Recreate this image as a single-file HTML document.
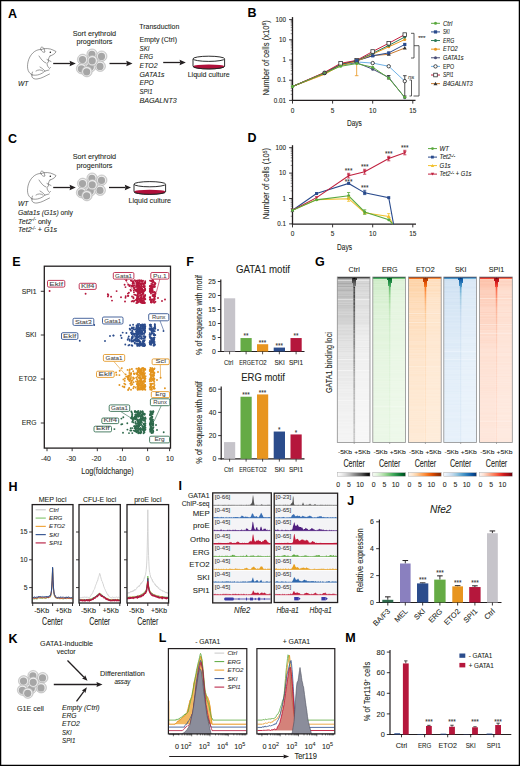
<!DOCTYPE html>
<html><head><meta charset="utf-8"><style>
html,body{margin:0;padding:0;background:#fff;}
svg{display:block;font-family:"Liberation Sans", sans-serif;}
</style></head><body>
<svg width="520" height="766" viewBox="0 0 520 766">
<rect x="0" y="0" width="520" height="766" fill="#fff"/>
<text x="8.00" y="17.50" font-size="12.5" text-anchor="start" fill="#000" font-weight="bold" >A</text>
<path d="M41,49.5 C35,49 29.5,55 28,62 C26.5,69 28.5,73.5 32.5,75 M32.5,72 C30.5,76 32,79.5 37,79 C42,78.5 46,75.5 49.5,74 M32.5,75 C37,76 42,74 45,71 L49,70 M41,49.5 C45,47.8 50,48.5 53,50 L56,51.5 C55.5,53.5 53,55 50,56 M40.5,48.5 C40.5,46.5 43,46.8 44,48.5 L45,52 C43.5,53 42,51.5 41,50 M50,56 C48.5,58 48,60 48.5,62 M47,59.5 L51,61.5 M47.5,62.5 C46.5,64 47,66 49.5,68.5 L50.5,67.5 M39,56 C41,59 43,62 46,63 M40,67 C42,68 44,70 45,71 M36,71 C38,69.5 41,69.5 43,71" fill="none" stroke="#4a4a4a" stroke-width="0.55" stroke-linecap="round" stroke-linejoin="round"/>
<circle cx="50.30" cy="52.20" r="0.75" fill="#111" stroke="none" stroke-width="1" />
<text x="18.00" y="86.00" font-size="7" text-anchor="start" fill="#231f20" stroke="#231f20" stroke-width="0.08" font-style="italic" textLength="10.50" lengthAdjust="spacingAndGlyphs" >WT</text>
<line x1="53.20" y1="63.50" x2="70.10" y2="63.50" stroke="#231f20" stroke-width="1.3" />
<polygon points="75.80,63.50 69.60,66.20 70.20,63.50 69.60,60.80" fill="#231f20"/>
<circle cx="90.50" cy="66.80" r="5.30" fill="#d2d2d2" stroke="#b0b0b0" stroke-width="0.5" />
<circle cx="90.50" cy="66.80" r="4.40" fill="#f2f2f2" stroke="none" stroke-width="1" />
<circle cx="90.30" cy="67.00" r="3.60" fill="#a6a6a6" stroke="none" stroke-width="1" />
<circle cx="92.10" cy="54.20" r="5.30" fill="#d2d2d2" stroke="#b0b0b0" stroke-width="0.5" />
<circle cx="92.10" cy="54.20" r="4.40" fill="#f2f2f2" stroke="none" stroke-width="1" />
<circle cx="91.90" cy="54.40" r="3.60" fill="#a6a6a6" stroke="none" stroke-width="1" />
<circle cx="101.70" cy="56.20" r="5.30" fill="#d2d2d2" stroke="#b0b0b0" stroke-width="0.5" />
<circle cx="101.70" cy="56.20" r="4.40" fill="#f2f2f2" stroke="none" stroke-width="1" />
<circle cx="101.50" cy="56.40" r="3.60" fill="#a6a6a6" stroke="none" stroke-width="1" />
<circle cx="82.70" cy="59.40" r="5.30" fill="#d2d2d2" stroke="#b0b0b0" stroke-width="0.5" />
<circle cx="82.70" cy="59.40" r="4.40" fill="#f2f2f2" stroke="none" stroke-width="1" />
<circle cx="82.50" cy="59.60" r="3.60" fill="#a6a6a6" stroke="none" stroke-width="1" />
<circle cx="100.20" cy="66.20" r="5.30" fill="#d2d2d2" stroke="#b0b0b0" stroke-width="0.5" />
<circle cx="100.20" cy="66.20" r="4.40" fill="#f2f2f2" stroke="none" stroke-width="1" />
<circle cx="100.00" cy="66.40" r="3.60" fill="#a6a6a6" stroke="none" stroke-width="1" />
<circle cx="81.60" cy="68.60" r="5.30" fill="#d2d2d2" stroke="#b0b0b0" stroke-width="0.5" />
<circle cx="81.60" cy="68.60" r="4.40" fill="#f2f2f2" stroke="none" stroke-width="1" />
<circle cx="81.40" cy="68.80" r="3.60" fill="#a6a6a6" stroke="none" stroke-width="1" />
<circle cx="92.40" cy="60.60" r="5.30" fill="#d2d2d2" stroke="#b0b0b0" stroke-width="0.5" />
<circle cx="92.40" cy="60.60" r="4.40" fill="#f2f2f2" stroke="none" stroke-width="1" />
<circle cx="92.20" cy="60.80" r="3.60" fill="#a6a6a6" stroke="none" stroke-width="1" />
<circle cx="86.90" cy="71.60" r="5.30" fill="#d2d2d2" stroke="#b0b0b0" stroke-width="0.5" />
<circle cx="86.90" cy="71.60" r="4.40" fill="#f2f2f2" stroke="none" stroke-width="1" />
<circle cx="86.70" cy="71.80" r="3.60" fill="#a6a6a6" stroke="none" stroke-width="1" />
<text x="94.40" y="35.50" font-size="7.2" text-anchor="middle" fill="#231f20" stroke="#231f20" stroke-width="0.08" textLength="43.50" lengthAdjust="spacingAndGlyphs" >Sort erythroid</text>
<text x="94.40" y="44.00" font-size="7.2" text-anchor="middle" fill="#231f20" stroke="#231f20" stroke-width="0.08" textLength="36.00" lengthAdjust="spacingAndGlyphs" >progenitors</text>
<line x1="109.50" y1="63.50" x2="126.80" y2="63.50" stroke="#231f20" stroke-width="1.3" />
<polygon points="132.50,63.50 126.30,66.20 126.90,63.50 126.30,60.80" fill="#231f20"/>
<text x="139.30" y="28.50" font-size="7.2" text-anchor="start" fill="#231f20" stroke="#231f20" stroke-width="0.08" textLength="40.00" lengthAdjust="spacingAndGlyphs" >Transduction</text>
<text x="139.50" y="41.90" font-size="7.2" text-anchor="start" fill="#231f20" stroke="#231f20" stroke-width="0.08" textLength="37.50" lengthAdjust="spacingAndGlyphs" >Empty (Ctrl)</text>
<text x="139.50" y="50.58" font-size="7.2" text-anchor="start" fill="#231f20" stroke="#231f20" stroke-width="0.08" font-style="italic" textLength="10.00" lengthAdjust="spacingAndGlyphs" >SKI</text>
<text x="139.50" y="59.26" font-size="7.2" text-anchor="start" fill="#231f20" stroke="#231f20" stroke-width="0.08" font-style="italic" textLength="13.50" lengthAdjust="spacingAndGlyphs" >ERG</text>
<text x="139.50" y="67.94" font-size="7.2" text-anchor="start" fill="#231f20" stroke="#231f20" stroke-width="0.08" font-style="italic" textLength="18.00" lengthAdjust="spacingAndGlyphs" >ETO2</text>
<text x="139.50" y="76.62" font-size="7.2" text-anchor="start" fill="#231f20" stroke="#231f20" stroke-width="0.08" font-style="italic" textLength="25.00" lengthAdjust="spacingAndGlyphs" >GATA1s</text>
<text x="139.50" y="85.30" font-size="7.2" text-anchor="start" fill="#231f20" stroke="#231f20" stroke-width="0.08" font-style="italic" textLength="14.20" lengthAdjust="spacingAndGlyphs" >EPO</text>
<text x="139.50" y="93.98" font-size="7.2" text-anchor="start" fill="#231f20" stroke="#231f20" stroke-width="0.08" font-style="italic" textLength="13.00" lengthAdjust="spacingAndGlyphs" >SPI1</text>
<text x="139.50" y="102.66" font-size="7.2" text-anchor="start" fill="#231f20" stroke="#231f20" stroke-width="0.08" font-style="italic" textLength="37.30" lengthAdjust="spacingAndGlyphs" >BAGALNT3</text>
<line x1="163.20" y1="62.50" x2="180.10" y2="62.50" stroke="#231f20" stroke-width="1.3" />
<polygon points="185.80,62.50 179.60,65.20 180.20,62.50 179.60,59.80" fill="#231f20"/>
<path d="M193.0,58.8 L193.0,66.3 A15.8,2.6 0 0 0 224.60000000000002,66.3 L224.60000000000002,58.8 " fill="#fff" stroke="#222" stroke-width="0.95" />
<path d="M193.4,66.3 A15.4,1.9 0 0 1 224.20000000000002,66.3 A15.4,2.6 0 0 1 193.4,66.3 Z" fill="#b0103a" stroke="none" stroke-width="1" />
<path d="M193.0,66.3 A15.8,2.6 0 0 0 224.60000000000002,66.3" fill="none" stroke="#222" stroke-width="0.95" />
<ellipse cx="208.8" cy="58.8" rx="15.8" ry="2.6" fill="#fff" stroke="#222" stroke-width="0.95"/>
<text x="208.70" y="77.40" font-size="7.2" text-anchor="middle" fill="#231f20" stroke="#231f20" stroke-width="0.08" textLength="42.00" lengthAdjust="spacingAndGlyphs" >Liquid culture</text>
<text x="247.50" y="16.60" font-size="12.5" text-anchor="start" fill="#000" font-weight="bold" >B</text>
<line x1="292.50" y1="17.10" x2="292.50" y2="100.40" stroke="#231f20" stroke-width="1.3" />
<line x1="291.85" y1="100.40" x2="415.50" y2="100.40" stroke="#231f20" stroke-width="1.3" />
<line x1="289.10" y1="19.60" x2="292.50" y2="19.60" stroke="#231f20" stroke-width="0.9" />
<text x="286.00" y="21.80" font-size="6.3" text-anchor="end" fill="#231f20" stroke="#231f20" stroke-width="0.08" >100</text>
<line x1="290.70" y1="33.72" x2="292.50" y2="33.72" stroke="#231f20" stroke-width="0.5" />
<line x1="290.70" y1="30.16" x2="292.50" y2="30.16" stroke="#231f20" stroke-width="0.5" />
<line x1="290.70" y1="27.64" x2="292.50" y2="27.64" stroke="#231f20" stroke-width="0.5" />
<line x1="290.70" y1="25.68" x2="292.50" y2="25.68" stroke="#231f20" stroke-width="0.5" />
<line x1="290.70" y1="24.08" x2="292.50" y2="24.08" stroke="#231f20" stroke-width="0.5" />
<line x1="290.70" y1="22.73" x2="292.50" y2="22.73" stroke="#231f20" stroke-width="0.5" />
<line x1="290.70" y1="21.56" x2="292.50" y2="21.56" stroke="#231f20" stroke-width="0.5" />
<line x1="290.70" y1="20.52" x2="292.50" y2="20.52" stroke="#231f20" stroke-width="0.5" />
<line x1="289.10" y1="39.80" x2="292.50" y2="39.80" stroke="#231f20" stroke-width="0.9" />
<text x="286.00" y="42.00" font-size="6.3" text-anchor="end" fill="#231f20" stroke="#231f20" stroke-width="0.08" >10</text>
<line x1="290.70" y1="53.92" x2="292.50" y2="53.92" stroke="#231f20" stroke-width="0.5" />
<line x1="290.70" y1="50.36" x2="292.50" y2="50.36" stroke="#231f20" stroke-width="0.5" />
<line x1="290.70" y1="47.84" x2="292.50" y2="47.84" stroke="#231f20" stroke-width="0.5" />
<line x1="290.70" y1="45.88" x2="292.50" y2="45.88" stroke="#231f20" stroke-width="0.5" />
<line x1="290.70" y1="44.28" x2="292.50" y2="44.28" stroke="#231f20" stroke-width="0.5" />
<line x1="290.70" y1="42.93" x2="292.50" y2="42.93" stroke="#231f20" stroke-width="0.5" />
<line x1="290.70" y1="41.76" x2="292.50" y2="41.76" stroke="#231f20" stroke-width="0.5" />
<line x1="290.70" y1="40.72" x2="292.50" y2="40.72" stroke="#231f20" stroke-width="0.5" />
<line x1="289.10" y1="60.00" x2="292.50" y2="60.00" stroke="#231f20" stroke-width="0.9" />
<text x="286.00" y="62.20" font-size="6.3" text-anchor="end" fill="#231f20" stroke="#231f20" stroke-width="0.08" >1</text>
<line x1="290.70" y1="74.12" x2="292.50" y2="74.12" stroke="#231f20" stroke-width="0.5" />
<line x1="290.70" y1="70.56" x2="292.50" y2="70.56" stroke="#231f20" stroke-width="0.5" />
<line x1="290.70" y1="68.04" x2="292.50" y2="68.04" stroke="#231f20" stroke-width="0.5" />
<line x1="290.70" y1="66.08" x2="292.50" y2="66.08" stroke="#231f20" stroke-width="0.5" />
<line x1="290.70" y1="64.48" x2="292.50" y2="64.48" stroke="#231f20" stroke-width="0.5" />
<line x1="290.70" y1="63.13" x2="292.50" y2="63.13" stroke="#231f20" stroke-width="0.5" />
<line x1="290.70" y1="61.96" x2="292.50" y2="61.96" stroke="#231f20" stroke-width="0.5" />
<line x1="290.70" y1="60.92" x2="292.50" y2="60.92" stroke="#231f20" stroke-width="0.5" />
<line x1="289.10" y1="80.20" x2="292.50" y2="80.20" stroke="#231f20" stroke-width="0.9" />
<text x="286.00" y="82.40" font-size="6.3" text-anchor="end" fill="#231f20" stroke="#231f20" stroke-width="0.08" >0.1</text>
<line x1="290.70" y1="94.32" x2="292.50" y2="94.32" stroke="#231f20" stroke-width="0.5" />
<line x1="290.70" y1="90.76" x2="292.50" y2="90.76" stroke="#231f20" stroke-width="0.5" />
<line x1="290.70" y1="88.24" x2="292.50" y2="88.24" stroke="#231f20" stroke-width="0.5" />
<line x1="290.70" y1="86.28" x2="292.50" y2="86.28" stroke="#231f20" stroke-width="0.5" />
<line x1="290.70" y1="84.68" x2="292.50" y2="84.68" stroke="#231f20" stroke-width="0.5" />
<line x1="290.70" y1="83.33" x2="292.50" y2="83.33" stroke="#231f20" stroke-width="0.5" />
<line x1="290.70" y1="82.16" x2="292.50" y2="82.16" stroke="#231f20" stroke-width="0.5" />
<line x1="290.70" y1="81.12" x2="292.50" y2="81.12" stroke="#231f20" stroke-width="0.5" />
<line x1="289.10" y1="100.40" x2="292.50" y2="100.40" stroke="#231f20" stroke-width="0.9" />
<text x="286.00" y="102.60" font-size="6.3" text-anchor="end" fill="#231f20" stroke="#231f20" stroke-width="0.08" >0.01</text>
<line x1="292.50" y1="100.40" x2="292.50" y2="103.60" stroke="#231f20" stroke-width="0.9" />
<text x="292.50" y="112.60" font-size="6.5" text-anchor="middle" fill="#231f20" stroke="#231f20" stroke-width="0.08" >0</text>
<line x1="332.60" y1="100.40" x2="332.60" y2="103.60" stroke="#231f20" stroke-width="0.9" />
<text x="332.60" y="112.60" font-size="6.5" text-anchor="middle" fill="#231f20" stroke="#231f20" stroke-width="0.08" >5</text>
<line x1="372.70" y1="100.40" x2="372.70" y2="103.60" stroke="#231f20" stroke-width="0.9" />
<text x="372.70" y="112.60" font-size="6.5" text-anchor="middle" fill="#231f20" stroke="#231f20" stroke-width="0.08" >10</text>
<line x1="412.80" y1="100.40" x2="412.80" y2="103.60" stroke="#231f20" stroke-width="0.9" />
<text x="412.80" y="112.60" font-size="6.5" text-anchor="middle" fill="#231f20" stroke="#231f20" stroke-width="0.08" >15</text>
<text x="354.40" y="125.70" font-size="9.2" text-anchor="middle" fill="#231f20" stroke="#231f20" stroke-width="0.08" textLength="15.00" lengthAdjust="spacingAndGlyphs" >Days</text>
<text x="268.70" y="57.90" font-size="9.3" text-anchor="middle" fill="#231f20" stroke="#231f20" stroke-width="0.08" textLength="75.40" lengthAdjust="spacingAndGlyphs" transform="rotate(-90 268.70 57.90)" >Number of cells (x10<tspan dy="-2.8" font-size="5.8">6</tspan><tspan dy="2.8">)</tspan></text>
<line x1="356.66" y1="63.58" x2="356.66" y2="75.70" stroke="#e8961e" stroke-width="0.8" />
<line x1="354.86" y1="75.70" x2="358.46" y2="75.70" stroke="#e8961e" stroke-width="0.8" />
<line x1="404.78" y1="75.70" x2="404.78" y2="96.00" stroke="#222" stroke-width="0.8" />
<line x1="402.98" y1="75.70" x2="406.58" y2="75.70" stroke="#222" stroke-width="0.8" />
<line x1="402.98" y1="96.00" x2="406.58" y2="96.00" stroke="#222" stroke-width="0.8" />
<line x1="386.94" y1="75.50" x2="390.54" y2="75.50" stroke="#222" stroke-width="0.8" />
<line x1="386.94" y1="79.00" x2="390.54" y2="79.00" stroke="#222" stroke-width="0.8" />
<line x1="388.74" y1="75.50" x2="388.74" y2="79.00" stroke="#222" stroke-width="0.8" />
<polyline points="292.50,86.48 324.58,73.48 340.62,64.98 356.66,62.72 372.70,69.16 388.74,77.45 404.78,97.65" fill="none" stroke="#4a4f78" stroke-width="1.0" />
<polyline points="292.50,86.48 324.58,73.09 340.62,64.68 356.66,61.94 372.70,63.08 388.74,66.28 404.78,81.13" fill="none" stroke="#6fb1e6" stroke-width="1.0" />
<polyline points="292.50,86.48 324.58,73.48 340.62,64.68 356.66,60.93 372.70,55.54 388.74,54.34 404.78,48.04" fill="none" stroke="#c97a2e" stroke-width="1.0" />
<polyline points="292.50,86.48 324.58,73.48 340.62,64.68 356.66,60.65 372.70,55.81 388.74,52.89 404.78,44.48" fill="none" stroke="#2a4b8d" stroke-width="1.0" />
<polyline points="292.50,86.48 324.58,74.32 340.62,65.44 356.66,61.12 372.70,54.12 388.74,46.81 404.78,39.57" fill="none" stroke="#e8961e" stroke-width="1.0" />
<polyline points="292.50,86.48 324.58,72.72 340.62,64.39 356.66,60.65 372.70,53.28 388.74,45.41 404.78,37.05" fill="none" stroke="#2d7a58" stroke-width="1.0" />
<polyline points="292.50,86.48 324.58,72.36 340.62,63.33 356.66,60.38 372.70,51.49 388.74,43.26 404.78,34.60" fill="none" stroke="#c3213f" stroke-width="1.0" />
<polyline points="292.50,86.48 324.58,73.09 340.62,66.28 356.66,63.58 372.70,67.21 388.74,78.10 404.78,97.34" fill="none" stroke="#5aa83e" stroke-width="1.0" />
<circle cx="324.58" cy="73.48" r="1.50" fill="#4a4f78" stroke="none" stroke-width="1" />
<circle cx="356.66" cy="62.72" r="1.50" fill="#4a4f78" stroke="none" stroke-width="1" />
<circle cx="372.70" cy="69.16" r="1.50" fill="#4a4f78" stroke="none" stroke-width="1" />
<circle cx="388.74" cy="77.45" r="1.50" fill="#4a4f78" stroke="none" stroke-width="1" />
<circle cx="404.78" cy="97.65" r="1.50" fill="#4a4f78" stroke="none" stroke-width="1" />
<circle cx="356.66" cy="61.94" r="1.70" fill="#fff" stroke="#222" stroke-width="0.8" />
<circle cx="372.70" cy="63.08" r="1.70" fill="#fff" stroke="#222" stroke-width="0.8" />
<circle cx="388.74" cy="66.28" r="1.70" fill="#fff" stroke="#222" stroke-width="0.8" />
<circle cx="404.78" cy="81.13" r="1.70" fill="#fff" stroke="#222" stroke-width="0.8" />
<polygon points="356.66,58.93 358.66,62.43 354.66,62.43" fill="#333"/>
<polygon points="372.70,53.54 374.70,57.04 370.70,57.04" fill="#333"/>
<polygon points="388.74,52.34 390.74,55.84 386.74,55.84" fill="#333"/>
<polygon points="404.78,46.04 406.78,49.54 402.78,49.54" fill="#333"/>
<circle cx="356.66" cy="61.12" r="1.50" fill="#e8961e" stroke="none" stroke-width="1" />
<circle cx="372.70" cy="54.12" r="1.50" fill="#e8961e" stroke="none" stroke-width="1" />
<circle cx="388.74" cy="46.81" r="1.50" fill="#e8961e" stroke="none" stroke-width="1" />
<circle cx="404.78" cy="39.57" r="1.50" fill="#e8961e" stroke="none" stroke-width="1" />
<circle cx="356.66" cy="60.65" r="1.50" fill="#2d7a58" stroke="none" stroke-width="1" />
<circle cx="372.70" cy="53.28" r="1.50" fill="#2d7a58" stroke="none" stroke-width="1" />
<circle cx="388.74" cy="45.41" r="1.50" fill="#2d7a58" stroke="none" stroke-width="1" />
<circle cx="404.78" cy="37.05" r="1.50" fill="#2d7a58" stroke="none" stroke-width="1" />
<rect x="338.82" y="61.53" width="3.60" height="3.60" fill="#fff" stroke="#333" stroke-width="0.8" />
<rect x="354.86" y="58.58" width="3.60" height="3.60" fill="#fff" stroke="#333" stroke-width="0.8" />
<rect x="370.90" y="49.69" width="3.60" height="3.60" fill="#fff" stroke="#333" stroke-width="0.8" />
<rect x="386.94" y="41.46" width="3.60" height="3.60" fill="#fff" stroke="#333" stroke-width="0.8" />
<rect x="402.98" y="32.80" width="3.60" height="3.60" fill="#fff" stroke="#333" stroke-width="0.8" />
<rect x="355.06" y="59.05" width="3.20" height="3.20" fill="#2a4b8d" stroke="none" stroke-width="1" />
<rect x="371.10" y="54.21" width="3.20" height="3.20" fill="#2a4b8d" stroke="none" stroke-width="1" />
<rect x="387.14" y="51.29" width="3.20" height="3.20" fill="#2a4b8d" stroke="none" stroke-width="1" />
<rect x="403.18" y="42.88" width="3.20" height="3.20" fill="#2a4b8d" stroke="none" stroke-width="1" />
<circle cx="292.50" cy="86.48" r="1.50" fill="#5aa83e" stroke="none" stroke-width="1" />
<circle cx="340.62" cy="66.28" r="1.50" fill="#5aa83e" stroke="none" stroke-width="1" />
<circle cx="356.66" cy="63.58" r="1.50" fill="#5aa83e" stroke="none" stroke-width="1" />
<circle cx="372.70" cy="67.21" r="1.50" fill="#5aa83e" stroke="none" stroke-width="1" />
<circle cx="388.74" cy="78.10" r="1.50" fill="#5aa83e" stroke="none" stroke-width="1" />
<circle cx="404.78" cy="97.34" r="1.50" fill="#5aa83e" stroke="none" stroke-width="1" />
<circle cx="292.50" cy="86.48" r="1.50" fill="#5aa83e" stroke="none" stroke-width="1" />
<circle cx="324.58" cy="72.90" r="1.90" fill="#6a6a72" stroke="#222" stroke-width="0.7" />
<circle cx="324.58" cy="72.90" r="1.00" fill="#5aa83e" stroke="none" stroke-width="1" />
<line x1="431.00" y1="23.30" x2="440.00" y2="23.30" stroke="#5aa83e" stroke-width="1.0" />
<circle cx="435.50" cy="23.30" r="1.50" fill="#5aa83e" stroke="none" stroke-width="1" />
<text x="443.00" y="25.60" font-size="6.3" text-anchor="start" fill="#231f20" stroke="#231f20" stroke-width="0.08" font-style="italic" textLength="9.25" lengthAdjust="spacingAndGlyphs" >Ctrl</text>
<line x1="431.00" y1="31.92" x2="440.00" y2="31.92" stroke="#2a4b8d" stroke-width="1.0" />
<rect x="433.90" y="30.32" width="3.20" height="3.20" fill="#2a4b8d" stroke="none" stroke-width="1" />
<text x="443.00" y="34.22" font-size="6.3" text-anchor="start" fill="#231f20" stroke="#231f20" stroke-width="0.08" font-style="italic" textLength="6.75" lengthAdjust="spacingAndGlyphs" >SKI</text>
<line x1="431.00" y1="40.54" x2="440.00" y2="40.54" stroke="#2d7a58" stroke-width="1.0" />
<circle cx="435.50" cy="40.54" r="1.50" fill="#2d7a58" stroke="none" stroke-width="1" />
<text x="443.00" y="42.84" font-size="6.3" text-anchor="start" fill="#231f20" stroke="#231f20" stroke-width="0.08" font-style="italic" textLength="11.25" lengthAdjust="spacingAndGlyphs" >ERG</text>
<line x1="431.00" y1="49.16" x2="440.00" y2="49.16" stroke="#e8961e" stroke-width="1.0" />
<circle cx="435.50" cy="49.16" r="1.50" fill="#e8961e" stroke="none" stroke-width="1" />
<text x="443.00" y="51.46" font-size="6.3" text-anchor="start" fill="#231f20" stroke="#231f20" stroke-width="0.08" font-style="italic" textLength="14.75" lengthAdjust="spacingAndGlyphs" >ETO2</text>
<line x1="431.00" y1="57.78" x2="440.00" y2="57.78" stroke="#4a4f78" stroke-width="1.0" />
<circle cx="435.50" cy="57.78" r="1.50" fill="#4a4f78" stroke="none" stroke-width="1" />
<text x="443.00" y="60.08" font-size="6.3" text-anchor="start" fill="#231f20" stroke="#231f20" stroke-width="0.08" font-style="italic" textLength="20.50" lengthAdjust="spacingAndGlyphs" >GATA1s</text>
<line x1="431.00" y1="66.40" x2="440.00" y2="66.40" stroke="#6fb1e6" stroke-width="1.0" />
<circle cx="435.50" cy="66.40" r="1.70" fill="#fff" stroke="#222" stroke-width="0.8" />
<text x="443.00" y="68.70" font-size="6.3" text-anchor="start" fill="#231f20" stroke="#231f20" stroke-width="0.08" textLength="11.25" lengthAdjust="spacingAndGlyphs" >EPO</text>
<line x1="431.00" y1="75.02" x2="440.00" y2="75.02" stroke="#c3213f" stroke-width="1.0" />
<rect x="433.70" y="73.22" width="3.60" height="3.60" fill="#fff" stroke="#333" stroke-width="0.8" />
<text x="443.00" y="77.32" font-size="6.3" text-anchor="start" fill="#231f20" stroke="#231f20" stroke-width="0.08" font-style="italic" textLength="10.50" lengthAdjust="spacingAndGlyphs" >SPI1</text>
<line x1="431.00" y1="83.64" x2="440.00" y2="83.64" stroke="#c97a2e" stroke-width="1.0" />
<polygon points="435.50,81.64 437.50,85.14 433.50,85.14" fill="#333"/>
<text x="443.00" y="85.94" font-size="6.3" text-anchor="start" fill="#231f20" stroke="#231f20" stroke-width="0.08" font-style="italic" textLength="29.75" lengthAdjust="spacingAndGlyphs" >B4GALNT3</text>
<path d="M411,33.3 L414,33.3 L414,58 L411,58" fill="none" stroke="#333" stroke-width="0.8" />
<path d="M414,45.7 L419,45.7 L419,96 L413.5,96" fill="none" stroke="#333" stroke-width="0.8" />
<path d="M409.5,80 L411.5,80 L411.5,96 L409.5,96" fill="none" stroke="#333" stroke-width="0.8" />
<text x="418.20" y="40.20" font-size="6.2" text-anchor="start" fill="#333" stroke="#333" stroke-width="0.08" >***</text>
<text x="408.00" y="78.60" font-size="6" text-anchor="start" fill="#444" stroke="#444" stroke-width="0.08" font-style="italic" >ns</text>
<text x="8.00" y="142.50" font-size="12.5" text-anchor="start" fill="#000" font-weight="bold" >C</text>
<path d="M41,173.5 C35,173 29.5,179 28,186 C26.5,193 28.5,197.5 32.5,199 M32.5,196 C30.5,200 32,203.5 37,203 C42,202.5 46,199.5 49.5,198 M32.5,199 C37,200 42,198 45,195 L49,194 M41,173.5 C45,171.8 50,172.5 53,174 L56,175.5 C55.5,177.5 53,179 50,180 M40.5,172.5 C40.5,170.5 43,170.8 44,172.5 L45,176 C43.5,177 42,175.5 41,174 M50,180 C48.5,182 48,184 48.5,186 M47,183.5 L51,185.5 M47.5,186.5 C46.5,188 47,190 49.5,192.5 L50.5,191.5 M39,180 C41,183 43,186 46,187 M40,191 C42,192 44,194 45,195 M36,195 C38,193.5 41,193.5 43,195" fill="none" stroke="#4a4a4a" stroke-width="0.55" stroke-linecap="round" stroke-linejoin="round"/>
<circle cx="50.30" cy="176.20" r="0.75" fill="#111" stroke="none" stroke-width="1" />
<line x1="53.20" y1="187.50" x2="70.10" y2="187.50" stroke="#231f20" stroke-width="1.3" />
<polygon points="75.80,187.50 69.60,190.20 70.20,187.50 69.60,184.80" fill="#231f20"/>
<circle cx="90.50" cy="190.80" r="5.30" fill="#d2d2d2" stroke="#b0b0b0" stroke-width="0.5" />
<circle cx="90.50" cy="190.80" r="4.40" fill="#f2f2f2" stroke="none" stroke-width="1" />
<circle cx="90.30" cy="191.00" r="3.60" fill="#a6a6a6" stroke="none" stroke-width="1" />
<circle cx="92.10" cy="178.20" r="5.30" fill="#d2d2d2" stroke="#b0b0b0" stroke-width="0.5" />
<circle cx="92.10" cy="178.20" r="4.40" fill="#f2f2f2" stroke="none" stroke-width="1" />
<circle cx="91.90" cy="178.40" r="3.60" fill="#a6a6a6" stroke="none" stroke-width="1" />
<circle cx="101.70" cy="180.20" r="5.30" fill="#d2d2d2" stroke="#b0b0b0" stroke-width="0.5" />
<circle cx="101.70" cy="180.20" r="4.40" fill="#f2f2f2" stroke="none" stroke-width="1" />
<circle cx="101.50" cy="180.40" r="3.60" fill="#a6a6a6" stroke="none" stroke-width="1" />
<circle cx="82.70" cy="183.40" r="5.30" fill="#d2d2d2" stroke="#b0b0b0" stroke-width="0.5" />
<circle cx="82.70" cy="183.40" r="4.40" fill="#f2f2f2" stroke="none" stroke-width="1" />
<circle cx="82.50" cy="183.60" r="3.60" fill="#a6a6a6" stroke="none" stroke-width="1" />
<circle cx="100.20" cy="190.20" r="5.30" fill="#d2d2d2" stroke="#b0b0b0" stroke-width="0.5" />
<circle cx="100.20" cy="190.20" r="4.40" fill="#f2f2f2" stroke="none" stroke-width="1" />
<circle cx="100.00" cy="190.40" r="3.60" fill="#a6a6a6" stroke="none" stroke-width="1" />
<circle cx="81.60" cy="192.60" r="5.30" fill="#d2d2d2" stroke="#b0b0b0" stroke-width="0.5" />
<circle cx="81.60" cy="192.60" r="4.40" fill="#f2f2f2" stroke="none" stroke-width="1" />
<circle cx="81.40" cy="192.80" r="3.60" fill="#a6a6a6" stroke="none" stroke-width="1" />
<circle cx="92.40" cy="184.60" r="5.30" fill="#d2d2d2" stroke="#b0b0b0" stroke-width="0.5" />
<circle cx="92.40" cy="184.60" r="4.40" fill="#f2f2f2" stroke="none" stroke-width="1" />
<circle cx="92.20" cy="184.80" r="3.60" fill="#a6a6a6" stroke="none" stroke-width="1" />
<circle cx="86.90" cy="195.60" r="5.30" fill="#d2d2d2" stroke="#b0b0b0" stroke-width="0.5" />
<circle cx="86.90" cy="195.60" r="4.40" fill="#f2f2f2" stroke="none" stroke-width="1" />
<circle cx="86.70" cy="195.80" r="3.60" fill="#a6a6a6" stroke="none" stroke-width="1" />
<text x="94.40" y="159.30" font-size="7.2" text-anchor="middle" fill="#231f20" stroke="#231f20" stroke-width="0.08" textLength="43.50" lengthAdjust="spacingAndGlyphs" >Sort erythroid</text>
<text x="94.40" y="167.80" font-size="7.2" text-anchor="middle" fill="#231f20" stroke="#231f20" stroke-width="0.08" textLength="36.00" lengthAdjust="spacingAndGlyphs" >progenitors</text>
<line x1="109.00" y1="187.50" x2="125.30" y2="187.50" stroke="#231f20" stroke-width="1.3" />
<polygon points="131.00,187.50 124.80,190.20 125.40,187.50 124.80,184.80" fill="#231f20"/>
<path d="M134.0,184.2 L134.0,191.7 A15.8,2.6 0 0 0 165.60000000000002,191.7 L165.60000000000002,184.2 " fill="#fff" stroke="#222" stroke-width="0.95" />
<path d="M134.4,191.7 A15.4,1.9 0 0 1 165.20000000000002,191.7 A15.4,2.6 0 0 1 134.4,191.7 Z" fill="#b0103a" stroke="none" stroke-width="1" />
<path d="M134.0,191.7 A15.8,2.6 0 0 0 165.60000000000002,191.7" fill="none" stroke="#222" stroke-width="0.95" />
<ellipse cx="149.8" cy="184.2" rx="15.8" ry="2.6" fill="#fff" stroke="#222" stroke-width="0.95"/>
<text x="149.80" y="203.30" font-size="7.2" text-anchor="middle" fill="#231f20" stroke="#231f20" stroke-width="0.08" textLength="42.50" lengthAdjust="spacingAndGlyphs" >Liquid culture</text>
<text x="18.00" y="205.60" font-size="7.2" text-anchor="start" fill="#231f20" stroke="#231f20" stroke-width="0.08" font-style="italic" textLength="10.50" lengthAdjust="spacingAndGlyphs" >WT</text>
<text x="18.00" y="214.60" font-size="7.2" text-anchor="start" fill="#231f20" stroke="#231f20" stroke-width="0.08" textLength="55.00" lengthAdjust="spacingAndGlyphs" ><tspan font-style="italic">Gata1s (G1s)</tspan> only</text>
<text x="18.00" y="223.80" font-size="7.2" text-anchor="start" fill="#231f20" stroke="#231f20" stroke-width="0.08" textLength="33.00" lengthAdjust="spacingAndGlyphs" ><tspan font-style="italic">Tet2<tspan dy="-2.4" font-size="4.5">-/-</tspan></tspan><tspan dy="2.4"> only</tspan></text>
<text x="18.00" y="232.20" font-size="7.2" text-anchor="start" fill="#231f20" stroke="#231f20" stroke-width="0.08" textLength="39.00" lengthAdjust="spacingAndGlyphs" ><tspan font-style="italic">Tet2<tspan dy="-2.4" font-size="4.5">-/-</tspan></tspan><tspan dy="2.4"> + </tspan><tspan font-style="italic">G1s</tspan></text>
<text x="247.50" y="141.50" font-size="12.5" text-anchor="start" fill="#000" font-weight="bold" >D</text>
<line x1="292.50" y1="145.20" x2="292.50" y2="224.20" stroke="#231f20" stroke-width="1.3" />
<line x1="291.85" y1="224.20" x2="416.00" y2="224.20" stroke="#231f20" stroke-width="1.3" />
<line x1="289.10" y1="147.70" x2="292.50" y2="147.70" stroke="#231f20" stroke-width="0.9" />
<text x="286.00" y="149.90" font-size="6.3" text-anchor="end" fill="#231f20" stroke="#231f20" stroke-width="0.08" >100</text>
<line x1="290.70" y1="165.45" x2="292.50" y2="165.45" stroke="#231f20" stroke-width="0.5" />
<line x1="290.70" y1="160.98" x2="292.50" y2="160.98" stroke="#231f20" stroke-width="0.5" />
<line x1="290.70" y1="157.81" x2="292.50" y2="157.81" stroke="#231f20" stroke-width="0.5" />
<line x1="290.70" y1="155.35" x2="292.50" y2="155.35" stroke="#231f20" stroke-width="0.5" />
<line x1="290.70" y1="153.33" x2="292.50" y2="153.33" stroke="#231f20" stroke-width="0.5" />
<line x1="290.70" y1="151.63" x2="292.50" y2="151.63" stroke="#231f20" stroke-width="0.5" />
<line x1="290.70" y1="150.16" x2="292.50" y2="150.16" stroke="#231f20" stroke-width="0.5" />
<line x1="290.70" y1="148.86" x2="292.50" y2="148.86" stroke="#231f20" stroke-width="0.5" />
<line x1="289.10" y1="173.10" x2="292.50" y2="173.10" stroke="#231f20" stroke-width="0.9" />
<text x="286.00" y="175.30" font-size="6.3" text-anchor="end" fill="#231f20" stroke="#231f20" stroke-width="0.08" >10</text>
<line x1="290.70" y1="190.85" x2="292.50" y2="190.85" stroke="#231f20" stroke-width="0.5" />
<line x1="290.70" y1="186.38" x2="292.50" y2="186.38" stroke="#231f20" stroke-width="0.5" />
<line x1="290.70" y1="183.21" x2="292.50" y2="183.21" stroke="#231f20" stroke-width="0.5" />
<line x1="290.70" y1="180.75" x2="292.50" y2="180.75" stroke="#231f20" stroke-width="0.5" />
<line x1="290.70" y1="178.73" x2="292.50" y2="178.73" stroke="#231f20" stroke-width="0.5" />
<line x1="290.70" y1="177.03" x2="292.50" y2="177.03" stroke="#231f20" stroke-width="0.5" />
<line x1="290.70" y1="175.56" x2="292.50" y2="175.56" stroke="#231f20" stroke-width="0.5" />
<line x1="290.70" y1="174.26" x2="292.50" y2="174.26" stroke="#231f20" stroke-width="0.5" />
<line x1="289.10" y1="198.50" x2="292.50" y2="198.50" stroke="#231f20" stroke-width="0.9" />
<text x="286.00" y="200.70" font-size="6.3" text-anchor="end" fill="#231f20" stroke="#231f20" stroke-width="0.08" >1</text>
<line x1="290.70" y1="216.25" x2="292.50" y2="216.25" stroke="#231f20" stroke-width="0.5" />
<line x1="290.70" y1="211.78" x2="292.50" y2="211.78" stroke="#231f20" stroke-width="0.5" />
<line x1="290.70" y1="208.61" x2="292.50" y2="208.61" stroke="#231f20" stroke-width="0.5" />
<line x1="290.70" y1="206.15" x2="292.50" y2="206.15" stroke="#231f20" stroke-width="0.5" />
<line x1="290.70" y1="204.13" x2="292.50" y2="204.13" stroke="#231f20" stroke-width="0.5" />
<line x1="290.70" y1="202.43" x2="292.50" y2="202.43" stroke="#231f20" stroke-width="0.5" />
<line x1="290.70" y1="200.96" x2="292.50" y2="200.96" stroke="#231f20" stroke-width="0.5" />
<line x1="290.70" y1="199.66" x2="292.50" y2="199.66" stroke="#231f20" stroke-width="0.5" />
<line x1="289.10" y1="223.90" x2="292.50" y2="223.90" stroke="#231f20" stroke-width="0.9" />
<text x="286.00" y="226.10" font-size="6.3" text-anchor="end" fill="#231f20" stroke="#231f20" stroke-width="0.08" >0.1</text>
<line x1="292.50" y1="224.20" x2="292.50" y2="227.40" stroke="#231f20" stroke-width="0.9" />
<text x="292.50" y="236.40" font-size="6.5" text-anchor="middle" fill="#231f20" stroke="#231f20" stroke-width="0.08" >0</text>
<line x1="332.60" y1="224.20" x2="332.60" y2="227.40" stroke="#231f20" stroke-width="0.9" />
<text x="332.60" y="236.40" font-size="6.5" text-anchor="middle" fill="#231f20" stroke="#231f20" stroke-width="0.08" >5</text>
<line x1="372.70" y1="224.20" x2="372.70" y2="227.40" stroke="#231f20" stroke-width="0.9" />
<text x="372.70" y="236.40" font-size="6.5" text-anchor="middle" fill="#231f20" stroke="#231f20" stroke-width="0.08" >10</text>
<line x1="412.80" y1="224.20" x2="412.80" y2="227.40" stroke="#231f20" stroke-width="0.9" />
<text x="412.80" y="236.40" font-size="6.5" text-anchor="middle" fill="#231f20" stroke="#231f20" stroke-width="0.08" >15</text>
<text x="344.60" y="249.80" font-size="9.2" text-anchor="middle" fill="#231f20" stroke="#231f20" stroke-width="0.08" textLength="15.00" lengthAdjust="spacingAndGlyphs" >Days</text>
<text x="269.40" y="183.70" font-size="9.3" text-anchor="middle" fill="#231f20" stroke="#231f20" stroke-width="0.08" textLength="71.30" lengthAdjust="spacingAndGlyphs" transform="rotate(-90 269.40 183.70)" >Number of cells (10<tspan dy="-2.8" font-size="5.8">5</tspan><tspan dy="2.8">)</tspan></text>
<polyline points="292.50,210.28 316.56,199.62 348.64,198.70 364.68,212.74 388.74,216.45 392.75,224.10" fill="none" stroke="#f2c12e" stroke-width="1.1" />
<polygon points="292.50,208.48 294.40,211.68 290.60,211.68" fill="#f2c12e"/>
<polygon points="316.56,197.82 318.46,201.02 314.66,201.02" fill="#f2c12e"/>
<polygon points="348.64,196.90 350.54,200.10 346.74,200.10" fill="#f2c12e"/>
<polygon points="364.68,210.94 366.58,214.14 362.78,214.14" fill="#f2c12e"/>
<polygon points="388.74,214.65 390.64,217.85 386.84,217.85" fill="#f2c12e"/>
<polyline points="292.50,210.28 316.56,193.52 348.64,183.41 364.68,192.85 388.74,197.65 393.55,224.10" fill="none" stroke="#2a4b8d" stroke-width="1.1" />
<rect x="291.00" y="208.78" width="3.00" height="3.00" fill="#2a4b8d" stroke="none" stroke-width="1" />
<rect x="315.06" y="192.02" width="3.00" height="3.00" fill="#2a4b8d" stroke="none" stroke-width="1" />
<rect x="347.14" y="181.91" width="3.00" height="3.00" fill="#2a4b8d" stroke="none" stroke-width="1" />
<rect x="363.18" y="191.35" width="3.00" height="3.00" fill="#2a4b8d" stroke="none" stroke-width="1" />
<rect x="387.24" y="196.15" width="3.00" height="3.00" fill="#2a4b8d" stroke="none" stroke-width="1" />
<polyline points="292.50,210.28 316.56,197.65 348.64,175.76 364.68,171.76 388.74,158.57 404.78,152.65" fill="none" stroke="#c0213f" stroke-width="1.1" />
<polygon points="290.70,208.78 294.30,208.78 292.50,211.88" fill="#c0213f"/>
<polygon points="314.76,196.15 318.36,196.15 316.56,199.25" fill="#c0213f"/>
<polygon points="346.84,174.26 350.44,174.26 348.64,177.36" fill="#c0213f"/>
<polygon points="362.88,170.26 366.48,170.26 364.68,173.36" fill="#c0213f"/>
<polygon points="386.94,157.07 390.54,157.07 388.74,160.17" fill="#c0213f"/>
<polygon points="402.98,151.15 406.58,151.15 404.78,154.25" fill="#c0213f"/>
<polyline points="292.50,210.28 316.56,199.86 348.64,195.81 364.68,211.98 388.74,219.63 392.75,224.10" fill="none" stroke="#5aa83e" stroke-width="1.1" />
<circle cx="292.50" cy="210.28" r="1.50" fill="#5aa83e" stroke="none" stroke-width="1" />
<circle cx="316.56" cy="199.86" r="1.50" fill="#5aa83e" stroke="none" stroke-width="1" />
<circle cx="348.64" cy="195.81" r="1.50" fill="#5aa83e" stroke="none" stroke-width="1" />
<circle cx="364.68" cy="211.98" r="1.50" fill="#5aa83e" stroke="none" stroke-width="1" />
<circle cx="388.74" cy="219.63" r="1.50" fill="#5aa83e" stroke="none" stroke-width="1" />
<line x1="348.64" y1="173.30" x2="348.64" y2="178.00" stroke="#c0213f" stroke-width="0.8" />
<line x1="347.04" y1="173.30" x2="350.24" y2="173.30" stroke="#c0213f" stroke-width="0.8" />
<line x1="347.04" y1="178.00" x2="350.24" y2="178.00" stroke="#c0213f" stroke-width="0.8" />
<line x1="364.68" y1="169.30" x2="364.68" y2="174.20" stroke="#c0213f" stroke-width="0.8" />
<line x1="363.08" y1="169.30" x2="366.28" y2="169.30" stroke="#c0213f" stroke-width="0.8" />
<line x1="363.08" y1="174.20" x2="366.28" y2="174.20" stroke="#c0213f" stroke-width="0.8" />
<line x1="388.74" y1="156.30" x2="388.74" y2="160.80" stroke="#c0213f" stroke-width="0.8" />
<line x1="387.14" y1="156.30" x2="390.34" y2="156.30" stroke="#c0213f" stroke-width="0.8" />
<line x1="387.14" y1="160.80" x2="390.34" y2="160.80" stroke="#c0213f" stroke-width="0.8" />
<line x1="404.78" y1="150.30" x2="404.78" y2="154.80" stroke="#c0213f" stroke-width="0.8" />
<line x1="403.18" y1="150.30" x2="406.38" y2="150.30" stroke="#c0213f" stroke-width="0.8" />
<line x1="403.18" y1="154.80" x2="406.38" y2="154.80" stroke="#c0213f" stroke-width="0.8" />
<line x1="364.68" y1="190.30" x2="364.68" y2="194.60" stroke="#2a4b8d" stroke-width="0.8" />
<line x1="363.08" y1="190.30" x2="366.28" y2="190.30" stroke="#2a4b8d" stroke-width="0.8" />
<line x1="363.08" y1="194.60" x2="366.28" y2="194.60" stroke="#2a4b8d" stroke-width="0.8" />
<line x1="348.64" y1="192.50" x2="348.64" y2="198.00" stroke="#5aa83e" stroke-width="0.8" />
<line x1="347.04" y1="192.50" x2="350.24" y2="192.50" stroke="#5aa83e" stroke-width="0.8" />
<line x1="347.04" y1="198.00" x2="350.24" y2="198.00" stroke="#5aa83e" stroke-width="0.8" />
<line x1="348.64" y1="197.00" x2="348.64" y2="201.30" stroke="#f2c12e" stroke-width="0.8" />
<line x1="347.04" y1="197.00" x2="350.24" y2="197.00" stroke="#f2c12e" stroke-width="0.8" />
<line x1="347.04" y1="201.30" x2="350.24" y2="201.30" stroke="#f2c12e" stroke-width="0.8" />
<line x1="364.68" y1="209.80" x2="364.68" y2="214.30" stroke="#5aa83e" stroke-width="0.8" />
<line x1="363.08" y1="209.80" x2="366.28" y2="209.80" stroke="#5aa83e" stroke-width="0.8" />
<line x1="363.08" y1="214.30" x2="366.28" y2="214.30" stroke="#5aa83e" stroke-width="0.8" />
<line x1="388.74" y1="213.60" x2="388.74" y2="217.50" stroke="#f2c12e" stroke-width="0.8" />
<line x1="387.14" y1="213.60" x2="390.34" y2="213.60" stroke="#f2c12e" stroke-width="0.8" />
<line x1="387.14" y1="217.50" x2="390.34" y2="217.50" stroke="#f2c12e" stroke-width="0.8" />
<text x="348.64" y="173.40" font-size="6.5" text-anchor="middle" fill="#333" stroke="#333" stroke-width="0.08" >***</text>
<text x="364.68" y="169.20" font-size="6.5" text-anchor="middle" fill="#333" stroke="#333" stroke-width="0.08" >***</text>
<text x="388.74" y="155.90" font-size="6.5" text-anchor="middle" fill="#333" stroke="#333" stroke-width="0.08" >***</text>
<text x="404.78" y="149.60" font-size="6.5" text-anchor="middle" fill="#333" stroke="#333" stroke-width="0.08" >***</text>
<text x="348.64" y="183.60" font-size="6.5" text-anchor="middle" fill="#333" stroke="#333" stroke-width="0.08" >***</text>
<text x="364.68" y="190.20" font-size="6.5" text-anchor="middle" fill="#333" stroke="#333" stroke-width="0.08" >***</text>
<line x1="428.00" y1="148.60" x2="437.00" y2="148.60" stroke="#5aa83e" stroke-width="1.0" />
<circle cx="432.50" cy="148.60" r="1.40" fill="#5aa83e" stroke="none" stroke-width="1" />
<text x="439.50" y="150.90" font-size="6.5" text-anchor="start" fill="#231f20" stroke="#231f20" stroke-width="0.08" font-style="italic" textLength="9.50" lengthAdjust="spacingAndGlyphs" >WT</text>
<line x1="428.00" y1="157.10" x2="437.00" y2="157.10" stroke="#2a4b8d" stroke-width="1.0" />
<rect x="431.00" y="155.70" width="2.80" height="2.80" fill="#2a4b8d" stroke="none" stroke-width="1" />
<text x="439.50" y="159.40" font-size="6.5" text-anchor="start" fill="#231f20" stroke="#231f20" stroke-width="0.08" font-style="italic" textLength="15.50" lengthAdjust="spacingAndGlyphs" >Tet2<tspan dy="-2.2" font-size="4.3">-/-</tspan></text>
<line x1="428.00" y1="165.60" x2="437.00" y2="165.60" stroke="#f2c12e" stroke-width="1.0" />
<polygon points="432.5,164.00 434.2,166.90 430.8,166.90" fill="#f2c12e"/>
<text x="439.50" y="167.90" font-size="6.5" text-anchor="start" fill="#231f20" stroke="#231f20" stroke-width="0.08" font-style="italic" textLength="11.00" lengthAdjust="spacingAndGlyphs" >G1s</text>
<line x1="428.00" y1="174.10" x2="437.00" y2="174.10" stroke="#c0213f" stroke-width="1.0" />
<polygon points="430.8,172.70 434.2,172.70 432.5,175.60" fill="#c0213f"/>
<text x="439.50" y="176.40" font-size="6.5" text-anchor="start" fill="#231f20" stroke="#231f20" stroke-width="0.08" font-style="italic" textLength="31.80" lengthAdjust="spacingAndGlyphs" >Tet2<tspan dy="-2.2" font-size="4.3">-/-</tspan><tspan dy="2.2" font-style="normal"> + </tspan>G1s</text>
<text x="12.30" y="266.20" font-size="12.5" text-anchor="start" fill="#000" font-weight="bold" >E</text>
<rect x="44.30" y="266.20" width="126.20" height="181.90" fill="none" stroke="#231f20" stroke-width="1.3" />
<line x1="47.00" y1="448.10" x2="47.00" y2="451.20" stroke="#231f20" stroke-width="0.9" />
<text x="46.00" y="460.80" font-size="6.8" text-anchor="middle" fill="#231f20" stroke="#231f20" stroke-width="0.08" >-40</text>
<line x1="72.15" y1="448.10" x2="72.15" y2="451.20" stroke="#231f20" stroke-width="0.9" />
<text x="71.15" y="460.80" font-size="6.8" text-anchor="middle" fill="#231f20" stroke="#231f20" stroke-width="0.08" >-30</text>
<line x1="97.30" y1="448.10" x2="97.30" y2="451.20" stroke="#231f20" stroke-width="0.9" />
<text x="96.30" y="460.80" font-size="6.8" text-anchor="middle" fill="#231f20" stroke="#231f20" stroke-width="0.08" >-20</text>
<line x1="122.45" y1="448.10" x2="122.45" y2="451.20" stroke="#231f20" stroke-width="0.9" />
<text x="121.45" y="460.80" font-size="6.8" text-anchor="middle" fill="#231f20" stroke="#231f20" stroke-width="0.08" >-10</text>
<line x1="147.60" y1="448.10" x2="147.60" y2="451.20" stroke="#231f20" stroke-width="0.9" />
<text x="147.60" y="460.80" font-size="6.8" text-anchor="middle" fill="#231f20" stroke="#231f20" stroke-width="0.08" >0</text>
<line x1="169.60" y1="448.10" x2="169.60" y2="451.20" stroke="#231f20" stroke-width="0.9" />
<text x="169.90" y="460.80" font-size="6.8" text-anchor="middle" fill="#231f20" stroke="#231f20" stroke-width="0.08" >10</text>
<text x="107.50" y="474.20" font-size="9.6" text-anchor="middle" fill="#231f20" stroke="#231f20" stroke-width="0.08" textLength="52.50" lengthAdjust="spacingAndGlyphs" >Log(foldchange)</text>
<line x1="40.80" y1="291.30" x2="44.30" y2="291.30" stroke="#231f20" stroke-width="0.9" />
<text x="36.50" y="293.70" font-size="6.8" text-anchor="end" fill="#231f20" stroke="#231f20" stroke-width="0.08" >SPI1</text>
<line x1="40.80" y1="335.00" x2="44.30" y2="335.00" stroke="#231f20" stroke-width="0.9" />
<text x="36.50" y="337.40" font-size="6.8" text-anchor="end" fill="#231f20" stroke="#231f20" stroke-width="0.08" >SKI</text>
<line x1="40.80" y1="379.00" x2="44.30" y2="379.00" stroke="#231f20" stroke-width="0.9" />
<text x="36.50" y="381.40" font-size="6.8" text-anchor="end" fill="#231f20" stroke="#231f20" stroke-width="0.08" >ETO2</text>
<line x1="40.80" y1="423.00" x2="44.30" y2="423.00" stroke="#231f20" stroke-width="0.9" />
<text x="36.50" y="425.40" font-size="6.8" text-anchor="end" fill="#231f20" stroke="#231f20" stroke-width="0.08" >ERG</text>
<g fill="#b5173c"><circle cx="139.6" cy="283.6" r="0.95"/><circle cx="142.4" cy="281.8" r="0.95"/><circle cx="141.4" cy="288.5" r="0.95"/><circle cx="137.3" cy="291.8" r="0.95"/><circle cx="137.1" cy="290.1" r="0.95"/><circle cx="137.4" cy="282.2" r="0.95"/><circle cx="140.5" cy="299.2" r="0.95"/><circle cx="137.9" cy="285.3" r="0.95"/><circle cx="142.2" cy="302.0" r="0.95"/><circle cx="141.8" cy="289.3" r="0.95"/><circle cx="145.2" cy="281.2" r="0.95"/><circle cx="144.2" cy="286.8" r="0.95"/><circle cx="138.0" cy="282.8" r="0.95"/><circle cx="139.5" cy="299.0" r="0.95"/><circle cx="138.4" cy="293.5" r="0.95"/><circle cx="142.3" cy="288.7" r="0.95"/><circle cx="141.5" cy="281.6" r="0.95"/><circle cx="137.3" cy="284.9" r="0.95"/><circle cx="142.7" cy="290.0" r="0.95"/><circle cx="139.5" cy="293.6" r="0.95"/><circle cx="140.7" cy="287.0" r="0.95"/><circle cx="143.6" cy="296.2" r="0.95"/><circle cx="138.9" cy="293.4" r="0.95"/><circle cx="141.3" cy="300.3" r="0.95"/><circle cx="143.1" cy="286.8" r="0.95"/><circle cx="145.2" cy="282.8" r="0.95"/><circle cx="140.4" cy="297.6" r="0.95"/><circle cx="138.1" cy="291.4" r="0.95"/><circle cx="137.1" cy="295.5" r="0.95"/><circle cx="143.4" cy="293.3" r="0.95"/><circle cx="144.3" cy="287.3" r="0.95"/><circle cx="142.8" cy="293.8" r="0.95"/><circle cx="141.8" cy="290.6" r="0.95"/><circle cx="144.0" cy="301.9" r="0.95"/><circle cx="140.9" cy="295.4" r="0.95"/><circle cx="137.3" cy="296.3" r="0.95"/><circle cx="142.4" cy="303.0" r="0.95"/><circle cx="143.9" cy="286.7" r="0.95"/><circle cx="140.1" cy="295.5" r="0.95"/><circle cx="137.0" cy="290.8" r="0.95"/><circle cx="138.2" cy="282.8" r="0.95"/><circle cx="137.3" cy="297.8" r="0.95"/><circle cx="137.9" cy="285.8" r="0.95"/><circle cx="140.2" cy="300.2" r="0.95"/><circle cx="137.5" cy="290.5" r="0.95"/><circle cx="141.5" cy="300.5" r="0.95"/><circle cx="143.8" cy="300.1" r="0.95"/><circle cx="139.2" cy="289.7" r="0.95"/><circle cx="139.9" cy="300.5" r="0.95"/><circle cx="145.0" cy="283.6" r="0.95"/><circle cx="138.3" cy="285.5" r="0.95"/><circle cx="138.8" cy="291.3" r="0.95"/><circle cx="141.9" cy="286.2" r="0.95"/><circle cx="136.8" cy="289.8" r="0.95"/><circle cx="140.0" cy="293.2" r="0.95"/><circle cx="145.0" cy="296.1" r="0.95"/><circle cx="141.2" cy="294.4" r="0.95"/><circle cx="142.6" cy="281.3" r="0.95"/><circle cx="144.5" cy="298.1" r="0.95"/><circle cx="144.3" cy="298.5" r="0.95"/><circle cx="140.2" cy="289.3" r="0.95"/><circle cx="137.7" cy="294.8" r="0.95"/><circle cx="137.3" cy="281.7" r="0.95"/><circle cx="138.6" cy="283.8" r="0.95"/><circle cx="139.7" cy="281.3" r="0.95"/><circle cx="136.8" cy="283.6" r="0.95"/><circle cx="137.7" cy="288.5" r="0.95"/><circle cx="137.0" cy="300.3" r="0.95"/><circle cx="142.1" cy="283.5" r="0.95"/><circle cx="139.0" cy="288.1" r="0.95"/><circle cx="139.9" cy="282.9" r="0.95"/><circle cx="144.1" cy="303.0" r="0.95"/><circle cx="140.8" cy="291.3" r="0.95"/><circle cx="137.5" cy="282.5" r="0.95"/><circle cx="139.7" cy="286.2" r="0.95"/><circle cx="143.9" cy="283.8" r="0.95"/><circle cx="137.0" cy="302.1" r="0.95"/><circle cx="141.3" cy="283.5" r="0.95"/><circle cx="141.5" cy="280.7" r="0.95"/><circle cx="141.3" cy="302.7" r="0.95"/><circle cx="144.2" cy="296.2" r="0.95"/><circle cx="139.0" cy="288.6" r="0.95"/><circle cx="138.2" cy="297.9" r="0.95"/><circle cx="141.4" cy="298.1" r="0.95"/><circle cx="139.6" cy="285.3" r="0.95"/><circle cx="143.8" cy="302.9" r="0.95"/><circle cx="144.1" cy="298.7" r="0.95"/><circle cx="143.8" cy="297.2" r="0.95"/><circle cx="138.7" cy="292.1" r="0.95"/><circle cx="139.9" cy="280.8" r="0.95"/><circle cx="137.0" cy="286.6" r="0.95"/><circle cx="139.0" cy="296.1" r="0.95"/><circle cx="145.0" cy="290.4" r="0.95"/><circle cx="144.9" cy="302.9" r="0.95"/><circle cx="145.0" cy="288.5" r="0.95"/><circle cx="138.7" cy="285.3" r="0.95"/><circle cx="138.5" cy="284.8" r="0.95"/><circle cx="142.2" cy="300.9" r="0.95"/><circle cx="144.0" cy="291.2" r="0.95"/><circle cx="142.4" cy="298.6" r="0.95"/><circle cx="137.5" cy="295.4" r="0.95"/><circle cx="144.6" cy="298.2" r="0.95"/><circle cx="143.3" cy="291.1" r="0.95"/><circle cx="138.3" cy="298.3" r="0.95"/><circle cx="139.7" cy="298.6" r="0.95"/><circle cx="145.2" cy="289.2" r="0.95"/><circle cx="140.3" cy="302.0" r="0.95"/><circle cx="143.0" cy="284.0" r="0.95"/><circle cx="137.9" cy="283.6" r="0.95"/><circle cx="144.6" cy="298.7" r="0.95"/><circle cx="138.1" cy="299.2" r="0.95"/><circle cx="145.2" cy="295.3" r="0.95"/><circle cx="139.8" cy="292.8" r="0.95"/><circle cx="137.9" cy="280.4" r="0.95"/><circle cx="145.1" cy="295.1" r="0.95"/><circle cx="141.3" cy="301.7" r="0.95"/><circle cx="140.5" cy="300.2" r="0.95"/><circle cx="143.9" cy="285.0" r="0.95"/><circle cx="139.0" cy="286.9" r="0.95"/><circle cx="138.9" cy="293.6" r="0.95"/><circle cx="139.0" cy="289.8" r="0.95"/><circle cx="137.9" cy="301.1" r="0.95"/><circle cx="139.8" cy="290.7" r="0.95"/><circle cx="141.8" cy="301.0" r="0.95"/><circle cx="140.4" cy="301.3" r="0.95"/><circle cx="141.1" cy="292.4" r="0.95"/><circle cx="141.3" cy="280.5" r="0.95"/><circle cx="140.6" cy="284.3" r="0.95"/><circle cx="136.8" cy="298.6" r="0.95"/><circle cx="138.3" cy="291.0" r="0.95"/><circle cx="143.0" cy="293.0" r="0.95"/><circle cx="139.6" cy="292.1" r="0.95"/><circle cx="141.6" cy="298.2" r="0.95"/><circle cx="137.7" cy="293.0" r="0.95"/><circle cx="138.9" cy="286.5" r="0.95"/><circle cx="143.4" cy="291.8" r="0.95"/><circle cx="141.6" cy="297.7" r="0.95"/><circle cx="144.6" cy="290.3" r="0.95"/><circle cx="142.1" cy="291.8" r="0.95"/><circle cx="141.2" cy="296.1" r="0.95"/><circle cx="140.7" cy="292.4" r="0.95"/><circle cx="140.9" cy="301.8" r="0.95"/><circle cx="142.8" cy="300.3" r="0.95"/><circle cx="144.9" cy="286.1" r="0.95"/><circle cx="141.6" cy="301.9" r="0.95"/><circle cx="144.0" cy="283.3" r="0.95"/><circle cx="137.8" cy="290.3" r="0.95"/><circle cx="137.4" cy="285.7" r="0.95"/><circle cx="137.4" cy="295.6" r="0.95"/><circle cx="143.5" cy="300.8" r="0.95"/><circle cx="138.1" cy="296.6" r="0.95"/><circle cx="142.5" cy="283.4" r="0.95"/><circle cx="144.4" cy="302.5" r="0.95"/><circle cx="138.7" cy="302.1" r="0.95"/><circle cx="140.2" cy="291.4" r="0.95"/><circle cx="145.3" cy="299.3" r="0.95"/><circle cx="138.2" cy="290.1" r="0.95"/><circle cx="141.2" cy="287.9" r="0.95"/><circle cx="138.5" cy="287.5" r="0.95"/><circle cx="143.0" cy="280.6" r="0.95"/><circle cx="141.6" cy="290.3" r="0.95"/><circle cx="137.0" cy="287.8" r="0.95"/><circle cx="142.2" cy="291.9" r="0.95"/><circle cx="137.4" cy="302.9" r="0.95"/><circle cx="143.6" cy="302.5" r="0.95"/><circle cx="137.7" cy="286.2" r="0.95"/><circle cx="137.1" cy="298.1" r="0.95"/><circle cx="139.1" cy="283.1" r="0.95"/><circle cx="140.4" cy="301.2" r="0.95"/><circle cx="143.8" cy="286.1" r="0.95"/><circle cx="138.1" cy="301.3" r="0.95"/><circle cx="141.7" cy="296.3" r="0.95"/><circle cx="137.6" cy="281.4" r="0.95"/><circle cx="142.7" cy="289.9" r="0.95"/><circle cx="137.4" cy="301.8" r="0.95"/><circle cx="142.3" cy="298.6" r="0.95"/><circle cx="137.5" cy="299.9" r="0.95"/><circle cx="137.4" cy="300.0" r="0.95"/><circle cx="140.7" cy="287.9" r="0.95"/><circle cx="141.6" cy="301.5" r="0.95"/><circle cx="139.1" cy="283.1" r="0.95"/><circle cx="141.3" cy="285.6" r="0.95"/><circle cx="137.7" cy="283.8" r="0.95"/><circle cx="137.2" cy="284.8" r="0.95"/><circle cx="139.5" cy="287.1" r="0.95"/><circle cx="143.3" cy="286.8" r="0.95"/><circle cx="141.1" cy="284.2" r="0.95"/><circle cx="139.8" cy="280.5" r="0.95"/><circle cx="139.0" cy="280.5" r="0.95"/><circle cx="143.1" cy="292.8" r="0.95"/><circle cx="138.4" cy="291.1" r="0.95"/><circle cx="144.8" cy="282.6" r="0.95"/><circle cx="143.8" cy="290.1" r="0.95"/><circle cx="141.1" cy="299.4" r="0.95"/><circle cx="140.2" cy="291.8" r="0.95"/><circle cx="142.7" cy="302.8" r="0.95"/><circle cx="139.7" cy="299.3" r="0.95"/><circle cx="142.9" cy="294.8" r="0.95"/><circle cx="140.3" cy="288.1" r="0.95"/><circle cx="137.3" cy="283.1" r="0.95"/><circle cx="150.2" cy="297.2" r="0.95"/><circle cx="151.3" cy="283.9" r="0.95"/><circle cx="150.3" cy="299.5" r="0.95"/><circle cx="154.8" cy="295.6" r="0.95"/><circle cx="151.4" cy="285.7" r="0.95"/><circle cx="151.5" cy="290.7" r="0.95"/><circle cx="150.7" cy="290.4" r="0.95"/><circle cx="151.3" cy="302.3" r="0.95"/><circle cx="155.3" cy="292.7" r="0.95"/><circle cx="151.2" cy="302.4" r="0.95"/><circle cx="151.6" cy="288.3" r="0.95"/><circle cx="149.8" cy="288.9" r="0.95"/><circle cx="152.5" cy="291.7" r="0.95"/><circle cx="150.9" cy="291.8" r="0.95"/><circle cx="149.8" cy="286.2" r="0.95"/><circle cx="150.3" cy="289.3" r="0.95"/><circle cx="150.0" cy="280.6" r="0.95"/><circle cx="151.5" cy="285.5" r="0.95"/><circle cx="153.1" cy="292.3" r="0.95"/><circle cx="154.1" cy="295.3" r="0.95"/><circle cx="153.9" cy="300.4" r="0.95"/><circle cx="152.0" cy="287.6" r="0.95"/><circle cx="155.4" cy="283.6" r="0.95"/><circle cx="153.9" cy="295.0" r="0.95"/><circle cx="150.0" cy="299.4" r="0.95"/><circle cx="154.9" cy="294.6" r="0.95"/><circle cx="154.0" cy="298.9" r="0.95"/><circle cx="150.6" cy="292.2" r="0.95"/><circle cx="152.7" cy="299.4" r="0.95"/><circle cx="154.4" cy="299.2" r="0.95"/><circle cx="153.1" cy="300.7" r="0.95"/><circle cx="153.7" cy="296.1" r="0.95"/><circle cx="151.1" cy="280.8" r="0.95"/><circle cx="150.6" cy="288.4" r="0.95"/><circle cx="150.4" cy="299.4" r="0.95"/><circle cx="153.0" cy="294.6" r="0.95"/><circle cx="153.4" cy="295.8" r="0.95"/><circle cx="152.6" cy="280.2" r="0.95"/><circle cx="154.3" cy="297.4" r="0.95"/><circle cx="152.7" cy="292.5" r="0.95"/><circle cx="153.6" cy="281.6" r="0.95"/><circle cx="154.0" cy="285.9" r="0.95"/><circle cx="150.2" cy="286.2" r="0.95"/><circle cx="154.0" cy="284.8" r="0.95"/><circle cx="154.0" cy="302.6" r="0.95"/><circle cx="152.6" cy="288.9" r="0.95"/><circle cx="152.5" cy="295.9" r="0.95"/><circle cx="154.2" cy="294.4" r="0.95"/><circle cx="153.5" cy="281.9" r="0.95"/><circle cx="150.6" cy="286.0" r="0.95"/><circle cx="154.0" cy="287.1" r="0.95"/><circle cx="153.0" cy="280.4" r="0.95"/><circle cx="150.1" cy="286.3" r="0.95"/><circle cx="153.6" cy="296.1" r="0.95"/><circle cx="153.7" cy="286.8" r="0.95"/><circle cx="152.7" cy="290.8" r="0.95"/><circle cx="152.5" cy="282.8" r="0.95"/><circle cx="154.9" cy="284.7" r="0.95"/><circle cx="155.4" cy="301.7" r="0.95"/><circle cx="149.9" cy="290.7" r="0.95"/><circle cx="154.5" cy="302.5" r="0.95"/><circle cx="152.4" cy="286.3" r="0.95"/><circle cx="151.0" cy="301.9" r="0.95"/><circle cx="151.0" cy="293.5" r="0.95"/><circle cx="150.6" cy="292.2" r="0.95"/><circle cx="155.2" cy="283.2" r="0.95"/><circle cx="154.5" cy="291.9" r="0.95"/><circle cx="154.9" cy="296.3" r="0.95"/><circle cx="151.1" cy="300.8" r="0.95"/><circle cx="152.6" cy="280.7" r="0.95"/><circle cx="149.8" cy="291.5" r="0.95"/><circle cx="152.4" cy="287.1" r="0.95"/><circle cx="150.6" cy="288.0" r="0.95"/><circle cx="151.6" cy="299.5" r="0.95"/><circle cx="149.8" cy="297.4" r="0.95"/><circle cx="154.6" cy="282.9" r="0.95"/><circle cx="155.1" cy="296.6" r="0.95"/><circle cx="154.9" cy="286.8" r="0.95"/><circle cx="151.9" cy="289.2" r="0.95"/><circle cx="155.5" cy="293.7" r="0.95"/><circle cx="151.9" cy="290.0" r="0.95"/><circle cx="151.4" cy="281.2" r="0.95"/><circle cx="150.4" cy="299.4" r="0.95"/><circle cx="151.4" cy="301.7" r="0.95"/><circle cx="151.2" cy="286.2" r="0.95"/><circle cx="152.7" cy="284.5" r="0.95"/><circle cx="151.9" cy="302.2" r="0.95"/><circle cx="154.8" cy="298.9" r="0.95"/><circle cx="153.4" cy="301.2" r="0.95"/><circle cx="155.2" cy="292.8" r="0.95"/><circle cx="135.4" cy="281.2" r="0.95"/><circle cx="135.5" cy="290.5" r="0.95"/><circle cx="135.6" cy="295.0" r="0.95"/><circle cx="133.2" cy="281.2" r="0.95"/><circle cx="136.4" cy="283.0" r="0.95"/><circle cx="134.2" cy="288.0" r="0.95"/><circle cx="133.3" cy="297.2" r="0.95"/><circle cx="136.7" cy="286.1" r="0.95"/><circle cx="135.1" cy="287.0" r="0.95"/><circle cx="134.6" cy="289.2" r="0.95"/><circle cx="132.6" cy="283.8" r="0.95"/><circle cx="132.8" cy="301.0" r="0.95"/><circle cx="134.3" cy="285.2" r="0.95"/><circle cx="136.3" cy="303.1" r="0.95"/><circle cx="134.0" cy="283.3" r="0.95"/><circle cx="132.8" cy="282.2" r="0.95"/><circle cx="133.5" cy="282.2" r="0.95"/><circle cx="133.0" cy="286.1" r="0.95"/><circle cx="134.6" cy="300.6" r="0.95"/><circle cx="135.5" cy="289.6" r="0.95"/><circle cx="133.9" cy="292.2" r="0.95"/><circle cx="133.7" cy="287.9" r="0.95"/><circle cx="132.1" cy="286.5" r="0.95"/><circle cx="136.6" cy="283.0" r="0.95"/><circle cx="134.3" cy="294.6" r="0.95"/><circle cx="136.1" cy="285.1" r="0.95"/><circle cx="133.2" cy="285.8" r="0.95"/><circle cx="133.8" cy="290.4" r="0.95"/><circle cx="136.6" cy="299.7" r="0.95"/><circle cx="136.2" cy="280.6" r="0.95"/><circle cx="132.0" cy="296.5" r="0.95"/><circle cx="136.3" cy="291.0" r="0.95"/><circle cx="134.7" cy="280.1" r="0.95"/><circle cx="133.8" cy="301.5" r="0.95"/><circle cx="135.9" cy="299.9" r="0.95"/><circle cx="136.7" cy="285.8" r="0.95"/><circle cx="132.9" cy="283.7" r="0.95"/><circle cx="127.9" cy="295.9" r="0.95"/><circle cx="111.1" cy="296.8" r="0.95"/><circle cx="125.5" cy="297.8" r="0.95"/><circle cx="128.9" cy="292.8" r="0.95"/><circle cx="133.5" cy="298.2" r="0.95"/><circle cx="131.7" cy="301.4" r="0.95"/><circle cx="125.5" cy="287.1" r="0.95"/><circle cx="132.7" cy="285.9" r="0.95"/><circle cx="125.7" cy="296.2" r="0.95"/><circle cx="132.8" cy="281.7" r="0.95"/><circle cx="127.9" cy="293.6" r="0.95"/><circle cx="129.9" cy="285.3" r="0.95"/><circle cx="126.4" cy="280.3" r="0.95"/><circle cx="130.9" cy="290.7" r="0.95"/><circle cx="108.3" cy="295.0" r="0.95"/><circle cx="116.6" cy="291.1" r="0.95"/><circle cx="131.7" cy="285.8" r="0.95"/><circle cx="107.9" cy="296.4" r="0.95"/><circle cx="130.9" cy="280.6" r="0.95"/><circle cx="128.3" cy="295.7" r="0.95"/><circle cx="129.4" cy="286.0" r="0.95"/><circle cx="125.0" cy="301.5" r="0.95"/><circle cx="131.7" cy="280.9" r="0.95"/><circle cx="130.5" cy="289.8" r="0.95"/><circle cx="124.6" cy="284.7" r="0.95"/><circle cx="121.0" cy="297.2" r="0.95"/><circle cx="128.2" cy="284.8" r="0.95"/><circle cx="49.6" cy="291.0" r="0.95"/><circle cx="85.6" cy="293.8" r="0.95"/><circle cx="107.8" cy="294.3" r="0.95"/><circle cx="112.0" cy="300.6" r="0.95"/><circle cx="158.0" cy="298.0" r="0.95"/><circle cx="162.0" cy="301.0" r="0.95"/><circle cx="165.0" cy="299.5" r="0.95"/></g>
<g fill="#2b4c8c"><circle cx="145.1" cy="330.9" r="0.95"/><circle cx="143.7" cy="329.1" r="0.95"/><circle cx="138.2" cy="340.7" r="0.95"/><circle cx="138.9" cy="344.9" r="0.95"/><circle cx="140.8" cy="328.1" r="0.95"/><circle cx="138.3" cy="333.2" r="0.95"/><circle cx="142.3" cy="344.9" r="0.95"/><circle cx="137.5" cy="332.7" r="0.95"/><circle cx="138.2" cy="345.4" r="0.95"/><circle cx="137.5" cy="325.1" r="0.95"/><circle cx="136.8" cy="332.7" r="0.95"/><circle cx="144.5" cy="343.4" r="0.95"/><circle cx="142.9" cy="345.9" r="0.95"/><circle cx="144.8" cy="331.2" r="0.95"/><circle cx="137.9" cy="344.6" r="0.95"/><circle cx="143.1" cy="324.7" r="0.95"/><circle cx="142.3" cy="332.3" r="0.95"/><circle cx="139.6" cy="331.3" r="0.95"/><circle cx="137.8" cy="324.1" r="0.95"/><circle cx="138.8" cy="331.7" r="0.95"/><circle cx="145.0" cy="326.7" r="0.95"/><circle cx="145.1" cy="328.6" r="0.95"/><circle cx="139.5" cy="342.1" r="0.95"/><circle cx="143.8" cy="333.5" r="0.95"/><circle cx="136.7" cy="334.4" r="0.95"/><circle cx="139.6" cy="344.2" r="0.95"/><circle cx="138.0" cy="332.0" r="0.95"/><circle cx="144.5" cy="324.7" r="0.95"/><circle cx="140.0" cy="341.9" r="0.95"/><circle cx="143.3" cy="324.9" r="0.95"/><circle cx="136.5" cy="325.4" r="0.95"/><circle cx="144.7" cy="329.7" r="0.95"/><circle cx="143.1" cy="343.8" r="0.95"/><circle cx="139.3" cy="330.0" r="0.95"/><circle cx="145.0" cy="337.6" r="0.95"/><circle cx="138.6" cy="339.8" r="0.95"/><circle cx="139.1" cy="330.1" r="0.95"/><circle cx="136.2" cy="340.6" r="0.95"/><circle cx="144.6" cy="337.9" r="0.95"/><circle cx="144.9" cy="324.5" r="0.95"/><circle cx="138.4" cy="334.5" r="0.95"/><circle cx="145.0" cy="345.0" r="0.95"/><circle cx="139.8" cy="329.5" r="0.95"/><circle cx="140.2" cy="334.9" r="0.95"/><circle cx="144.7" cy="328.0" r="0.95"/><circle cx="143.6" cy="340.2" r="0.95"/><circle cx="143.8" cy="341.0" r="0.95"/><circle cx="141.8" cy="331.2" r="0.95"/><circle cx="139.1" cy="332.0" r="0.95"/><circle cx="143.4" cy="325.7" r="0.95"/><circle cx="138.0" cy="340.6" r="0.95"/><circle cx="138.5" cy="325.4" r="0.95"/><circle cx="136.5" cy="336.2" r="0.95"/><circle cx="139.2" cy="345.6" r="0.95"/><circle cx="144.3" cy="345.7" r="0.95"/><circle cx="138.6" cy="325.8" r="0.95"/><circle cx="137.1" cy="335.0" r="0.95"/><circle cx="142.7" cy="333.8" r="0.95"/><circle cx="138.4" cy="333.2" r="0.95"/><circle cx="141.9" cy="338.8" r="0.95"/><circle cx="143.1" cy="342.6" r="0.95"/><circle cx="142.3" cy="326.7" r="0.95"/><circle cx="143.9" cy="330.5" r="0.95"/><circle cx="141.4" cy="332.2" r="0.95"/><circle cx="143.0" cy="328.4" r="0.95"/><circle cx="138.5" cy="329.4" r="0.95"/><circle cx="137.6" cy="343.5" r="0.95"/><circle cx="141.5" cy="331.2" r="0.95"/><circle cx="139.8" cy="345.8" r="0.95"/><circle cx="140.9" cy="329.1" r="0.95"/><circle cx="143.6" cy="338.4" r="0.95"/><circle cx="145.3" cy="326.3" r="0.95"/><circle cx="140.6" cy="342.0" r="0.95"/><circle cx="143.9" cy="344.1" r="0.95"/><circle cx="136.6" cy="330.5" r="0.95"/><circle cx="137.3" cy="328.2" r="0.95"/><circle cx="145.2" cy="336.8" r="0.95"/><circle cx="144.8" cy="332.2" r="0.95"/><circle cx="144.2" cy="333.9" r="0.95"/><circle cx="138.6" cy="341.1" r="0.95"/><circle cx="144.9" cy="326.3" r="0.95"/><circle cx="141.7" cy="337.6" r="0.95"/><circle cx="138.2" cy="332.1" r="0.95"/><circle cx="137.5" cy="328.5" r="0.95"/><circle cx="138.5" cy="337.2" r="0.95"/><circle cx="142.2" cy="328.5" r="0.95"/><circle cx="136.3" cy="331.2" r="0.95"/><circle cx="142.4" cy="328.1" r="0.95"/><circle cx="139.1" cy="328.5" r="0.95"/><circle cx="143.5" cy="336.1" r="0.95"/><circle cx="136.8" cy="326.2" r="0.95"/><circle cx="139.8" cy="336.1" r="0.95"/><circle cx="142.1" cy="326.0" r="0.95"/><circle cx="137.7" cy="339.3" r="0.95"/><circle cx="140.0" cy="330.2" r="0.95"/><circle cx="139.0" cy="345.0" r="0.95"/><circle cx="139.1" cy="336.5" r="0.95"/><circle cx="139.5" cy="333.2" r="0.95"/><circle cx="144.2" cy="345.9" r="0.95"/><circle cx="139.5" cy="328.3" r="0.95"/><circle cx="142.9" cy="328.5" r="0.95"/><circle cx="136.3" cy="343.8" r="0.95"/><circle cx="140.1" cy="342.0" r="0.95"/><circle cx="139.9" cy="343.4" r="0.95"/><circle cx="140.4" cy="327.6" r="0.95"/><circle cx="136.3" cy="336.1" r="0.95"/><circle cx="142.1" cy="344.0" r="0.95"/><circle cx="137.0" cy="337.7" r="0.95"/><circle cx="139.6" cy="335.1" r="0.95"/><circle cx="137.5" cy="330.2" r="0.95"/><circle cx="141.0" cy="344.4" r="0.95"/><circle cx="137.2" cy="334.8" r="0.95"/><circle cx="143.6" cy="345.3" r="0.95"/><circle cx="138.0" cy="326.8" r="0.95"/><circle cx="144.9" cy="345.5" r="0.95"/><circle cx="140.6" cy="325.2" r="0.95"/><circle cx="144.7" cy="332.5" r="0.95"/><circle cx="144.5" cy="337.6" r="0.95"/><circle cx="143.8" cy="327.5" r="0.95"/><circle cx="143.4" cy="328.9" r="0.95"/><circle cx="139.9" cy="342.6" r="0.95"/><circle cx="143.8" cy="328.0" r="0.95"/><circle cx="138.2" cy="332.8" r="0.95"/><circle cx="141.0" cy="332.4" r="0.95"/><circle cx="137.3" cy="329.4" r="0.95"/><circle cx="142.9" cy="343.7" r="0.95"/><circle cx="136.6" cy="336.4" r="0.95"/><circle cx="143.2" cy="324.8" r="0.95"/><circle cx="143.9" cy="326.6" r="0.95"/><circle cx="141.7" cy="336.1" r="0.95"/><circle cx="142.0" cy="330.7" r="0.95"/><circle cx="140.1" cy="336.8" r="0.95"/><circle cx="140.1" cy="338.5" r="0.95"/><circle cx="140.3" cy="333.6" r="0.95"/><circle cx="136.4" cy="337.6" r="0.95"/><circle cx="140.7" cy="329.2" r="0.95"/><circle cx="143.2" cy="341.2" r="0.95"/><circle cx="140.4" cy="328.0" r="0.95"/><circle cx="140.6" cy="326.4" r="0.95"/><circle cx="137.4" cy="333.5" r="0.95"/><circle cx="137.0" cy="333.7" r="0.95"/><circle cx="140.9" cy="324.9" r="0.95"/><circle cx="142.1" cy="325.8" r="0.95"/><circle cx="142.9" cy="341.1" r="0.95"/><circle cx="140.9" cy="325.2" r="0.95"/><circle cx="140.8" cy="332.3" r="0.95"/><circle cx="144.9" cy="327.0" r="0.95"/><circle cx="144.1" cy="345.9" r="0.95"/><circle cx="142.9" cy="341.9" r="0.95"/><circle cx="138.0" cy="345.6" r="0.95"/><circle cx="140.7" cy="345.0" r="0.95"/><circle cx="144.6" cy="327.6" r="0.95"/><circle cx="143.5" cy="344.5" r="0.95"/><circle cx="136.8" cy="331.7" r="0.95"/><circle cx="143.2" cy="327.5" r="0.95"/><circle cx="144.4" cy="330.0" r="0.95"/><circle cx="143.7" cy="327.2" r="0.95"/><circle cx="140.8" cy="344.2" r="0.95"/><circle cx="138.1" cy="329.8" r="0.95"/><circle cx="140.9" cy="331.0" r="0.95"/><circle cx="136.5" cy="328.0" r="0.95"/><circle cx="137.7" cy="344.6" r="0.95"/><circle cx="142.5" cy="343.7" r="0.95"/><circle cx="137.8" cy="341.3" r="0.95"/><circle cx="137.3" cy="335.7" r="0.95"/><circle cx="142.1" cy="331.9" r="0.95"/><circle cx="144.2" cy="336.2" r="0.95"/><circle cx="141.5" cy="343.4" r="0.95"/><circle cx="137.2" cy="345.8" r="0.95"/><circle cx="142.0" cy="332.7" r="0.95"/><circle cx="143.5" cy="329.8" r="0.95"/><circle cx="145.3" cy="336.7" r="0.95"/><circle cx="139.5" cy="340.8" r="0.95"/><circle cx="140.3" cy="327.9" r="0.95"/><circle cx="143.0" cy="325.1" r="0.95"/><circle cx="143.7" cy="329.6" r="0.95"/><circle cx="142.1" cy="345.6" r="0.95"/><circle cx="141.6" cy="338.6" r="0.95"/><circle cx="139.1" cy="324.0" r="0.95"/><circle cx="136.5" cy="327.3" r="0.95"/><circle cx="141.9" cy="333.5" r="0.95"/><circle cx="140.9" cy="343.7" r="0.95"/><circle cx="137.4" cy="329.0" r="0.95"/><circle cx="142.2" cy="324.5" r="0.95"/><circle cx="136.2" cy="331.8" r="0.95"/><circle cx="137.2" cy="331.9" r="0.95"/><circle cx="138.3" cy="336.8" r="0.95"/><circle cx="141.6" cy="328.5" r="0.95"/><circle cx="141.9" cy="334.4" r="0.95"/><circle cx="137.4" cy="344.6" r="0.95"/><circle cx="138.4" cy="327.3" r="0.95"/><circle cx="137.1" cy="338.0" r="0.95"/><circle cx="144.2" cy="341.2" r="0.95"/><circle cx="139.9" cy="329.8" r="0.95"/><circle cx="136.3" cy="338.2" r="0.95"/><circle cx="141.4" cy="331.7" r="0.95"/><circle cx="142.1" cy="333.8" r="0.95"/><circle cx="144.8" cy="340.1" r="0.95"/><circle cx="138.5" cy="343.9" r="0.95"/><circle cx="136.6" cy="335.7" r="0.95"/><circle cx="152.0" cy="329.2" r="0.95"/><circle cx="149.9" cy="341.1" r="0.95"/><circle cx="149.7" cy="336.1" r="0.95"/><circle cx="155.2" cy="327.1" r="0.95"/><circle cx="150.8" cy="337.4" r="0.95"/><circle cx="152.6" cy="338.1" r="0.95"/><circle cx="154.4" cy="327.8" r="0.95"/><circle cx="151.4" cy="330.6" r="0.95"/><circle cx="149.9" cy="343.6" r="0.95"/><circle cx="154.2" cy="339.7" r="0.95"/><circle cx="149.6" cy="342.6" r="0.95"/><circle cx="154.0" cy="334.2" r="0.95"/><circle cx="154.0" cy="334.0" r="0.95"/><circle cx="150.9" cy="326.3" r="0.95"/><circle cx="151.0" cy="324.9" r="0.95"/><circle cx="151.6" cy="340.5" r="0.95"/><circle cx="153.7" cy="342.6" r="0.95"/><circle cx="153.8" cy="329.9" r="0.95"/><circle cx="152.9" cy="333.6" r="0.95"/><circle cx="154.3" cy="335.5" r="0.95"/><circle cx="151.2" cy="338.1" r="0.95"/><circle cx="155.3" cy="328.8" r="0.95"/><circle cx="154.8" cy="324.3" r="0.95"/><circle cx="151.1" cy="329.2" r="0.95"/><circle cx="154.0" cy="344.8" r="0.95"/><circle cx="154.0" cy="331.2" r="0.95"/><circle cx="154.8" cy="331.2" r="0.95"/><circle cx="151.0" cy="344.0" r="0.95"/><circle cx="153.3" cy="339.2" r="0.95"/><circle cx="153.5" cy="345.5" r="0.95"/><circle cx="152.4" cy="342.5" r="0.95"/><circle cx="153.7" cy="342.9" r="0.95"/><circle cx="152.2" cy="339.9" r="0.95"/><circle cx="153.0" cy="330.8" r="0.95"/><circle cx="150.9" cy="337.7" r="0.95"/><circle cx="150.1" cy="344.0" r="0.95"/><circle cx="150.5" cy="324.6" r="0.95"/><circle cx="150.2" cy="344.4" r="0.95"/><circle cx="151.6" cy="327.1" r="0.95"/><circle cx="149.8" cy="324.9" r="0.95"/><circle cx="153.7" cy="337.9" r="0.95"/><circle cx="153.7" cy="340.2" r="0.95"/><circle cx="150.0" cy="337.0" r="0.95"/><circle cx="151.7" cy="342.0" r="0.95"/><circle cx="154.4" cy="343.6" r="0.95"/><circle cx="150.0" cy="343.1" r="0.95"/><circle cx="155.0" cy="344.8" r="0.95"/><circle cx="150.2" cy="328.5" r="0.95"/><circle cx="150.3" cy="324.8" r="0.95"/><circle cx="154.6" cy="341.9" r="0.95"/><circle cx="153.3" cy="342.2" r="0.95"/><circle cx="153.3" cy="330.3" r="0.95"/><circle cx="150.2" cy="326.2" r="0.95"/><circle cx="154.1" cy="328.5" r="0.95"/><circle cx="151.5" cy="333.3" r="0.95"/><circle cx="149.7" cy="329.6" r="0.95"/><circle cx="151.3" cy="339.7" r="0.95"/><circle cx="151.8" cy="331.1" r="0.95"/><circle cx="155.3" cy="335.1" r="0.95"/><circle cx="154.6" cy="337.6" r="0.95"/><circle cx="149.8" cy="333.1" r="0.95"/><circle cx="152.2" cy="341.0" r="0.95"/><circle cx="151.6" cy="339.5" r="0.95"/><circle cx="152.8" cy="328.8" r="0.95"/><circle cx="154.7" cy="326.0" r="0.95"/><circle cx="154.4" cy="327.7" r="0.95"/><circle cx="149.6" cy="328.4" r="0.95"/><circle cx="154.1" cy="345.5" r="0.95"/><circle cx="149.6" cy="334.8" r="0.95"/><circle cx="152.5" cy="341.5" r="0.95"/><circle cx="150.7" cy="334.9" r="0.95"/><circle cx="151.6" cy="342.3" r="0.95"/><circle cx="151.1" cy="344.8" r="0.95"/><circle cx="151.3" cy="328.7" r="0.95"/><circle cx="153.7" cy="335.0" r="0.95"/><circle cx="150.2" cy="338.0" r="0.95"/><circle cx="150.1" cy="341.3" r="0.95"/><circle cx="153.7" cy="341.3" r="0.95"/><circle cx="153.3" cy="331.8" r="0.95"/><circle cx="152.0" cy="332.7" r="0.95"/><circle cx="154.9" cy="325.9" r="0.95"/><circle cx="154.8" cy="324.6" r="0.95"/><circle cx="150.8" cy="329.8" r="0.95"/><circle cx="154.9" cy="335.0" r="0.95"/><circle cx="151.8" cy="343.4" r="0.95"/><circle cx="151.0" cy="334.1" r="0.95"/><circle cx="152.7" cy="340.6" r="0.95"/><circle cx="154.0" cy="338.2" r="0.95"/><circle cx="151.7" cy="331.2" r="0.95"/><circle cx="150.5" cy="342.5" r="0.95"/><circle cx="134.5" cy="340.3" r="0.95"/><circle cx="132.0" cy="333.7" r="0.95"/><circle cx="135.1" cy="336.7" r="0.95"/><circle cx="131.8" cy="334.2" r="0.95"/><circle cx="135.6" cy="329.2" r="0.95"/><circle cx="132.2" cy="330.6" r="0.95"/><circle cx="134.7" cy="342.6" r="0.95"/><circle cx="132.0" cy="327.4" r="0.95"/><circle cx="132.4" cy="331.2" r="0.95"/><circle cx="133.8" cy="327.5" r="0.95"/><circle cx="132.8" cy="328.2" r="0.95"/><circle cx="136.1" cy="340.0" r="0.95"/><circle cx="131.7" cy="345.2" r="0.95"/><circle cx="131.7" cy="332.5" r="0.95"/><circle cx="136.1" cy="341.5" r="0.95"/><circle cx="134.9" cy="333.6" r="0.95"/><circle cx="132.2" cy="338.0" r="0.95"/><circle cx="131.7" cy="328.5" r="0.95"/><circle cx="133.1" cy="324.7" r="0.95"/><circle cx="133.2" cy="341.4" r="0.95"/><circle cx="134.7" cy="335.0" r="0.95"/><circle cx="134.4" cy="334.2" r="0.95"/><circle cx="131.9" cy="337.3" r="0.95"/><circle cx="133.2" cy="340.3" r="0.95"/><circle cx="135.7" cy="333.5" r="0.95"/><circle cx="134.1" cy="340.5" r="0.95"/><circle cx="133.3" cy="329.0" r="0.95"/><circle cx="134.8" cy="343.4" r="0.95"/><circle cx="135.1" cy="339.4" r="0.95"/><circle cx="135.5" cy="339.0" r="0.95"/><circle cx="134.4" cy="334.0" r="0.95"/><circle cx="132.8" cy="337.8" r="0.95"/><circle cx="131.7" cy="333.2" r="0.95"/><circle cx="135.1" cy="339.7" r="0.95"/><circle cx="134.3" cy="329.5" r="0.95"/><circle cx="133.3" cy="334.0" r="0.95"/><circle cx="126.4" cy="333.0" r="0.95"/><circle cx="125.3" cy="344.5" r="0.95"/><circle cx="131.8" cy="338.4" r="0.95"/><circle cx="122.7" cy="332.6" r="0.95"/><circle cx="128.5" cy="345.4" r="0.95"/><circle cx="132.9" cy="336.0" r="0.95"/><circle cx="132.0" cy="341.2" r="0.95"/><circle cx="113.4" cy="335.4" r="0.95"/><circle cx="132.5" cy="336.6" r="0.95"/><circle cx="127.7" cy="339.8" r="0.95"/><circle cx="128.2" cy="338.1" r="0.95"/><circle cx="120.8" cy="335.5" r="0.95"/><circle cx="129.5" cy="344.9" r="0.95"/><circle cx="131.5" cy="339.1" r="0.95"/><circle cx="129.7" cy="340.8" r="0.95"/><circle cx="132.3" cy="345.7" r="0.95"/><circle cx="130.1" cy="325.2" r="0.95"/><circle cx="131.0" cy="332.8" r="0.95"/><circle cx="133.1" cy="333.2" r="0.95"/><circle cx="129.4" cy="339.4" r="0.95"/><circle cx="130.2" cy="329.8" r="0.95"/><circle cx="131.4" cy="340.3" r="0.95"/><circle cx="113.5" cy="335.6" r="0.95"/><circle cx="131.5" cy="341.6" r="0.95"/><circle cx="129.7" cy="328.7" r="0.95"/><circle cx="132.2" cy="341.1" r="0.95"/><circle cx="121.6" cy="338.0" r="0.95"/><circle cx="128.8" cy="336.4" r="0.95"/><circle cx="94.2" cy="325.0" r="0.95"/><circle cx="79.8" cy="340.8" r="0.95"/><circle cx="105.0" cy="341.0" r="0.95"/><circle cx="110.0" cy="336.0" r="0.95"/><circle cx="158.0" cy="330.0" r="0.95"/><circle cx="163.5" cy="331.0" r="0.95"/></g>
<g fill="#e3941d"><circle cx="139.3" cy="389.2" r="0.95"/><circle cx="140.3" cy="382.1" r="0.95"/><circle cx="144.1" cy="386.0" r="0.95"/><circle cx="141.2" cy="374.5" r="0.95"/><circle cx="141.9" cy="370.8" r="0.95"/><circle cx="144.2" cy="375.8" r="0.95"/><circle cx="144.4" cy="373.9" r="0.95"/><circle cx="140.5" cy="373.6" r="0.95"/><circle cx="140.9" cy="372.1" r="0.95"/><circle cx="137.4" cy="383.9" r="0.95"/><circle cx="139.7" cy="373.4" r="0.95"/><circle cx="139.9" cy="378.6" r="0.95"/><circle cx="140.9" cy="382.0" r="0.95"/><circle cx="142.8" cy="376.0" r="0.95"/><circle cx="145.0" cy="386.8" r="0.95"/><circle cx="137.9" cy="386.2" r="0.95"/><circle cx="144.8" cy="385.2" r="0.95"/><circle cx="138.6" cy="386.3" r="0.95"/><circle cx="142.6" cy="368.3" r="0.95"/><circle cx="137.5" cy="388.9" r="0.95"/><circle cx="142.8" cy="373.5" r="0.95"/><circle cx="138.2" cy="371.1" r="0.95"/><circle cx="139.3" cy="385.1" r="0.95"/><circle cx="140.2" cy="371.4" r="0.95"/><circle cx="144.8" cy="385.4" r="0.95"/><circle cx="138.8" cy="387.6" r="0.95"/><circle cx="142.4" cy="385.2" r="0.95"/><circle cx="142.9" cy="387.7" r="0.95"/><circle cx="143.9" cy="386.5" r="0.95"/><circle cx="139.0" cy="383.2" r="0.95"/><circle cx="141.8" cy="384.3" r="0.95"/><circle cx="141.0" cy="387.4" r="0.95"/><circle cx="142.0" cy="373.8" r="0.95"/><circle cx="139.3" cy="371.1" r="0.95"/><circle cx="141.4" cy="369.3" r="0.95"/><circle cx="141.2" cy="371.2" r="0.95"/><circle cx="141.4" cy="379.0" r="0.95"/><circle cx="141.8" cy="387.0" r="0.95"/><circle cx="137.5" cy="386.5" r="0.95"/><circle cx="141.2" cy="380.4" r="0.95"/><circle cx="142.9" cy="386.5" r="0.95"/><circle cx="140.5" cy="377.2" r="0.95"/><circle cx="145.3" cy="369.7" r="0.95"/><circle cx="142.6" cy="382.0" r="0.95"/><circle cx="137.6" cy="381.4" r="0.95"/><circle cx="143.0" cy="388.5" r="0.95"/><circle cx="140.1" cy="389.6" r="0.95"/><circle cx="141.6" cy="378.7" r="0.95"/><circle cx="144.8" cy="368.7" r="0.95"/><circle cx="143.3" cy="381.8" r="0.95"/><circle cx="140.2" cy="387.0" r="0.95"/><circle cx="140.4" cy="378.4" r="0.95"/><circle cx="141.7" cy="385.0" r="0.95"/><circle cx="139.1" cy="377.6" r="0.95"/><circle cx="140.9" cy="380.2" r="0.95"/><circle cx="144.2" cy="374.4" r="0.95"/><circle cx="144.2" cy="376.9" r="0.95"/><circle cx="141.5" cy="374.0" r="0.95"/><circle cx="141.6" cy="389.4" r="0.95"/><circle cx="142.8" cy="385.4" r="0.95"/><circle cx="140.1" cy="375.0" r="0.95"/><circle cx="139.9" cy="380.9" r="0.95"/><circle cx="142.6" cy="385.3" r="0.95"/><circle cx="137.7" cy="383.9" r="0.95"/><circle cx="144.7" cy="380.0" r="0.95"/><circle cx="137.8" cy="374.6" r="0.95"/><circle cx="137.5" cy="372.2" r="0.95"/><circle cx="145.0" cy="381.4" r="0.95"/><circle cx="142.8" cy="385.4" r="0.95"/><circle cx="144.9" cy="381.5" r="0.95"/><circle cx="142.5" cy="381.8" r="0.95"/><circle cx="143.1" cy="381.1" r="0.95"/><circle cx="143.0" cy="372.7" r="0.95"/><circle cx="142.9" cy="378.1" r="0.95"/><circle cx="143.7" cy="370.2" r="0.95"/><circle cx="138.9" cy="368.8" r="0.95"/><circle cx="143.8" cy="388.1" r="0.95"/><circle cx="142.8" cy="376.1" r="0.95"/><circle cx="144.1" cy="385.3" r="0.95"/><circle cx="142.0" cy="373.7" r="0.95"/><circle cx="139.9" cy="377.3" r="0.95"/><circle cx="140.0" cy="377.5" r="0.95"/><circle cx="142.7" cy="388.5" r="0.95"/><circle cx="137.8" cy="380.5" r="0.95"/><circle cx="137.7" cy="370.6" r="0.95"/><circle cx="144.0" cy="380.7" r="0.95"/><circle cx="144.9" cy="377.8" r="0.95"/><circle cx="137.5" cy="376.5" r="0.95"/><circle cx="142.3" cy="388.6" r="0.95"/><circle cx="145.4" cy="378.5" r="0.95"/><circle cx="140.8" cy="370.2" r="0.95"/><circle cx="142.7" cy="372.7" r="0.95"/><circle cx="138.6" cy="368.3" r="0.95"/><circle cx="137.4" cy="383.0" r="0.95"/><circle cx="138.4" cy="389.3" r="0.95"/><circle cx="138.1" cy="387.1" r="0.95"/><circle cx="138.5" cy="368.4" r="0.95"/><circle cx="143.3" cy="373.3" r="0.95"/><circle cx="143.4" cy="372.1" r="0.95"/><circle cx="137.8" cy="385.0" r="0.95"/><circle cx="143.3" cy="386.8" r="0.95"/><circle cx="143.4" cy="369.9" r="0.95"/><circle cx="142.6" cy="383.6" r="0.95"/><circle cx="141.2" cy="388.5" r="0.95"/><circle cx="139.5" cy="389.2" r="0.95"/><circle cx="143.3" cy="368.3" r="0.95"/><circle cx="137.5" cy="382.3" r="0.95"/><circle cx="144.1" cy="369.8" r="0.95"/><circle cx="140.0" cy="384.0" r="0.95"/><circle cx="138.8" cy="386.9" r="0.95"/><circle cx="141.4" cy="369.3" r="0.95"/><circle cx="140.4" cy="380.6" r="0.95"/><circle cx="141.0" cy="382.9" r="0.95"/><circle cx="138.6" cy="385.5" r="0.95"/><circle cx="140.4" cy="382.2" r="0.95"/><circle cx="142.6" cy="377.2" r="0.95"/><circle cx="140.6" cy="385.3" r="0.95"/><circle cx="145.1" cy="385.3" r="0.95"/><circle cx="142.0" cy="374.4" r="0.95"/><circle cx="137.9" cy="389.4" r="0.95"/><circle cx="143.2" cy="386.2" r="0.95"/><circle cx="140.1" cy="381.3" r="0.95"/><circle cx="145.4" cy="386.3" r="0.95"/><circle cx="142.3" cy="374.8" r="0.95"/><circle cx="140.9" cy="387.5" r="0.95"/><circle cx="140.5" cy="383.1" r="0.95"/><circle cx="142.3" cy="387.7" r="0.95"/><circle cx="144.0" cy="374.2" r="0.95"/><circle cx="137.4" cy="373.8" r="0.95"/><circle cx="140.9" cy="380.9" r="0.95"/><circle cx="144.1" cy="387.5" r="0.95"/><circle cx="137.7" cy="386.3" r="0.95"/><circle cx="144.1" cy="387.1" r="0.95"/><circle cx="142.1" cy="374.0" r="0.95"/><circle cx="144.4" cy="385.8" r="0.95"/><circle cx="143.0" cy="388.1" r="0.95"/><circle cx="140.2" cy="369.9" r="0.95"/><circle cx="141.9" cy="385.5" r="0.95"/><circle cx="139.0" cy="384.5" r="0.95"/><circle cx="145.0" cy="373.1" r="0.95"/><circle cx="142.4" cy="382.9" r="0.95"/><circle cx="141.2" cy="372.5" r="0.95"/><circle cx="139.5" cy="384.5" r="0.95"/><circle cx="143.9" cy="378.1" r="0.95"/><circle cx="138.1" cy="385.7" r="0.95"/><circle cx="143.7" cy="373.1" r="0.95"/><circle cx="142.2" cy="387.7" r="0.95"/><circle cx="144.7" cy="379.5" r="0.95"/><circle cx="141.3" cy="381.0" r="0.95"/><circle cx="139.0" cy="372.2" r="0.95"/><circle cx="138.9" cy="383.4" r="0.95"/><circle cx="140.4" cy="380.4" r="0.95"/><circle cx="140.7" cy="379.4" r="0.95"/><circle cx="138.6" cy="369.0" r="0.95"/><circle cx="145.6" cy="376.2" r="0.95"/><circle cx="138.3" cy="381.9" r="0.95"/><circle cx="143.9" cy="371.4" r="0.95"/><circle cx="142.3" cy="375.6" r="0.95"/><circle cx="141.7" cy="368.5" r="0.95"/><circle cx="137.7" cy="389.8" r="0.95"/><circle cx="144.5" cy="378.7" r="0.95"/><circle cx="142.1" cy="373.8" r="0.95"/><circle cx="143.8" cy="377.4" r="0.95"/><circle cx="145.2" cy="384.9" r="0.95"/><circle cx="144.1" cy="389.2" r="0.95"/><circle cx="139.5" cy="368.8" r="0.95"/><circle cx="139.0" cy="372.0" r="0.95"/><circle cx="138.1" cy="369.1" r="0.95"/><circle cx="142.0" cy="387.2" r="0.95"/><circle cx="141.2" cy="388.8" r="0.95"/><circle cx="144.9" cy="369.4" r="0.95"/><circle cx="142.3" cy="376.7" r="0.95"/><circle cx="138.4" cy="389.1" r="0.95"/><circle cx="139.5" cy="380.4" r="0.95"/><circle cx="142.7" cy="389.0" r="0.95"/><circle cx="142.9" cy="376.6" r="0.95"/><circle cx="141.1" cy="371.5" r="0.95"/><circle cx="145.3" cy="389.8" r="0.95"/><circle cx="139.2" cy="368.8" r="0.95"/><circle cx="139.5" cy="375.7" r="0.95"/><circle cx="144.8" cy="387.9" r="0.95"/><circle cx="144.3" cy="369.0" r="0.95"/><circle cx="143.8" cy="383.6" r="0.95"/><circle cx="142.7" cy="389.7" r="0.95"/><circle cx="137.9" cy="371.2" r="0.95"/><circle cx="143.6" cy="388.7" r="0.95"/><circle cx="143.0" cy="374.6" r="0.95"/><circle cx="142.3" cy="384.7" r="0.95"/><circle cx="138.3" cy="375.1" r="0.95"/><circle cx="139.5" cy="370.7" r="0.95"/><circle cx="141.3" cy="371.7" r="0.95"/><circle cx="139.4" cy="371.1" r="0.95"/><circle cx="143.0" cy="368.3" r="0.95"/><circle cx="143.3" cy="372.3" r="0.95"/><circle cx="137.7" cy="388.4" r="0.95"/><circle cx="139.2" cy="388.5" r="0.95"/><circle cx="144.5" cy="387.6" r="0.95"/><circle cx="138.5" cy="377.8" r="0.95"/><circle cx="138.2" cy="388.4" r="0.95"/><circle cx="144.3" cy="381.8" r="0.95"/><circle cx="151.9" cy="375.5" r="0.95"/><circle cx="153.7" cy="378.5" r="0.95"/><circle cx="152.8" cy="371.1" r="0.95"/><circle cx="150.8" cy="369.2" r="0.95"/><circle cx="153.2" cy="380.2" r="0.95"/><circle cx="150.4" cy="387.2" r="0.95"/><circle cx="151.0" cy="377.1" r="0.95"/><circle cx="150.5" cy="374.0" r="0.95"/><circle cx="153.8" cy="375.4" r="0.95"/><circle cx="150.5" cy="378.8" r="0.95"/><circle cx="151.3" cy="387.9" r="0.95"/><circle cx="150.3" cy="389.5" r="0.95"/><circle cx="150.0" cy="387.7" r="0.95"/><circle cx="153.0" cy="372.6" r="0.95"/><circle cx="152.0" cy="374.3" r="0.95"/><circle cx="151.0" cy="372.4" r="0.95"/><circle cx="151.5" cy="389.8" r="0.95"/><circle cx="154.6" cy="388.4" r="0.95"/><circle cx="150.2" cy="374.4" r="0.95"/><circle cx="154.1" cy="369.3" r="0.95"/><circle cx="153.3" cy="374.5" r="0.95"/><circle cx="154.5" cy="368.4" r="0.95"/><circle cx="153.7" cy="375.5" r="0.95"/><circle cx="150.4" cy="368.0" r="0.95"/><circle cx="153.8" cy="379.6" r="0.95"/><circle cx="150.6" cy="377.6" r="0.95"/><circle cx="154.2" cy="372.8" r="0.95"/><circle cx="152.5" cy="371.0" r="0.95"/><circle cx="150.6" cy="384.9" r="0.95"/><circle cx="153.2" cy="372.3" r="0.95"/><circle cx="150.1" cy="369.9" r="0.95"/><circle cx="152.7" cy="378.9" r="0.95"/><circle cx="151.0" cy="372.5" r="0.95"/><circle cx="152.7" cy="383.6" r="0.95"/><circle cx="153.7" cy="380.8" r="0.95"/><circle cx="150.7" cy="369.4" r="0.95"/><circle cx="153.3" cy="377.0" r="0.95"/><circle cx="153.2" cy="369.2" r="0.95"/><circle cx="153.7" cy="375.4" r="0.95"/><circle cx="153.8" cy="387.0" r="0.95"/><circle cx="152.1" cy="368.3" r="0.95"/><circle cx="154.2" cy="378.5" r="0.95"/><circle cx="154.0" cy="373.9" r="0.95"/><circle cx="150.6" cy="386.3" r="0.95"/><circle cx="151.5" cy="371.6" r="0.95"/><circle cx="151.5" cy="381.1" r="0.95"/><circle cx="149.7" cy="379.4" r="0.95"/><circle cx="151.9" cy="379.3" r="0.95"/><circle cx="150.3" cy="383.7" r="0.95"/><circle cx="153.7" cy="387.0" r="0.95"/><circle cx="151.3" cy="383.6" r="0.95"/><circle cx="151.6" cy="384.5" r="0.95"/><circle cx="150.0" cy="387.2" r="0.95"/><circle cx="154.4" cy="378.9" r="0.95"/><circle cx="152.2" cy="379.7" r="0.95"/><circle cx="152.3" cy="368.5" r="0.95"/><circle cx="154.4" cy="372.9" r="0.95"/><circle cx="150.6" cy="370.3" r="0.95"/><circle cx="150.9" cy="386.0" r="0.95"/><circle cx="149.8" cy="370.1" r="0.95"/><circle cx="153.1" cy="372.3" r="0.95"/><circle cx="149.8" cy="381.2" r="0.95"/><circle cx="152.5" cy="379.5" r="0.95"/><circle cx="153.1" cy="370.3" r="0.95"/><circle cx="154.0" cy="383.8" r="0.95"/><circle cx="149.9" cy="370.7" r="0.95"/><circle cx="152.1" cy="379.0" r="0.95"/><circle cx="151.1" cy="370.7" r="0.95"/><circle cx="151.7" cy="371.0" r="0.95"/><circle cx="152.6" cy="386.9" r="0.95"/><circle cx="150.4" cy="380.6" r="0.95"/><circle cx="153.4" cy="371.6" r="0.95"/><circle cx="153.7" cy="388.6" r="0.95"/><circle cx="151.6" cy="377.3" r="0.95"/><circle cx="153.8" cy="379.6" r="0.95"/><circle cx="151.6" cy="388.7" r="0.95"/><circle cx="153.5" cy="375.4" r="0.95"/><circle cx="150.9" cy="375.4" r="0.95"/><circle cx="151.8" cy="389.6" r="0.95"/><circle cx="153.6" cy="388.1" r="0.95"/><circle cx="153.7" cy="386.6" r="0.95"/><circle cx="150.0" cy="379.4" r="0.95"/><circle cx="154.4" cy="388.6" r="0.95"/><circle cx="150.9" cy="377.3" r="0.95"/><circle cx="152.8" cy="376.0" r="0.95"/><circle cx="152.3" cy="369.5" r="0.95"/><circle cx="151.8" cy="379.1" r="0.95"/><circle cx="149.8" cy="371.1" r="0.95"/><circle cx="154.5" cy="385.1" r="0.95"/><circle cx="154.3" cy="381.9" r="0.95"/><circle cx="135.7" cy="387.5" r="0.95"/><circle cx="136.4" cy="368.8" r="0.95"/><circle cx="134.2" cy="373.8" r="0.95"/><circle cx="134.5" cy="374.0" r="0.95"/><circle cx="133.3" cy="388.3" r="0.95"/><circle cx="134.0" cy="373.5" r="0.95"/><circle cx="133.1" cy="377.5" r="0.95"/><circle cx="137.0" cy="374.3" r="0.95"/><circle cx="131.1" cy="382.2" r="0.95"/><circle cx="129.5" cy="381.1" r="0.95"/><circle cx="137.0" cy="379.3" r="0.95"/><circle cx="130.8" cy="378.3" r="0.95"/><circle cx="133.2" cy="371.3" r="0.95"/><circle cx="129.5" cy="370.9" r="0.95"/><circle cx="131.0" cy="376.9" r="0.95"/><circle cx="131.0" cy="373.4" r="0.95"/><circle cx="129.2" cy="380.0" r="0.95"/><circle cx="136.0" cy="381.4" r="0.95"/><circle cx="133.5" cy="382.3" r="0.95"/><circle cx="130.2" cy="383.6" r="0.95"/><circle cx="132.5" cy="380.1" r="0.95"/><circle cx="133.9" cy="378.3" r="0.95"/><circle cx="131.2" cy="373.3" r="0.95"/><circle cx="130.4" cy="379.3" r="0.95"/><circle cx="131.8" cy="380.9" r="0.95"/><circle cx="128.5" cy="375.8" r="0.95"/><circle cx="136.2" cy="373.2" r="0.95"/><circle cx="133.4" cy="378.8" r="0.95"/><circle cx="131.0" cy="389.7" r="0.95"/><circle cx="131.1" cy="385.0" r="0.95"/><circle cx="129.8" cy="369.5" r="0.95"/><circle cx="136.2" cy="377.7" r="0.95"/><circle cx="129.0" cy="376.5" r="0.95"/><circle cx="132.4" cy="384.2" r="0.95"/><circle cx="129.4" cy="373.0" r="0.95"/><circle cx="137.0" cy="384.3" r="0.95"/><circle cx="129.8" cy="375.4" r="0.95"/><circle cx="131.6" cy="382.9" r="0.95"/><circle cx="133.9" cy="386.7" r="0.95"/><circle cx="123.4" cy="379.4" r="0.95"/><circle cx="125.3" cy="384.4" r="0.95"/><circle cx="124.9" cy="378.5" r="0.95"/><circle cx="124.3" cy="383.6" r="0.95"/><circle cx="119.7" cy="370.8" r="0.95"/><circle cx="121.8" cy="368.1" r="0.95"/><circle cx="124.7" cy="380.9" r="0.95"/><circle cx="128.6" cy="389.2" r="0.95"/><circle cx="127.8" cy="377.2" r="0.95"/><circle cx="124.3" cy="387.2" r="0.95"/><circle cx="127.3" cy="376.4" r="0.95"/><circle cx="129.0" cy="378.1" r="0.95"/><circle cx="125.6" cy="374.4" r="0.95"/><circle cx="129.5" cy="380.2" r="0.95"/><circle cx="129.6" cy="375.1" r="0.95"/><circle cx="124.3" cy="386.7" r="0.95"/><circle cx="128.5" cy="377.8" r="0.95"/><circle cx="131.0" cy="374.7" r="0.95"/><circle cx="131.2" cy="380.7" r="0.95"/><circle cx="127.6" cy="369.9" r="0.95"/><circle cx="119.4" cy="375.1" r="0.95"/><circle cx="122.7" cy="386.4" r="0.95"/><circle cx="116.1" cy="372.5" r="0.95"/><circle cx="129.2" cy="388.0" r="0.95"/><circle cx="131.9" cy="369.0" r="0.95"/><circle cx="127.8" cy="378.9" r="0.95"/><circle cx="119.4" cy="385.0" r="0.95"/><circle cx="128.1" cy="390.0" r="0.95"/><circle cx="128.4" cy="379.4" r="0.95"/><circle cx="126.2" cy="376.6" r="0.95"/><circle cx="116.5" cy="374.9" r="0.95"/><circle cx="164.9" cy="388.3" r="0.95"/><circle cx="157.0" cy="380.0" r="0.95"/><circle cx="158.0" cy="372.0" r="0.95"/><circle cx="160.6" cy="377.7" r="0.95"/></g>
<g fill="#2e6a4c"><circle cx="138.3" cy="424.3" r="0.95"/><circle cx="138.3" cy="432.2" r="0.95"/><circle cx="141.9" cy="422.8" r="0.95"/><circle cx="135.4" cy="419.4" r="0.95"/><circle cx="138.8" cy="423.6" r="0.95"/><circle cx="140.8" cy="430.7" r="0.95"/><circle cx="145.2" cy="421.9" r="0.95"/><circle cx="139.3" cy="425.0" r="0.95"/><circle cx="145.6" cy="418.7" r="0.95"/><circle cx="140.3" cy="429.3" r="0.95"/><circle cx="136.2" cy="418.1" r="0.95"/><circle cx="145.4" cy="429.5" r="0.95"/><circle cx="140.1" cy="413.5" r="0.95"/><circle cx="144.4" cy="426.5" r="0.95"/><circle cx="143.6" cy="433.2" r="0.95"/><circle cx="144.3" cy="420.4" r="0.95"/><circle cx="136.1" cy="417.5" r="0.95"/><circle cx="140.1" cy="422.3" r="0.95"/><circle cx="136.4" cy="415.1" r="0.95"/><circle cx="141.4" cy="424.5" r="0.95"/><circle cx="138.3" cy="433.3" r="0.95"/><circle cx="141.5" cy="411.9" r="0.95"/><circle cx="138.9" cy="428.6" r="0.95"/><circle cx="137.8" cy="426.5" r="0.95"/><circle cx="134.3" cy="417.8" r="0.95"/><circle cx="143.8" cy="424.1" r="0.95"/><circle cx="141.8" cy="415.4" r="0.95"/><circle cx="139.9" cy="423.4" r="0.95"/><circle cx="137.3" cy="425.5" r="0.95"/><circle cx="140.3" cy="433.3" r="0.95"/><circle cx="140.8" cy="420.2" r="0.95"/><circle cx="135.7" cy="414.5" r="0.95"/><circle cx="142.9" cy="413.4" r="0.95"/><circle cx="135.4" cy="414.8" r="0.95"/><circle cx="140.2" cy="429.4" r="0.95"/><circle cx="141.2" cy="429.1" r="0.95"/><circle cx="135.0" cy="411.3" r="0.95"/><circle cx="143.0" cy="418.2" r="0.95"/><circle cx="142.4" cy="418.9" r="0.95"/><circle cx="136.2" cy="417.0" r="0.95"/><circle cx="135.4" cy="431.2" r="0.95"/><circle cx="140.9" cy="418.8" r="0.95"/><circle cx="139.4" cy="419.6" r="0.95"/><circle cx="134.9" cy="430.9" r="0.95"/><circle cx="140.9" cy="432.5" r="0.95"/><circle cx="139.3" cy="424.9" r="0.95"/><circle cx="137.1" cy="412.0" r="0.95"/><circle cx="144.8" cy="430.1" r="0.95"/><circle cx="137.9" cy="431.1" r="0.95"/><circle cx="143.5" cy="417.8" r="0.95"/><circle cx="141.1" cy="432.5" r="0.95"/><circle cx="139.9" cy="432.3" r="0.95"/><circle cx="137.0" cy="419.7" r="0.95"/><circle cx="142.4" cy="416.0" r="0.95"/><circle cx="137.8" cy="430.6" r="0.95"/><circle cx="139.8" cy="428.8" r="0.95"/><circle cx="137.1" cy="414.9" r="0.95"/><circle cx="138.3" cy="415.2" r="0.95"/><circle cx="145.3" cy="417.5" r="0.95"/><circle cx="140.6" cy="413.6" r="0.95"/><circle cx="140.3" cy="419.6" r="0.95"/><circle cx="138.9" cy="412.5" r="0.95"/><circle cx="135.7" cy="429.5" r="0.95"/><circle cx="138.3" cy="416.5" r="0.95"/><circle cx="136.5" cy="417.4" r="0.95"/><circle cx="137.0" cy="411.8" r="0.95"/><circle cx="141.8" cy="418.6" r="0.95"/><circle cx="136.1" cy="426.8" r="0.95"/><circle cx="135.3" cy="417.0" r="0.95"/><circle cx="143.7" cy="413.9" r="0.95"/><circle cx="139.3" cy="429.7" r="0.95"/><circle cx="143.4" cy="414.6" r="0.95"/><circle cx="138.3" cy="427.2" r="0.95"/><circle cx="138.6" cy="432.5" r="0.95"/><circle cx="136.7" cy="432.3" r="0.95"/><circle cx="140.0" cy="416.1" r="0.95"/><circle cx="139.4" cy="413.9" r="0.95"/><circle cx="142.3" cy="416.8" r="0.95"/><circle cx="144.5" cy="424.2" r="0.95"/><circle cx="138.5" cy="416.5" r="0.95"/><circle cx="141.2" cy="415.8" r="0.95"/><circle cx="144.2" cy="413.8" r="0.95"/><circle cx="140.1" cy="423.2" r="0.95"/><circle cx="137.4" cy="428.3" r="0.95"/><circle cx="138.6" cy="425.7" r="0.95"/><circle cx="140.7" cy="418.0" r="0.95"/><circle cx="138.7" cy="412.9" r="0.95"/><circle cx="136.3" cy="430.1" r="0.95"/><circle cx="137.9" cy="425.8" r="0.95"/><circle cx="135.5" cy="423.6" r="0.95"/><circle cx="138.4" cy="422.2" r="0.95"/><circle cx="137.7" cy="412.5" r="0.95"/><circle cx="137.8" cy="416.1" r="0.95"/><circle cx="135.7" cy="427.1" r="0.95"/><circle cx="137.5" cy="420.0" r="0.95"/><circle cx="144.6" cy="428.4" r="0.95"/><circle cx="144.3" cy="430.3" r="0.95"/><circle cx="135.8" cy="417.2" r="0.95"/><circle cx="134.6" cy="426.2" r="0.95"/><circle cx="141.8" cy="418.9" r="0.95"/><circle cx="139.0" cy="425.8" r="0.95"/><circle cx="142.2" cy="416.6" r="0.95"/><circle cx="143.9" cy="418.9" r="0.95"/><circle cx="141.4" cy="415.1" r="0.95"/><circle cx="135.6" cy="431.4" r="0.95"/><circle cx="142.6" cy="427.0" r="0.95"/><circle cx="134.8" cy="411.9" r="0.95"/><circle cx="136.1" cy="415.4" r="0.95"/><circle cx="137.7" cy="419.5" r="0.95"/><circle cx="134.7" cy="418.0" r="0.95"/><circle cx="141.5" cy="415.0" r="0.95"/><circle cx="143.8" cy="423.8" r="0.95"/><circle cx="142.4" cy="416.7" r="0.95"/><circle cx="139.2" cy="426.3" r="0.95"/><circle cx="138.2" cy="411.0" r="0.95"/><circle cx="143.7" cy="428.4" r="0.95"/><circle cx="137.5" cy="412.0" r="0.95"/><circle cx="144.0" cy="424.6" r="0.95"/><circle cx="134.8" cy="416.5" r="0.95"/><circle cx="135.6" cy="428.7" r="0.95"/><circle cx="136.7" cy="431.5" r="0.95"/><circle cx="142.8" cy="412.9" r="0.95"/><circle cx="142.1" cy="419.8" r="0.95"/><circle cx="142.7" cy="429.6" r="0.95"/><circle cx="137.5" cy="413.0" r="0.95"/><circle cx="145.0" cy="420.5" r="0.95"/><circle cx="144.8" cy="426.5" r="0.95"/><circle cx="142.6" cy="429.6" r="0.95"/><circle cx="141.4" cy="421.1" r="0.95"/><circle cx="134.9" cy="426.6" r="0.95"/><circle cx="139.1" cy="422.5" r="0.95"/><circle cx="144.8" cy="413.9" r="0.95"/><circle cx="142.9" cy="412.0" r="0.95"/><circle cx="142.2" cy="429.0" r="0.95"/><circle cx="137.3" cy="423.2" r="0.95"/><circle cx="145.3" cy="425.3" r="0.95"/><circle cx="140.4" cy="416.6" r="0.95"/><circle cx="135.0" cy="419.0" r="0.95"/><circle cx="139.0" cy="415.5" r="0.95"/><circle cx="137.8" cy="414.1" r="0.95"/><circle cx="142.3" cy="426.0" r="0.95"/><circle cx="137.0" cy="416.4" r="0.95"/><circle cx="140.1" cy="421.0" r="0.95"/><circle cx="144.9" cy="418.9" r="0.95"/><circle cx="137.7" cy="430.8" r="0.95"/><circle cx="135.9" cy="423.6" r="0.95"/><circle cx="138.1" cy="429.3" r="0.95"/><circle cx="140.5" cy="428.0" r="0.95"/><circle cx="136.2" cy="425.9" r="0.95"/><circle cx="141.1" cy="421.3" r="0.95"/><circle cx="143.0" cy="429.6" r="0.95"/><circle cx="135.6" cy="417.5" r="0.95"/><circle cx="138.4" cy="415.6" r="0.95"/><circle cx="135.0" cy="417.3" r="0.95"/><circle cx="136.5" cy="426.7" r="0.95"/><circle cx="139.4" cy="413.5" r="0.95"/><circle cx="138.0" cy="421.5" r="0.95"/><circle cx="138.4" cy="414.8" r="0.95"/><circle cx="135.1" cy="411.2" r="0.95"/><circle cx="145.5" cy="427.8" r="0.95"/><circle cx="135.2" cy="427.1" r="0.95"/><circle cx="145.4" cy="423.6" r="0.95"/><circle cx="135.5" cy="422.0" r="0.95"/><circle cx="139.2" cy="415.3" r="0.95"/><circle cx="140.4" cy="411.2" r="0.95"/><circle cx="144.7" cy="425.4" r="0.95"/><circle cx="141.4" cy="431.9" r="0.95"/><circle cx="141.7" cy="416.6" r="0.95"/><circle cx="137.1" cy="414.1" r="0.95"/><circle cx="134.6" cy="428.3" r="0.95"/><circle cx="143.8" cy="417.6" r="0.95"/><circle cx="136.4" cy="425.3" r="0.95"/><circle cx="143.9" cy="431.8" r="0.95"/><circle cx="136.2" cy="428.6" r="0.95"/><circle cx="143.7" cy="427.6" r="0.95"/><circle cx="138.0" cy="415.1" r="0.95"/><circle cx="143.6" cy="418.2" r="0.95"/><circle cx="138.5" cy="423.3" r="0.95"/><circle cx="138.5" cy="429.6" r="0.95"/><circle cx="137.0" cy="411.9" r="0.95"/><circle cx="140.7" cy="425.1" r="0.95"/><circle cx="143.6" cy="426.8" r="0.95"/><circle cx="144.5" cy="432.2" r="0.95"/><circle cx="139.9" cy="422.2" r="0.95"/><circle cx="136.1" cy="417.7" r="0.95"/><circle cx="140.9" cy="412.8" r="0.95"/><circle cx="142.1" cy="414.7" r="0.95"/><circle cx="139.3" cy="432.7" r="0.95"/><circle cx="135.3" cy="411.9" r="0.95"/><circle cx="139.3" cy="415.3" r="0.95"/><circle cx="142.5" cy="411.1" r="0.95"/><circle cx="143.8" cy="430.2" r="0.95"/><circle cx="143.2" cy="420.5" r="0.95"/><circle cx="137.5" cy="425.8" r="0.95"/><circle cx="140.1" cy="420.4" r="0.95"/><circle cx="138.1" cy="420.8" r="0.95"/><circle cx="141.8" cy="429.5" r="0.95"/><circle cx="144.5" cy="414.7" r="0.95"/><circle cx="137.6" cy="420.9" r="0.95"/><circle cx="140.7" cy="418.8" r="0.95"/><circle cx="150.6" cy="412.9" r="0.95"/><circle cx="151.0" cy="421.3" r="0.95"/><circle cx="153.3" cy="431.4" r="0.95"/><circle cx="152.9" cy="432.8" r="0.95"/><circle cx="153.3" cy="424.9" r="0.95"/><circle cx="152.7" cy="412.3" r="0.95"/><circle cx="152.3" cy="424.6" r="0.95"/><circle cx="150.9" cy="423.8" r="0.95"/><circle cx="153.2" cy="421.8" r="0.95"/><circle cx="152.2" cy="417.7" r="0.95"/><circle cx="151.1" cy="430.8" r="0.95"/><circle cx="150.0" cy="415.2" r="0.95"/><circle cx="152.3" cy="421.0" r="0.95"/><circle cx="150.2" cy="425.8" r="0.95"/><circle cx="151.2" cy="424.0" r="0.95"/><circle cx="151.4" cy="422.9" r="0.95"/><circle cx="151.9" cy="419.9" r="0.95"/><circle cx="150.3" cy="415.0" r="0.95"/><circle cx="153.0" cy="423.3" r="0.95"/><circle cx="150.3" cy="430.3" r="0.95"/><circle cx="150.8" cy="413.1" r="0.95"/><circle cx="151.8" cy="416.6" r="0.95"/><circle cx="151.6" cy="423.4" r="0.95"/><circle cx="150.7" cy="423.8" r="0.95"/><circle cx="150.3" cy="422.5" r="0.95"/><circle cx="152.0" cy="412.8" r="0.95"/><circle cx="151.3" cy="412.6" r="0.95"/><circle cx="151.4" cy="430.3" r="0.95"/><circle cx="151.8" cy="427.0" r="0.95"/><circle cx="152.5" cy="413.6" r="0.95"/><circle cx="153.4" cy="427.2" r="0.95"/><circle cx="150.3" cy="429.6" r="0.95"/><circle cx="151.3" cy="414.8" r="0.95"/><circle cx="153.3" cy="423.6" r="0.95"/><circle cx="152.6" cy="414.1" r="0.95"/><circle cx="152.6" cy="412.3" r="0.95"/><circle cx="150.7" cy="419.3" r="0.95"/><circle cx="150.0" cy="424.3" r="0.95"/><circle cx="150.6" cy="417.7" r="0.95"/><circle cx="152.4" cy="420.5" r="0.95"/><circle cx="153.0" cy="424.9" r="0.95"/><circle cx="153.0" cy="423.6" r="0.95"/><circle cx="153.1" cy="430.5" r="0.95"/><circle cx="150.5" cy="427.7" r="0.95"/><circle cx="151.1" cy="428.1" r="0.95"/><circle cx="152.3" cy="429.5" r="0.95"/><circle cx="150.3" cy="419.4" r="0.95"/><circle cx="152.5" cy="432.2" r="0.95"/><circle cx="152.4" cy="412.0" r="0.95"/><circle cx="152.0" cy="413.2" r="0.95"/><circle cx="151.8" cy="429.0" r="0.95"/><circle cx="150.3" cy="431.7" r="0.95"/><circle cx="152.3" cy="416.7" r="0.95"/><circle cx="150.6" cy="421.0" r="0.95"/><circle cx="152.8" cy="424.0" r="0.95"/><circle cx="150.3" cy="411.5" r="0.95"/><circle cx="150.3" cy="428.9" r="0.95"/><circle cx="150.5" cy="423.4" r="0.95"/><circle cx="150.9" cy="426.4" r="0.95"/><circle cx="151.2" cy="414.2" r="0.95"/><circle cx="153.0" cy="423.1" r="0.95"/><circle cx="152.3" cy="429.1" r="0.95"/><circle cx="153.2" cy="411.3" r="0.95"/><circle cx="151.1" cy="414.4" r="0.95"/><circle cx="151.7" cy="430.6" r="0.95"/><circle cx="152.7" cy="411.8" r="0.95"/><circle cx="150.5" cy="429.3" r="0.95"/><circle cx="152.3" cy="419.8" r="0.95"/><circle cx="151.6" cy="414.5" r="0.95"/><circle cx="152.9" cy="419.8" r="0.95"/><circle cx="153.0" cy="424.7" r="0.95"/><circle cx="150.2" cy="418.4" r="0.95"/><circle cx="150.7" cy="431.0" r="0.95"/><circle cx="152.0" cy="412.0" r="0.95"/><circle cx="150.5" cy="419.1" r="0.95"/><circle cx="151.5" cy="423.9" r="0.95"/><circle cx="151.3" cy="418.9" r="0.95"/><circle cx="149.9" cy="424.0" r="0.95"/><circle cx="151.1" cy="411.5" r="0.95"/><circle cx="151.5" cy="433.1" r="0.95"/><circle cx="150.1" cy="414.3" r="0.95"/><circle cx="152.2" cy="417.1" r="0.95"/><circle cx="150.9" cy="422.2" r="0.95"/><circle cx="150.8" cy="423.7" r="0.95"/><circle cx="151.7" cy="432.4" r="0.95"/><circle cx="153.4" cy="411.8" r="0.95"/><circle cx="151.9" cy="428.3" r="0.95"/><circle cx="153.0" cy="428.3" r="0.95"/><circle cx="152.1" cy="425.2" r="0.95"/><circle cx="151.2" cy="417.3" r="0.95"/><circle cx="133.7" cy="430.6" r="0.95"/><circle cx="134.1" cy="426.3" r="0.95"/><circle cx="132.2" cy="428.1" r="0.95"/><circle cx="133.5" cy="422.4" r="0.95"/><circle cx="133.2" cy="418.8" r="0.95"/><circle cx="133.0" cy="420.1" r="0.95"/><circle cx="131.5" cy="418.6" r="0.95"/><circle cx="132.3" cy="433.1" r="0.95"/><circle cx="132.7" cy="419.2" r="0.95"/><circle cx="132.0" cy="416.3" r="0.95"/><circle cx="132.3" cy="414.0" r="0.95"/><circle cx="131.3" cy="430.5" r="0.95"/><circle cx="132.7" cy="421.0" r="0.95"/><circle cx="133.0" cy="417.8" r="0.95"/><circle cx="131.8" cy="412.5" r="0.95"/><circle cx="131.1" cy="417.9" r="0.95"/><circle cx="127.3" cy="423.3" r="0.95"/><circle cx="121.4" cy="418.6" r="0.95"/><circle cx="122.3" cy="424.1" r="0.95"/><circle cx="132.2" cy="415.0" r="0.95"/><circle cx="129.0" cy="433.1" r="0.95"/><circle cx="130.7" cy="428.3" r="0.95"/><circle cx="130.3" cy="430.5" r="0.95"/><circle cx="132.2" cy="421.9" r="0.95"/><circle cx="123.3" cy="417.2" r="0.95"/><circle cx="131.3" cy="411.5" r="0.95"/><circle cx="131.8" cy="417.0" r="0.95"/><circle cx="114.4" cy="429.1" r="0.95"/><circle cx="121.3" cy="424.4" r="0.95"/><circle cx="123.0" cy="432.7" r="0.95"/><circle cx="127.4" cy="429.6" r="0.95"/><circle cx="163.7" cy="432.2" r="0.95"/><circle cx="156.0" cy="425.0" r="0.95"/><circle cx="157.0" cy="430.0" r="0.95"/></g>
<line x1="124.50" y1="279.10" x2="132.50" y2="289.50" stroke="#b5173c" stroke-width="0.6" />
<line x1="159.90" y1="279.00" x2="156.30" y2="292.40" stroke="#b5173c" stroke-width="0.6" />
<rect x="47.50" y="280.40" width="17.30" height="6.70" fill="#fff" stroke="#b5173c" stroke-width="0.85" rx="1.3"/>
<text x="56.15" y="285.60" font-size="6.0" text-anchor="middle" fill="#444" stroke="#444" stroke-width="0.05" textLength="13.60" lengthAdjust="spacingAndGlyphs" >Eklf</text>
<rect x="79.20" y="283.30" width="17.00" height="6.10" fill="#fff" stroke="#b5173c" stroke-width="0.85" rx="1.3"/>
<text x="87.70" y="287.90" font-size="6.0" text-anchor="middle" fill="#444" stroke="#444" stroke-width="0.05" textLength="13.60" lengthAdjust="spacingAndGlyphs" >Klf4</text>
<rect x="113.30" y="272.50" width="20.60" height="6.60" fill="#fff" stroke="#b5173c" stroke-width="0.85" rx="1.3"/>
<text x="123.60" y="277.60" font-size="6.0" text-anchor="middle" fill="#444" stroke="#444" stroke-width="0.05" textLength="17.00" lengthAdjust="spacingAndGlyphs" >Gata1</text>
<rect x="150.80" y="272.50" width="18.10" height="6.60" fill="#fff" stroke="#b5173c" stroke-width="0.85" rx="1.3"/>
<text x="159.85" y="277.60" font-size="6.0" text-anchor="middle" fill="#444" stroke="#444" stroke-width="0.05" textLength="13.60" lengthAdjust="spacingAndGlyphs" >Pu.1</text>
<line x1="160.00" y1="320.80" x2="163.50" y2="330.00" stroke="#2b4c8c" stroke-width="0.6" />
<rect x="73.00" y="318.30" width="20.80" height="7.10" fill="#fff" stroke="#2b4c8c" stroke-width="0.85" rx="1.3"/>
<text x="83.40" y="323.90" font-size="6.0" text-anchor="middle" fill="#444" stroke="#444" stroke-width="0.05" textLength="17.00" lengthAdjust="spacingAndGlyphs" >Stat3</text>
<rect x="61.50" y="332.70" width="16.40" height="6.70" fill="#fff" stroke="#2b4c8c" stroke-width="0.85" rx="1.3"/>
<text x="69.70" y="337.90" font-size="6.0" text-anchor="middle" fill="#444" stroke="#444" stroke-width="0.05" textLength="13.20" lengthAdjust="spacingAndGlyphs" >Eklf</text>
<rect x="102.50" y="317.00" width="20.50" height="7.00" fill="#fff" stroke="#2b4c8c" stroke-width="0.85" rx="1.3"/>
<text x="112.75" y="322.50" font-size="6.0" text-anchor="middle" fill="#444" stroke="#444" stroke-width="0.05" textLength="17.00" lengthAdjust="spacingAndGlyphs" >Gata1</text>
<rect x="148.70" y="313.70" width="20.10" height="7.10" fill="#fff" stroke="#2b4c8c" stroke-width="0.85" rx="1.3"/>
<text x="158.75" y="319.30" font-size="6.0" text-anchor="middle" fill="#444" stroke="#444" stroke-width="0.05" textLength="13.60" lengthAdjust="spacingAndGlyphs" >Runx</text>
<line x1="113.70" y1="361.30" x2="125.10" y2="374.40" stroke="#e3941d" stroke-width="0.6" />
<line x1="160.30" y1="364.60" x2="160.60" y2="377.70" stroke="#e3941d" stroke-width="0.6" />
<rect x="103.40" y="354.50" width="21.30" height="6.80" fill="#fff" stroke="#e3941d" stroke-width="0.85" rx="1.3"/>
<text x="114.05" y="359.80" font-size="6.0" text-anchor="middle" fill="#444" stroke="#444" stroke-width="0.05" textLength="17.00" lengthAdjust="spacingAndGlyphs" >Gata1</text>
<rect x="96.50" y="371.20" width="17.70" height="6.20" fill="#fff" stroke="#e3941d" stroke-width="0.85" rx="1.3"/>
<text x="105.35" y="375.90" font-size="6.0" text-anchor="middle" fill="#444" stroke="#444" stroke-width="0.05" textLength="13.60" lengthAdjust="spacingAndGlyphs" >Eklf</text>
<rect x="152.10" y="358.90" width="17.20" height="5.70" fill="#fff" stroke="#e3941d" stroke-width="0.85" rx="1.3"/>
<text x="160.70" y="363.10" font-size="6.0" text-anchor="middle" fill="#444" stroke="#444" stroke-width="0.05" textLength="10.20" lengthAdjust="spacingAndGlyphs" >Scl</text>
<rect x="151.30" y="391.60" width="18.30" height="6.00" fill="#fff" stroke="#e3941d" stroke-width="0.85" rx="1.3"/>
<text x="160.45" y="396.10" font-size="6.0" text-anchor="middle" fill="#444" stroke="#444" stroke-width="0.05" textLength="10.20" lengthAdjust="spacingAndGlyphs" >Erg</text>
<line x1="161.20" y1="405.70" x2="154.20" y2="421.00" stroke="#2e6a4c" stroke-width="0.6" />
<line x1="120.50" y1="411.40" x2="134.30" y2="420.10" stroke="#2e6a4c" stroke-width="0.6" />
<rect x="150.40" y="398.80" width="19.40" height="6.90" fill="#fff" stroke="#2e6a4c" stroke-width="0.85" rx="1.3"/>
<text x="160.10" y="404.20" font-size="6.0" text-anchor="middle" fill="#444" stroke="#444" stroke-width="0.05" textLength="13.60" lengthAdjust="spacingAndGlyphs" >Runx</text>
<rect x="109.20" y="404.90" width="20.50" height="6.50" fill="#fff" stroke="#2e6a4c" stroke-width="0.85" rx="1.3"/>
<text x="119.45" y="409.90" font-size="6.0" text-anchor="middle" fill="#444" stroke="#444" stroke-width="0.05" textLength="17.00" lengthAdjust="spacingAndGlyphs" >Gata1</text>
<rect x="101.80" y="418.00" width="16.90" height="5.60" fill="#fff" stroke="#2e6a4c" stroke-width="0.85" rx="1.3"/>
<text x="110.25" y="422.10" font-size="6.0" text-anchor="middle" fill="#444" stroke="#444" stroke-width="0.05" textLength="13.60" lengthAdjust="spacingAndGlyphs" >Klf4</text>
<rect x="94.00" y="426.20" width="17.50" height="5.70" fill="#fff" stroke="#2e6a4c" stroke-width="0.85" rx="1.3"/>
<text x="102.75" y="430.40" font-size="6.0" text-anchor="middle" fill="#444" stroke="#444" stroke-width="0.05" textLength="13.60" lengthAdjust="spacingAndGlyphs" >Eklf</text>
<rect x="149.60" y="436.20" width="19.90" height="6.70" fill="#fff" stroke="#2e6a4c" stroke-width="0.85" rx="1.3"/>
<text x="159.55" y="441.40" font-size="6.0" text-anchor="middle" fill="#444" stroke="#444" stroke-width="0.05" textLength="10.20" lengthAdjust="spacingAndGlyphs" >Erg</text>
<text x="186.20" y="266.30" font-size="12.5" text-anchor="start" fill="#000" font-weight="bold" >F</text>
<text x="263.00" y="273.00" font-size="10.2" text-anchor="middle" fill="#231f20" stroke="#231f20" stroke-width="0.08" textLength="54.00" lengthAdjust="spacingAndGlyphs" >GATA1 motif</text>
<line x1="220.80" y1="279.50" x2="220.80" y2="352.10" stroke="#231f20" stroke-width="1.2" />
<line x1="220.20" y1="351.50" x2="304.50" y2="351.50" stroke="#231f20" stroke-width="1.2" />
<line x1="217.80" y1="351.50" x2="220.80" y2="351.50" stroke="#231f20" stroke-width="0.9" />
<text x="215.80" y="353.80" font-size="6.8" text-anchor="end" fill="#231f20" stroke="#231f20" stroke-width="0.08" >0</text>
<line x1="217.80" y1="337.50" x2="220.80" y2="337.50" stroke="#231f20" stroke-width="0.9" />
<text x="215.80" y="339.80" font-size="6.8" text-anchor="end" fill="#231f20" stroke="#231f20" stroke-width="0.08" >5</text>
<line x1="217.80" y1="323.50" x2="220.80" y2="323.50" stroke="#231f20" stroke-width="0.9" />
<text x="215.80" y="325.80" font-size="6.8" text-anchor="end" fill="#231f20" stroke="#231f20" stroke-width="0.08" >10</text>
<line x1="217.80" y1="309.50" x2="220.80" y2="309.50" stroke="#231f20" stroke-width="0.9" />
<text x="215.80" y="311.80" font-size="6.8" text-anchor="end" fill="#231f20" stroke="#231f20" stroke-width="0.08" >15</text>
<line x1="217.80" y1="295.50" x2="220.80" y2="295.50" stroke="#231f20" stroke-width="0.9" />
<text x="215.80" y="297.80" font-size="6.8" text-anchor="end" fill="#231f20" stroke="#231f20" stroke-width="0.08" >20</text>
<line x1="217.80" y1="281.50" x2="220.80" y2="281.50" stroke="#231f20" stroke-width="0.9" />
<text x="215.80" y="283.80" font-size="6.8" text-anchor="end" fill="#231f20" stroke="#231f20" stroke-width="0.08" >25</text>
<rect x="224.00" y="298.30" width="11.20" height="53.20" fill="#c6c4ca" stroke="none" stroke-width="1" />
<line x1="229.60" y1="351.50" x2="229.60" y2="354.30" stroke="#231f20" stroke-width="0.8" />
<text x="228.70" y="364.60" font-size="7.3" text-anchor="middle" fill="#231f20" stroke="#231f20" stroke-width="0.08" textLength="9.20" lengthAdjust="spacingAndGlyphs" >Ctrl</text>
<rect x="240.50" y="338.06" width="11.20" height="13.44" fill="#65ab45" stroke="none" stroke-width="1" />
<line x1="246.10" y1="351.50" x2="246.10" y2="354.30" stroke="#231f20" stroke-width="0.8" />
<text x="246.10" y="338.46" font-size="6.4" text-anchor="middle" fill="#333" stroke="#333" stroke-width="0.08" >**</text>
<text x="245.10" y="364.60" font-size="7.3" text-anchor="middle" fill="#231f20" stroke="#231f20" stroke-width="0.08" textLength="11.70" lengthAdjust="spacingAndGlyphs" >ERG</text>
<rect x="257.00" y="344.22" width="11.20" height="7.28" fill="#e8951f" stroke="none" stroke-width="1" />
<line x1="262.60" y1="351.50" x2="262.60" y2="354.30" stroke="#231f20" stroke-width="0.8" />
<text x="262.60" y="344.62" font-size="6.4" text-anchor="middle" fill="#333" stroke="#333" stroke-width="0.08" >***</text>
<text x="258.90" y="364.60" font-size="7.3" text-anchor="middle" fill="#231f20" stroke="#231f20" stroke-width="0.08" textLength="15.70" lengthAdjust="spacingAndGlyphs" >ETO2</text>
<rect x="273.70" y="347.58" width="11.30" height="3.92" fill="#2b4c8c" stroke="none" stroke-width="1" />
<line x1="279.35" y1="351.50" x2="279.35" y2="354.30" stroke="#231f20" stroke-width="0.8" />
<text x="279.35" y="347.98" font-size="6.4" text-anchor="middle" fill="#333" stroke="#333" stroke-width="0.08" >***</text>
<text x="279.60" y="364.60" font-size="7.3" text-anchor="middle" fill="#231f20" stroke="#231f20" stroke-width="0.08" textLength="10.40" lengthAdjust="spacingAndGlyphs" >SKI</text>
<rect x="290.50" y="338.06" width="11.20" height="13.44" fill="#b5173c" stroke="none" stroke-width="1" />
<line x1="296.10" y1="351.50" x2="296.10" y2="354.30" stroke="#231f20" stroke-width="0.8" />
<text x="296.10" y="338.46" font-size="6.4" text-anchor="middle" fill="#333" stroke="#333" stroke-width="0.08" >**</text>
<text x="296.00" y="364.60" font-size="7.3" text-anchor="middle" fill="#231f20" stroke="#231f20" stroke-width="0.08" textLength="14.10" lengthAdjust="spacingAndGlyphs" >SPI1</text>
<text x="201.80" y="315.00" font-size="9" text-anchor="middle" fill="#231f20" stroke="#231f20" stroke-width="0.08" textLength="80.00" lengthAdjust="spacingAndGlyphs" transform="rotate(-90 201.80 315.00)" >% of sequence with motif</text>
<text x="263.10" y="380.60" font-size="10.2" text-anchor="middle" fill="#231f20" stroke="#231f20" stroke-width="0.08" textLength="43.70" lengthAdjust="spacingAndGlyphs" >ERG motif</text>
<line x1="221.20" y1="386.50" x2="221.20" y2="459.40" stroke="#231f20" stroke-width="1.2" />
<line x1="220.60" y1="458.80" x2="304.50" y2="458.80" stroke="#231f20" stroke-width="1.2" />
<line x1="218.20" y1="458.80" x2="221.20" y2="458.80" stroke="#231f20" stroke-width="0.9" />
<text x="216.20" y="461.10" font-size="6.8" text-anchor="end" fill="#231f20" stroke="#231f20" stroke-width="0.08" >0</text>
<line x1="218.20" y1="435.60" x2="221.20" y2="435.60" stroke="#231f20" stroke-width="0.9" />
<text x="216.20" y="437.90" font-size="6.8" text-anchor="end" fill="#231f20" stroke="#231f20" stroke-width="0.08" >20</text>
<line x1="218.20" y1="412.40" x2="221.20" y2="412.40" stroke="#231f20" stroke-width="0.9" />
<text x="216.20" y="414.70" font-size="6.8" text-anchor="end" fill="#231f20" stroke="#231f20" stroke-width="0.08" >40</text>
<line x1="218.20" y1="389.20" x2="221.20" y2="389.20" stroke="#231f20" stroke-width="0.9" />
<text x="216.20" y="391.50" font-size="6.8" text-anchor="end" fill="#231f20" stroke="#231f20" stroke-width="0.08" >60</text>
<rect x="224.00" y="442.10" width="11.20" height="16.70" fill="#c6c4ca" stroke="none" stroke-width="1" />
<line x1="229.60" y1="458.80" x2="229.60" y2="461.60" stroke="#231f20" stroke-width="0.8" />
<text x="228.70" y="471.80" font-size="7.3" text-anchor="middle" fill="#231f20" stroke="#231f20" stroke-width="0.08" textLength="9.20" lengthAdjust="spacingAndGlyphs" >Ctrl</text>
<rect x="240.50" y="396.74" width="11.20" height="62.06" fill="#65ab45" stroke="none" stroke-width="1" />
<line x1="246.10" y1="458.80" x2="246.10" y2="461.60" stroke="#231f20" stroke-width="0.8" />
<text x="246.10" y="397.14" font-size="6.4" text-anchor="middle" fill="#333" stroke="#333" stroke-width="0.08" >***</text>
<text x="245.10" y="471.80" font-size="7.3" text-anchor="middle" fill="#231f20" stroke="#231f20" stroke-width="0.08" textLength="11.70" lengthAdjust="spacingAndGlyphs" >ERG</text>
<rect x="257.00" y="394.42" width="11.20" height="64.38" fill="#e8951f" stroke="none" stroke-width="1" />
<line x1="262.60" y1="458.80" x2="262.60" y2="461.60" stroke="#231f20" stroke-width="0.8" />
<text x="262.60" y="394.82" font-size="6.4" text-anchor="middle" fill="#333" stroke="#333" stroke-width="0.08" >***</text>
<text x="258.90" y="471.80" font-size="7.3" text-anchor="middle" fill="#231f20" stroke="#231f20" stroke-width="0.08" textLength="15.70" lengthAdjust="spacingAndGlyphs" >ETO2</text>
<rect x="273.70" y="431.54" width="11.30" height="27.26" fill="#2b4c8c" stroke="none" stroke-width="1" />
<line x1="279.35" y1="458.80" x2="279.35" y2="461.60" stroke="#231f20" stroke-width="0.8" />
<text x="279.35" y="431.94" font-size="6.4" text-anchor="middle" fill="#333" stroke="#333" stroke-width="0.08" >*</text>
<text x="279.60" y="471.80" font-size="7.3" text-anchor="middle" fill="#231f20" stroke="#231f20" stroke-width="0.08" textLength="10.40" lengthAdjust="spacingAndGlyphs" >SKI</text>
<rect x="290.50" y="434.44" width="11.20" height="24.36" fill="#b5173c" stroke="none" stroke-width="1" />
<line x1="296.10" y1="458.80" x2="296.10" y2="461.60" stroke="#231f20" stroke-width="0.8" />
<text x="296.10" y="434.84" font-size="6.4" text-anchor="middle" fill="#333" stroke="#333" stroke-width="0.08" >*</text>
<text x="296.00" y="471.80" font-size="7.3" text-anchor="middle" fill="#231f20" stroke="#231f20" stroke-width="0.08" textLength="14.10" lengthAdjust="spacingAndGlyphs" >SPI1</text>
<text x="201.80" y="422.50" font-size="9" text-anchor="middle" fill="#231f20" stroke="#231f20" stroke-width="0.08" textLength="82.50" lengthAdjust="spacingAndGlyphs" transform="rotate(-90 201.80 422.50)" >% of sequence with motif</text>
<text x="315.00" y="266.20" font-size="12.5" text-anchor="start" fill="#000" font-weight="bold" >G</text>
<defs><linearGradient id="hLCtrl" gradientUnits="userSpaceOnUse" x1="0" y1="277.0" x2="0" y2="442.5"><stop offset="0.0030" stop-color="#181818"/><stop offset="0.0091" stop-color="#7a7a7a"/><stop offset="0.0151" stop-color="#b1b1b1"/><stop offset="0.0211" stop-color="#d7d7d7"/><stop offset="0.0272" stop-color="#b7b7b7"/><stop offset="0.0332" stop-color="#b8b8b8"/><stop offset="0.0393" stop-color="#a9a9a9"/><stop offset="0.0453" stop-color="#b8b8b8"/><stop offset="0.0514" stop-color="#bebebe"/><stop offset="0.0574" stop-color="#adadad"/><stop offset="0.0634" stop-color="#c3c3c3"/><stop offset="0.0695" stop-color="#bebebe"/><stop offset="0.0755" stop-color="#bababa"/><stop offset="0.0816" stop-color="#b3b3b3"/><stop offset="0.0876" stop-color="#c0c0c0"/><stop offset="0.0937" stop-color="#c5c5c5"/><stop offset="0.0997" stop-color="#c4c4c4"/><stop offset="0.1057" stop-color="#bfbfbf"/><stop offset="0.1118" stop-color="#c6c6c6"/><stop offset="0.1178" stop-color="#bcbcbc"/><stop offset="0.1239" stop-color="#bfbfbf"/><stop offset="0.1299" stop-color="#c7c7c7"/><stop offset="0.1360" stop-color="#dfdfdf"/><stop offset="0.1420" stop-color="#c8c8c8"/><stop offset="0.1480" stop-color="#c9c9c9"/><stop offset="0.1541" stop-color="#d0d0d0"/><stop offset="0.1601" stop-color="#c7c7c7"/><stop offset="0.1662" stop-color="#d0d0d0"/><stop offset="0.1722" stop-color="#c5c5c5"/><stop offset="0.1782" stop-color="#c9c9c9"/><stop offset="0.1843" stop-color="#c8c8c8"/><stop offset="0.1903" stop-color="#cbcbcb"/><stop offset="0.1964" stop-color="#cfcfcf"/><stop offset="0.2024" stop-color="#cdcdcd"/><stop offset="0.2085" stop-color="#d1d1d1"/><stop offset="0.2145" stop-color="#d4d4d4"/><stop offset="0.2205" stop-color="#cfcfcf"/><stop offset="0.2266" stop-color="#d6d6d6"/><stop offset="0.2326" stop-color="#cecece"/><stop offset="0.2387" stop-color="#cdcdcd"/><stop offset="0.2447" stop-color="#cfcfcf"/><stop offset="0.2508" stop-color="#d2d2d2"/><stop offset="0.2568" stop-color="#d2d2d2"/><stop offset="0.2628" stop-color="#d1d1d1"/><stop offset="0.2689" stop-color="#d3d3d3"/><stop offset="0.2749" stop-color="#d3d3d3"/><stop offset="0.2810" stop-color="#d2d2d2"/><stop offset="0.2870" stop-color="#d6d6d6"/><stop offset="0.2931" stop-color="#dddddd"/><stop offset="0.2991" stop-color="#dcdcdc"/><stop offset="0.3051" stop-color="#dadada"/><stop offset="0.3112" stop-color="#dddddd"/><stop offset="0.3172" stop-color="#dfdfdf"/><stop offset="0.3233" stop-color="#d8d8d8"/><stop offset="0.3293" stop-color="#dbdbdb"/><stop offset="0.3353" stop-color="#dddddd"/><stop offset="0.3414" stop-color="#dbdbdb"/><stop offset="0.3474" stop-color="#d9d9d9"/><stop offset="0.3535" stop-color="#dfdfdf"/><stop offset="0.3595" stop-color="#e1e1e1"/><stop offset="0.3656" stop-color="#dddddd"/><stop offset="0.3716" stop-color="#dedede"/><stop offset="0.3776" stop-color="#e3e3e3"/><stop offset="0.3837" stop-color="#dcdcdc"/><stop offset="0.3897" stop-color="#e2e2e2"/><stop offset="0.3958" stop-color="#e2e2e2"/><stop offset="0.4018" stop-color="#e3e3e3"/><stop offset="0.4079" stop-color="#e3e3e3"/><stop offset="0.4139" stop-color="#e1e1e1"/><stop offset="0.4199" stop-color="#e4e4e4"/><stop offset="0.4260" stop-color="#dfdfdf"/><stop offset="0.4320" stop-color="#e5e5e5"/><stop offset="0.4381" stop-color="#e3e3e3"/><stop offset="0.4441" stop-color="#e6e6e6"/><stop offset="0.4502" stop-color="#e1e1e1"/><stop offset="0.4562" stop-color="#e7e7e7"/><stop offset="0.4622" stop-color="#e8e8e8"/><stop offset="0.4683" stop-color="#e7e7e7"/><stop offset="0.4743" stop-color="#e8e8e8"/><stop offset="0.4804" stop-color="#e4e4e4"/><stop offset="0.4864" stop-color="#e8e8e8"/><stop offset="0.4924" stop-color="#e4e4e4"/><stop offset="0.4985" stop-color="#f2f2f2"/><stop offset="0.5045" stop-color="#e6e6e6"/><stop offset="0.5106" stop-color="#e6e6e6"/><stop offset="0.5166" stop-color="#eaeaea"/><stop offset="0.5227" stop-color="#e6e6e6"/><stop offset="0.5287" stop-color="#e6e6e6"/><stop offset="0.5347" stop-color="#e8e8e8"/><stop offset="0.5408" stop-color="#e9e9e9"/><stop offset="0.5468" stop-color="#e7e7e7"/><stop offset="0.5529" stop-color="#e9e9e9"/><stop offset="0.5589" stop-color="#e8e8e8"/><stop offset="0.5650" stop-color="#f4f4f4"/><stop offset="0.5710" stop-color="#eaeaea"/><stop offset="0.5770" stop-color="#e9e9e9"/><stop offset="0.5831" stop-color="#eaeaea"/><stop offset="0.5891" stop-color="#ebebeb"/><stop offset="0.5952" stop-color="#e9e9e9"/><stop offset="0.6012" stop-color="#ececec"/><stop offset="0.6073" stop-color="#eeeeee"/><stop offset="0.6133" stop-color="#e9e9e9"/><stop offset="0.6193" stop-color="#eaeaea"/><stop offset="0.6254" stop-color="#eaeaea"/><stop offset="0.6314" stop-color="#eeeeee"/><stop offset="0.6375" stop-color="#ececec"/><stop offset="0.6435" stop-color="#ebebeb"/><stop offset="0.6495" stop-color="#eeeeee"/><stop offset="0.6556" stop-color="#ececec"/><stop offset="0.6616" stop-color="#eeeeee"/><stop offset="0.6677" stop-color="#efefef"/><stop offset="0.6737" stop-color="#ececec"/><stop offset="0.6798" stop-color="#f0f0f0"/><stop offset="0.6858" stop-color="#f0f0f0"/><stop offset="0.6918" stop-color="#eeeeee"/><stop offset="0.6979" stop-color="#f0f0f0"/><stop offset="0.7039" stop-color="#ededed"/><stop offset="0.7100" stop-color="#eeeeee"/><stop offset="0.7160" stop-color="#eeeeee"/><stop offset="0.7221" stop-color="#efefef"/><stop offset="0.7281" stop-color="#f1f1f1"/><stop offset="0.7341" stop-color="#efefef"/><stop offset="0.7402" stop-color="#efefef"/><stop offset="0.7462" stop-color="#f5f5f5"/><stop offset="0.7523" stop-color="#f0f0f0"/><stop offset="0.7583" stop-color="#f1f1f1"/><stop offset="0.7644" stop-color="#f0f0f0"/><stop offset="0.7704" stop-color="#f2f2f2"/><stop offset="0.7764" stop-color="#f0f0f0"/><stop offset="0.7825" stop-color="#f0f0f0"/><stop offset="0.7885" stop-color="#f1f1f1"/><stop offset="0.7946" stop-color="#f0f0f0"/><stop offset="0.8006" stop-color="#f1f1f1"/><stop offset="0.8066" stop-color="#f0f0f0"/><stop offset="0.8127" stop-color="#f1f1f1"/><stop offset="0.8187" stop-color="#f2f2f2"/><stop offset="0.8248" stop-color="#f2f2f2"/><stop offset="0.8308" stop-color="#f3f3f3"/><stop offset="0.8369" stop-color="#f2f2f2"/><stop offset="0.8429" stop-color="#f1f1f1"/><stop offset="0.8489" stop-color="#f1f1f1"/><stop offset="0.8550" stop-color="#f2f2f2"/><stop offset="0.8610" stop-color="#f3f3f3"/><stop offset="0.8671" stop-color="#f1f1f1"/><stop offset="0.8731" stop-color="#f2f2f2"/><stop offset="0.8792" stop-color="#f4f4f4"/><stop offset="0.8852" stop-color="#f2f2f2"/><stop offset="0.8912" stop-color="#f3f3f3"/><stop offset="0.8973" stop-color="#f4f4f4"/><stop offset="0.9033" stop-color="#f2f2f2"/><stop offset="0.9094" stop-color="#f2f2f2"/><stop offset="0.9154" stop-color="#f3f3f3"/><stop offset="0.9215" stop-color="#f4f4f4"/><stop offset="0.9275" stop-color="#f3f3f3"/><stop offset="0.9335" stop-color="#f4f4f4"/><stop offset="0.9396" stop-color="#f4f4f4"/><stop offset="0.9456" stop-color="#f2f2f2"/><stop offset="0.9517" stop-color="#f3f3f3"/><stop offset="0.9577" stop-color="#f4f4f4"/><stop offset="0.9637" stop-color="#f4f4f4"/><stop offset="0.9698" stop-color="#f3f3f3"/><stop offset="0.9758" stop-color="#f4f4f4"/><stop offset="0.9819" stop-color="#f3f3f3"/><stop offset="0.9879" stop-color="#f4f4f4"/><stop offset="0.9940" stop-color="#f4f4f4"/></linearGradient></defs>
<defs><linearGradient id="hRCtrl" gradientUnits="userSpaceOnUse" x1="0" y1="277.0" x2="0" y2="442.5"><stop offset="0.0030" stop-color="#181818"/><stop offset="0.0091" stop-color="#969696"/><stop offset="0.0151" stop-color="#d6d6d6"/><stop offset="0.0211" stop-color="#e7e7e7"/><stop offset="0.0272" stop-color="#d5d5d5"/><stop offset="0.0332" stop-color="#d7d7d7"/><stop offset="0.0393" stop-color="#cecece"/><stop offset="0.0453" stop-color="#d7d7d7"/><stop offset="0.0514" stop-color="#d9d9d9"/><stop offset="0.0574" stop-color="#d2d2d2"/><stop offset="0.0634" stop-color="#dadada"/><stop offset="0.0695" stop-color="#d8d8d8"/><stop offset="0.0755" stop-color="#dbdbdb"/><stop offset="0.0816" stop-color="#d6d6d6"/><stop offset="0.0876" stop-color="#d9d9d9"/><stop offset="0.0937" stop-color="#dcdcdc"/><stop offset="0.0997" stop-color="#dedede"/><stop offset="0.1057" stop-color="#d9d9d9"/><stop offset="0.1118" stop-color="#dfdfdf"/><stop offset="0.1178" stop-color="#d8d8d8"/><stop offset="0.1239" stop-color="#d8d8d8"/><stop offset="0.1299" stop-color="#dddddd"/><stop offset="0.1360" stop-color="#ededed"/><stop offset="0.1420" stop-color="#e1e1e1"/><stop offset="0.1480" stop-color="#e0e0e0"/><stop offset="0.1541" stop-color="#e1e1e1"/><stop offset="0.1601" stop-color="#e1e1e1"/><stop offset="0.1662" stop-color="#e2e2e2"/><stop offset="0.1722" stop-color="#dcdcdc"/><stop offset="0.1782" stop-color="#dedede"/><stop offset="0.1843" stop-color="#dfdfdf"/><stop offset="0.1903" stop-color="#e0e0e0"/><stop offset="0.1964" stop-color="#e4e4e4"/><stop offset="0.2024" stop-color="#e2e2e2"/><stop offset="0.2085" stop-color="#e5e5e5"/><stop offset="0.2145" stop-color="#e6e6e6"/><stop offset="0.2205" stop-color="#e1e1e1"/><stop offset="0.2266" stop-color="#e6e6e6"/><stop offset="0.2326" stop-color="#e4e4e4"/><stop offset="0.2387" stop-color="#e2e2e2"/><stop offset="0.2447" stop-color="#e2e2e2"/><stop offset="0.2508" stop-color="#e3e3e3"/><stop offset="0.2568" stop-color="#e6e6e6"/><stop offset="0.2628" stop-color="#e3e3e3"/><stop offset="0.2689" stop-color="#e5e5e5"/><stop offset="0.2749" stop-color="#e3e3e3"/><stop offset="0.2810" stop-color="#e3e3e3"/><stop offset="0.2870" stop-color="#e6e6e6"/><stop offset="0.2931" stop-color="#eaeaea"/><stop offset="0.2991" stop-color="#e8e8e8"/><stop offset="0.3051" stop-color="#eaeaea"/><stop offset="0.3112" stop-color="#ececec"/><stop offset="0.3172" stop-color="#ebebeb"/><stop offset="0.3233" stop-color="#e7e7e7"/><stop offset="0.3293" stop-color="#eaeaea"/><stop offset="0.3353" stop-color="#ebebeb"/><stop offset="0.3414" stop-color="#e9e9e9"/><stop offset="0.3474" stop-color="#eaeaea"/><stop offset="0.3535" stop-color="#ededed"/><stop offset="0.3595" stop-color="#eeeeee"/><stop offset="0.3656" stop-color="#ececec"/><stop offset="0.3716" stop-color="#ededed"/><stop offset="0.3776" stop-color="#efefef"/><stop offset="0.3837" stop-color="#ebebeb"/><stop offset="0.3897" stop-color="#f0f0f0"/><stop offset="0.3958" stop-color="#eeeeee"/><stop offset="0.4018" stop-color="#eeeeee"/><stop offset="0.4079" stop-color="#eeeeee"/><stop offset="0.4139" stop-color="#eeeeee"/><stop offset="0.4199" stop-color="#f1f1f1"/><stop offset="0.4260" stop-color="#eaeaea"/><stop offset="0.4320" stop-color="#f0f0f0"/><stop offset="0.4381" stop-color="#ededed"/><stop offset="0.4441" stop-color="#f0f0f0"/><stop offset="0.4502" stop-color="#eeeeee"/><stop offset="0.4562" stop-color="#f0f0f0"/><stop offset="0.4622" stop-color="#f2f2f2"/><stop offset="0.4683" stop-color="#f1f1f1"/><stop offset="0.4743" stop-color="#f1f1f1"/><stop offset="0.4804" stop-color="#efefef"/><stop offset="0.4864" stop-color="#f1f1f1"/><stop offset="0.4924" stop-color="#f0f0f0"/><stop offset="0.4985" stop-color="#f6f6f6"/><stop offset="0.5045" stop-color="#f1f1f1"/><stop offset="0.5106" stop-color="#f0f0f0"/><stop offset="0.5166" stop-color="#f2f2f2"/><stop offset="0.5227" stop-color="#f0f0f0"/><stop offset="0.5287" stop-color="#f1f1f1"/><stop offset="0.5347" stop-color="#f1f1f1"/><stop offset="0.5408" stop-color="#f1f1f1"/><stop offset="0.5468" stop-color="#f1f1f1"/><stop offset="0.5529" stop-color="#f1f1f1"/><stop offset="0.5589" stop-color="#f1f1f1"/><stop offset="0.5650" stop-color="#f7f7f7"/><stop offset="0.5710" stop-color="#f2f2f2"/><stop offset="0.5770" stop-color="#f1f1f1"/><stop offset="0.5831" stop-color="#f3f3f3"/><stop offset="0.5891" stop-color="#f3f3f3"/><stop offset="0.5952" stop-color="#f3f3f3"/><stop offset="0.6012" stop-color="#f3f3f3"/><stop offset="0.6073" stop-color="#f4f4f4"/><stop offset="0.6133" stop-color="#f2f2f2"/><stop offset="0.6193" stop-color="#f2f2f2"/><stop offset="0.6254" stop-color="#f2f2f2"/><stop offset="0.6314" stop-color="#f4f4f4"/><stop offset="0.6375" stop-color="#f3f3f3"/><stop offset="0.6435" stop-color="#f3f3f3"/><stop offset="0.6495" stop-color="#f3f3f3"/><stop offset="0.6556" stop-color="#f3f3f3"/><stop offset="0.6616" stop-color="#f3f3f3"/><stop offset="0.6677" stop-color="#f4f4f4"/><stop offset="0.6737" stop-color="#f3f3f3"/><stop offset="0.6798" stop-color="#f5f5f5"/><stop offset="0.6858" stop-color="#f5f5f5"/><stop offset="0.6918" stop-color="#f4f4f4"/><stop offset="0.6979" stop-color="#f5f5f5"/><stop offset="0.7039" stop-color="#f4f4f4"/><stop offset="0.7100" stop-color="#f4f4f4"/><stop offset="0.7160" stop-color="#f4f4f4"/><stop offset="0.7221" stop-color="#f4f4f4"/><stop offset="0.7281" stop-color="#f5f5f5"/><stop offset="0.7341" stop-color="#f4f4f4"/><stop offset="0.7402" stop-color="#f4f4f4"/><stop offset="0.7462" stop-color="#f8f8f8"/><stop offset="0.7523" stop-color="#f5f5f5"/><stop offset="0.7583" stop-color="#f6f6f6"/><stop offset="0.7644" stop-color="#f5f5f5"/><stop offset="0.7704" stop-color="#f6f6f6"/><stop offset="0.7764" stop-color="#f5f5f5"/><stop offset="0.7825" stop-color="#f5f5f5"/><stop offset="0.7885" stop-color="#f6f6f6"/><stop offset="0.7946" stop-color="#f6f6f6"/><stop offset="0.8006" stop-color="#f6f6f6"/><stop offset="0.8066" stop-color="#f5f5f5"/><stop offset="0.8127" stop-color="#f6f6f6"/><stop offset="0.8187" stop-color="#f6f6f6"/><stop offset="0.8248" stop-color="#f6f6f6"/><stop offset="0.8308" stop-color="#f7f7f7"/><stop offset="0.8369" stop-color="#f6f6f6"/><stop offset="0.8429" stop-color="#f5f5f5"/><stop offset="0.8489" stop-color="#f6f6f6"/><stop offset="0.8550" stop-color="#f6f6f6"/><stop offset="0.8610" stop-color="#f7f7f7"/><stop offset="0.8671" stop-color="#f6f6f6"/><stop offset="0.8731" stop-color="#f6f6f6"/><stop offset="0.8792" stop-color="#f7f7f7"/><stop offset="0.8852" stop-color="#f7f7f7"/><stop offset="0.8912" stop-color="#f7f7f7"/><stop offset="0.8973" stop-color="#f7f7f7"/><stop offset="0.9033" stop-color="#f6f6f6"/><stop offset="0.9094" stop-color="#f7f7f7"/><stop offset="0.9154" stop-color="#f7f7f7"/><stop offset="0.9215" stop-color="#f7f7f7"/><stop offset="0.9275" stop-color="#f7f7f7"/><stop offset="0.9335" stop-color="#f8f8f8"/><stop offset="0.9396" stop-color="#f7f7f7"/><stop offset="0.9456" stop-color="#f7f7f7"/><stop offset="0.9517" stop-color="#f7f7f7"/><stop offset="0.9577" stop-color="#f8f8f8"/><stop offset="0.9637" stop-color="#f7f7f7"/><stop offset="0.9698" stop-color="#f7f7f7"/><stop offset="0.9758" stop-color="#f8f8f8"/><stop offset="0.9819" stop-color="#f7f7f7"/><stop offset="0.9879" stop-color="#f7f7f7"/><stop offset="0.9940" stop-color="#f8f8f8"/></linearGradient></defs>
<defs><linearGradient id="hCCtrl" gradientUnits="userSpaceOnUse" x1="0" y1="277.0" x2="0" y2="442.5"><stop offset="0.0030" stop-color="#090909"/><stop offset="0.0091" stop-color="#0f0f0f"/><stop offset="0.0151" stop-color="#3e3e3e"/><stop offset="0.0211" stop-color="#303030"/><stop offset="0.0272" stop-color="#2b2b2b"/><stop offset="0.0332" stop-color="#393939"/><stop offset="0.0393" stop-color="#303030"/><stop offset="0.0453" stop-color="#373737"/><stop offset="0.0514" stop-color="#4a4a4a"/><stop offset="0.0574" stop-color="#4b4b4b"/><stop offset="0.0634" stop-color="#363636"/><stop offset="0.0695" stop-color="#5a5a5a"/><stop offset="0.0755" stop-color="#585858"/><stop offset="0.0816" stop-color="#595959"/><stop offset="0.0876" stop-color="#5e5e5e"/><stop offset="0.0937" stop-color="#4b4b4b"/><stop offset="0.0997" stop-color="#575757"/><stop offset="0.1057" stop-color="#606060"/><stop offset="0.1118" stop-color="#4b4b4b"/><stop offset="0.1178" stop-color="#4b4b4b"/><stop offset="0.1239" stop-color="#4f4f4f"/><stop offset="0.1299" stop-color="#696969"/><stop offset="0.1360" stop-color="#535353"/><stop offset="0.1420" stop-color="#606060"/><stop offset="0.1480" stop-color="#6b6b6b"/><stop offset="0.1541" stop-color="#626262"/><stop offset="0.1601" stop-color="#535353"/><stop offset="0.1662" stop-color="#595959"/><stop offset="0.1722" stop-color="#717171"/><stop offset="0.1782" stop-color="#5f5f5f"/><stop offset="0.1843" stop-color="#5c5c5c"/><stop offset="0.1903" stop-color="#6b6b6b"/><stop offset="0.1964" stop-color="#696969"/><stop offset="0.2024" stop-color="#5f5f5f"/><stop offset="0.2085" stop-color="#6e6e6e"/><stop offset="0.2145" stop-color="#787878"/><stop offset="0.2205" stop-color="#737373"/><stop offset="0.2266" stop-color="#6e6e6e"/><stop offset="0.2326" stop-color="#7b7b7b"/><stop offset="0.2387" stop-color="#6a6a6a"/><stop offset="0.2447" stop-color="#777777"/><stop offset="0.2508" stop-color="#797979"/><stop offset="0.2568" stop-color="#777777"/><stop offset="0.2628" stop-color="#747474"/><stop offset="0.2689" stop-color="#767676"/><stop offset="0.2749" stop-color="#7e7e7e"/><stop offset="0.2810" stop-color="#767676"/><stop offset="0.2870" stop-color="#7c7c7c"/><stop offset="0.2931" stop-color="#797979"/><stop offset="0.2991" stop-color="#7d7d7d"/><stop offset="0.3051" stop-color="#757575"/><stop offset="0.3112" stop-color="#808080"/><stop offset="0.3172" stop-color="#7b7b7b"/><stop offset="0.3233" stop-color="#8c8c8c"/><stop offset="0.3293" stop-color="#7d7d7d"/><stop offset="0.3353" stop-color="#7d7d7d"/><stop offset="0.3414" stop-color="#949494"/><stop offset="0.3474" stop-color="#8d8d8d"/><stop offset="0.3535" stop-color="#868686"/><stop offset="0.3595" stop-color="#858585"/><stop offset="0.3656" stop-color="#868686"/><stop offset="0.3716" stop-color="#969696"/><stop offset="0.3776" stop-color="#888888"/><stop offset="0.3837" stop-color="#929292"/><stop offset="0.3897" stop-color="#898989"/><stop offset="0.3958" stop-color="#8a8a8a"/><stop offset="0.4018" stop-color="#888888"/><stop offset="0.4079" stop-color="#888888"/><stop offset="0.4139" stop-color="#949494"/><stop offset="0.4199" stop-color="#8d8d8d"/><stop offset="0.4260" stop-color="#949494"/><stop offset="0.4320" stop-color="#949494"/><stop offset="0.4381" stop-color="#a0a0a0"/><stop offset="0.4441" stop-color="#999999"/><stop offset="0.4502" stop-color="#999999"/><stop offset="0.4562" stop-color="#a2a2a2"/><stop offset="0.4622" stop-color="#a4a4a4"/><stop offset="0.4683" stop-color="#9d9d9d"/><stop offset="0.4743" stop-color="#9e9e9e"/><stop offset="0.4804" stop-color="#9c9c9c"/><stop offset="0.4864" stop-color="#989898"/><stop offset="0.4924" stop-color="#9c9c9c"/><stop offset="0.4985" stop-color="#aaaaaa"/><stop offset="0.5045" stop-color="#9e9e9e"/><stop offset="0.5106" stop-color="#989898"/><stop offset="0.5166" stop-color="#a4a4a4"/><stop offset="0.5227" stop-color="#9e9e9e"/><stop offset="0.5287" stop-color="#a6a6a6"/><stop offset="0.5347" stop-color="#a0a0a0"/><stop offset="0.5408" stop-color="#b0b0b0"/><stop offset="0.5468" stop-color="#9e9e9e"/><stop offset="0.5529" stop-color="#b2b2b2"/><stop offset="0.5589" stop-color="#a4a4a4"/><stop offset="0.5650" stop-color="#a5a5a5"/><stop offset="0.5710" stop-color="#b0b0b0"/><stop offset="0.5770" stop-color="#a9a9a9"/><stop offset="0.5831" stop-color="#afafaf"/><stop offset="0.5891" stop-color="#aeaeae"/><stop offset="0.5952" stop-color="#b0b0b0"/><stop offset="0.6012" stop-color="#b3b3b3"/><stop offset="0.6073" stop-color="#b9b9b9"/><stop offset="0.6133" stop-color="#b0b0b0"/><stop offset="0.6193" stop-color="#b3b3b3"/><stop offset="0.6254" stop-color="#adadad"/><stop offset="0.6314" stop-color="#b7b7b7"/><stop offset="0.6375" stop-color="#b2b2b2"/><stop offset="0.6435" stop-color="#b2b2b2"/><stop offset="0.6495" stop-color="#b0b0b0"/><stop offset="0.6556" stop-color="#b0b0b0"/><stop offset="0.6616" stop-color="#afafaf"/><stop offset="0.6677" stop-color="#b0b0b0"/><stop offset="0.6737" stop-color="#bababa"/><stop offset="0.6798" stop-color="#b4b4b4"/><stop offset="0.6858" stop-color="#bdbdbd"/><stop offset="0.6918" stop-color="#bbbbbb"/><stop offset="0.6979" stop-color="#bbbbbb"/><stop offset="0.7039" stop-color="#b7b7b7"/><stop offset="0.7100" stop-color="#c2c2c2"/><stop offset="0.7160" stop-color="#bbbbbb"/><stop offset="0.7221" stop-color="#c0c0c0"/><stop offset="0.7281" stop-color="#bcbcbc"/><stop offset="0.7341" stop-color="#b7b7b7"/><stop offset="0.7402" stop-color="#c0c0c0"/><stop offset="0.7462" stop-color="#c3c3c3"/><stop offset="0.7523" stop-color="#c1c1c1"/><stop offset="0.7583" stop-color="#bfbfbf"/><stop offset="0.7644" stop-color="#bebebe"/><stop offset="0.7704" stop-color="#c0c0c0"/><stop offset="0.7764" stop-color="#c4c4c4"/><stop offset="0.7825" stop-color="#c0c0c0"/><stop offset="0.7885" stop-color="#c6c6c6"/><stop offset="0.7946" stop-color="#c3c3c3"/><stop offset="0.8006" stop-color="#bfbfbf"/><stop offset="0.8066" stop-color="#bbbbbb"/><stop offset="0.8127" stop-color="#c1c1c1"/><stop offset="0.8187" stop-color="#c6c6c6"/><stop offset="0.8248" stop-color="#bdbdbd"/><stop offset="0.8308" stop-color="#c1c1c1"/><stop offset="0.8369" stop-color="#c2c2c2"/><stop offset="0.8429" stop-color="#c2c2c2"/><stop offset="0.8489" stop-color="#c1c1c1"/><stop offset="0.8550" stop-color="#c3c3c3"/><stop offset="0.8610" stop-color="#bfbfbf"/><stop offset="0.8671" stop-color="#c5c5c5"/><stop offset="0.8731" stop-color="#c2c2c2"/><stop offset="0.8792" stop-color="#c0c0c0"/><stop offset="0.8852" stop-color="#c2c2c2"/><stop offset="0.8912" stop-color="#cacaca"/><stop offset="0.8973" stop-color="#c8c8c8"/><stop offset="0.9033" stop-color="#cacaca"/><stop offset="0.9094" stop-color="#cccccc"/><stop offset="0.9154" stop-color="#c8c8c8"/><stop offset="0.9215" stop-color="#c3c3c3"/><stop offset="0.9275" stop-color="#c8c8c8"/><stop offset="0.9335" stop-color="#c5c5c5"/><stop offset="0.9396" stop-color="#c3c3c3"/><stop offset="0.9456" stop-color="#cecece"/><stop offset="0.9517" stop-color="#c9c9c9"/><stop offset="0.9577" stop-color="#cdcdcd"/><stop offset="0.9637" stop-color="#c8c8c8"/><stop offset="0.9698" stop-color="#cdcdcd"/><stop offset="0.9758" stop-color="#c5c5c5"/><stop offset="0.9819" stop-color="#cdcdcd"/><stop offset="0.9879" stop-color="#c9c9c9"/><stop offset="0.9940" stop-color="#c9c9c9"/></linearGradient></defs>
<rect x="337.3" y="277.0" width="16.1" height="165.5" fill="url(#hLCtrl)"/>
<rect x="355.0" y="277.0" width="15.0" height="165.5" fill="url(#hRCtrl)"/>
<rect x="353.3" y="277.0" width="1.8" height="165.5" fill="url(#hCCtrl)"/>
<g shape-rendering="crispEdges"><rect x="351.8" width="4.9" height="1" y="278" fill="#292929"/><rect x="351.9" width="4.6" height="1" y="279" fill="#353535"/><rect x="352.1" width="4.3" height="1" y="280" fill="#424242"/><rect x="352.2" width="4.0" height="1" y="281" fill="#4e4e4e"/><rect x="352.4" width="3.7" height="1" y="282" fill="#595959"/><rect x="352.5" width="3.3" height="1" y="283" fill="#626262"/><rect x="352.7" width="3.0" height="1" y="284" fill="#6b6b6b"/><rect x="352.8" width="2.7" height="1" y="285" fill="#747474"/><rect x="353.0" width="2.4" height="1" y="286" fill="#7e7e7e"/></g>
<rect x="353.3" y="277.0" width="1.8" height="2" fill="#090909"/>
<rect x="337.30" y="277.00" width="32.70" height="165.50" fill="none" stroke="#8e8e8e" stroke-width="0.8" />
<line x1="354.20" y1="442.50" x2="354.20" y2="444.00" stroke="#777" stroke-width="0.6" />
<text x="354.20" y="272.10" font-size="7.2" text-anchor="middle" fill="#231f20" stroke="#231f20" stroke-width="0.08" >Ctrl</text>
<text x="345.00" y="454.20" font-size="6.1" text-anchor="middle" fill="#231f20" stroke="#231f20" stroke-width="0.08" textLength="14.20" lengthAdjust="spacingAndGlyphs" >-5Kb</text>
<text x="362.20" y="454.20" font-size="6.1" text-anchor="middle" fill="#231f20" stroke="#231f20" stroke-width="0.08" textLength="16.00" lengthAdjust="spacingAndGlyphs" >+5Kb</text>
<text x="354.20" y="467.00" font-size="10.4" text-anchor="middle" fill="#231f20" stroke="#231f20" stroke-width="0.08" textLength="21.50" lengthAdjust="spacingAndGlyphs" >Center</text>
<defs><linearGradient id="cbCtrl"><stop offset="0.000" stop-color="#ffffff"/><stop offset="0.125" stop-color="#f0f0f0"/><stop offset="0.250" stop-color="#d9d9d9"/><stop offset="0.375" stop-color="#bdbdbd"/><stop offset="0.500" stop-color="#969696"/><stop offset="0.625" stop-color="#737373"/><stop offset="0.750" stop-color="#525252"/><stop offset="0.875" stop-color="#252525"/><stop offset="1.000" stop-color="#000000"/></linearGradient></defs>
<rect x="337.30" y="472.70" width="32.70" height="3.50" fill="url(#cbCtrl)" stroke="#aaa" stroke-width="0.5" />
<text x="338.10" y="486.90" font-size="6.9" text-anchor="middle" fill="#231f20" stroke="#231f20" stroke-width="0.08" >0</text>
<text x="348.80" y="486.90" font-size="6.9" text-anchor="middle" fill="#231f20" stroke="#231f20" stroke-width="0.08" >5</text>
<text x="360.10" y="486.90" font-size="6.9" text-anchor="middle" fill="#231f20" stroke="#231f20" stroke-width="0.08" >10</text>
<defs><linearGradient id="hLERG" gradientUnits="userSpaceOnUse" x1="0" y1="277.0" x2="0" y2="442.5"><stop offset="0.0030" stop-color="#005e26"/><stop offset="0.0091" stop-color="#4bb062"/><stop offset="0.0151" stop-color="#d2edcc"/><stop offset="0.0211" stop-color="#ceecc7"/><stop offset="0.0272" stop-color="#d2eecc"/><stop offset="0.0332" stop-color="#d4eece"/><stop offset="0.0393" stop-color="#d0ecc9"/><stop offset="0.0453" stop-color="#d6efd0"/><stop offset="0.0514" stop-color="#d3eecc"/><stop offset="0.0574" stop-color="#d6efd0"/><stop offset="0.0634" stop-color="#d2edcc"/><stop offset="0.0695" stop-color="#d2edcc"/><stop offset="0.0755" stop-color="#d2edcc"/><stop offset="0.0816" stop-color="#d7f0d2"/><stop offset="0.0876" stop-color="#d6efd0"/><stop offset="0.0937" stop-color="#d8f0d2"/><stop offset="0.0997" stop-color="#d6efd0"/><stop offset="0.1057" stop-color="#d9f0d3"/><stop offset="0.1118" stop-color="#dcf1d6"/><stop offset="0.1178" stop-color="#d5efcf"/><stop offset="0.1239" stop-color="#dcf1d6"/><stop offset="0.1299" stop-color="#dbf1d5"/><stop offset="0.1360" stop-color="#d8f0d3"/><stop offset="0.1420" stop-color="#dcf1d7"/><stop offset="0.1480" stop-color="#d8f0d2"/><stop offset="0.1541" stop-color="#d8f0d2"/><stop offset="0.1601" stop-color="#ddf2d7"/><stop offset="0.1662" stop-color="#dff3da"/><stop offset="0.1722" stop-color="#dcf2d7"/><stop offset="0.1782" stop-color="#dcf1d6"/><stop offset="0.1843" stop-color="#dbf1d5"/><stop offset="0.1903" stop-color="#ddf2d7"/><stop offset="0.1964" stop-color="#def2d9"/><stop offset="0.2024" stop-color="#ddf2d7"/><stop offset="0.2085" stop-color="#e0f3da"/><stop offset="0.2145" stop-color="#ddf2d8"/><stop offset="0.2205" stop-color="#def2d8"/><stop offset="0.2266" stop-color="#ddf2d8"/><stop offset="0.2326" stop-color="#e2f4dd"/><stop offset="0.2387" stop-color="#dff3da"/><stop offset="0.2447" stop-color="#e2f4dd"/><stop offset="0.2508" stop-color="#dcf1d7"/><stop offset="0.2568" stop-color="#dcf2d7"/><stop offset="0.2628" stop-color="#e1f3dc"/><stop offset="0.2689" stop-color="#e0f3da"/><stop offset="0.2749" stop-color="#e1f4dc"/><stop offset="0.2810" stop-color="#e1f4dc"/><stop offset="0.2870" stop-color="#e1f3db"/><stop offset="0.2931" stop-color="#e0f3db"/><stop offset="0.2991" stop-color="#e3f4de"/><stop offset="0.3051" stop-color="#e1f3dc"/><stop offset="0.3112" stop-color="#e3f4de"/><stop offset="0.3172" stop-color="#e0f3db"/><stop offset="0.3233" stop-color="#e1f3dc"/><stop offset="0.3293" stop-color="#e2f4dd"/><stop offset="0.3353" stop-color="#e4f5df"/><stop offset="0.3414" stop-color="#e4f4de"/><stop offset="0.3474" stop-color="#e2f4dd"/><stop offset="0.3535" stop-color="#e1f4dc"/><stop offset="0.3595" stop-color="#e2f4dd"/><stop offset="0.3656" stop-color="#e1f3dc"/><stop offset="0.3716" stop-color="#e2f4dc"/><stop offset="0.3776" stop-color="#e2f4dc"/><stop offset="0.3837" stop-color="#e3f4dd"/><stop offset="0.3897" stop-color="#e4f5df"/><stop offset="0.3958" stop-color="#e5f5e0"/><stop offset="0.4018" stop-color="#e6f5e1"/><stop offset="0.4079" stop-color="#e4f4de"/><stop offset="0.4139" stop-color="#e3f4dd"/><stop offset="0.4199" stop-color="#e4f5df"/><stop offset="0.4260" stop-color="#e3f4de"/><stop offset="0.4320" stop-color="#e4f4de"/><stop offset="0.4381" stop-color="#e5f5e1"/><stop offset="0.4441" stop-color="#e5f5e0"/><stop offset="0.4502" stop-color="#e7f6e3"/><stop offset="0.4562" stop-color="#e5f5e0"/><stop offset="0.4622" stop-color="#e7f6e2"/><stop offset="0.4683" stop-color="#e7f6e2"/><stop offset="0.4743" stop-color="#e5f5e0"/><stop offset="0.4804" stop-color="#e8f6e3"/><stop offset="0.4864" stop-color="#e6f5e1"/><stop offset="0.4924" stop-color="#e5f5e0"/><stop offset="0.4985" stop-color="#e8f6e3"/><stop offset="0.5045" stop-color="#e6f5e1"/><stop offset="0.5106" stop-color="#e7f6e2"/><stop offset="0.5166" stop-color="#e6f6e2"/><stop offset="0.5227" stop-color="#e6f6e2"/><stop offset="0.5287" stop-color="#e7f6e2"/><stop offset="0.5347" stop-color="#e8f6e4"/><stop offset="0.5408" stop-color="#e7f6e2"/><stop offset="0.5468" stop-color="#e6f6e2"/><stop offset="0.5529" stop-color="#e7f6e3"/><stop offset="0.5589" stop-color="#e7f6e2"/><stop offset="0.5650" stop-color="#e8f6e3"/><stop offset="0.5710" stop-color="#e7f6e2"/><stop offset="0.5770" stop-color="#e9f6e4"/><stop offset="0.5831" stop-color="#e7f6e2"/><stop offset="0.5891" stop-color="#e7f6e2"/><stop offset="0.5952" stop-color="#e7f6e2"/><stop offset="0.6012" stop-color="#e8f6e4"/><stop offset="0.6073" stop-color="#e7f6e2"/><stop offset="0.6133" stop-color="#e9f7e5"/><stop offset="0.6193" stop-color="#e8f6e3"/><stop offset="0.6254" stop-color="#e7f6e2"/><stop offset="0.6314" stop-color="#eaf7e5"/><stop offset="0.6375" stop-color="#e9f6e4"/><stop offset="0.6435" stop-color="#e9f7e5"/><stop offset="0.6495" stop-color="#e8f6e4"/><stop offset="0.6556" stop-color="#e9f6e4"/><stop offset="0.6616" stop-color="#eaf7e5"/><stop offset="0.6677" stop-color="#e8f6e4"/><stop offset="0.6737" stop-color="#e7f6e3"/><stop offset="0.6798" stop-color="#e9f7e5"/><stop offset="0.6858" stop-color="#e8f6e3"/><stop offset="0.6918" stop-color="#e9f7e5"/><stop offset="0.6979" stop-color="#e9f6e4"/><stop offset="0.7039" stop-color="#eaf7e6"/><stop offset="0.7100" stop-color="#eaf7e6"/><stop offset="0.7160" stop-color="#e9f7e5"/><stop offset="0.7221" stop-color="#e9f6e4"/><stop offset="0.7281" stop-color="#e9f6e4"/><stop offset="0.7341" stop-color="#ebf7e7"/><stop offset="0.7402" stop-color="#e9f7e5"/><stop offset="0.7462" stop-color="#e8f6e4"/><stop offset="0.7523" stop-color="#eaf7e6"/><stop offset="0.7583" stop-color="#e9f7e5"/><stop offset="0.7644" stop-color="#eaf7e6"/><stop offset="0.7704" stop-color="#e9f7e5"/><stop offset="0.7764" stop-color="#ebf7e7"/><stop offset="0.7825" stop-color="#eff9eb"/><stop offset="0.7885" stop-color="#eaf7e6"/><stop offset="0.7946" stop-color="#e9f6e4"/><stop offset="0.8006" stop-color="#e9f7e5"/><stop offset="0.8066" stop-color="#eaf7e5"/><stop offset="0.8127" stop-color="#ebf7e7"/><stop offset="0.8187" stop-color="#eaf7e6"/><stop offset="0.8248" stop-color="#ebf7e6"/><stop offset="0.8308" stop-color="#e9f7e5"/><stop offset="0.8369" stop-color="#eaf7e6"/><stop offset="0.8429" stop-color="#eaf7e6"/><stop offset="0.8489" stop-color="#eaf7e6"/><stop offset="0.8550" stop-color="#ebf7e7"/><stop offset="0.8610" stop-color="#ebf7e7"/><stop offset="0.8671" stop-color="#ebf7e7"/><stop offset="0.8731" stop-color="#ebf7e7"/><stop offset="0.8792" stop-color="#ebf7e7"/><stop offset="0.8852" stop-color="#ecf8e8"/><stop offset="0.8912" stop-color="#eaf7e5"/><stop offset="0.8973" stop-color="#ecf8e8"/><stop offset="0.9033" stop-color="#eaf7e6"/><stop offset="0.9094" stop-color="#eaf7e6"/><stop offset="0.9154" stop-color="#ecf8e8"/><stop offset="0.9215" stop-color="#ecf8e8"/><stop offset="0.9275" stop-color="#ecf8e8"/><stop offset="0.9335" stop-color="#ebf7e7"/><stop offset="0.9396" stop-color="#ebf7e7"/><stop offset="0.9456" stop-color="#eaf7e6"/><stop offset="0.9517" stop-color="#ecf8e8"/><stop offset="0.9577" stop-color="#ebf7e7"/><stop offset="0.9637" stop-color="#eaf7e6"/><stop offset="0.9698" stop-color="#ebf7e7"/><stop offset="0.9758" stop-color="#eaf7e6"/><stop offset="0.9819" stop-color="#eaf7e6"/><stop offset="0.9879" stop-color="#ebf7e7"/><stop offset="0.9940" stop-color="#eaf7e6"/></linearGradient></defs>
<defs><linearGradient id="hRERG" gradientUnits="userSpaceOnUse" x1="0" y1="277.0" x2="0" y2="442.5"><stop offset="0.0030" stop-color="#005e26"/><stop offset="0.0091" stop-color="#74c476"/><stop offset="0.0151" stop-color="#e1f3dc"/><stop offset="0.0211" stop-color="#dcf1d6"/><stop offset="0.0272" stop-color="#e0f3db"/><stop offset="0.0332" stop-color="#e1f3dc"/><stop offset="0.0393" stop-color="#dff3da"/><stop offset="0.0453" stop-color="#e2f4dd"/><stop offset="0.0514" stop-color="#e1f3dc"/><stop offset="0.0574" stop-color="#e1f3dc"/><stop offset="0.0634" stop-color="#dff3da"/><stop offset="0.0695" stop-color="#e0f3db"/><stop offset="0.0755" stop-color="#ddf2d8"/><stop offset="0.0816" stop-color="#e2f4dd"/><stop offset="0.0876" stop-color="#e3f4de"/><stop offset="0.0937" stop-color="#e5f5e0"/><stop offset="0.0997" stop-color="#e1f3db"/><stop offset="0.1057" stop-color="#e4f5df"/><stop offset="0.1118" stop-color="#e5f5e0"/><stop offset="0.1178" stop-color="#e2f4dc"/><stop offset="0.1239" stop-color="#e5f5e1"/><stop offset="0.1299" stop-color="#e6f5e1"/><stop offset="0.1360" stop-color="#e5f5e0"/><stop offset="0.1420" stop-color="#e6f6e2"/><stop offset="0.1480" stop-color="#e4f5df"/><stop offset="0.1541" stop-color="#e5f5e0"/><stop offset="0.1601" stop-color="#e6f5e1"/><stop offset="0.1662" stop-color="#e7f6e2"/><stop offset="0.1722" stop-color="#e6f6e2"/><stop offset="0.1782" stop-color="#e6f5e1"/><stop offset="0.1843" stop-color="#e5f5e0"/><stop offset="0.1903" stop-color="#e6f5e1"/><stop offset="0.1964" stop-color="#e7f6e2"/><stop offset="0.2024" stop-color="#e7f6e2"/><stop offset="0.2085" stop-color="#e8f6e4"/><stop offset="0.2145" stop-color="#e6f5e1"/><stop offset="0.2205" stop-color="#e7f6e2"/><stop offset="0.2266" stop-color="#e5f5e0"/><stop offset="0.2326" stop-color="#e9f6e4"/><stop offset="0.2387" stop-color="#e6f6e2"/><stop offset="0.2447" stop-color="#e8f6e3"/><stop offset="0.2508" stop-color="#e6f5e1"/><stop offset="0.2568" stop-color="#e5f5e0"/><stop offset="0.2628" stop-color="#e8f6e4"/><stop offset="0.2689" stop-color="#e6f6e2"/><stop offset="0.2749" stop-color="#e8f6e4"/><stop offset="0.2810" stop-color="#e9f6e4"/><stop offset="0.2870" stop-color="#e7f6e2"/><stop offset="0.2931" stop-color="#e8f6e3"/><stop offset="0.2991" stop-color="#e8f6e4"/><stop offset="0.3051" stop-color="#e9f6e4"/><stop offset="0.3112" stop-color="#e8f6e3"/><stop offset="0.3172" stop-color="#e7f6e2"/><stop offset="0.3233" stop-color="#e7f6e3"/><stop offset="0.3293" stop-color="#e9f6e4"/><stop offset="0.3353" stop-color="#e9f7e5"/><stop offset="0.3414" stop-color="#e8f6e4"/><stop offset="0.3474" stop-color="#e8f6e3"/><stop offset="0.3535" stop-color="#e7f6e3"/><stop offset="0.3595" stop-color="#e8f6e4"/><stop offset="0.3656" stop-color="#e7f6e3"/><stop offset="0.3716" stop-color="#e7f6e2"/><stop offset="0.3776" stop-color="#e8f6e3"/><stop offset="0.3837" stop-color="#e8f6e4"/><stop offset="0.3897" stop-color="#eaf7e5"/><stop offset="0.3958" stop-color="#e9f7e5"/><stop offset="0.4018" stop-color="#eaf7e6"/><stop offset="0.4079" stop-color="#e9f7e5"/><stop offset="0.4139" stop-color="#e8f6e4"/><stop offset="0.4199" stop-color="#e9f7e5"/><stop offset="0.4260" stop-color="#e9f7e5"/><stop offset="0.4320" stop-color="#eaf7e5"/><stop offset="0.4381" stop-color="#eaf7e6"/><stop offset="0.4441" stop-color="#e9f7e5"/><stop offset="0.4502" stop-color="#eaf7e6"/><stop offset="0.4562" stop-color="#eaf7e6"/><stop offset="0.4622" stop-color="#eaf7e6"/><stop offset="0.4683" stop-color="#ebf7e7"/><stop offset="0.4743" stop-color="#eaf7e6"/><stop offset="0.4804" stop-color="#ecf8e8"/><stop offset="0.4864" stop-color="#e9f7e5"/><stop offset="0.4924" stop-color="#eaf7e5"/><stop offset="0.4985" stop-color="#ecf8e8"/><stop offset="0.5045" stop-color="#e9f7e5"/><stop offset="0.5106" stop-color="#ebf7e7"/><stop offset="0.5166" stop-color="#ebf7e7"/><stop offset="0.5227" stop-color="#eaf7e6"/><stop offset="0.5287" stop-color="#ebf7e7"/><stop offset="0.5347" stop-color="#ebf7e7"/><stop offset="0.5408" stop-color="#eaf7e6"/><stop offset="0.5468" stop-color="#eaf7e6"/><stop offset="0.5529" stop-color="#ebf7e6"/><stop offset="0.5589" stop-color="#eaf7e6"/><stop offset="0.5650" stop-color="#ecf8e8"/><stop offset="0.5710" stop-color="#ebf7e7"/><stop offset="0.5770" stop-color="#ecf8e8"/><stop offset="0.5831" stop-color="#eaf7e6"/><stop offset="0.5891" stop-color="#eaf7e6"/><stop offset="0.5952" stop-color="#ebf7e7"/><stop offset="0.6012" stop-color="#ebf7e7"/><stop offset="0.6073" stop-color="#ebf7e7"/><stop offset="0.6133" stop-color="#edf8e9"/><stop offset="0.6193" stop-color="#ecf8e8"/><stop offset="0.6254" stop-color="#eaf7e6"/><stop offset="0.6314" stop-color="#edf8e9"/><stop offset="0.6375" stop-color="#ecf8e8"/><stop offset="0.6435" stop-color="#edf8e9"/><stop offset="0.6495" stop-color="#ecf8e8"/><stop offset="0.6556" stop-color="#ecf8e9"/><stop offset="0.6616" stop-color="#edf8e9"/><stop offset="0.6677" stop-color="#ecf8e8"/><stop offset="0.6737" stop-color="#ebf7e7"/><stop offset="0.6798" stop-color="#edf8e9"/><stop offset="0.6858" stop-color="#ebf7e7"/><stop offset="0.6918" stop-color="#ecf8e8"/><stop offset="0.6979" stop-color="#ecf8e8"/><stop offset="0.7039" stop-color="#edf8e9"/><stop offset="0.7100" stop-color="#edf8ea"/><stop offset="0.7160" stop-color="#edf8e9"/><stop offset="0.7221" stop-color="#ecf8e8"/><stop offset="0.7281" stop-color="#ebf7e7"/><stop offset="0.7341" stop-color="#edf8ea"/><stop offset="0.7402" stop-color="#ecf8e9"/><stop offset="0.7462" stop-color="#ebf7e7"/><stop offset="0.7523" stop-color="#eef8ea"/><stop offset="0.7583" stop-color="#edf8e9"/><stop offset="0.7644" stop-color="#edf8e9"/><stop offset="0.7704" stop-color="#edf8e9"/><stop offset="0.7764" stop-color="#edf8e9"/><stop offset="0.7825" stop-color="#f1faee"/><stop offset="0.7885" stop-color="#edf8ea"/><stop offset="0.7946" stop-color="#ebf7e7"/><stop offset="0.8006" stop-color="#edf8e9"/><stop offset="0.8066" stop-color="#edf8e9"/><stop offset="0.8127" stop-color="#eef8ea"/><stop offset="0.8187" stop-color="#edf8e9"/><stop offset="0.8248" stop-color="#edf8e9"/><stop offset="0.8308" stop-color="#ecf8e8"/><stop offset="0.8369" stop-color="#eef8ea"/><stop offset="0.8429" stop-color="#edf8e9"/><stop offset="0.8489" stop-color="#edf8e9"/><stop offset="0.8550" stop-color="#eef9eb"/><stop offset="0.8610" stop-color="#edf8ea"/><stop offset="0.8671" stop-color="#edf8ea"/><stop offset="0.8731" stop-color="#eef8ea"/><stop offset="0.8792" stop-color="#eef9eb"/><stop offset="0.8852" stop-color="#eef9eb"/><stop offset="0.8912" stop-color="#edf8e9"/><stop offset="0.8973" stop-color="#eef8ea"/><stop offset="0.9033" stop-color="#edf8e9"/><stop offset="0.9094" stop-color="#edf8ea"/><stop offset="0.9154" stop-color="#eef9eb"/><stop offset="0.9215" stop-color="#eef9eb"/><stop offset="0.9275" stop-color="#eef9eb"/><stop offset="0.9335" stop-color="#edf8ea"/><stop offset="0.9396" stop-color="#edf8ea"/><stop offset="0.9456" stop-color="#ecf8e9"/><stop offset="0.9517" stop-color="#eef8ea"/><stop offset="0.9577" stop-color="#eef8ea"/><stop offset="0.9637" stop-color="#edf8ea"/><stop offset="0.9698" stop-color="#eef9eb"/><stop offset="0.9758" stop-color="#edf8e9"/><stop offset="0.9819" stop-color="#edf8e9"/><stop offset="0.9879" stop-color="#eef8ea"/><stop offset="0.9940" stop-color="#edf8ea"/></linearGradient></defs>
<defs><linearGradient id="hCERG" gradientUnits="userSpaceOnUse" x1="0" y1="277.0" x2="0" y2="442.5"><stop offset="0.0030" stop-color="#004e1f"/><stop offset="0.0091" stop-color="#005422"/><stop offset="0.0151" stop-color="#1e8741"/><stop offset="0.0211" stop-color="#228a44"/><stop offset="0.0272" stop-color="#2e974e"/><stop offset="0.0332" stop-color="#38a156"/><stop offset="0.0393" stop-color="#39a357"/><stop offset="0.0453" stop-color="#4aaf61"/><stop offset="0.0514" stop-color="#4eb163"/><stop offset="0.0574" stop-color="#5db96b"/><stop offset="0.0634" stop-color="#5fba6c"/><stop offset="0.0695" stop-color="#67bd6f"/><stop offset="0.0755" stop-color="#6fc173"/><stop offset="0.0816" stop-color="#7ec87e"/><stop offset="0.0876" stop-color="#82ca81"/><stop offset="0.0937" stop-color="#8ace88"/><stop offset="0.0997" stop-color="#8ccf89"/><stop offset="0.1057" stop-color="#95d391"/><stop offset="0.1118" stop-color="#9ed899"/><stop offset="0.1178" stop-color="#98d594"/><stop offset="0.1239" stop-color="#a5db9f"/><stop offset="0.1299" stop-color="#a7dba0"/><stop offset="0.1360" stop-color="#a7dba1"/><stop offset="0.1420" stop-color="#aedfa8"/><stop offset="0.1480" stop-color="#abdda5"/><stop offset="0.1541" stop-color="#aedea7"/><stop offset="0.1601" stop-color="#b6e2b0"/><stop offset="0.1662" stop-color="#bbe4b4"/><stop offset="0.1722" stop-color="#bae3b3"/><stop offset="0.1782" stop-color="#bbe4b4"/><stop offset="0.1843" stop-color="#bce4b5"/><stop offset="0.1903" stop-color="#bfe6b9"/><stop offset="0.1964" stop-color="#c3e7bc"/><stop offset="0.2024" stop-color="#c3e7bc"/><stop offset="0.2085" stop-color="#c7e9c0"/><stop offset="0.2145" stop-color="#c5e8be"/><stop offset="0.2205" stop-color="#c7e9c0"/><stop offset="0.2266" stop-color="#c7e9c0"/><stop offset="0.2326" stop-color="#cdebc7"/><stop offset="0.2387" stop-color="#cbeac4"/><stop offset="0.2447" stop-color="#cfecc8"/><stop offset="0.2508" stop-color="#c9eac2"/><stop offset="0.2568" stop-color="#caeac3"/><stop offset="0.2628" stop-color="#cfecc9"/><stop offset="0.2689" stop-color="#ceecc8"/><stop offset="0.2749" stop-color="#d1edca"/><stop offset="0.2810" stop-color="#d1edcb"/><stop offset="0.2870" stop-color="#d1edca"/><stop offset="0.2931" stop-color="#d1edcb"/><stop offset="0.2991" stop-color="#d4eece"/><stop offset="0.3051" stop-color="#d2edcc"/><stop offset="0.3112" stop-color="#d5eecf"/><stop offset="0.3172" stop-color="#d2edcc"/><stop offset="0.3233" stop-color="#d3eecd"/><stop offset="0.3293" stop-color="#d4eece"/><stop offset="0.3353" stop-color="#d7efd1"/><stop offset="0.3414" stop-color="#d6efd1"/><stop offset="0.3474" stop-color="#d6efd0"/><stop offset="0.3535" stop-color="#d5eecf"/><stop offset="0.3595" stop-color="#d6efd0"/><stop offset="0.3656" stop-color="#d5eecf"/><stop offset="0.3716" stop-color="#d6efd0"/><stop offset="0.3776" stop-color="#d6efd0"/><stop offset="0.3837" stop-color="#d7efd1"/><stop offset="0.3897" stop-color="#d9f0d3"/><stop offset="0.3958" stop-color="#d9f0d3"/><stop offset="0.4018" stop-color="#dbf1d6"/><stop offset="0.4079" stop-color="#d8f0d2"/><stop offset="0.4139" stop-color="#d7f0d2"/><stop offset="0.4199" stop-color="#d9f0d4"/><stop offset="0.4260" stop-color="#d9f0d3"/><stop offset="0.4320" stop-color="#d9f0d3"/><stop offset="0.4381" stop-color="#dbf1d5"/><stop offset="0.4441" stop-color="#dbf1d5"/><stop offset="0.4502" stop-color="#def2d9"/><stop offset="0.4562" stop-color="#dbf1d5"/><stop offset="0.4622" stop-color="#ddf2d8"/><stop offset="0.4683" stop-color="#ddf2d8"/><stop offset="0.4743" stop-color="#daf1d5"/><stop offset="0.4804" stop-color="#e0f3da"/><stop offset="0.4864" stop-color="#dcf1d6"/><stop offset="0.4924" stop-color="#dbf1d6"/><stop offset="0.4985" stop-color="#e0f3da"/><stop offset="0.5045" stop-color="#dcf2d7"/><stop offset="0.5106" stop-color="#def2d9"/><stop offset="0.5166" stop-color="#ddf2d8"/><stop offset="0.5227" stop-color="#ddf2d8"/><stop offset="0.5287" stop-color="#def2d8"/><stop offset="0.5347" stop-color="#e1f3dc"/><stop offset="0.5408" stop-color="#def2d8"/><stop offset="0.5468" stop-color="#ddf2d8"/><stop offset="0.5529" stop-color="#dff3d9"/><stop offset="0.5589" stop-color="#def2d9"/><stop offset="0.5650" stop-color="#e0f3db"/><stop offset="0.5710" stop-color="#def2d9"/><stop offset="0.5770" stop-color="#e1f3dc"/><stop offset="0.5831" stop-color="#def2d9"/><stop offset="0.5891" stop-color="#def2d9"/><stop offset="0.5952" stop-color="#def2d9"/><stop offset="0.6012" stop-color="#e1f3db"/><stop offset="0.6073" stop-color="#dff2d9"/><stop offset="0.6133" stop-color="#e3f4dd"/><stop offset="0.6193" stop-color="#e0f3da"/><stop offset="0.6254" stop-color="#dff2d9"/><stop offset="0.6314" stop-color="#e3f4de"/><stop offset="0.6375" stop-color="#e2f4dc"/><stop offset="0.6435" stop-color="#e2f4dd"/><stop offset="0.6495" stop-color="#e1f3db"/><stop offset="0.6556" stop-color="#e2f4dc"/><stop offset="0.6616" stop-color="#e3f4de"/><stop offset="0.6677" stop-color="#e1f3dc"/><stop offset="0.6737" stop-color="#dff3da"/><stop offset="0.6798" stop-color="#e2f4dd"/><stop offset="0.6858" stop-color="#e0f3da"/><stop offset="0.6918" stop-color="#e2f4dd"/><stop offset="0.6979" stop-color="#e1f4dc"/><stop offset="0.7039" stop-color="#e4f5df"/><stop offset="0.7100" stop-color="#e4f5df"/><stop offset="0.7160" stop-color="#e3f4dd"/><stop offset="0.7221" stop-color="#e1f4dc"/><stop offset="0.7281" stop-color="#e2f4dc"/><stop offset="0.7341" stop-color="#e5f5e0"/><stop offset="0.7402" stop-color="#e3f4dd"/><stop offset="0.7462" stop-color="#e1f3dc"/><stop offset="0.7523" stop-color="#e4f5df"/><stop offset="0.7583" stop-color="#e3f4de"/><stop offset="0.7644" stop-color="#e3f4de"/><stop offset="0.7704" stop-color="#e2f4dd"/><stop offset="0.7764" stop-color="#e5f5e0"/><stop offset="0.7825" stop-color="#e9f6e4"/><stop offset="0.7885" stop-color="#e4f5df"/><stop offset="0.7946" stop-color="#e1f4dc"/><stop offset="0.8006" stop-color="#e3f4dd"/><stop offset="0.8066" stop-color="#e3f4de"/><stop offset="0.8127" stop-color="#e5f5e0"/><stop offset="0.8187" stop-color="#e4f5df"/><stop offset="0.8248" stop-color="#e5f5e0"/><stop offset="0.8308" stop-color="#e3f4dd"/><stop offset="0.8369" stop-color="#e4f5df"/><stop offset="0.8429" stop-color="#e4f5df"/><stop offset="0.8489" stop-color="#e3f4de"/><stop offset="0.8550" stop-color="#e5f5e1"/><stop offset="0.8610" stop-color="#e5f5e0"/><stop offset="0.8671" stop-color="#e5f5e0"/><stop offset="0.8731" stop-color="#e5f5e0"/><stop offset="0.8792" stop-color="#e5f5e0"/><stop offset="0.8852" stop-color="#e6f5e1"/><stop offset="0.8912" stop-color="#e3f4de"/><stop offset="0.8973" stop-color="#e6f5e1"/><stop offset="0.9033" stop-color="#e4f5df"/><stop offset="0.9094" stop-color="#e3f4de"/><stop offset="0.9154" stop-color="#e6f5e1"/><stop offset="0.9215" stop-color="#e6f5e1"/><stop offset="0.9275" stop-color="#e6f5e1"/><stop offset="0.9335" stop-color="#e5f5e0"/><stop offset="0.9396" stop-color="#e5f5e0"/><stop offset="0.9456" stop-color="#e3f4de"/><stop offset="0.9517" stop-color="#e6f5e1"/><stop offset="0.9577" stop-color="#e5f5e0"/><stop offset="0.9637" stop-color="#e4f5df"/><stop offset="0.9698" stop-color="#e6f5e1"/><stop offset="0.9758" stop-color="#e4f4df"/><stop offset="0.9819" stop-color="#e4f5df"/><stop offset="0.9879" stop-color="#e5f5e0"/><stop offset="0.9940" stop-color="#e4f5df"/></linearGradient></defs>
<rect x="372.8" y="277.0" width="16.1" height="165.5" fill="url(#hLERG)"/>
<rect x="390.5" y="277.0" width="15.0" height="165.5" fill="url(#hRERG)"/>
<rect x="388.8" y="277.0" width="1.8" height="165.5" fill="url(#hCERG)"/>
<g shape-rendering="crispEdges"><rect x="387.3" width="4.9" height="1" y="278" fill="#036f2e"/><rect x="387.4" width="4.6" height="1" y="279" fill="#0d7835"/><rect x="387.6" width="4.3" height="1" y="280" fill="#16803c"/><rect x="387.7" width="4.0" height="1" y="281" fill="#208943"/><rect x="387.9" width="3.7" height="1" y="282" fill="#29914a"/><rect x="388.0" width="3.3" height="1" y="283" fill="#319a51"/><rect x="388.2" width="3.0" height="1" y="284" fill="#3aa357"/><rect x="388.3" width="2.7" height="1" y="285" fill="#43ac5e"/><rect x="388.5" width="2.4" height="1" y="286" fill="#51b365"/></g>
<rect x="388.8" y="277.0" width="1.8" height="2" fill="#004e1f"/>
<rect x="372.80" y="277.00" width="32.70" height="165.50" fill="none" stroke="#8e8e8e" stroke-width="0.8" />
<line x1="389.70" y1="442.50" x2="389.70" y2="444.00" stroke="#777" stroke-width="0.6" />
<text x="389.70" y="272.10" font-size="7.2" text-anchor="middle" fill="#231f20" stroke="#231f20" stroke-width="0.08" >ERG</text>
<text x="380.50" y="454.20" font-size="6.1" text-anchor="middle" fill="#231f20" stroke="#231f20" stroke-width="0.08" textLength="14.20" lengthAdjust="spacingAndGlyphs" >-5Kb</text>
<text x="397.70" y="454.20" font-size="6.1" text-anchor="middle" fill="#231f20" stroke="#231f20" stroke-width="0.08" textLength="16.00" lengthAdjust="spacingAndGlyphs" >+5Kb</text>
<text x="389.70" y="467.00" font-size="10.4" text-anchor="middle" fill="#231f20" stroke="#231f20" stroke-width="0.08" textLength="21.50" lengthAdjust="spacingAndGlyphs" >Center</text>
<defs><linearGradient id="cbERG"><stop offset="0.000" stop-color="#f7fcf5"/><stop offset="0.125" stop-color="#e5f5e0"/><stop offset="0.250" stop-color="#c7e9c0"/><stop offset="0.375" stop-color="#a1d99b"/><stop offset="0.500" stop-color="#74c476"/><stop offset="0.625" stop-color="#41ab5d"/><stop offset="0.750" stop-color="#238b45"/><stop offset="0.875" stop-color="#006d2c"/><stop offset="1.000" stop-color="#00441b"/></linearGradient></defs>
<rect x="372.80" y="472.70" width="32.70" height="3.50" fill="url(#cbERG)" stroke="#aaa" stroke-width="0.5" />
<text x="373.60" y="486.90" font-size="6.9" text-anchor="middle" fill="#231f20" stroke="#231f20" stroke-width="0.08" >0</text>
<text x="384.30" y="486.90" font-size="6.9" text-anchor="middle" fill="#231f20" stroke="#231f20" stroke-width="0.08" >5</text>
<text x="395.60" y="486.90" font-size="6.9" text-anchor="middle" fill="#231f20" stroke="#231f20" stroke-width="0.08" >10</text>
<defs><linearGradient id="hLETO2" gradientUnits="userSpaceOnUse" x1="0" y1="277.0" x2="0" y2="442.5"><stop offset="0.0030" stop-color="#983103"/><stop offset="0.0091" stop-color="#f3701b"/><stop offset="0.0151" stop-color="#fdd6af"/><stop offset="0.0211" stop-color="#fdd4aa"/><stop offset="0.0272" stop-color="#fdd5ac"/><stop offset="0.0332" stop-color="#fdd8b1"/><stop offset="0.0393" stop-color="#fdd3a8"/><stop offset="0.0453" stop-color="#fdd6af"/><stop offset="0.0514" stop-color="#fdd2a7"/><stop offset="0.0574" stop-color="#fdd6af"/><stop offset="0.0634" stop-color="#fdd9b3"/><stop offset="0.0695" stop-color="#fdd6ae"/><stop offset="0.0755" stop-color="#fdd6ad"/><stop offset="0.0816" stop-color="#fdd5ac"/><stop offset="0.0876" stop-color="#fdd8b2"/><stop offset="0.0937" stop-color="#fedbb9"/><stop offset="0.0997" stop-color="#fdd7af"/><stop offset="0.1057" stop-color="#fdd9b5"/><stop offset="0.1118" stop-color="#fddab5"/><stop offset="0.1178" stop-color="#fdd7b0"/><stop offset="0.1239" stop-color="#fddbb7"/><stop offset="0.1299" stop-color="#fedcba"/><stop offset="0.1360" stop-color="#fedcba"/><stop offset="0.1420" stop-color="#fddbb8"/><stop offset="0.1480" stop-color="#fedebe"/><stop offset="0.1541" stop-color="#fddab5"/><stop offset="0.1601" stop-color="#fedebe"/><stop offset="0.1662" stop-color="#fedcbb"/><stop offset="0.1722" stop-color="#fedebe"/><stop offset="0.1782" stop-color="#feddbd"/><stop offset="0.1843" stop-color="#fedebe"/><stop offset="0.1903" stop-color="#fddbb7"/><stop offset="0.1964" stop-color="#fedcbb"/><stop offset="0.2024" stop-color="#fedebf"/><stop offset="0.2085" stop-color="#fee0c2"/><stop offset="0.2145" stop-color="#feddbb"/><stop offset="0.2205" stop-color="#fee8d2"/><stop offset="0.2266" stop-color="#fedcbb"/><stop offset="0.2326" stop-color="#fee1c4"/><stop offset="0.2387" stop-color="#feddbc"/><stop offset="0.2447" stop-color="#fee0c1"/><stop offset="0.2508" stop-color="#fedebf"/><stop offset="0.2568" stop-color="#fee1c5"/><stop offset="0.2628" stop-color="#fee0c3"/><stop offset="0.2689" stop-color="#feddbc"/><stop offset="0.2749" stop-color="#fee9d4"/><stop offset="0.2810" stop-color="#fedebe"/><stop offset="0.2870" stop-color="#fedfc0"/><stop offset="0.2931" stop-color="#fee2c7"/><stop offset="0.2991" stop-color="#fedfbf"/><stop offset="0.3051" stop-color="#fedebf"/><stop offset="0.3112" stop-color="#fedfc1"/><stop offset="0.3172" stop-color="#fee3c7"/><stop offset="0.3233" stop-color="#fee0c2"/><stop offset="0.3293" stop-color="#fee2c5"/><stop offset="0.3353" stop-color="#fee2c6"/><stop offset="0.3414" stop-color="#fee1c3"/><stop offset="0.3474" stop-color="#fee0c3"/><stop offset="0.3535" stop-color="#fee2c6"/><stop offset="0.3595" stop-color="#fee2c5"/><stop offset="0.3656" stop-color="#fee3c7"/><stop offset="0.3716" stop-color="#fee2c7"/><stop offset="0.3776" stop-color="#fee2c6"/><stop offset="0.3837" stop-color="#fee1c5"/><stop offset="0.3897" stop-color="#fee5cd"/><stop offset="0.3958" stop-color="#fee4ca"/><stop offset="0.4018" stop-color="#fee5cb"/><stop offset="0.4079" stop-color="#fee5cb"/><stop offset="0.4139" stop-color="#fee2c6"/><stop offset="0.4199" stop-color="#fee2c6"/><stop offset="0.4260" stop-color="#fee3c7"/><stop offset="0.4320" stop-color="#fee6cd"/><stop offset="0.4381" stop-color="#fee3c8"/><stop offset="0.4441" stop-color="#fee6ce"/><stop offset="0.4502" stop-color="#fee5cc"/><stop offset="0.4562" stop-color="#fee4c9"/><stop offset="0.4622" stop-color="#fee7d0"/><stop offset="0.4683" stop-color="#fee6cf"/><stop offset="0.4743" stop-color="#fee3c9"/><stop offset="0.4804" stop-color="#fee6ce"/><stop offset="0.4864" stop-color="#fee4ca"/><stop offset="0.4924" stop-color="#fee6cf"/><stop offset="0.4985" stop-color="#fee7cf"/><stop offset="0.5045" stop-color="#fee7d1"/><stop offset="0.5106" stop-color="#fee6ce"/><stop offset="0.5166" stop-color="#fee6cf"/><stop offset="0.5227" stop-color="#fee6cf"/><stop offset="0.5287" stop-color="#fee6cd"/><stop offset="0.5347" stop-color="#fee5cc"/><stop offset="0.5408" stop-color="#feecd9"/><stop offset="0.5468" stop-color="#fee7cf"/><stop offset="0.5529" stop-color="#fee6cf"/><stop offset="0.5589" stop-color="#fee8d1"/><stop offset="0.5650" stop-color="#fee6cf"/><stop offset="0.5710" stop-color="#fee8d2"/><stop offset="0.5770" stop-color="#fee7cf"/><stop offset="0.5831" stop-color="#fee8d2"/><stop offset="0.5891" stop-color="#fee6cd"/><stop offset="0.5952" stop-color="#fee6ce"/><stop offset="0.6012" stop-color="#fee7d1"/><stop offset="0.6073" stop-color="#fee8d2"/><stop offset="0.6133" stop-color="#fee8d1"/><stop offset="0.6193" stop-color="#fee8d2"/><stop offset="0.6254" stop-color="#fee8d2"/><stop offset="0.6314" stop-color="#fee7cf"/><stop offset="0.6375" stop-color="#fee8d2"/><stop offset="0.6435" stop-color="#fee7d0"/><stop offset="0.6495" stop-color="#fee7d1"/><stop offset="0.6556" stop-color="#fee9d4"/><stop offset="0.6616" stop-color="#fee8d2"/><stop offset="0.6677" stop-color="#fee8d1"/><stop offset="0.6737" stop-color="#fee7cf"/><stop offset="0.6798" stop-color="#fee7d0"/><stop offset="0.6858" stop-color="#fee9d3"/><stop offset="0.6918" stop-color="#fee9d3"/><stop offset="0.6979" stop-color="#fee8d2"/><stop offset="0.7039" stop-color="#fee8d2"/><stop offset="0.7100" stop-color="#fee9d4"/><stop offset="0.7160" stop-color="#fee8d3"/><stop offset="0.7221" stop-color="#fee8d2"/><stop offset="0.7281" stop-color="#fee9d4"/><stop offset="0.7341" stop-color="#fee9d3"/><stop offset="0.7402" stop-color="#fee8d1"/><stop offset="0.7462" stop-color="#fee9d3"/><stop offset="0.7523" stop-color="#fee8d3"/><stop offset="0.7583" stop-color="#fee8d1"/><stop offset="0.7644" stop-color="#fee9d4"/><stop offset="0.7704" stop-color="#fee8d2"/><stop offset="0.7764" stop-color="#fee8d2"/><stop offset="0.7825" stop-color="#feead5"/><stop offset="0.7885" stop-color="#feead6"/><stop offset="0.7946" stop-color="#feead5"/><stop offset="0.8006" stop-color="#fee9d3"/><stop offset="0.8066" stop-color="#fee8d2"/><stop offset="0.8127" stop-color="#feead6"/><stop offset="0.8187" stop-color="#fee9d4"/><stop offset="0.8248" stop-color="#feead5"/><stop offset="0.8308" stop-color="#fee9d4"/><stop offset="0.8369" stop-color="#feead5"/><stop offset="0.8429" stop-color="#fee9d4"/><stop offset="0.8489" stop-color="#feead5"/><stop offset="0.8550" stop-color="#fee8d3"/><stop offset="0.8610" stop-color="#feead5"/><stop offset="0.8671" stop-color="#fee8d2"/><stop offset="0.8731" stop-color="#feead6"/><stop offset="0.8792" stop-color="#fee9d4"/><stop offset="0.8852" stop-color="#fee9d5"/><stop offset="0.8912" stop-color="#feead6"/><stop offset="0.8973" stop-color="#fee8d2"/><stop offset="0.9033" stop-color="#fee9d4"/><stop offset="0.9094" stop-color="#feead6"/><stop offset="0.9154" stop-color="#fee9d5"/><stop offset="0.9215" stop-color="#fee9d3"/><stop offset="0.9275" stop-color="#fee9d4"/><stop offset="0.9335" stop-color="#fee9d4"/><stop offset="0.9396" stop-color="#fee9d3"/><stop offset="0.9456" stop-color="#feead7"/><stop offset="0.9517" stop-color="#feead6"/><stop offset="0.9577" stop-color="#feead6"/><stop offset="0.9637" stop-color="#feebd7"/><stop offset="0.9698" stop-color="#feead6"/><stop offset="0.9758" stop-color="#feebd7"/><stop offset="0.9819" stop-color="#feead5"/><stop offset="0.9879" stop-color="#fee9d5"/><stop offset="0.9940" stop-color="#feead6"/></linearGradient></defs>
<defs><linearGradient id="hRETO2" gradientUnits="userSpaceOnUse" x1="0" y1="277.0" x2="0" y2="442.5"><stop offset="0.0030" stop-color="#983103"/><stop offset="0.0091" stop-color="#fd8d3c"/><stop offset="0.0151" stop-color="#fee1c4"/><stop offset="0.0211" stop-color="#fedebe"/><stop offset="0.0272" stop-color="#fedfc0"/><stop offset="0.0332" stop-color="#fee2c7"/><stop offset="0.0393" stop-color="#fedebf"/><stop offset="0.0453" stop-color="#fee1c3"/><stop offset="0.0514" stop-color="#fedcba"/><stop offset="0.0574" stop-color="#fee1c4"/><stop offset="0.0634" stop-color="#fee3c7"/><stop offset="0.0695" stop-color="#fee1c4"/><stop offset="0.0755" stop-color="#fee1c3"/><stop offset="0.0816" stop-color="#fedebe"/><stop offset="0.0876" stop-color="#fee0c3"/><stop offset="0.0937" stop-color="#fee4ca"/><stop offset="0.0997" stop-color="#fedfc0"/><stop offset="0.1057" stop-color="#fee2c6"/><stop offset="0.1118" stop-color="#fee3c8"/><stop offset="0.1178" stop-color="#fee1c4"/><stop offset="0.1239" stop-color="#fee5cb"/><stop offset="0.1299" stop-color="#fee4cb"/><stop offset="0.1360" stop-color="#fee5cd"/><stop offset="0.1420" stop-color="#fee4c9"/><stop offset="0.1480" stop-color="#fee6ce"/><stop offset="0.1541" stop-color="#fee2c7"/><stop offset="0.1601" stop-color="#fee7cf"/><stop offset="0.1662" stop-color="#fee3c8"/><stop offset="0.1722" stop-color="#fee5cb"/><stop offset="0.1782" stop-color="#fee5cc"/><stop offset="0.1843" stop-color="#fee5cc"/><stop offset="0.1903" stop-color="#fee4cb"/><stop offset="0.1964" stop-color="#fee6ce"/><stop offset="0.2024" stop-color="#fee6ce"/><stop offset="0.2085" stop-color="#fee7d1"/><stop offset="0.2145" stop-color="#fee5cd"/><stop offset="0.2205" stop-color="#feebd9"/><stop offset="0.2266" stop-color="#fee4ca"/><stop offset="0.2326" stop-color="#fee7d0"/><stop offset="0.2387" stop-color="#fee6ce"/><stop offset="0.2447" stop-color="#fee6ce"/><stop offset="0.2508" stop-color="#fee5cc"/><stop offset="0.2568" stop-color="#fee8d1"/><stop offset="0.2628" stop-color="#fee7cf"/><stop offset="0.2689" stop-color="#fee6ce"/><stop offset="0.2749" stop-color="#feecd9"/><stop offset="0.2810" stop-color="#fee5cc"/><stop offset="0.2870" stop-color="#fee7cf"/><stop offset="0.2931" stop-color="#fee8d2"/><stop offset="0.2991" stop-color="#fee6cd"/><stop offset="0.3051" stop-color="#fee5cd"/><stop offset="0.3112" stop-color="#fee6ce"/><stop offset="0.3172" stop-color="#fee7d1"/><stop offset="0.3233" stop-color="#fee6cd"/><stop offset="0.3293" stop-color="#fee7d0"/><stop offset="0.3353" stop-color="#fee8d2"/><stop offset="0.3414" stop-color="#fee6ce"/><stop offset="0.3474" stop-color="#fee7d0"/><stop offset="0.3535" stop-color="#fee8d3"/><stop offset="0.3595" stop-color="#fee7d1"/><stop offset="0.3656" stop-color="#fee8d1"/><stop offset="0.3716" stop-color="#fee8d3"/><stop offset="0.3776" stop-color="#fee8d3"/><stop offset="0.3837" stop-color="#fee7d1"/><stop offset="0.3897" stop-color="#fee9d4"/><stop offset="0.3958" stop-color="#fee9d3"/><stop offset="0.4018" stop-color="#fee9d3"/><stop offset="0.4079" stop-color="#fee8d3"/><stop offset="0.4139" stop-color="#fee7d1"/><stop offset="0.4199" stop-color="#fee8d2"/><stop offset="0.4260" stop-color="#fee7d0"/><stop offset="0.4320" stop-color="#fee9d4"/><stop offset="0.4381" stop-color="#fee8d2"/><stop offset="0.4441" stop-color="#fee9d4"/><stop offset="0.4502" stop-color="#fee9d4"/><stop offset="0.4562" stop-color="#fee8d2"/><stop offset="0.4622" stop-color="#feead6"/><stop offset="0.4683" stop-color="#feead5"/><stop offset="0.4743" stop-color="#fee9d3"/><stop offset="0.4804" stop-color="#feead6"/><stop offset="0.4864" stop-color="#fee9d4"/><stop offset="0.4924" stop-color="#fee9d5"/><stop offset="0.4985" stop-color="#feebd7"/><stop offset="0.5045" stop-color="#feead6"/><stop offset="0.5106" stop-color="#fee9d4"/><stop offset="0.5166" stop-color="#fee9d4"/><stop offset="0.5227" stop-color="#fee9d5"/><stop offset="0.5287" stop-color="#fee9d4"/><stop offset="0.5347" stop-color="#fee9d5"/><stop offset="0.5408" stop-color="#feeddc"/><stop offset="0.5468" stop-color="#feebd7"/><stop offset="0.5529" stop-color="#feead6"/><stop offset="0.5589" stop-color="#feebd7"/><stop offset="0.5650" stop-color="#feead6"/><stop offset="0.5710" stop-color="#feebd9"/><stop offset="0.5770" stop-color="#feead5"/><stop offset="0.5831" stop-color="#feebd7"/><stop offset="0.5891" stop-color="#feead5"/><stop offset="0.5952" stop-color="#feead5"/><stop offset="0.6012" stop-color="#feebd7"/><stop offset="0.6073" stop-color="#feebd8"/><stop offset="0.6133" stop-color="#feead6"/><stop offset="0.6193" stop-color="#feebd8"/><stop offset="0.6254" stop-color="#feebd8"/><stop offset="0.6314" stop-color="#feead7"/><stop offset="0.6375" stop-color="#feecd9"/><stop offset="0.6435" stop-color="#feead6"/><stop offset="0.6495" stop-color="#feebd8"/><stop offset="0.6556" stop-color="#feecd9"/><stop offset="0.6616" stop-color="#feebd7"/><stop offset="0.6677" stop-color="#feebd8"/><stop offset="0.6737" stop-color="#fee9d5"/><stop offset="0.6798" stop-color="#feead6"/><stop offset="0.6858" stop-color="#feecd9"/><stop offset="0.6918" stop-color="#feebd8"/><stop offset="0.6979" stop-color="#feebd8"/><stop offset="0.7039" stop-color="#feead6"/><stop offset="0.7100" stop-color="#feecd9"/><stop offset="0.7160" stop-color="#feecd9"/><stop offset="0.7221" stop-color="#feead6"/><stop offset="0.7281" stop-color="#feebd8"/><stop offset="0.7341" stop-color="#feecd9"/><stop offset="0.7402" stop-color="#feebd7"/><stop offset="0.7462" stop-color="#feecd9"/><stop offset="0.7523" stop-color="#feebd8"/><stop offset="0.7583" stop-color="#feead7"/><stop offset="0.7644" stop-color="#feecd9"/><stop offset="0.7704" stop-color="#feebd7"/><stop offset="0.7764" stop-color="#feebd8"/><stop offset="0.7825" stop-color="#feecda"/><stop offset="0.7885" stop-color="#feecda"/><stop offset="0.7946" stop-color="#feecda"/><stop offset="0.8006" stop-color="#feecd9"/><stop offset="0.8066" stop-color="#feebd7"/><stop offset="0.8127" stop-color="#feecda"/><stop offset="0.8187" stop-color="#feecda"/><stop offset="0.8248" stop-color="#feecda"/><stop offset="0.8308" stop-color="#feebd8"/><stop offset="0.8369" stop-color="#feecd9"/><stop offset="0.8429" stop-color="#feebd9"/><stop offset="0.8489" stop-color="#feecda"/><stop offset="0.8550" stop-color="#feebd7"/><stop offset="0.8610" stop-color="#feeddb"/><stop offset="0.8671" stop-color="#feebd7"/><stop offset="0.8731" stop-color="#feeddb"/><stop offset="0.8792" stop-color="#feebd8"/><stop offset="0.8852" stop-color="#feecda"/><stop offset="0.8912" stop-color="#feecda"/><stop offset="0.8973" stop-color="#feebd8"/><stop offset="0.9033" stop-color="#feecd9"/><stop offset="0.9094" stop-color="#feeddb"/><stop offset="0.9154" stop-color="#feecd9"/><stop offset="0.9215" stop-color="#feecd9"/><stop offset="0.9275" stop-color="#feecda"/><stop offset="0.9335" stop-color="#feecda"/><stop offset="0.9396" stop-color="#feecd9"/><stop offset="0.9456" stop-color="#feeddc"/><stop offset="0.9517" stop-color="#feecda"/><stop offset="0.9577" stop-color="#feecda"/><stop offset="0.9637" stop-color="#feeddc"/><stop offset="0.9698" stop-color="#feecda"/><stop offset="0.9758" stop-color="#feeddc"/><stop offset="0.9819" stop-color="#feecda"/><stop offset="0.9879" stop-color="#feecda"/><stop offset="0.9940" stop-color="#feeddb"/></linearGradient></defs>
<defs><linearGradient id="hCETO2" gradientUnits="userSpaceOnUse" x1="0" y1="277.0" x2="0" y2="442.5"><stop offset="0.0030" stop-color="#882b04"/><stop offset="0.0091" stop-color="#8f2d04"/><stop offset="0.0151" stop-color="#cd4401"/><stop offset="0.0211" stop-color="#d54701"/><stop offset="0.0272" stop-color="#de4f05"/><stop offset="0.0332" stop-color="#e75b0c"/><stop offset="0.0393" stop-color="#e75b0c"/><stop offset="0.0453" stop-color="#f06812"/><stop offset="0.0514" stop-color="#f06813"/><stop offset="0.0574" stop-color="#f57521"/><stop offset="0.0634" stop-color="#f87f2c"/><stop offset="0.0695" stop-color="#f9802e"/><stop offset="0.0755" stop-color="#fa8533"/><stop offset="0.0816" stop-color="#fc8937"/><stop offset="0.0876" stop-color="#fd9244"/><stop offset="0.0937" stop-color="#fd9b51"/><stop offset="0.0997" stop-color="#fd984b"/><stop offset="0.1057" stop-color="#fda056"/><stop offset="0.1118" stop-color="#fda35c"/><stop offset="0.1178" stop-color="#fda35b"/><stop offset="0.1239" stop-color="#fdaa66"/><stop offset="0.1299" stop-color="#fdaf6d"/><stop offset="0.1360" stop-color="#fdb271"/><stop offset="0.1420" stop-color="#fdb373"/><stop offset="0.1480" stop-color="#fdba7e"/><stop offset="0.1541" stop-color="#fdb577"/><stop offset="0.1601" stop-color="#fdbe85"/><stop offset="0.1662" stop-color="#fdbd83"/><stop offset="0.1722" stop-color="#fdc18a"/><stop offset="0.1782" stop-color="#fdc28b"/><stop offset="0.1843" stop-color="#fdc590"/><stop offset="0.1903" stop-color="#fdc189"/><stop offset="0.1964" stop-color="#fdc590"/><stop offset="0.2024" stop-color="#fdc997"/><stop offset="0.2085" stop-color="#fdcd9d"/><stop offset="0.2145" stop-color="#fdc996"/><stop offset="0.2205" stop-color="#fdd9b3"/><stop offset="0.2266" stop-color="#fdcb99"/><stop offset="0.2326" stop-color="#fdd1a5"/><stop offset="0.2387" stop-color="#fdcd9e"/><stop offset="0.2447" stop-color="#fdd1a4"/><stop offset="0.2508" stop-color="#fdd0a3"/><stop offset="0.2568" stop-color="#fdd4aa"/><stop offset="0.2628" stop-color="#fdd3a8"/><stop offset="0.2689" stop-color="#fdd0a3"/><stop offset="0.2749" stop-color="#fedebe"/><stop offset="0.2810" stop-color="#fdd2a6"/><stop offset="0.2870" stop-color="#fdd3a9"/><stop offset="0.2931" stop-color="#fdd7b0"/><stop offset="0.2991" stop-color="#fdd4a9"/><stop offset="0.3051" stop-color="#fdd4a9"/><stop offset="0.3112" stop-color="#fdd5ac"/><stop offset="0.3172" stop-color="#fdd8b3"/><stop offset="0.3233" stop-color="#fdd6ad"/><stop offset="0.3293" stop-color="#fdd8b1"/><stop offset="0.3353" stop-color="#fdd8b3"/><stop offset="0.3414" stop-color="#fdd7b0"/><stop offset="0.3474" stop-color="#fdd7b0"/><stop offset="0.3535" stop-color="#fdd9b4"/><stop offset="0.3595" stop-color="#fdd9b3"/><stop offset="0.3656" stop-color="#fddab5"/><stop offset="0.3716" stop-color="#fddab5"/><stop offset="0.3776" stop-color="#fdd9b5"/><stop offset="0.3837" stop-color="#fdd9b3"/><stop offset="0.3897" stop-color="#feddbb"/><stop offset="0.3958" stop-color="#fedcb9"/><stop offset="0.4018" stop-color="#fedcba"/><stop offset="0.4079" stop-color="#fedcbb"/><stop offset="0.4139" stop-color="#fddab6"/><stop offset="0.4199" stop-color="#fddab5"/><stop offset="0.4260" stop-color="#fddab7"/><stop offset="0.4320" stop-color="#fedebd"/><stop offset="0.4381" stop-color="#fedbb9"/><stop offset="0.4441" stop-color="#fedebe"/><stop offset="0.4502" stop-color="#feddbc"/><stop offset="0.4562" stop-color="#fedcba"/><stop offset="0.4622" stop-color="#fedfc1"/><stop offset="0.4683" stop-color="#fedfc0"/><stop offset="0.4743" stop-color="#fedcba"/><stop offset="0.4804" stop-color="#fedebe"/><stop offset="0.4864" stop-color="#feddbb"/><stop offset="0.4924" stop-color="#fedfc0"/><stop offset="0.4985" stop-color="#fedfc1"/><stop offset="0.5045" stop-color="#fee0c3"/><stop offset="0.5106" stop-color="#fedfbf"/><stop offset="0.5166" stop-color="#fedfc0"/><stop offset="0.5227" stop-color="#fedfc0"/><stop offset="0.5287" stop-color="#fedebf"/><stop offset="0.5347" stop-color="#fedebe"/><stop offset="0.5408" stop-color="#fee7cf"/><stop offset="0.5468" stop-color="#fedfc1"/><stop offset="0.5529" stop-color="#fedfc1"/><stop offset="0.5589" stop-color="#fee1c4"/><stop offset="0.5650" stop-color="#fedfc1"/><stop offset="0.5710" stop-color="#fee2c6"/><stop offset="0.5770" stop-color="#fee0c2"/><stop offset="0.5831" stop-color="#fee2c6"/><stop offset="0.5891" stop-color="#fedebf"/><stop offset="0.5952" stop-color="#fedfbf"/><stop offset="0.6012" stop-color="#fee1c4"/><stop offset="0.6073" stop-color="#fee2c5"/><stop offset="0.6133" stop-color="#fee1c4"/><stop offset="0.6193" stop-color="#fee2c5"/><stop offset="0.6254" stop-color="#fee2c6"/><stop offset="0.6314" stop-color="#fee0c2"/><stop offset="0.6375" stop-color="#fee2c7"/><stop offset="0.6435" stop-color="#fee0c2"/><stop offset="0.6495" stop-color="#fee1c4"/><stop offset="0.6556" stop-color="#fee3c8"/><stop offset="0.6616" stop-color="#fee2c6"/><stop offset="0.6677" stop-color="#fee1c5"/><stop offset="0.6737" stop-color="#fee0c1"/><stop offset="0.6798" stop-color="#fee0c3"/><stop offset="0.6858" stop-color="#fee3c8"/><stop offset="0.6918" stop-color="#fee3c8"/><stop offset="0.6979" stop-color="#fee2c6"/><stop offset="0.7039" stop-color="#fee2c6"/><stop offset="0.7100" stop-color="#fee4c9"/><stop offset="0.7160" stop-color="#fee2c7"/><stop offset="0.7221" stop-color="#fee2c5"/><stop offset="0.7281" stop-color="#fee3c9"/><stop offset="0.7341" stop-color="#fee3c8"/><stop offset="0.7402" stop-color="#fee1c4"/><stop offset="0.7462" stop-color="#fee3c7"/><stop offset="0.7523" stop-color="#fee3c7"/><stop offset="0.7583" stop-color="#fee1c5"/><stop offset="0.7644" stop-color="#fee3c9"/><stop offset="0.7704" stop-color="#fee2c6"/><stop offset="0.7764" stop-color="#fee2c7"/><stop offset="0.7825" stop-color="#fee4cb"/><stop offset="0.7885" stop-color="#fee5cb"/><stop offset="0.7946" stop-color="#fee4cb"/><stop offset="0.8006" stop-color="#fee3c8"/><stop offset="0.8066" stop-color="#fee2c5"/><stop offset="0.8127" stop-color="#fee5cc"/><stop offset="0.8187" stop-color="#fee3c8"/><stop offset="0.8248" stop-color="#fee4ca"/><stop offset="0.8308" stop-color="#fee3c9"/><stop offset="0.8369" stop-color="#fee4ca"/><stop offset="0.8429" stop-color="#fee3c8"/><stop offset="0.8489" stop-color="#fee4ca"/><stop offset="0.8550" stop-color="#fee3c7"/><stop offset="0.8610" stop-color="#fee4cb"/><stop offset="0.8671" stop-color="#fee2c7"/><stop offset="0.8731" stop-color="#fee5cc"/><stop offset="0.8792" stop-color="#fee4c9"/><stop offset="0.8852" stop-color="#fee4ca"/><stop offset="0.8912" stop-color="#fee5cd"/><stop offset="0.8973" stop-color="#fee2c7"/><stop offset="0.9033" stop-color="#fee4ca"/><stop offset="0.9094" stop-color="#fee5cc"/><stop offset="0.9154" stop-color="#fee4ca"/><stop offset="0.9215" stop-color="#fee3c8"/><stop offset="0.9275" stop-color="#fee3c9"/><stop offset="0.9335" stop-color="#fee3c9"/><stop offset="0.9396" stop-color="#fee3c8"/><stop offset="0.9456" stop-color="#fee6cd"/><stop offset="0.9517" stop-color="#fee5cb"/><stop offset="0.9577" stop-color="#fee5cc"/><stop offset="0.9637" stop-color="#fee6cd"/><stop offset="0.9698" stop-color="#fee5cc"/><stop offset="0.9758" stop-color="#fee6cd"/><stop offset="0.9819" stop-color="#fee5cb"/><stop offset="0.9879" stop-color="#fee4ca"/><stop offset="0.9940" stop-color="#fee5cc"/></linearGradient></defs>
<rect x="408.5" y="277.0" width="16.1" height="165.5" fill="url(#hLETO2)"/>
<rect x="426.2" y="277.0" width="15.0" height="165.5" fill="url(#hRETO2)"/>
<rect x="424.5" y="277.0" width="1.8" height="165.5" fill="url(#hCETO2)"/>
<g shape-rendering="crispEdges"><rect x="423.0" width="4.9" height="1" y="278" fill="#aa3703"/><rect x="423.1" width="4.6" height="1" y="279" fill="#b83c02"/><rect x="423.3" width="4.3" height="1" y="280" fill="#c74202"/><rect x="423.4" width="4.0" height="1" y="281" fill="#d54701"/><rect x="423.6" width="3.7" height="1" y="282" fill="#de4f05"/><rect x="423.7" width="3.3" height="1" y="283" fill="#e5580a"/><rect x="423.9" width="3.0" height="1" y="284" fill="#eb610f"/><rect x="424.0" width="2.7" height="1" y="285" fill="#f16a15"/><rect x="424.2" width="2.4" height="1" y="286" fill="#f57520"/></g>
<rect x="424.5" y="277.0" width="1.8" height="2" fill="#882b04"/>
<rect x="408.50" y="277.00" width="32.70" height="165.50" fill="none" stroke="#8e8e8e" stroke-width="0.8" />
<line x1="425.40" y1="442.50" x2="425.40" y2="444.00" stroke="#777" stroke-width="0.6" />
<text x="425.40" y="272.10" font-size="7.2" text-anchor="middle" fill="#231f20" stroke="#231f20" stroke-width="0.08" >ETO2</text>
<text x="416.20" y="454.20" font-size="6.1" text-anchor="middle" fill="#231f20" stroke="#231f20" stroke-width="0.08" textLength="14.20" lengthAdjust="spacingAndGlyphs" >-5Kb</text>
<text x="433.40" y="454.20" font-size="6.1" text-anchor="middle" fill="#231f20" stroke="#231f20" stroke-width="0.08" textLength="16.00" lengthAdjust="spacingAndGlyphs" >+5Kb</text>
<text x="425.40" y="467.00" font-size="10.4" text-anchor="middle" fill="#231f20" stroke="#231f20" stroke-width="0.08" textLength="21.50" lengthAdjust="spacingAndGlyphs" >Center</text>
<defs><linearGradient id="cbETO2"><stop offset="0.000" stop-color="#fff5eb"/><stop offset="0.125" stop-color="#fee6ce"/><stop offset="0.250" stop-color="#fdd0a2"/><stop offset="0.375" stop-color="#fdae6b"/><stop offset="0.500" stop-color="#fd8d3c"/><stop offset="0.625" stop-color="#f16913"/><stop offset="0.750" stop-color="#d94801"/><stop offset="0.875" stop-color="#a63603"/><stop offset="1.000" stop-color="#7f2704"/></linearGradient></defs>
<rect x="408.50" y="472.70" width="32.70" height="3.50" fill="url(#cbETO2)" stroke="#aaa" stroke-width="0.5" />
<text x="409.30" y="486.90" font-size="6.9" text-anchor="middle" fill="#231f20" stroke="#231f20" stroke-width="0.08" >0</text>
<text x="420.00" y="486.90" font-size="6.9" text-anchor="middle" fill="#231f20" stroke="#231f20" stroke-width="0.08" >5</text>
<text x="431.30" y="486.90" font-size="6.9" text-anchor="middle" fill="#231f20" stroke="#231f20" stroke-width="0.08" >10</text>
<defs><linearGradient id="hLSKI" gradientUnits="userSpaceOnUse" x1="0" y1="277.0" x2="0" y2="442.5"><stop offset="0.0030" stop-color="#08458a"/><stop offset="0.0091" stop-color="#4a98c9"/><stop offset="0.0151" stop-color="#ccdff1"/><stop offset="0.0211" stop-color="#cfe1f2"/><stop offset="0.0272" stop-color="#d2e3f3"/><stop offset="0.0332" stop-color="#d2e3f3"/><stop offset="0.0393" stop-color="#d4e4f4"/><stop offset="0.0453" stop-color="#d2e3f3"/><stop offset="0.0514" stop-color="#d5e5f4"/><stop offset="0.0574" stop-color="#d1e2f3"/><stop offset="0.0634" stop-color="#cfe1f2"/><stop offset="0.0695" stop-color="#d2e3f3"/><stop offset="0.0755" stop-color="#d4e4f4"/><stop offset="0.0816" stop-color="#d6e6f4"/><stop offset="0.0876" stop-color="#d1e2f3"/><stop offset="0.0937" stop-color="#d3e4f3"/><stop offset="0.0997" stop-color="#d7e6f5"/><stop offset="0.1057" stop-color="#d5e5f4"/><stop offset="0.1118" stop-color="#d6e5f4"/><stop offset="0.1178" stop-color="#d6e6f4"/><stop offset="0.1239" stop-color="#d9e7f5"/><stop offset="0.1299" stop-color="#d3e4f3"/><stop offset="0.1360" stop-color="#d8e7f5"/><stop offset="0.1420" stop-color="#d8e7f5"/><stop offset="0.1480" stop-color="#d7e6f5"/><stop offset="0.1541" stop-color="#d4e4f4"/><stop offset="0.1601" stop-color="#d6e6f4"/><stop offset="0.1662" stop-color="#d5e5f4"/><stop offset="0.1722" stop-color="#dae9f6"/><stop offset="0.1782" stop-color="#d8e7f5"/><stop offset="0.1843" stop-color="#d7e6f5"/><stop offset="0.1903" stop-color="#d6e6f4"/><stop offset="0.1964" stop-color="#dbe9f6"/><stop offset="0.2024" stop-color="#d8e7f5"/><stop offset="0.2085" stop-color="#d7e7f5"/><stop offset="0.2145" stop-color="#dae8f6"/><stop offset="0.2205" stop-color="#d9e7f5"/><stop offset="0.2266" stop-color="#d8e7f5"/><stop offset="0.2326" stop-color="#d9e8f5"/><stop offset="0.2387" stop-color="#ddeaf7"/><stop offset="0.2447" stop-color="#dae8f6"/><stop offset="0.2508" stop-color="#d8e7f5"/><stop offset="0.2568" stop-color="#dae8f6"/><stop offset="0.2628" stop-color="#dbe9f6"/><stop offset="0.2689" stop-color="#d8e7f5"/><stop offset="0.2749" stop-color="#dae8f6"/><stop offset="0.2810" stop-color="#dceaf6"/><stop offset="0.2870" stop-color="#dbe9f6"/><stop offset="0.2931" stop-color="#ddeaf7"/><stop offset="0.2991" stop-color="#dbe9f6"/><stop offset="0.3051" stop-color="#dae8f6"/><stop offset="0.3112" stop-color="#dbe9f6"/><stop offset="0.3172" stop-color="#dce9f6"/><stop offset="0.3233" stop-color="#dceaf6"/><stop offset="0.3293" stop-color="#dceaf6"/><stop offset="0.3353" stop-color="#deebf7"/><stop offset="0.3414" stop-color="#dbe9f6"/><stop offset="0.3474" stop-color="#dceaf6"/><stop offset="0.3535" stop-color="#dceaf6"/><stop offset="0.3595" stop-color="#dceaf6"/><stop offset="0.3656" stop-color="#dfebf7"/><stop offset="0.3716" stop-color="#ddebf7"/><stop offset="0.3776" stop-color="#dfebf7"/><stop offset="0.3837" stop-color="#e0ecf8"/><stop offset="0.3897" stop-color="#dfecf7"/><stop offset="0.3958" stop-color="#e1edf8"/><stop offset="0.4018" stop-color="#ddebf7"/><stop offset="0.4079" stop-color="#ddeaf7"/><stop offset="0.4139" stop-color="#ddeaf7"/><stop offset="0.4199" stop-color="#e0edf8"/><stop offset="0.4260" stop-color="#ddeaf7"/><stop offset="0.4320" stop-color="#dfebf7"/><stop offset="0.4381" stop-color="#e2edf8"/><stop offset="0.4441" stop-color="#e2edf8"/><stop offset="0.4502" stop-color="#e9f2fb"/><stop offset="0.4562" stop-color="#e0ecf8"/><stop offset="0.4622" stop-color="#dfebf7"/><stop offset="0.4683" stop-color="#dfecf7"/><stop offset="0.4743" stop-color="#e0edf8"/><stop offset="0.4804" stop-color="#dfebf7"/><stop offset="0.4864" stop-color="#e2eef8"/><stop offset="0.4924" stop-color="#e1edf8"/><stop offset="0.4985" stop-color="#e9f2fa"/><stop offset="0.5045" stop-color="#dfecf7"/><stop offset="0.5106" stop-color="#dfecf7"/><stop offset="0.5166" stop-color="#e2eef8"/><stop offset="0.5227" stop-color="#e2edf8"/><stop offset="0.5287" stop-color="#e2eef8"/><stop offset="0.5347" stop-color="#e3eef9"/><stop offset="0.5408" stop-color="#e0ecf8"/><stop offset="0.5468" stop-color="#e4eff9"/><stop offset="0.5529" stop-color="#e1edf8"/><stop offset="0.5589" stop-color="#e1edf8"/><stop offset="0.5650" stop-color="#e4eff9"/><stop offset="0.5710" stop-color="#e4eff9"/><stop offset="0.5770" stop-color="#e3eef9"/><stop offset="0.5831" stop-color="#e4eff9"/><stop offset="0.5891" stop-color="#e1edf8"/><stop offset="0.5952" stop-color="#e2edf8"/><stop offset="0.6012" stop-color="#e4eff9"/><stop offset="0.6073" stop-color="#e3eef9"/><stop offset="0.6133" stop-color="#e4eff9"/><stop offset="0.6193" stop-color="#e1edf8"/><stop offset="0.6254" stop-color="#e5eff9"/><stop offset="0.6314" stop-color="#e4eff9"/><stop offset="0.6375" stop-color="#e5eff9"/><stop offset="0.6435" stop-color="#e3eef9"/><stop offset="0.6495" stop-color="#e4eff9"/><stop offset="0.6556" stop-color="#e4eff9"/><stop offset="0.6616" stop-color="#e3eef9"/><stop offset="0.6677" stop-color="#e4eff9"/><stop offset="0.6737" stop-color="#e3eef9"/><stop offset="0.6798" stop-color="#e4eff9"/><stop offset="0.6858" stop-color="#e5eff9"/><stop offset="0.6918" stop-color="#e2eef8"/><stop offset="0.6979" stop-color="#e5f0f9"/><stop offset="0.7039" stop-color="#e4eff9"/><stop offset="0.7100" stop-color="#e6f0f9"/><stop offset="0.7160" stop-color="#e6f0fa"/><stop offset="0.7221" stop-color="#e6f0f9"/><stop offset="0.7281" stop-color="#e4eff9"/><stop offset="0.7341" stop-color="#e6f0fa"/><stop offset="0.7402" stop-color="#e6f0fa"/><stop offset="0.7462" stop-color="#e4eff9"/><stop offset="0.7523" stop-color="#e4eff9"/><stop offset="0.7583" stop-color="#e6f0fa"/><stop offset="0.7644" stop-color="#e5f0f9"/><stop offset="0.7704" stop-color="#e3eef9"/><stop offset="0.7764" stop-color="#e7f0fa"/><stop offset="0.7825" stop-color="#e6f0f9"/><stop offset="0.7885" stop-color="#e5eff9"/><stop offset="0.7946" stop-color="#e6f0f9"/><stop offset="0.8006" stop-color="#e5eff9"/><stop offset="0.8066" stop-color="#e4eff9"/><stop offset="0.8127" stop-color="#e4eff9"/><stop offset="0.8187" stop-color="#e6f0fa"/><stop offset="0.8248" stop-color="#e7f0fa"/><stop offset="0.8308" stop-color="#e6f0fa"/><stop offset="0.8369" stop-color="#e5f0f9"/><stop offset="0.8429" stop-color="#e7f1fa"/><stop offset="0.8489" stop-color="#e7f1fa"/><stop offset="0.8550" stop-color="#e4eff9"/><stop offset="0.8610" stop-color="#e4eff9"/><stop offset="0.8671" stop-color="#e4eff9"/><stop offset="0.8731" stop-color="#e5eff9"/><stop offset="0.8792" stop-color="#e6f0fa"/><stop offset="0.8852" stop-color="#e6f0f9"/><stop offset="0.8912" stop-color="#e6f0f9"/><stop offset="0.8973" stop-color="#e6f0f9"/><stop offset="0.9033" stop-color="#e5f0f9"/><stop offset="0.9094" stop-color="#e6f0f9"/><stop offset="0.9154" stop-color="#e7f0fa"/><stop offset="0.9215" stop-color="#e6f0fa"/><stop offset="0.9275" stop-color="#e7f1fa"/><stop offset="0.9335" stop-color="#e6f0f9"/><stop offset="0.9396" stop-color="#e7f1fa"/><stop offset="0.9456" stop-color="#e6f0fa"/><stop offset="0.9517" stop-color="#e6f0fa"/><stop offset="0.9577" stop-color="#e6f0fa"/><stop offset="0.9637" stop-color="#e8f1fa"/><stop offset="0.9698" stop-color="#e8f1fa"/><stop offset="0.9758" stop-color="#e6f0fa"/><stop offset="0.9819" stop-color="#e5f0f9"/><stop offset="0.9879" stop-color="#e6f0f9"/><stop offset="0.9940" stop-color="#e5f0f9"/></linearGradient></defs>
<defs><linearGradient id="hRSKI" gradientUnits="userSpaceOnUse" x1="0" y1="277.0" x2="0" y2="442.5"><stop offset="0.0030" stop-color="#08458a"/><stop offset="0.0091" stop-color="#6baed6"/><stop offset="0.0151" stop-color="#d6e6f4"/><stop offset="0.0211" stop-color="#dae8f6"/><stop offset="0.0272" stop-color="#dae9f6"/><stop offset="0.0332" stop-color="#ddeaf7"/><stop offset="0.0393" stop-color="#dce9f6"/><stop offset="0.0453" stop-color="#dceaf6"/><stop offset="0.0514" stop-color="#ddeaf7"/><stop offset="0.0574" stop-color="#dbe9f6"/><stop offset="0.0634" stop-color="#d9e7f5"/><stop offset="0.0695" stop-color="#dbe9f6"/><stop offset="0.0755" stop-color="#deebf7"/><stop offset="0.0816" stop-color="#deebf7"/><stop offset="0.0876" stop-color="#dceaf6"/><stop offset="0.0937" stop-color="#ddeaf7"/><stop offset="0.0997" stop-color="#dfecf7"/><stop offset="0.1057" stop-color="#ddeaf7"/><stop offset="0.1118" stop-color="#dfebf7"/><stop offset="0.1178" stop-color="#e0ecf7"/><stop offset="0.1239" stop-color="#e0ecf7"/><stop offset="0.1299" stop-color="#dceaf6"/><stop offset="0.1360" stop-color="#dfecf7"/><stop offset="0.1420" stop-color="#dfecf7"/><stop offset="0.1480" stop-color="#dfecf7"/><stop offset="0.1541" stop-color="#ddebf7"/><stop offset="0.1601" stop-color="#e0ecf7"/><stop offset="0.1662" stop-color="#deebf7"/><stop offset="0.1722" stop-color="#e2edf8"/><stop offset="0.1782" stop-color="#deebf7"/><stop offset="0.1843" stop-color="#deebf7"/><stop offset="0.1903" stop-color="#dfecf7"/><stop offset="0.1964" stop-color="#e2edf8"/><stop offset="0.2024" stop-color="#e0ecf7"/><stop offset="0.2085" stop-color="#dfecf7"/><stop offset="0.2145" stop-color="#e0ecf8"/><stop offset="0.2205" stop-color="#dfecf7"/><stop offset="0.2266" stop-color="#e0ecf8"/><stop offset="0.2326" stop-color="#dfecf7"/><stop offset="0.2387" stop-color="#e3eef9"/><stop offset="0.2447" stop-color="#e0ecf8"/><stop offset="0.2508" stop-color="#e0ecf8"/><stop offset="0.2568" stop-color="#e0ecf8"/><stop offset="0.2628" stop-color="#e1edf8"/><stop offset="0.2689" stop-color="#e1edf8"/><stop offset="0.2749" stop-color="#e1edf8"/><stop offset="0.2810" stop-color="#e3eef9"/><stop offset="0.2870" stop-color="#e1edf8"/><stop offset="0.2931" stop-color="#e3eef8"/><stop offset="0.2991" stop-color="#e3eef9"/><stop offset="0.3051" stop-color="#e2edf8"/><stop offset="0.3112" stop-color="#e1edf8"/><stop offset="0.3172" stop-color="#e2eef8"/><stop offset="0.3233" stop-color="#e4eff9"/><stop offset="0.3293" stop-color="#e2edf8"/><stop offset="0.3353" stop-color="#e5eff9"/><stop offset="0.3414" stop-color="#e3eef9"/><stop offset="0.3474" stop-color="#e1edf8"/><stop offset="0.3535" stop-color="#e2edf8"/><stop offset="0.3595" stop-color="#e2eef8"/><stop offset="0.3656" stop-color="#e6f0f9"/><stop offset="0.3716" stop-color="#e3eef9"/><stop offset="0.3776" stop-color="#e5f0f9"/><stop offset="0.3837" stop-color="#e6f0fa"/><stop offset="0.3897" stop-color="#e6f0fa"/><stop offset="0.3958" stop-color="#e6f0fa"/><stop offset="0.4018" stop-color="#e3eef8"/><stop offset="0.4079" stop-color="#e4eff9"/><stop offset="0.4139" stop-color="#e3eef8"/><stop offset="0.4199" stop-color="#e6f0f9"/><stop offset="0.4260" stop-color="#e4eff9"/><stop offset="0.4320" stop-color="#e5eff9"/><stop offset="0.4381" stop-color="#e6f0fa"/><stop offset="0.4441" stop-color="#e6f0fa"/><stop offset="0.4502" stop-color="#ecf4fc"/><stop offset="0.4562" stop-color="#e7f1fa"/><stop offset="0.4622" stop-color="#e4eff9"/><stop offset="0.4683" stop-color="#e5f0f9"/><stop offset="0.4743" stop-color="#e7f1fa"/><stop offset="0.4804" stop-color="#e5eff9"/><stop offset="0.4864" stop-color="#e8f1fa"/><stop offset="0.4924" stop-color="#e6f0f9"/><stop offset="0.4985" stop-color="#edf4fc"/><stop offset="0.5045" stop-color="#e5f0f9"/><stop offset="0.5106" stop-color="#e4eff9"/><stop offset="0.5166" stop-color="#e8f1fa"/><stop offset="0.5227" stop-color="#e7f1fa"/><stop offset="0.5287" stop-color="#e7f1fa"/><stop offset="0.5347" stop-color="#e7f1fa"/><stop offset="0.5408" stop-color="#e5eff9"/><stop offset="0.5468" stop-color="#e8f2fa"/><stop offset="0.5529" stop-color="#e7f0fa"/><stop offset="0.5589" stop-color="#e6f0f9"/><stop offset="0.5650" stop-color="#e9f2fa"/><stop offset="0.5710" stop-color="#e8f1fa"/><stop offset="0.5770" stop-color="#e9f2fa"/><stop offset="0.5831" stop-color="#e8f1fa"/><stop offset="0.5891" stop-color="#e6f0fa"/><stop offset="0.5952" stop-color="#e6f0fa"/><stop offset="0.6012" stop-color="#e8f2fa"/><stop offset="0.6073" stop-color="#e8f1fa"/><stop offset="0.6133" stop-color="#e8f2fa"/><stop offset="0.6193" stop-color="#e6f0f9"/><stop offset="0.6254" stop-color="#e8f2fa"/><stop offset="0.6314" stop-color="#e8f1fa"/><stop offset="0.6375" stop-color="#eaf2fb"/><stop offset="0.6435" stop-color="#e8f1fa"/><stop offset="0.6495" stop-color="#e8f2fa"/><stop offset="0.6556" stop-color="#e9f2fa"/><stop offset="0.6616" stop-color="#e7f0fa"/><stop offset="0.6677" stop-color="#e8f1fa"/><stop offset="0.6737" stop-color="#e8f1fa"/><stop offset="0.6798" stop-color="#e9f2fb"/><stop offset="0.6858" stop-color="#eaf2fb"/><stop offset="0.6918" stop-color="#e8f1fa"/><stop offset="0.6979" stop-color="#e9f2fb"/><stop offset="0.7039" stop-color="#e9f2fb"/><stop offset="0.7100" stop-color="#e9f2fb"/><stop offset="0.7160" stop-color="#eaf3fb"/><stop offset="0.7221" stop-color="#eaf2fb"/><stop offset="0.7281" stop-color="#e8f2fa"/><stop offset="0.7341" stop-color="#eaf3fb"/><stop offset="0.7402" stop-color="#eaf3fb"/><stop offset="0.7462" stop-color="#e8f1fa"/><stop offset="0.7523" stop-color="#e8f1fa"/><stop offset="0.7583" stop-color="#eaf3fb"/><stop offset="0.7644" stop-color="#eaf3fb"/><stop offset="0.7704" stop-color="#e8f1fa"/><stop offset="0.7764" stop-color="#eaf3fb"/><stop offset="0.7825" stop-color="#e9f2fa"/><stop offset="0.7885" stop-color="#e9f2fa"/><stop offset="0.7946" stop-color="#e9f2fb"/><stop offset="0.8006" stop-color="#e8f2fa"/><stop offset="0.8066" stop-color="#e8f1fa"/><stop offset="0.8127" stop-color="#e8f2fa"/><stop offset="0.8187" stop-color="#eaf3fb"/><stop offset="0.8248" stop-color="#e9f2fb"/><stop offset="0.8308" stop-color="#e9f2fb"/><stop offset="0.8369" stop-color="#eaf2fb"/><stop offset="0.8429" stop-color="#ebf3fb"/><stop offset="0.8489" stop-color="#ebf3fb"/><stop offset="0.8550" stop-color="#e9f2fb"/><stop offset="0.8610" stop-color="#e8f1fa"/><stop offset="0.8671" stop-color="#e8f1fa"/><stop offset="0.8731" stop-color="#e9f2fb"/><stop offset="0.8792" stop-color="#eaf3fb"/><stop offset="0.8852" stop-color="#e9f2fa"/><stop offset="0.8912" stop-color="#eaf3fb"/><stop offset="0.8973" stop-color="#e9f2fa"/><stop offset="0.9033" stop-color="#e9f2fb"/><stop offset="0.9094" stop-color="#eaf3fb"/><stop offset="0.9154" stop-color="#ebf3fb"/><stop offset="0.9215" stop-color="#eaf3fb"/><stop offset="0.9275" stop-color="#eaf3fb"/><stop offset="0.9335" stop-color="#e9f2fa"/><stop offset="0.9396" stop-color="#eaf3fb"/><stop offset="0.9456" stop-color="#e9f2fb"/><stop offset="0.9517" stop-color="#eaf3fb"/><stop offset="0.9577" stop-color="#eaf3fb"/><stop offset="0.9637" stop-color="#ebf3fb"/><stop offset="0.9698" stop-color="#ebf3fb"/><stop offset="0.9758" stop-color="#e9f2fb"/><stop offset="0.9819" stop-color="#e9f2fb"/><stop offset="0.9879" stop-color="#e9f2fb"/><stop offset="0.9940" stop-color="#e8f2fa"/></linearGradient></defs>
<defs><linearGradient id="hCSKI" gradientUnits="userSpaceOnUse" x1="0" y1="277.0" x2="0" y2="442.5"><stop offset="0.0030" stop-color="#083877"/><stop offset="0.0091" stop-color="#083d7f"/><stop offset="0.0151" stop-color="#1b69af"/><stop offset="0.0211" stop-color="#2676b7"/><stop offset="0.0272" stop-color="#3181bd"/><stop offset="0.0332" stop-color="#3a8ac2"/><stop offset="0.0393" stop-color="#4493c7"/><stop offset="0.0453" stop-color="#4a97c9"/><stop offset="0.0514" stop-color="#56a0ce"/><stop offset="0.0574" stop-color="#56a0ce"/><stop offset="0.0634" stop-color="#5aa2cf"/><stop offset="0.0695" stop-color="#67abd4"/><stop offset="0.0755" stop-color="#71b1d7"/><stop offset="0.0816" stop-color="#7cb7da"/><stop offset="0.0876" stop-color="#78b5d9"/><stop offset="0.0937" stop-color="#82bbdb"/><stop offset="0.0997" stop-color="#91c3de"/><stop offset="0.1057" stop-color="#92c3de"/><stop offset="0.1118" stop-color="#98c7e0"/><stop offset="0.1178" stop-color="#9ecae1"/><stop offset="0.1239" stop-color="#a6cde4"/><stop offset="0.1299" stop-color="#9fcbe1"/><stop offset="0.1360" stop-color="#acd0e6"/><stop offset="0.1420" stop-color="#aed1e6"/><stop offset="0.1480" stop-color="#afd1e7"/><stop offset="0.1541" stop-color="#acd0e6"/><stop offset="0.1601" stop-color="#b3d3e8"/><stop offset="0.1662" stop-color="#b2d2e8"/><stop offset="0.1722" stop-color="#bed7ec"/><stop offset="0.1782" stop-color="#bbd6eb"/><stop offset="0.1843" stop-color="#bbd7eb"/><stop offset="0.1903" stop-color="#bcd7ec"/><stop offset="0.1964" stop-color="#c5dbef"/><stop offset="0.2024" stop-color="#c2d9ed"/><stop offset="0.2085" stop-color="#c2d9ee"/><stop offset="0.2145" stop-color="#c7dcef"/><stop offset="0.2205" stop-color="#c7dbef"/><stop offset="0.2266" stop-color="#c6dbef"/><stop offset="0.2326" stop-color="#c8dcf0"/><stop offset="0.2387" stop-color="#ccdff1"/><stop offset="0.2447" stop-color="#cadef0"/><stop offset="0.2508" stop-color="#c9ddf0"/><stop offset="0.2568" stop-color="#cbdef1"/><stop offset="0.2628" stop-color="#cde0f1"/><stop offset="0.2689" stop-color="#cbdef1"/><stop offset="0.2749" stop-color="#ccdff1"/><stop offset="0.2810" stop-color="#cfe1f2"/><stop offset="0.2870" stop-color="#cfe1f2"/><stop offset="0.2931" stop-color="#d0e2f2"/><stop offset="0.2991" stop-color="#cfe1f2"/><stop offset="0.3051" stop-color="#cee0f2"/><stop offset="0.3112" stop-color="#d0e1f2"/><stop offset="0.3172" stop-color="#d0e2f2"/><stop offset="0.3233" stop-color="#d1e2f3"/><stop offset="0.3293" stop-color="#d1e3f3"/><stop offset="0.3353" stop-color="#d3e4f3"/><stop offset="0.3414" stop-color="#d1e2f3"/><stop offset="0.3474" stop-color="#d2e3f3"/><stop offset="0.3535" stop-color="#d2e3f3"/><stop offset="0.3595" stop-color="#d2e3f3"/><stop offset="0.3656" stop-color="#d5e5f4"/><stop offset="0.3716" stop-color="#d4e4f4"/><stop offset="0.3776" stop-color="#d5e5f4"/><stop offset="0.3837" stop-color="#d7e6f5"/><stop offset="0.3897" stop-color="#d6e6f4"/><stop offset="0.3958" stop-color="#d7e7f5"/><stop offset="0.4018" stop-color="#d4e5f4"/><stop offset="0.4079" stop-color="#d4e4f4"/><stop offset="0.4139" stop-color="#d4e4f4"/><stop offset="0.4199" stop-color="#d7e7f5"/><stop offset="0.4260" stop-color="#d4e5f4"/><stop offset="0.4320" stop-color="#d6e6f4"/><stop offset="0.4381" stop-color="#d9e7f5"/><stop offset="0.4441" stop-color="#d9e8f5"/><stop offset="0.4502" stop-color="#e0edf8"/><stop offset="0.4562" stop-color="#d8e7f5"/><stop offset="0.4622" stop-color="#d6e6f4"/><stop offset="0.4683" stop-color="#d6e6f4"/><stop offset="0.4743" stop-color="#d8e7f5"/><stop offset="0.4804" stop-color="#d6e6f4"/><stop offset="0.4864" stop-color="#dae8f6"/><stop offset="0.4924" stop-color="#d8e7f5"/><stop offset="0.4985" stop-color="#e0ecf8"/><stop offset="0.5045" stop-color="#d7e6f5"/><stop offset="0.5106" stop-color="#d7e6f5"/><stop offset="0.5166" stop-color="#dae8f6"/><stop offset="0.5227" stop-color="#dae8f6"/><stop offset="0.5287" stop-color="#dae8f6"/><stop offset="0.5347" stop-color="#dbe9f6"/><stop offset="0.5408" stop-color="#d8e7f5"/><stop offset="0.5468" stop-color="#dce9f6"/><stop offset="0.5529" stop-color="#d9e8f5"/><stop offset="0.5589" stop-color="#d9e7f5"/><stop offset="0.5650" stop-color="#dceaf6"/><stop offset="0.5710" stop-color="#dce9f6"/><stop offset="0.5770" stop-color="#dbe9f6"/><stop offset="0.5831" stop-color="#dbe9f6"/><stop offset="0.5891" stop-color="#d9e8f5"/><stop offset="0.5952" stop-color="#dae8f6"/><stop offset="0.6012" stop-color="#dceaf6"/><stop offset="0.6073" stop-color="#dbe9f6"/><stop offset="0.6133" stop-color="#dce9f6"/><stop offset="0.6193" stop-color="#d9e8f5"/><stop offset="0.6254" stop-color="#ddeaf7"/><stop offset="0.6314" stop-color="#dceaf6"/><stop offset="0.6375" stop-color="#ddeaf7"/><stop offset="0.6435" stop-color="#dbe9f6"/><stop offset="0.6495" stop-color="#dceaf6"/><stop offset="0.6556" stop-color="#dce9f6"/><stop offset="0.6616" stop-color="#dbe9f6"/><stop offset="0.6677" stop-color="#dceaf6"/><stop offset="0.6737" stop-color="#dbe9f6"/><stop offset="0.6798" stop-color="#dceaf6"/><stop offset="0.6858" stop-color="#ddeaf7"/><stop offset="0.6918" stop-color="#dae9f6"/><stop offset="0.6979" stop-color="#ddebf7"/><stop offset="0.7039" stop-color="#dceaf6"/><stop offset="0.7100" stop-color="#deebf7"/><stop offset="0.7160" stop-color="#deebf7"/><stop offset="0.7221" stop-color="#deebf7"/><stop offset="0.7281" stop-color="#dceaf6"/><stop offset="0.7341" stop-color="#deebf7"/><stop offset="0.7402" stop-color="#deebf7"/><stop offset="0.7462" stop-color="#dceaf6"/><stop offset="0.7523" stop-color="#dceaf6"/><stop offset="0.7583" stop-color="#deebf7"/><stop offset="0.7644" stop-color="#ddebf7"/><stop offset="0.7704" stop-color="#dbe9f6"/><stop offset="0.7764" stop-color="#dfebf7"/><stop offset="0.7825" stop-color="#deebf7"/><stop offset="0.7885" stop-color="#ddeaf7"/><stop offset="0.7946" stop-color="#deebf7"/><stop offset="0.8006" stop-color="#ddeaf7"/><stop offset="0.8066" stop-color="#dceaf6"/><stop offset="0.8127" stop-color="#dceaf6"/><stop offset="0.8187" stop-color="#deebf7"/><stop offset="0.8248" stop-color="#deebf7"/><stop offset="0.8308" stop-color="#deebf7"/><stop offset="0.8369" stop-color="#ddeaf7"/><stop offset="0.8429" stop-color="#dfecf7"/><stop offset="0.8489" stop-color="#dfecf7"/><stop offset="0.8550" stop-color="#dceaf6"/><stop offset="0.8610" stop-color="#dceaf6"/><stop offset="0.8671" stop-color="#dceaf6"/><stop offset="0.8731" stop-color="#ddeaf7"/><stop offset="0.8792" stop-color="#deebf7"/><stop offset="0.8852" stop-color="#deebf7"/><stop offset="0.8912" stop-color="#deebf7"/><stop offset="0.8973" stop-color="#deebf7"/><stop offset="0.9033" stop-color="#ddeaf7"/><stop offset="0.9094" stop-color="#deebf7"/><stop offset="0.9154" stop-color="#dfebf7"/><stop offset="0.9215" stop-color="#deebf7"/><stop offset="0.9275" stop-color="#dfebf7"/><stop offset="0.9335" stop-color="#deebf7"/><stop offset="0.9396" stop-color="#dfecf7"/><stop offset="0.9456" stop-color="#deebf7"/><stop offset="0.9517" stop-color="#deebf7"/><stop offset="0.9577" stop-color="#deebf7"/><stop offset="0.9637" stop-color="#e0ecf8"/><stop offset="0.9698" stop-color="#e0ecf8"/><stop offset="0.9758" stop-color="#deebf7"/><stop offset="0.9819" stop-color="#ddebf7"/><stop offset="0.9879" stop-color="#deebf7"/><stop offset="0.9940" stop-color="#ddebf7"/></linearGradient></defs>
<rect x="443.8" y="277.0" width="16.1" height="165.5" fill="url(#hLSKI)"/>
<rect x="461.5" y="277.0" width="15.0" height="165.5" fill="url(#hRSKI)"/>
<rect x="459.8" y="277.0" width="1.8" height="165.5" fill="url(#hCSKI)"/>
<g shape-rendering="crispEdges"><rect x="458.3" width="4.9" height="1" y="278" fill="#0a549e"/><rect x="458.4" width="4.6" height="1" y="279" fill="#115da5"/><rect x="458.6" width="4.3" height="1" y="280" fill="#1865ac"/><rect x="458.7" width="4.0" height="1" y="281" fill="#1f6eb3"/><rect x="458.9" width="3.7" height="1" y="282" fill="#2878b8"/><rect x="459.0" width="3.3" height="1" y="283" fill="#3181bd"/><rect x="459.2" width="3.0" height="1" y="284" fill="#3a8ac2"/><rect x="459.3" width="2.7" height="1" y="285" fill="#4493c7"/><rect x="459.5" width="2.4" height="1" y="286" fill="#4f9bcb"/></g>
<rect x="459.8" y="277.0" width="1.8" height="2" fill="#083877"/>
<rect x="443.80" y="277.00" width="32.70" height="165.50" fill="none" stroke="#8e8e8e" stroke-width="0.8" />
<line x1="460.70" y1="442.50" x2="460.70" y2="444.00" stroke="#777" stroke-width="0.6" />
<text x="460.70" y="272.10" font-size="7.2" text-anchor="middle" fill="#231f20" stroke="#231f20" stroke-width="0.08" >SKI</text>
<text x="451.50" y="454.20" font-size="6.1" text-anchor="middle" fill="#231f20" stroke="#231f20" stroke-width="0.08" textLength="14.20" lengthAdjust="spacingAndGlyphs" >-5Kb</text>
<text x="468.70" y="454.20" font-size="6.1" text-anchor="middle" fill="#231f20" stroke="#231f20" stroke-width="0.08" textLength="16.00" lengthAdjust="spacingAndGlyphs" >+5Kb</text>
<text x="460.70" y="467.00" font-size="10.4" text-anchor="middle" fill="#231f20" stroke="#231f20" stroke-width="0.08" textLength="21.50" lengthAdjust="spacingAndGlyphs" >Center</text>
<defs><linearGradient id="cbSKI"><stop offset="0.000" stop-color="#f7fbff"/><stop offset="0.125" stop-color="#deebf7"/><stop offset="0.250" stop-color="#c6dbef"/><stop offset="0.375" stop-color="#9ecae1"/><stop offset="0.500" stop-color="#6baed6"/><stop offset="0.625" stop-color="#4292c6"/><stop offset="0.750" stop-color="#2171b5"/><stop offset="0.875" stop-color="#08519c"/><stop offset="1.000" stop-color="#08306b"/></linearGradient></defs>
<rect x="443.80" y="472.70" width="32.70" height="3.50" fill="url(#cbSKI)" stroke="#aaa" stroke-width="0.5" />
<text x="444.60" y="486.90" font-size="6.9" text-anchor="middle" fill="#231f20" stroke="#231f20" stroke-width="0.08" >0</text>
<text x="455.30" y="486.90" font-size="6.9" text-anchor="middle" fill="#231f20" stroke="#231f20" stroke-width="0.08" >5</text>
<text x="466.60" y="486.90" font-size="6.9" text-anchor="middle" fill="#231f20" stroke="#231f20" stroke-width="0.08" >10</text>
<defs><linearGradient id="hLSPI1" gradientUnits="userSpaceOnUse" x1="0" y1="277.0" x2="0" y2="442.5"><stop offset="0.0030" stop-color="#8f0a12"/><stop offset="0.0091" stop-color="#f14432"/><stop offset="0.0151" stop-color="#fdccb7"/><stop offset="0.0211" stop-color="#fdc5ae"/><stop offset="0.0272" stop-color="#fcc3ab"/><stop offset="0.0332" stop-color="#fdc8b2"/><stop offset="0.0393" stop-color="#fdc6af"/><stop offset="0.0453" stop-color="#fcc3ac"/><stop offset="0.0514" stop-color="#fdc5af"/><stop offset="0.0574" stop-color="#fdc7b0"/><stop offset="0.0634" stop-color="#fdc9b4"/><stop offset="0.0695" stop-color="#fdccb7"/><stop offset="0.0755" stop-color="#fdccb7"/><stop offset="0.0816" stop-color="#fdd0bd"/><stop offset="0.0876" stop-color="#fdd0bd"/><stop offset="0.0937" stop-color="#fdd0bd"/><stop offset="0.0997" stop-color="#fdcfbc"/><stop offset="0.1057" stop-color="#fdcdb9"/><stop offset="0.1118" stop-color="#fdd2c0"/><stop offset="0.1178" stop-color="#fdcebb"/><stop offset="0.1239" stop-color="#fdcfbb"/><stop offset="0.1299" stop-color="#fee3d6"/><stop offset="0.1360" stop-color="#fdd0bd"/><stop offset="0.1420" stop-color="#fdd1be"/><stop offset="0.1480" stop-color="#fdd4c2"/><stop offset="0.1541" stop-color="#fdd0bd"/><stop offset="0.1601" stop-color="#fdd6c5"/><stop offset="0.1662" stop-color="#fdd1be"/><stop offset="0.1722" stop-color="#fdd1bf"/><stop offset="0.1782" stop-color="#fdd4c2"/><stop offset="0.1843" stop-color="#fed7c6"/><stop offset="0.1903" stop-color="#fed8c8"/><stop offset="0.1964" stop-color="#fed7c6"/><stop offset="0.2024" stop-color="#fed8c7"/><stop offset="0.2085" stop-color="#fed8c8"/><stop offset="0.2145" stop-color="#fdd2c0"/><stop offset="0.2205" stop-color="#fedaca"/><stop offset="0.2266" stop-color="#fdd5c3"/><stop offset="0.2326" stop-color="#fedccc"/><stop offset="0.2387" stop-color="#fdd7c6"/><stop offset="0.2447" stop-color="#fdd4c1"/><stop offset="0.2508" stop-color="#fed9c9"/><stop offset="0.2568" stop-color="#fdd6c5"/><stop offset="0.2628" stop-color="#fdd6c5"/><stop offset="0.2689" stop-color="#fdd6c5"/><stop offset="0.2749" stop-color="#fed8c7"/><stop offset="0.2810" stop-color="#fdd6c4"/><stop offset="0.2870" stop-color="#fee4d8"/><stop offset="0.2931" stop-color="#fdd6c5"/><stop offset="0.2991" stop-color="#feddce"/><stop offset="0.3051" stop-color="#fedaca"/><stop offset="0.3112" stop-color="#fedaca"/><stop offset="0.3172" stop-color="#fed8c7"/><stop offset="0.3233" stop-color="#fee0d1"/><stop offset="0.3293" stop-color="#fedccd"/><stop offset="0.3353" stop-color="#feded0"/><stop offset="0.3414" stop-color="#fee7dc"/><stop offset="0.3474" stop-color="#fedccc"/><stop offset="0.3535" stop-color="#fedbcb"/><stop offset="0.3595" stop-color="#fee0d2"/><stop offset="0.3656" stop-color="#feded0"/><stop offset="0.3716" stop-color="#feddcf"/><stop offset="0.3776" stop-color="#feddce"/><stop offset="0.3837" stop-color="#fedbcb"/><stop offset="0.3897" stop-color="#feddcf"/><stop offset="0.3958" stop-color="#fedbcc"/><stop offset="0.4018" stop-color="#fedfd0"/><stop offset="0.4079" stop-color="#fee0d3"/><stop offset="0.4139" stop-color="#fee0d2"/><stop offset="0.4199" stop-color="#fedecf"/><stop offset="0.4260" stop-color="#fedfd1"/><stop offset="0.4320" stop-color="#fee0d3"/><stop offset="0.4381" stop-color="#fee2d5"/><stop offset="0.4441" stop-color="#fee2d5"/><stop offset="0.4502" stop-color="#fee2d4"/><stop offset="0.4562" stop-color="#fee0d2"/><stop offset="0.4622" stop-color="#fee3d6"/><stop offset="0.4683" stop-color="#fee3d6"/><stop offset="0.4743" stop-color="#fee3d6"/><stop offset="0.4804" stop-color="#fee1d3"/><stop offset="0.4864" stop-color="#fee0d1"/><stop offset="0.4924" stop-color="#fee1d3"/><stop offset="0.4985" stop-color="#fee2d4"/><stop offset="0.5045" stop-color="#fee0d3"/><stop offset="0.5106" stop-color="#fee1d3"/><stop offset="0.5166" stop-color="#fee3d7"/><stop offset="0.5227" stop-color="#fee1d4"/><stop offset="0.5287" stop-color="#fee2d4"/><stop offset="0.5347" stop-color="#fee4d7"/><stop offset="0.5408" stop-color="#fee2d4"/><stop offset="0.5468" stop-color="#fee2d5"/><stop offset="0.5529" stop-color="#fee4d8"/><stop offset="0.5589" stop-color="#fee2d5"/><stop offset="0.5650" stop-color="#fee2d5"/><stop offset="0.5710" stop-color="#fee2d5"/><stop offset="0.5770" stop-color="#fee3d6"/><stop offset="0.5831" stop-color="#fee2d5"/><stop offset="0.5891" stop-color="#fee3d7"/><stop offset="0.5952" stop-color="#fee4d8"/><stop offset="0.6012" stop-color="#fee1d4"/><stop offset="0.6073" stop-color="#fee4d8"/><stop offset="0.6133" stop-color="#fee4d8"/><stop offset="0.6193" stop-color="#fee3d7"/><stop offset="0.6254" stop-color="#fee4d8"/><stop offset="0.6314" stop-color="#fee3d6"/><stop offset="0.6375" stop-color="#fee5d8"/><stop offset="0.6435" stop-color="#fee3d6"/><stop offset="0.6495" stop-color="#fee5d9"/><stop offset="0.6556" stop-color="#fee3d6"/><stop offset="0.6616" stop-color="#fee4d8"/><stop offset="0.6677" stop-color="#fee2d6"/><stop offset="0.6737" stop-color="#fee2d5"/><stop offset="0.6798" stop-color="#fee4d7"/><stop offset="0.6858" stop-color="#fee3d6"/><stop offset="0.6918" stop-color="#fee5d9"/><stop offset="0.6979" stop-color="#fee3d7"/><stop offset="0.7039" stop-color="#fee5d9"/><stop offset="0.7100" stop-color="#fee4d8"/><stop offset="0.7160" stop-color="#fee6da"/><stop offset="0.7221" stop-color="#fee5d9"/><stop offset="0.7281" stop-color="#fee4d8"/><stop offset="0.7341" stop-color="#fee6da"/><stop offset="0.7402" stop-color="#fee6db"/><stop offset="0.7462" stop-color="#fee5da"/><stop offset="0.7523" stop-color="#fee5d9"/><stop offset="0.7583" stop-color="#fee5da"/><stop offset="0.7644" stop-color="#fee6db"/><stop offset="0.7704" stop-color="#fee6da"/><stop offset="0.7764" stop-color="#fee5d9"/><stop offset="0.7825" stop-color="#fee6db"/><stop offset="0.7885" stop-color="#fee6db"/><stop offset="0.7946" stop-color="#fee5d9"/><stop offset="0.8006" stop-color="#fee6da"/><stop offset="0.8066" stop-color="#fee6db"/><stop offset="0.8127" stop-color="#fee6da"/><stop offset="0.8187" stop-color="#fee5da"/><stop offset="0.8248" stop-color="#fee4d8"/><stop offset="0.8308" stop-color="#fee5d9"/><stop offset="0.8369" stop-color="#fee7dc"/><stop offset="0.8429" stop-color="#fee6da"/><stop offset="0.8489" stop-color="#fee4d8"/><stop offset="0.8550" stop-color="#fee6da"/><stop offset="0.8610" stop-color="#fee5d9"/><stop offset="0.8671" stop-color="#fee7dc"/><stop offset="0.8731" stop-color="#ffebe1"/><stop offset="0.8792" stop-color="#fee4d8"/><stop offset="0.8852" stop-color="#fee5d9"/><stop offset="0.8912" stop-color="#fee6da"/><stop offset="0.8973" stop-color="#fee5d9"/><stop offset="0.9033" stop-color="#fee6db"/><stop offset="0.9094" stop-color="#fee6da"/><stop offset="0.9154" stop-color="#fee7dc"/><stop offset="0.9215" stop-color="#fee7dd"/><stop offset="0.9275" stop-color="#fee7dc"/><stop offset="0.9335" stop-color="#fee7db"/><stop offset="0.9396" stop-color="#fee8dd"/><stop offset="0.9456" stop-color="#fee6db"/><stop offset="0.9517" stop-color="#fee7db"/><stop offset="0.9577" stop-color="#fee7dc"/><stop offset="0.9637" stop-color="#fee6db"/><stop offset="0.9698" stop-color="#fee7dc"/><stop offset="0.9758" stop-color="#fee5da"/><stop offset="0.9819" stop-color="#fee6db"/><stop offset="0.9879" stop-color="#fee5d9"/><stop offset="0.9940" stop-color="#fee5d9"/></linearGradient></defs>
<defs><linearGradient id="hRSPI1" gradientUnits="userSpaceOnUse" x1="0" y1="277.0" x2="0" y2="442.5"><stop offset="0.0030" stop-color="#8f0a12"/><stop offset="0.0091" stop-color="#fb6a4a"/><stop offset="0.0151" stop-color="#feddce"/><stop offset="0.0211" stop-color="#fed7c7"/><stop offset="0.0272" stop-color="#fdd3c1"/><stop offset="0.0332" stop-color="#fdd6c4"/><stop offset="0.0393" stop-color="#fed8c7"/><stop offset="0.0453" stop-color="#fdd3c1"/><stop offset="0.0514" stop-color="#fdd5c4"/><stop offset="0.0574" stop-color="#fed9c8"/><stop offset="0.0634" stop-color="#fedaca"/><stop offset="0.0695" stop-color="#fedccc"/><stop offset="0.0755" stop-color="#fedccc"/><stop offset="0.0816" stop-color="#fedecf"/><stop offset="0.0876" stop-color="#fedfd0"/><stop offset="0.0937" stop-color="#fedfd1"/><stop offset="0.0997" stop-color="#fedfd1"/><stop offset="0.1057" stop-color="#fedccd"/><stop offset="0.1118" stop-color="#fee0d2"/><stop offset="0.1178" stop-color="#fedacb"/><stop offset="0.1239" stop-color="#fedccc"/><stop offset="0.1299" stop-color="#fee8dd"/><stop offset="0.1360" stop-color="#fedccc"/><stop offset="0.1420" stop-color="#fedecf"/><stop offset="0.1480" stop-color="#fee1d3"/><stop offset="0.1541" stop-color="#fee0d2"/><stop offset="0.1601" stop-color="#fee2d5"/><stop offset="0.1662" stop-color="#feded0"/><stop offset="0.1722" stop-color="#fedecf"/><stop offset="0.1782" stop-color="#fee0d2"/><stop offset="0.1843" stop-color="#fee1d3"/><stop offset="0.1903" stop-color="#fee2d5"/><stop offset="0.1964" stop-color="#fee1d3"/><stop offset="0.2024" stop-color="#fee2d5"/><stop offset="0.2085" stop-color="#fee3d6"/><stop offset="0.2145" stop-color="#feddcf"/><stop offset="0.2205" stop-color="#fee3d7"/><stop offset="0.2266" stop-color="#fee2d4"/><stop offset="0.2326" stop-color="#fee3d6"/><stop offset="0.2387" stop-color="#fee1d3"/><stop offset="0.2447" stop-color="#feded0"/><stop offset="0.2508" stop-color="#fee2d4"/><stop offset="0.2568" stop-color="#fee0d3"/><stop offset="0.2628" stop-color="#fee0d2"/><stop offset="0.2689" stop-color="#fee0d2"/><stop offset="0.2749" stop-color="#fee2d5"/><stop offset="0.2810" stop-color="#fee0d2"/><stop offset="0.2870" stop-color="#fee8dd"/><stop offset="0.2931" stop-color="#fee0d2"/><stop offset="0.2991" stop-color="#fee5d9"/><stop offset="0.3051" stop-color="#fee2d5"/><stop offset="0.3112" stop-color="#fee2d4"/><stop offset="0.3172" stop-color="#fee2d5"/><stop offset="0.3233" stop-color="#fee5d9"/><stop offset="0.3293" stop-color="#fee3d6"/><stop offset="0.3353" stop-color="#fee5da"/><stop offset="0.3414" stop-color="#feeae1"/><stop offset="0.3474" stop-color="#fee4d8"/><stop offset="0.3535" stop-color="#fee3d6"/><stop offset="0.3595" stop-color="#fee5d9"/><stop offset="0.3656" stop-color="#fee4d8"/><stop offset="0.3716" stop-color="#fee5d9"/><stop offset="0.3776" stop-color="#fee5d9"/><stop offset="0.3837" stop-color="#fee4d8"/><stop offset="0.3897" stop-color="#fee4d7"/><stop offset="0.3958" stop-color="#fee4d8"/><stop offset="0.4018" stop-color="#fee5d9"/><stop offset="0.4079" stop-color="#fee5d9"/><stop offset="0.4139" stop-color="#fee6db"/><stop offset="0.4199" stop-color="#fee4d8"/><stop offset="0.4260" stop-color="#fee5d9"/><stop offset="0.4320" stop-color="#fee6db"/><stop offset="0.4381" stop-color="#fee6db"/><stop offset="0.4441" stop-color="#fee6db"/><stop offset="0.4502" stop-color="#fee5da"/><stop offset="0.4562" stop-color="#fee4d8"/><stop offset="0.4622" stop-color="#fee8dd"/><stop offset="0.4683" stop-color="#fee7dc"/><stop offset="0.4743" stop-color="#fee8dd"/><stop offset="0.4804" stop-color="#fee5d9"/><stop offset="0.4864" stop-color="#fee4d8"/><stop offset="0.4924" stop-color="#fee6da"/><stop offset="0.4985" stop-color="#fee6db"/><stop offset="0.5045" stop-color="#fee6da"/><stop offset="0.5106" stop-color="#fee6da"/><stop offset="0.5166" stop-color="#fee8dd"/><stop offset="0.5227" stop-color="#fee5d9"/><stop offset="0.5287" stop-color="#fee5da"/><stop offset="0.5347" stop-color="#fee8dd"/><stop offset="0.5408" stop-color="#fee6db"/><stop offset="0.5468" stop-color="#fee7dd"/><stop offset="0.5529" stop-color="#fee8dd"/><stop offset="0.5589" stop-color="#fee7dc"/><stop offset="0.5650" stop-color="#fee6db"/><stop offset="0.5710" stop-color="#fee7dc"/><stop offset="0.5770" stop-color="#fee7dd"/><stop offset="0.5831" stop-color="#fee6db"/><stop offset="0.5891" stop-color="#fee8dd"/><stop offset="0.5952" stop-color="#fee8de"/><stop offset="0.6012" stop-color="#fee5d9"/><stop offset="0.6073" stop-color="#fee8dd"/><stop offset="0.6133" stop-color="#fee7dc"/><stop offset="0.6193" stop-color="#fee8dd"/><stop offset="0.6254" stop-color="#fee8de"/><stop offset="0.6314" stop-color="#fee7dc"/><stop offset="0.6375" stop-color="#fee9df"/><stop offset="0.6435" stop-color="#fee7dc"/><stop offset="0.6495" stop-color="#fee8de"/><stop offset="0.6556" stop-color="#fee7dc"/><stop offset="0.6616" stop-color="#fee8dd"/><stop offset="0.6677" stop-color="#fee7db"/><stop offset="0.6737" stop-color="#fee7dc"/><stop offset="0.6798" stop-color="#fee8dd"/><stop offset="0.6858" stop-color="#fee7dd"/><stop offset="0.6918" stop-color="#fee8de"/><stop offset="0.6979" stop-color="#fee8dd"/><stop offset="0.7039" stop-color="#fee9de"/><stop offset="0.7100" stop-color="#fee8dd"/><stop offset="0.7160" stop-color="#feeae0"/><stop offset="0.7221" stop-color="#fee8de"/><stop offset="0.7281" stop-color="#fee8de"/><stop offset="0.7341" stop-color="#fee9df"/><stop offset="0.7402" stop-color="#feeae0"/><stop offset="0.7462" stop-color="#fee9df"/><stop offset="0.7523" stop-color="#fee9df"/><stop offset="0.7583" stop-color="#fee8de"/><stop offset="0.7644" stop-color="#feeae0"/><stop offset="0.7704" stop-color="#fee9df"/><stop offset="0.7764" stop-color="#fee8de"/><stop offset="0.7825" stop-color="#feeae0"/><stop offset="0.7885" stop-color="#feeae0"/><stop offset="0.7946" stop-color="#fee8dd"/><stop offset="0.8006" stop-color="#feeae0"/><stop offset="0.8066" stop-color="#fee9df"/><stop offset="0.8127" stop-color="#feeae0"/><stop offset="0.8187" stop-color="#fee9de"/><stop offset="0.8248" stop-color="#fee8dd"/><stop offset="0.8308" stop-color="#fee9de"/><stop offset="0.8369" stop-color="#ffebe1"/><stop offset="0.8429" stop-color="#feeae0"/><stop offset="0.8489" stop-color="#fee9de"/><stop offset="0.8550" stop-color="#feeae0"/><stop offset="0.8610" stop-color="#fee8dd"/><stop offset="0.8671" stop-color="#feeae1"/><stop offset="0.8731" stop-color="#ffede5"/><stop offset="0.8792" stop-color="#fee8dd"/><stop offset="0.8852" stop-color="#fee9df"/><stop offset="0.8912" stop-color="#fee9df"/><stop offset="0.8973" stop-color="#fee8dd"/><stop offset="0.9033" stop-color="#feeae0"/><stop offset="0.9094" stop-color="#fee8de"/><stop offset="0.9154" stop-color="#feeae1"/><stop offset="0.9215" stop-color="#ffebe1"/><stop offset="0.9275" stop-color="#feeae1"/><stop offset="0.9335" stop-color="#feeae0"/><stop offset="0.9396" stop-color="#feeae1"/><stop offset="0.9456" stop-color="#feeae0"/><stop offset="0.9517" stop-color="#feeae0"/><stop offset="0.9577" stop-color="#feeae0"/><stop offset="0.9637" stop-color="#feeae0"/><stop offset="0.9698" stop-color="#feeae0"/><stop offset="0.9758" stop-color="#fee9de"/><stop offset="0.9819" stop-color="#fee9df"/><stop offset="0.9879" stop-color="#fee9df"/><stop offset="0.9940" stop-color="#fee9df"/></linearGradient></defs>
<defs><linearGradient id="hCSPI1" gradientUnits="userSpaceOnUse" x1="0" y1="277.0" x2="0" y2="442.5"><stop offset="0.0030" stop-color="#76040f"/><stop offset="0.0091" stop-color="#800610"/><stop offset="0.0151" stop-color="#c9171c"/><stop offset="0.0211" stop-color="#cc191d"/><stop offset="0.0272" stop-color="#d31f20"/><stop offset="0.0332" stop-color="#e02c26"/><stop offset="0.0393" stop-color="#e63228"/><stop offset="0.0453" stop-color="#eb372a"/><stop offset="0.0514" stop-color="#f14230"/><stop offset="0.0574" stop-color="#f34c37"/><stop offset="0.0634" stop-color="#f6573e"/><stop offset="0.0695" stop-color="#f96245"/><stop offset="0.0755" stop-color="#fb6949"/><stop offset="0.0816" stop-color="#fb7353"/><stop offset="0.0876" stop-color="#fb7959"/><stop offset="0.0937" stop-color="#fb7d5d"/><stop offset="0.0997" stop-color="#fc8161"/><stop offset="0.1057" stop-color="#fc8363"/><stop offset="0.1118" stop-color="#fc8d6d"/><stop offset="0.1178" stop-color="#fc8c6c"/><stop offset="0.1239" stop-color="#fc9070"/><stop offset="0.1299" stop-color="#fcac90"/><stop offset="0.1360" stop-color="#fc9878"/><stop offset="0.1420" stop-color="#fc9c7d"/><stop offset="0.1480" stop-color="#fca284"/><stop offset="0.1541" stop-color="#fca082"/><stop offset="0.1601" stop-color="#fcaa8d"/><stop offset="0.1662" stop-color="#fca689"/><stop offset="0.1722" stop-color="#fca88c"/><stop offset="0.1782" stop-color="#fcad91"/><stop offset="0.1843" stop-color="#fcb297"/><stop offset="0.1903" stop-color="#fcb59a"/><stop offset="0.1964" stop-color="#fcb59b"/><stop offset="0.2024" stop-color="#fcb89d"/><stop offset="0.2085" stop-color="#fcbaa0"/><stop offset="0.2145" stop-color="#fcb59a"/><stop offset="0.2205" stop-color="#fcbea5"/><stop offset="0.2266" stop-color="#fcba9f"/><stop offset="0.2326" stop-color="#fcc2aa"/><stop offset="0.2387" stop-color="#fcbea4"/><stop offset="0.2447" stop-color="#fcbba1"/><stop offset="0.2508" stop-color="#fcc2aa"/><stop offset="0.2568" stop-color="#fcc0a7"/><stop offset="0.2628" stop-color="#fcc0a8"/><stop offset="0.2689" stop-color="#fcc1a9"/><stop offset="0.2749" stop-color="#fcc3ac"/><stop offset="0.2810" stop-color="#fcc2aa"/><stop offset="0.2870" stop-color="#fdd4c2"/><stop offset="0.2931" stop-color="#fcc3ab"/><stop offset="0.2991" stop-color="#fdcab5"/><stop offset="0.3051" stop-color="#fdc8b2"/><stop offset="0.3112" stop-color="#fdc8b2"/><stop offset="0.3172" stop-color="#fdc6b0"/><stop offset="0.3233" stop-color="#fdcfbb"/><stop offset="0.3293" stop-color="#fdccb7"/><stop offset="0.3353" stop-color="#fdceba"/><stop offset="0.3414" stop-color="#fedccc"/><stop offset="0.3474" stop-color="#fdccb7"/><stop offset="0.3535" stop-color="#fdcbb6"/><stop offset="0.3595" stop-color="#fdd1be"/><stop offset="0.3656" stop-color="#fdcfbc"/><stop offset="0.3716" stop-color="#fdcfbb"/><stop offset="0.3776" stop-color="#fdceba"/><stop offset="0.3837" stop-color="#fdcdb8"/><stop offset="0.3897" stop-color="#fdcfbc"/><stop offset="0.3958" stop-color="#fdcdb9"/><stop offset="0.4018" stop-color="#fdd1be"/><stop offset="0.4079" stop-color="#fdd3c0"/><stop offset="0.4139" stop-color="#fdd3c0"/><stop offset="0.4199" stop-color="#fdd0bd"/><stop offset="0.4260" stop-color="#fdd2bf"/><stop offset="0.4320" stop-color="#fdd3c1"/><stop offset="0.4381" stop-color="#fdd6c5"/><stop offset="0.4441" stop-color="#fed7c6"/><stop offset="0.4502" stop-color="#fdd6c5"/><stop offset="0.4562" stop-color="#fdd3c1"/><stop offset="0.4622" stop-color="#fed8c7"/><stop offset="0.4683" stop-color="#fed8c7"/><stop offset="0.4743" stop-color="#fed8c8"/><stop offset="0.4804" stop-color="#fdd4c2"/><stop offset="0.4864" stop-color="#fdd3c1"/><stop offset="0.4924" stop-color="#fdd5c3"/><stop offset="0.4985" stop-color="#fdd6c5"/><stop offset="0.5045" stop-color="#fdd4c2"/><stop offset="0.5106" stop-color="#fdd5c3"/><stop offset="0.5166" stop-color="#fed9c9"/><stop offset="0.5227" stop-color="#fdd6c4"/><stop offset="0.5287" stop-color="#fdd6c5"/><stop offset="0.5347" stop-color="#fedaca"/><stop offset="0.5408" stop-color="#fdd7c5"/><stop offset="0.5468" stop-color="#fed7c7"/><stop offset="0.5529" stop-color="#fedbcb"/><stop offset="0.5589" stop-color="#fed7c6"/><stop offset="0.5650" stop-color="#fed8c7"/><stop offset="0.5710" stop-color="#fed7c6"/><stop offset="0.5770" stop-color="#fed9c9"/><stop offset="0.5831" stop-color="#fed7c6"/><stop offset="0.5891" stop-color="#fedaca"/><stop offset="0.5952" stop-color="#fedbcc"/><stop offset="0.6012" stop-color="#fdd6c5"/><stop offset="0.6073" stop-color="#fedbcc"/><stop offset="0.6133" stop-color="#fedbcb"/><stop offset="0.6193" stop-color="#fedac9"/><stop offset="0.6254" stop-color="#fedccc"/><stop offset="0.6314" stop-color="#fed9c9"/><stop offset="0.6375" stop-color="#fedccd"/><stop offset="0.6435" stop-color="#fed9c8"/><stop offset="0.6495" stop-color="#feddce"/><stop offset="0.6556" stop-color="#fed9c8"/><stop offset="0.6616" stop-color="#fedccc"/><stop offset="0.6677" stop-color="#fed8c8"/><stop offset="0.6737" stop-color="#fed8c8"/><stop offset="0.6798" stop-color="#fedbcb"/><stop offset="0.6858" stop-color="#fed9c8"/><stop offset="0.6918" stop-color="#feddce"/><stop offset="0.6979" stop-color="#fedaca"/><stop offset="0.7039" stop-color="#feddce"/><stop offset="0.7100" stop-color="#fedccc"/><stop offset="0.7160" stop-color="#fedecf"/><stop offset="0.7221" stop-color="#fedccd"/><stop offset="0.7281" stop-color="#fedccc"/><stop offset="0.7341" stop-color="#feded0"/><stop offset="0.7402" stop-color="#fedfd1"/><stop offset="0.7462" stop-color="#fedecf"/><stop offset="0.7523" stop-color="#fedccd"/><stop offset="0.7583" stop-color="#feddcf"/><stop offset="0.7644" stop-color="#fedfd1"/><stop offset="0.7704" stop-color="#feded0"/><stop offset="0.7764" stop-color="#feddce"/><stop offset="0.7825" stop-color="#fedfd1"/><stop offset="0.7885" stop-color="#fedfd1"/><stop offset="0.7946" stop-color="#fedccd"/><stop offset="0.8006" stop-color="#fedfd0"/><stop offset="0.8066" stop-color="#fedfd0"/><stop offset="0.8127" stop-color="#feded0"/><stop offset="0.8187" stop-color="#fedecf"/><stop offset="0.8248" stop-color="#fedbcb"/><stop offset="0.8308" stop-color="#fedccd"/><stop offset="0.8369" stop-color="#fee0d2"/><stop offset="0.8429" stop-color="#feded0"/><stop offset="0.8489" stop-color="#fedccc"/><stop offset="0.8550" stop-color="#feded0"/><stop offset="0.8610" stop-color="#feddce"/><stop offset="0.8671" stop-color="#fee0d3"/><stop offset="0.8731" stop-color="#fee4d8"/><stop offset="0.8792" stop-color="#fedccd"/><stop offset="0.8852" stop-color="#feddce"/><stop offset="0.8912" stop-color="#feded0"/><stop offset="0.8973" stop-color="#feddce"/><stop offset="0.9033" stop-color="#fedfd1"/><stop offset="0.9094" stop-color="#fedecf"/><stop offset="0.9154" stop-color="#fee1d3"/><stop offset="0.9215" stop-color="#fee1d3"/><stop offset="0.9275" stop-color="#fee0d2"/><stop offset="0.9335" stop-color="#fee0d2"/><stop offset="0.9396" stop-color="#fee1d3"/><stop offset="0.9456" stop-color="#fedfd0"/><stop offset="0.9517" stop-color="#fee0d2"/><stop offset="0.9577" stop-color="#fee0d3"/><stop offset="0.9637" stop-color="#fedfd0"/><stop offset="0.9698" stop-color="#fee0d3"/><stop offset="0.9758" stop-color="#fedecf"/><stop offset="0.9819" stop-color="#fedfd0"/><stop offset="0.9879" stop-color="#feddce"/><stop offset="0.9940" stop-color="#feddce"/></linearGradient></defs>
<rect x="479.6" y="277.0" width="16.1" height="165.5" fill="url(#hLSPI1)"/>
<rect x="497.3" y="277.0" width="15.0" height="165.5" fill="url(#hRSPI1)"/>
<rect x="495.6" y="277.0" width="1.8" height="165.5" fill="url(#hCSPI1)"/>
<g shape-rendering="crispEdges"><rect x="494.1" width="4.9" height="1" y="278" fill="#a81016"/><rect x="494.2" width="4.6" height="1" y="279" fill="#b31218"/><rect x="494.4" width="4.3" height="1" y="280" fill="#bd151a"/><rect x="494.5" width="4.0" height="1" y="281" fill="#c8171c"/><rect x="494.7" width="3.7" height="1" y="282" fill="#d21f20"/><rect x="494.8" width="3.3" height="1" y="283" fill="#dc2924"/><rect x="495.0" width="3.0" height="1" y="284" fill="#e63328"/><rect x="495.1" width="2.7" height="1" y="285" fill="#ef3d2d"/><rect x="495.3" width="2.4" height="1" y="286" fill="#f34a36"/></g>
<rect x="495.6" y="277.0" width="1.8" height="2" fill="#76040f"/>
<rect x="479.60" y="277.00" width="32.70" height="165.50" fill="none" stroke="#8e8e8e" stroke-width="0.8" />
<line x1="496.50" y1="442.50" x2="496.50" y2="444.00" stroke="#777" stroke-width="0.6" />
<text x="496.50" y="272.10" font-size="7.2" text-anchor="middle" fill="#231f20" stroke="#231f20" stroke-width="0.08" >SPI1</text>
<text x="487.30" y="454.20" font-size="6.1" text-anchor="middle" fill="#231f20" stroke="#231f20" stroke-width="0.08" textLength="14.20" lengthAdjust="spacingAndGlyphs" >-5Kb</text>
<text x="504.50" y="454.20" font-size="6.1" text-anchor="middle" fill="#231f20" stroke="#231f20" stroke-width="0.08" textLength="16.00" lengthAdjust="spacingAndGlyphs" >+5Kb</text>
<text x="496.50" y="467.00" font-size="10.4" text-anchor="middle" fill="#231f20" stroke="#231f20" stroke-width="0.08" textLength="21.50" lengthAdjust="spacingAndGlyphs" >Center</text>
<defs><linearGradient id="cbSPI1"><stop offset="0.000" stop-color="#fff5f0"/><stop offset="0.125" stop-color="#fee0d2"/><stop offset="0.250" stop-color="#fcbba1"/><stop offset="0.375" stop-color="#fc9272"/><stop offset="0.500" stop-color="#fb6a4a"/><stop offset="0.625" stop-color="#ef3b2c"/><stop offset="0.750" stop-color="#cb181d"/><stop offset="0.875" stop-color="#a50f15"/><stop offset="1.000" stop-color="#67000d"/></linearGradient></defs>
<rect x="479.60" y="472.70" width="32.70" height="3.50" fill="url(#cbSPI1)" stroke="#aaa" stroke-width="0.5" />
<text x="480.40" y="486.90" font-size="6.9" text-anchor="middle" fill="#231f20" stroke="#231f20" stroke-width="0.08" >0</text>
<text x="491.10" y="486.90" font-size="6.9" text-anchor="middle" fill="#231f20" stroke="#231f20" stroke-width="0.08" >5</text>
<text x="502.40" y="486.90" font-size="6.9" text-anchor="middle" fill="#231f20" stroke="#231f20" stroke-width="0.08" >10</text>
<text x="331.80" y="362.60" font-size="9.8" text-anchor="middle" fill="#231f20" stroke="#231f20" stroke-width="0.08" textLength="61.00" lengthAdjust="spacingAndGlyphs" transform="rotate(-90 331.80 362.60)" >GATA1 binding loci</text>
<text x="8.50" y="490.80" font-size="12.5" text-anchor="start" fill="#000" font-weight="bold" >H</text>
<text x="52.60" y="502.40" font-size="7.6" text-anchor="middle" fill="#231f20" stroke="#231f20" stroke-width="0.08" textLength="27.80" lengthAdjust="spacingAndGlyphs" >MEP loci</text>
<line x1="29.20" y1="532.00" x2="32.20" y2="532.00" stroke="#231f20" stroke-width="0.9" />
<line x1="29.20" y1="559.80" x2="32.20" y2="559.80" stroke="#231f20" stroke-width="0.9" />
<line x1="29.20" y1="587.60" x2="32.20" y2="587.60" stroke="#231f20" stroke-width="0.9" />
<line x1="32.70" y1="603.00" x2="32.70" y2="606.00" stroke="#231f20" stroke-width="0.9" />
<line x1="52.60" y1="603.00" x2="52.60" y2="606.00" stroke="#231f20" stroke-width="0.9" />
<line x1="72.50" y1="603.00" x2="72.50" y2="606.00" stroke="#231f20" stroke-width="0.9" />
<text x="41.70" y="612.50" font-size="6.6" text-anchor="middle" fill="#231f20" stroke="#231f20" stroke-width="0.08" textLength="15.00" lengthAdjust="spacingAndGlyphs" >-5Kb</text>
<text x="63.50" y="612.50" font-size="6.6" text-anchor="middle" fill="#231f20" stroke="#231f20" stroke-width="0.08" textLength="16.00" lengthAdjust="spacingAndGlyphs" >+5Kb</text>
<text x="52.60" y="625.30" font-size="10.2" text-anchor="middle" fill="#231f20" stroke="#231f20" stroke-width="0.08" textLength="21.00" lengthAdjust="spacingAndGlyphs" >Center</text>
<text x="99.65" y="502.40" font-size="7.6" text-anchor="middle" fill="#231f20" stroke="#231f20" stroke-width="0.08" textLength="33.20" lengthAdjust="spacingAndGlyphs" >CFU-E loci</text>
<line x1="76.00" y1="532.00" x2="79.00" y2="532.00" stroke="#231f20" stroke-width="0.9" />
<line x1="76.00" y1="559.80" x2="79.00" y2="559.80" stroke="#231f20" stroke-width="0.9" />
<line x1="76.00" y1="587.60" x2="79.00" y2="587.60" stroke="#231f20" stroke-width="0.9" />
<line x1="79.50" y1="603.00" x2="79.50" y2="606.00" stroke="#231f20" stroke-width="0.9" />
<line x1="99.65" y1="603.00" x2="99.65" y2="606.00" stroke="#231f20" stroke-width="0.9" />
<line x1="119.80" y1="603.00" x2="119.80" y2="606.00" stroke="#231f20" stroke-width="0.9" />
<text x="88.50" y="612.50" font-size="6.6" text-anchor="middle" fill="#231f20" stroke="#231f20" stroke-width="0.08" textLength="15.00" lengthAdjust="spacingAndGlyphs" >-5Kb</text>
<text x="110.80" y="612.50" font-size="6.6" text-anchor="middle" fill="#231f20" stroke="#231f20" stroke-width="0.08" textLength="16.00" lengthAdjust="spacingAndGlyphs" >+5Kb</text>
<text x="99.65" y="625.30" font-size="10.2" text-anchor="middle" fill="#231f20" stroke="#231f20" stroke-width="0.08" textLength="21.00" lengthAdjust="spacingAndGlyphs" >Center</text>
<text x="147.80" y="502.40" font-size="7.6" text-anchor="middle" fill="#231f20" stroke="#231f20" stroke-width="0.08" textLength="27.30" lengthAdjust="spacingAndGlyphs" >proE loci</text>
<line x1="124.00" y1="532.00" x2="127.00" y2="532.00" stroke="#231f20" stroke-width="0.9" />
<line x1="124.00" y1="559.80" x2="127.00" y2="559.80" stroke="#231f20" stroke-width="0.9" />
<line x1="124.00" y1="587.60" x2="127.00" y2="587.60" stroke="#231f20" stroke-width="0.9" />
<line x1="127.50" y1="603.00" x2="127.50" y2="606.00" stroke="#231f20" stroke-width="0.9" />
<line x1="147.80" y1="603.00" x2="147.80" y2="606.00" stroke="#231f20" stroke-width="0.9" />
<line x1="168.10" y1="603.00" x2="168.10" y2="606.00" stroke="#231f20" stroke-width="0.9" />
<text x="136.50" y="612.50" font-size="6.6" text-anchor="middle" fill="#231f20" stroke="#231f20" stroke-width="0.08" textLength="15.00" lengthAdjust="spacingAndGlyphs" >-5Kb</text>
<text x="159.10" y="612.50" font-size="6.6" text-anchor="middle" fill="#231f20" stroke="#231f20" stroke-width="0.08" textLength="16.00" lengthAdjust="spacingAndGlyphs" >+5Kb</text>
<text x="147.80" y="625.30" font-size="10.2" text-anchor="middle" fill="#231f20" stroke="#231f20" stroke-width="0.08" textLength="21.00" lengthAdjust="spacingAndGlyphs" >Center</text>
<text x="27.50" y="534.40" font-size="6.8" text-anchor="end" fill="#231f20" stroke="#231f20" stroke-width="0.08" >15</text>
<text x="27.50" y="562.20" font-size="6.8" text-anchor="end" fill="#231f20" stroke="#231f20" stroke-width="0.08" >10</text>
<text x="27.50" y="590.00" font-size="6.8" text-anchor="end" fill="#231f20" stroke="#231f20" stroke-width="0.08" >5</text>
<polyline points="32.80,597.72 33.24,597.56 33.68,597.49 34.12,597.30 34.56,597.57 35.00,597.32 35.44,598.51 35.88,597.93 36.32,597.29 36.76,597.69 37.20,597.35 37.64,598.40 38.08,597.33 38.52,597.62 38.96,597.23 39.40,597.19 39.84,597.94 40.28,597.66 40.72,597.58 41.16,596.73 41.60,596.93 42.04,597.74 42.48,596.89 42.92,597.77 43.36,597.13 43.80,597.78 44.24,597.95 44.68,596.79 45.12,597.67 45.56,597.66 46.00,596.63 46.44,596.78 46.88,597.55 47.32,596.63 47.76,597.17 48.20,596.93 48.64,597.48 49.08,596.34 49.52,596.41 49.96,595.58 50.40,595.48 50.84,594.87 51.28,592.35 51.72,588.36 52.16,580.97 52.60,568.16 53.04,580.77 53.48,587.77 53.92,592.83 54.36,594.36 54.80,596.22 55.24,597.06 55.68,596.84 56.12,597.56 56.56,597.93 57.00,597.79 57.44,597.55 57.88,598.44 58.32,597.23 58.76,598.51 59.20,597.55 59.64,597.42 60.08,598.53 60.52,597.50 60.96,598.06 61.40,597.78 61.84,598.54 62.28,598.49 62.72,598.31 63.16,597.28 63.60,598.29 64.04,597.54 64.48,597.31 64.92,597.30 65.36,598.09 65.80,598.08 66.24,597.85 66.68,597.52 67.12,598.41 67.56,597.55 68.00,597.49 68.44,597.41 68.88,598.50 69.32,597.29 69.76,598.43 70.20,598.10 70.64,597.74 71.08,597.33 71.52,598.10 71.96,597.32 72.40,597.83" fill="none" stroke="#cfcfcf" stroke-width="0.8" />
<polyline points="32.80,598.97 33.24,598.96 33.68,599.15 34.12,599.28 34.56,599.19 35.00,598.47 35.44,598.06 35.88,599.17 36.32,599.32 36.76,598.07 37.20,598.68 37.64,598.85 38.08,598.47 38.52,597.99 38.96,597.68 39.40,598.18 39.84,598.22 40.28,598.71 40.72,597.56 41.16,598.74 41.60,598.13 42.04,597.67 42.48,598.61 42.92,597.81 43.36,597.52 43.80,597.95 44.24,597.73 44.68,598.64 45.12,598.20 45.56,598.58 46.00,597.65 46.44,598.38 46.88,598.16 47.32,597.42 47.76,597.58 48.20,597.37 48.64,597.98 49.08,597.78 49.52,597.20 49.96,597.08 50.40,597.13 50.84,595.59 51.28,593.52 51.72,589.00 52.16,580.84 52.60,568.08 53.04,581.32 53.48,588.84 53.92,593.26 54.36,596.01 54.80,597.16 55.24,597.27 55.68,597.62 56.12,598.55 56.56,598.14 57.00,598.24 57.44,598.39 57.88,598.46 58.32,598.35 58.76,598.89 59.20,598.44 59.64,599.01 60.08,598.74 60.52,598.36 60.96,598.46 61.40,598.99 61.84,598.13 62.28,598.52 62.72,598.61 63.16,599.37 63.60,598.66 64.04,599.05 64.48,598.49 64.92,598.77 65.36,598.30 65.80,598.52 66.24,598.32 66.68,598.92 67.12,598.53 67.56,598.40 68.00,598.28 68.44,598.92 68.88,598.26 69.32,598.23 69.76,598.47 70.20,598.08 70.64,598.11 71.08,598.70 71.52,598.68 71.96,599.17 72.40,598.27" fill="none" stroke="#7fc36a" stroke-width="0.8" />
<polyline points="32.80,597.58 33.24,598.19 33.68,597.91 34.12,597.87 34.56,597.86 35.00,598.60 35.44,597.79 35.88,598.06 36.32,597.94 36.76,598.27 37.20,598.00 37.64,597.80 38.08,597.38 38.52,597.27 38.96,598.19 39.40,598.02 39.84,597.64 40.28,597.36 40.72,597.94 41.16,597.32 41.60,597.39 42.04,598.18 42.48,597.60 42.92,597.93 43.36,598.16 43.80,598.05 44.24,597.81 44.68,597.99 45.12,597.97 45.56,598.18 46.00,597.60 46.44,597.71 46.88,597.39 47.32,597.41 47.76,597.85 48.20,596.91 48.64,598.03 49.08,597.34 49.52,597.24 49.96,596.61 50.40,596.81 50.84,594.47 51.28,592.66 51.72,588.90 52.16,580.79 52.60,568.68 53.04,580.88 53.48,588.49 53.92,592.39 54.36,594.30 54.80,595.87 55.24,597.20 55.68,597.13 56.12,597.62 56.56,598.14 57.00,598.53 57.44,597.97 57.88,598.04 58.32,597.53 58.76,597.53 59.20,598.01 59.64,598.36 60.08,597.64 60.52,598.83 60.96,598.69 61.40,598.08 61.84,598.01 62.28,598.64 62.72,597.99 63.16,597.64 63.60,598.33 64.04,598.26 64.48,598.53 64.92,598.44 65.36,597.53 65.80,598.32 66.24,597.55 66.68,597.61 67.12,598.04 67.56,598.48 68.00,597.52 68.44,598.17 68.88,598.28 69.32,598.41 69.76,597.52 70.20,598.18 70.64,598.45 71.08,598.19 71.52,598.67 71.96,598.00 72.40,598.24" fill="none" stroke="#f0a030" stroke-width="0.8" />
<polyline points="32.80,598.44 33.24,597.79 33.68,597.73 34.12,598.81 34.56,598.12 35.00,598.47 35.44,597.58 35.88,597.79 36.32,598.50 36.76,598.47 37.20,598.62 37.64,597.51 38.08,597.84 38.52,597.42 38.96,597.60 39.40,597.37 39.84,597.43 40.28,597.24 40.72,598.07 41.16,597.22 41.60,597.83 42.04,597.52 42.48,597.78 42.92,597.83 43.36,597.52 43.80,597.61 44.24,597.75 44.68,597.24 45.12,597.44 45.56,598.18 46.00,597.89 46.44,597.61 46.88,596.99 47.32,597.01 47.76,597.44 48.20,598.10 48.64,597.00 49.08,597.32 49.52,596.87 49.96,596.25 50.40,596.19 50.84,595.06 51.28,592.15 51.72,588.80 52.16,581.72 52.60,568.78 53.04,581.98 53.48,588.92 53.92,592.26 54.36,595.61 54.80,595.92 55.24,596.87 55.68,597.66 56.12,598.11 56.56,597.59 57.00,597.50 57.44,598.58 57.88,598.16 58.32,598.08 58.76,598.15 59.20,598.38 59.64,598.62 60.08,598.05 60.52,597.75 60.96,598.74 61.40,598.52 61.84,597.74 62.28,597.77 62.72,597.95 63.16,598.80 63.60,597.87 64.04,597.53 64.48,597.50 64.92,597.90 65.36,598.77 65.80,597.71 66.24,598.54 66.68,597.97 67.12,597.56 67.56,597.88 68.00,598.65 68.44,598.44 68.88,597.61 69.32,598.63 69.76,598.02 70.20,598.28 70.64,598.62 71.08,598.00 71.52,598.77 71.96,598.69 72.40,598.33" fill="none" stroke="#b5173c" stroke-width="0.5" />
<polyline points="32.80,597.90 33.24,597.92 33.68,597.23 34.12,597.01 34.56,596.82 35.00,597.82 35.44,597.42 35.88,597.58 36.32,597.20 36.76,597.34 37.20,596.74 37.64,597.50 38.08,597.32 38.52,596.47 38.96,597.20 39.40,596.55 39.84,596.72 40.28,596.18 40.72,596.66 41.16,596.57 41.60,597.05 42.04,596.66 42.48,597.06 42.92,596.40 43.36,596.71 43.80,597.22 44.24,597.08 44.68,596.90 45.12,596.41 45.56,597.15 46.00,596.44 46.44,596.51 46.88,597.26 47.32,596.47 47.76,597.21 48.20,597.11 48.64,596.40 49.08,596.72 49.52,595.60 49.96,595.67 50.40,595.66 50.84,593.62 51.28,592.18 51.72,586.96 52.16,580.38 52.60,567.22 53.04,579.18 53.48,587.02 53.92,591.92 54.36,594.53 54.80,594.80 55.24,596.02 55.68,596.28 56.12,597.45 56.56,596.96 57.00,597.41 57.44,597.62 57.88,597.51 58.32,597.16 58.76,597.52 59.20,597.48 59.64,597.81 60.08,596.89 60.52,597.13 60.96,596.92 61.40,597.42 61.84,596.86 62.28,597.31 62.72,597.21 63.16,597.23 63.60,597.01 64.04,597.47 64.48,597.87 64.92,597.95 65.36,597.73 65.80,597.94 66.24,596.81 66.68,597.36 67.12,596.98 67.56,598.00 68.00,597.37 68.44,596.81 68.88,597.17 69.32,597.43 69.76,597.38 70.20,597.86 70.64,597.79 71.08,597.78 71.52,597.50 71.96,597.48 72.40,596.82" fill="none" stroke="#2b4c8c" stroke-width="1.0" />
<polyline points="79.60,597.72 80.05,597.60 80.49,597.58 80.94,597.71 81.38,597.57 81.83,597.62 82.27,597.35 82.72,597.85 83.16,596.86 83.61,597.48 84.06,596.84 84.50,597.12 84.95,597.14 85.39,597.36 85.84,596.83 86.28,597.75 86.73,597.14 87.17,597.56 87.62,597.14 88.07,597.08 88.51,597.70 88.96,597.57 89.40,597.51 89.85,596.92 90.29,596.63 90.74,595.74 91.18,594.49 91.63,594.49 92.08,593.81 92.52,592.84 92.97,592.19 93.41,590.78 93.86,589.83 94.30,589.43 94.75,588.28 95.19,586.69 95.64,585.24 96.09,584.37 96.53,583.36 96.98,581.47 97.42,581.22 97.87,579.79 98.31,577.58 98.76,576.54 99.20,575.45 99.65,573.37 100.10,574.40 100.54,576.42 100.99,578.05 101.43,579.75 101.88,581.14 102.32,581.55 102.77,583.29 103.21,584.04 103.66,586.23 104.11,587.17 104.55,588.50 105.00,589.17 105.44,590.56 105.89,591.31 106.33,592.05 106.78,593.02 107.22,594.10 107.67,594.85 108.12,594.49 108.56,595.98 109.01,596.15 109.45,596.73 109.90,596.95 110.34,597.70 110.79,597.54 111.23,597.77 111.68,597.28 112.13,596.86 112.57,597.22 113.02,596.93 113.46,597.65 113.91,597.87 114.35,597.29 114.80,597.34 115.24,597.25 115.69,597.47 116.14,597.19 116.58,597.08 117.03,596.87 117.47,597.54 117.92,597.39 118.36,596.97 118.81,597.64 119.25,597.76 119.70,597.54" fill="none" stroke="#cfcfcf" stroke-width="0.9" />
<polyline points="79.60,599.92 80.05,599.31 80.49,599.27 80.94,599.72 81.38,599.88 81.83,599.93 82.27,599.78 82.72,599.92 83.16,599.62 83.61,599.49 84.06,599.78 84.50,599.94 84.95,599.38 85.39,599.96 85.84,599.82 86.28,599.74 86.73,599.67 87.17,599.91 87.62,599.62 88.07,599.72 88.51,599.33 88.96,599.48 89.40,599.11 89.85,599.22 90.29,599.00 90.74,599.01 91.18,598.96 91.63,598.44 92.08,598.37 92.52,597.89 92.97,597.85 93.41,597.62 93.86,597.73 94.30,596.97 94.75,597.05 95.19,596.97 95.64,596.70 96.09,596.28 96.53,595.85 96.98,595.12 97.42,595.09 97.87,594.91 98.31,593.89 98.76,593.67 99.20,593.73 99.65,593.28 100.10,593.64 100.54,593.85 100.99,593.81 101.43,594.12 101.88,594.80 102.32,595.51 102.77,595.70 103.21,596.10 103.66,596.47 104.11,597.07 104.55,596.87 105.00,596.95 105.44,597.33 105.89,598.16 106.33,598.02 106.78,598.58 107.22,598.33 107.67,598.77 108.12,598.52 108.56,598.82 109.01,599.57 109.45,599.52 109.90,599.09 110.34,599.56 110.79,599.61 111.23,599.61 111.68,599.32 112.13,599.17 112.57,599.52 113.02,599.14 113.46,599.47 113.91,599.91 114.35,599.27 114.80,599.63 115.24,599.95 115.69,599.13 116.14,599.97 116.58,599.49 117.03,599.57 117.47,599.21 117.92,599.65 118.36,599.81 118.81,599.75 119.25,599.82 119.70,599.50" fill="none" stroke="#7fc36a" stroke-width="1.0" />
<polyline points="79.60,599.96 80.05,599.61 80.49,600.06 80.94,599.96 81.38,600.06 81.83,599.40 82.27,599.53 82.72,599.52 83.16,599.73 83.61,599.92 84.06,600.15 84.50,599.54 84.95,599.84 85.39,600.24 85.84,600.13 86.28,600.19 86.73,599.64 87.17,599.48 87.62,600.10 88.07,599.57 88.51,599.99 88.96,599.65 89.40,599.42 89.85,599.53 90.29,599.25 90.74,599.49 91.18,599.65 91.63,599.02 92.08,598.76 92.52,598.90 92.97,598.49 93.41,598.31 93.86,598.31 94.30,597.79 94.75,597.44 95.19,597.06 95.64,596.55 96.09,596.50 96.53,595.65 96.98,595.45 97.42,595.00 97.87,594.84 98.31,594.48 98.76,594.21 99.20,593.58 99.65,593.56 100.10,593.76 100.54,594.08 100.99,594.61 101.43,595.20 101.88,595.75 102.32,596.10 102.77,596.20 103.21,596.34 103.66,596.50 104.11,596.85 104.55,597.51 105.00,597.24 105.44,598.09 105.89,597.96 106.33,598.77 106.78,598.40 107.22,598.68 107.67,598.63 108.12,598.86 108.56,599.21 109.01,599.22 109.45,599.43 109.90,599.64 110.34,600.07 110.79,599.82 111.23,599.48 111.68,600.06 112.13,599.41 112.57,599.79 113.02,599.93 113.46,600.27 113.91,599.93 114.35,600.12 114.80,599.70 115.24,599.48 115.69,599.47 116.14,599.73 116.58,599.93 117.03,600.18 117.47,599.66 117.92,599.78 118.36,599.64 118.81,599.94 119.25,599.49 119.70,600.09" fill="none" stroke="#f0a030" stroke-width="1.0" />
<polyline points="79.60,600.28 80.05,600.32 80.49,600.00 80.94,599.76 81.38,600.41 81.83,599.99 82.27,599.87 82.72,600.35 83.16,600.50 83.61,600.05 84.06,599.82 84.50,599.77 84.95,599.91 85.39,600.18 85.84,600.18 86.28,600.08 86.73,599.75 87.17,600.29 87.62,600.31 88.07,600.02 88.51,599.69 88.96,600.36 89.40,600.43 89.85,600.25 90.29,599.73 90.74,599.54 91.18,599.75 91.63,599.55 92.08,598.98 92.52,598.72 92.97,598.44 93.41,598.15 93.86,598.47 94.30,597.81 94.75,597.21 95.19,596.79 95.64,597.03 96.09,596.23 96.53,596.06 96.98,595.45 97.42,595.70 97.87,594.90 98.31,594.38 98.76,594.30 99.20,594.22 99.65,593.71 100.10,594.17 100.54,594.64 100.99,594.99 101.43,594.97 101.88,595.81 102.32,595.60 102.77,595.98 103.21,596.26 103.66,596.60 104.11,597.01 104.55,597.13 105.00,597.39 105.44,597.97 105.89,597.94 106.33,598.96 106.78,599.20 107.22,599.46 107.67,599.54 108.12,599.58 108.56,599.67 109.01,599.62 109.45,599.70 109.90,600.38 110.34,600.17 110.79,600.07 111.23,600.22 111.68,600.45 112.13,600.02 112.57,600.22 113.02,599.95 113.46,600.11 113.91,599.70 114.35,599.71 114.80,600.49 115.24,599.88 115.69,599.91 116.14,600.29 116.58,600.45 117.03,600.13 117.47,600.24 117.92,599.90 118.36,599.74 118.81,600.21 119.25,600.30 119.70,600.11" fill="none" stroke="#2b4c8c" stroke-width="1.0" />
<polyline points="79.60,600.21 80.05,600.13 80.49,600.32 80.94,600.57 81.38,600.53 81.83,600.08 82.27,600.37 82.72,600.79 83.16,600.46 83.61,600.62 84.06,600.24 84.50,600.77 84.95,600.59 85.39,600.75 85.84,600.41 86.28,599.96 86.73,600.35 87.17,600.49 87.62,600.00 88.07,600.75 88.51,600.52 88.96,600.09 89.40,600.74 89.85,599.97 90.29,600.21 90.74,600.38 91.18,600.02 91.63,599.66 92.08,599.54 92.52,599.21 92.97,599.41 93.41,599.03 93.86,598.11 94.30,598.32 94.75,598.03 95.19,598.09 95.64,597.62 96.09,596.71 96.53,596.63 96.98,596.46 97.42,596.52 97.87,595.87 98.31,595.17 98.76,595.10 99.20,594.58 99.65,593.91 100.10,594.53 100.54,594.92 100.99,595.83 101.43,596.20 101.88,595.89 102.32,596.54 102.77,596.46 103.21,596.82 103.66,597.05 104.11,597.82 104.55,597.56 105.00,598.04 105.44,598.18 105.89,599.09 106.33,598.76 106.78,599.30 107.22,599.01 107.67,599.18 108.12,600.05 108.56,600.02 109.01,600.29 109.45,600.23 109.90,600.49 110.34,600.22 110.79,600.72 111.23,600.68 111.68,600.43 112.13,600.77 112.57,600.49 113.02,600.03 113.46,600.05 113.91,600.66 114.35,600.82 114.80,600.10 115.24,599.98 115.69,600.30 116.14,600.71 116.58,600.62 117.03,600.01 117.47,600.00 117.92,600.81 118.36,600.67 118.81,600.45 119.25,600.60 119.70,600.16" fill="none" stroke="#b5173c" stroke-width="1.3" />
<polyline points="127.60,593.33 127.85,592.71 128.10,593.46 128.36,592.89 128.61,592.20 128.86,592.47 129.11,593.20 129.37,593.08 129.62,592.27 129.87,592.53 130.12,592.44 130.38,592.19 130.63,591.95 130.88,591.32 131.13,592.18 131.39,591.63 131.64,591.91 131.89,591.42 132.14,591.04 132.40,591.71 132.65,591.11 132.90,590.68 133.16,591.47 133.41,590.30 133.66,590.63 133.91,590.36 134.16,590.06 134.42,589.66 134.67,590.47 134.92,589.71 135.17,590.15 135.43,589.51 135.68,589.37 135.93,589.62 136.19,589.05 136.44,588.65 136.69,588.17 136.94,587.59 137.19,588.11 137.45,587.68 137.70,587.20 137.95,586.66 138.20,586.40 138.46,586.10 138.71,586.75 138.96,586.67 139.22,585.37 139.47,586.23 139.72,585.45 139.97,584.77 140.22,584.74 140.48,584.61 140.73,583.57 140.98,584.07 141.23,583.39 141.49,582.67 141.74,583.23 141.99,582.58 142.25,582.00 142.50,581.51 142.75,581.58 143.00,580.83 143.25,580.91 143.51,580.42 143.76,579.60 144.01,579.37 144.26,577.73 144.52,578.09 144.77,577.43 145.02,576.02 145.28,575.23 145.53,574.84 145.78,572.79 146.03,571.38 146.28,569.42 146.54,565.95 146.79,561.97 147.04,555.45 147.29,545.09 147.55,531.53 147.80,509.79 148.05,531.87 148.31,546.08 148.56,555.73 148.81,561.31 149.06,566.04 149.31,569.93 149.57,572.16 149.82,572.80 150.07,574.53 150.32,575.06 150.58,577.02 150.83,577.01 151.08,578.28 151.34,578.06 151.59,578.74 151.84,579.24 152.09,580.24 152.34,579.73 152.60,581.28 152.85,581.77 153.10,581.35 153.35,582.54 153.61,582.95 153.86,582.80 154.11,582.91 154.37,582.94 154.62,583.51 154.87,584.71 155.12,584.27 155.38,584.32 155.63,585.59 155.88,585.04 156.13,585.99 156.38,586.22 156.64,586.89 156.89,586.15 157.14,586.73 157.40,586.46 157.65,587.29 157.90,587.94 158.15,588.09 158.41,588.26 158.66,587.56 158.91,588.77 159.16,589.13 159.41,588.98 159.67,589.54 159.92,589.27 160.17,589.19 160.43,589.33 160.68,590.14 160.93,590.36 161.18,590.06 161.44,589.96 161.69,590.44 161.94,590.42 162.19,590.12 162.44,591.28 162.70,591.26 162.95,591.10 163.20,591.17 163.45,590.82 163.71,591.40 163.96,591.38 164.21,591.82 164.47,591.45 164.72,591.50 164.97,592.33 165.22,592.68 165.47,592.59 165.73,592.56 165.98,591.94 166.23,592.87 166.49,592.48 166.74,592.55 166.99,592.22 167.24,593.43 167.50,592.64 167.75,593.30 168.00,593.69" fill="none" stroke="#cfcfcf" stroke-width="0.9" />
<polyline points="127.60,597.17 127.94,596.94 128.27,597.19 128.61,597.70 128.95,596.76 129.28,597.33 129.62,597.05 129.96,596.94 130.29,597.38 130.63,597.20 130.97,597.25 131.30,597.46 131.64,597.46 131.98,596.77 132.31,597.04 132.65,596.54 132.99,597.31 133.32,597.03 133.66,597.11 134.00,596.30 134.33,596.40 134.67,596.24 135.01,596.58 135.34,596.92 135.68,596.55 136.02,596.67 136.35,596.80 136.69,596.19 137.03,596.39 137.36,596.49 137.70,596.00 138.04,595.49 138.37,595.38 138.71,595.76 139.05,596.01 139.38,595.23 139.72,595.77 140.06,595.21 140.39,595.53 140.73,594.49 141.07,594.78 141.40,594.72 141.74,594.72 142.08,594.26 142.41,593.64 142.75,593.98 143.09,593.98 143.42,593.43 143.76,592.77 144.10,593.01 144.43,592.43 144.77,591.76 145.11,591.91 145.44,590.88 145.78,590.48 146.12,589.99 146.45,588.89 146.79,586.38 147.13,584.57 147.46,581.31 147.80,576.06 148.14,581.18 148.47,584.54 148.81,587.04 149.15,588.20 149.48,589.87 149.82,590.54 150.16,590.93 150.49,591.63 150.83,592.55 151.17,592.86 151.50,592.70 151.84,592.95 152.18,593.84 152.51,593.19 152.85,594.28 153.19,594.45 153.52,594.72 153.86,594.55 154.20,594.54 154.53,594.47 154.87,595.31 155.21,594.92 155.54,595.65 155.88,595.30 156.22,595.75 156.55,595.76 156.89,596.17 157.23,595.60 157.56,596.30 157.90,595.75 158.24,596.26 158.57,596.09 158.91,596.12 159.25,596.34 159.58,596.02 159.92,596.04 160.26,596.74 160.59,596.75 160.93,596.26 161.27,597.06 161.60,596.82 161.94,596.87 162.28,596.36 162.61,597.25 162.95,596.76 163.29,596.69 163.62,596.76 163.96,597.52 164.30,596.61 164.63,597.27 164.97,596.76 165.31,596.98 165.64,597.24 165.98,596.85 166.32,597.03 166.65,597.39 166.99,597.02 167.33,597.27 167.66,597.08 168.00,597.19" fill="none" stroke="#7fc36a" stroke-width="1.0" />
<polyline points="127.60,597.30 127.94,597.92 128.27,597.57 128.61,598.04 128.95,597.23 129.28,597.23 129.62,597.14 129.96,597.92 130.29,597.40 130.63,597.43 130.97,597.76 131.30,597.65 131.64,596.85 131.98,596.94 132.31,597.52 132.65,596.89 132.99,597.03 133.32,597.26 133.66,596.95 134.00,597.33 134.33,597.23 134.67,597.45 135.01,596.75 135.34,596.77 135.68,596.54 136.02,596.72 136.35,596.72 136.69,596.78 137.03,596.28 137.36,596.56 137.70,596.26 138.04,596.01 138.37,596.23 138.71,595.89 139.05,596.41 139.38,596.10 139.72,595.40 140.06,595.98 140.39,595.94 140.73,595.84 141.07,594.94 141.40,595.45 141.74,594.93 142.08,594.78 142.41,594.23 142.75,594.36 143.09,594.10 143.42,594.37 143.76,593.34 144.10,593.09 144.43,592.92 144.77,592.34 145.11,592.13 145.44,591.51 145.78,590.72 146.12,590.10 146.45,589.57 146.79,587.14 147.13,584.84 147.46,582.48 147.80,578.03 148.14,582.34 148.47,585.73 148.81,587.66 149.15,589.50 149.48,590.50 149.82,591.57 150.16,591.80 150.49,592.45 150.83,592.45 151.17,593.15 151.50,593.69 151.84,593.18 152.18,593.49 152.51,593.93 152.85,594.62 153.19,594.63 153.52,594.77 153.86,594.98 154.20,595.53 154.53,595.26 154.87,595.09 155.21,595.30 155.54,595.26 155.88,595.56 156.22,595.60 156.55,595.60 156.89,595.66 157.23,595.88 157.56,596.35 157.90,596.19 158.24,596.28 158.57,596.13 158.91,596.37 159.25,596.71 159.58,597.03 159.92,596.96 160.26,597.10 160.59,596.72 160.93,596.69 161.27,597.31 161.60,597.02 161.94,596.76 162.28,597.28 162.61,597.59 162.95,597.11 163.29,597.39 163.62,597.65 163.96,597.53 164.30,597.85 164.63,597.73 164.97,597.48 165.31,597.83 165.64,597.95 165.98,597.43 166.32,597.05 166.65,597.19 166.99,597.72 167.33,597.14 167.66,598.00 168.00,597.95" fill="none" stroke="#f0a030" stroke-width="1.0" />
<polyline points="127.60,598.38 127.94,598.31 128.27,597.75 128.61,597.58 128.95,597.84 129.28,597.49 129.62,597.83 129.96,597.34 130.29,597.62 130.63,597.67 130.97,598.01 131.30,597.73 131.64,597.68 131.98,597.27 132.31,597.83 132.65,597.73 132.99,597.17 133.32,597.88 133.66,597.37 134.00,597.65 134.33,597.16 134.67,597.18 135.01,597.63 135.34,596.94 135.68,597.20 136.02,597.23 136.35,596.63 136.69,596.64 137.03,597.04 137.36,596.60 137.70,597.07 138.04,596.59 138.37,596.94 138.71,596.29 139.05,595.91 139.38,596.09 139.72,596.57 140.06,595.98 140.39,595.90 140.73,595.80 141.07,595.95 141.40,595.67 141.74,595.34 142.08,595.56 142.41,594.77 142.75,595.02 143.09,594.76 143.42,594.74 143.76,594.29 144.10,593.39 144.43,593.73 144.77,593.57 145.11,592.91 145.44,591.81 145.78,592.04 146.12,590.97 146.45,590.02 146.79,588.05 147.13,586.16 147.46,583.51 147.80,578.34 148.14,583.28 148.47,585.94 148.81,588.28 149.15,589.35 149.48,591.26 149.82,591.90 150.16,592.47 150.49,592.99 150.83,592.85 151.17,593.51 151.50,593.97 151.84,594.08 152.18,593.99 152.51,594.48 152.85,594.81 153.19,594.79 153.52,595.01 153.86,595.39 154.20,595.52 154.53,595.97 154.87,595.80 155.21,595.49 155.54,596.19 155.88,596.25 156.22,596.12 156.55,596.24 156.89,596.75 157.23,596.58 157.56,596.38 157.90,597.15 158.24,597.16 158.57,596.59 158.91,596.51 159.25,597.42 159.58,597.47 159.92,596.98 160.26,597.38 160.59,597.06 160.93,597.74 161.27,597.36 161.60,597.70 161.94,597.58 162.28,597.26 162.61,597.48 162.95,597.17 163.29,597.22 163.62,597.47 163.96,597.28 164.30,597.98 164.63,597.71 164.97,597.89 165.31,597.61 165.64,598.14 165.98,597.39 166.32,597.93 166.65,597.53 166.99,597.39 167.33,597.41 167.66,597.98 168.00,597.53" fill="none" stroke="#2b4c8c" stroke-width="1.0" />
<polyline points="127.60,597.69 127.94,598.55 128.27,597.92 128.61,597.92 128.95,598.17 129.28,598.33 129.62,598.42 129.96,598.16 130.29,597.62 130.63,598.13 130.97,598.25 131.30,597.86 131.64,598.02 131.98,597.81 132.31,597.94 132.65,598.08 132.99,598.30 133.32,597.48 133.66,597.60 134.00,597.98 134.33,597.68 134.67,597.56 135.01,597.59 135.34,597.14 135.68,597.22 136.02,597.63 136.35,597.54 136.69,597.21 137.03,597.60 137.36,596.76 137.70,597.57 138.04,597.04 138.37,597.19 138.71,596.85 139.05,597.24 139.38,596.97 139.72,596.11 140.06,596.20 140.39,596.66 140.73,596.30 141.07,596.60 141.40,596.38 141.74,596.17 142.08,595.22 142.41,595.74 142.75,595.63 143.09,595.63 143.42,595.38 143.76,594.28 144.10,594.29 144.43,593.84 144.77,593.61 145.11,593.29 145.44,593.37 145.78,592.89 146.12,592.06 146.45,591.28 146.79,589.83 147.13,587.39 147.46,584.90 147.80,581.42 148.14,585.08 148.47,587.26 148.81,589.15 149.15,590.62 149.48,591.60 149.82,592.15 150.16,593.07 150.49,593.69 150.83,593.87 151.17,594.48 151.50,595.00 151.84,595.01 152.18,595.04 152.51,595.57 152.85,595.80 153.19,595.80 153.52,595.84 153.86,595.40 154.20,596.01 154.53,595.80 154.87,596.01 155.21,596.28 155.54,596.67 155.88,596.70 156.22,596.88 156.55,596.65 156.89,596.52 157.23,596.67 157.56,597.25 157.90,597.47 158.24,597.68 158.57,597.17 158.91,597.59 159.25,597.88 159.58,597.64 159.92,597.77 160.26,597.84 160.59,597.43 160.93,597.56 161.27,597.90 161.60,597.49 161.94,598.06 162.28,597.38 162.61,598.22 162.95,597.77 163.29,597.69 163.62,597.69 163.96,597.97 164.30,597.61 164.63,597.88 164.97,597.84 165.31,598.47 165.64,598.39 165.98,598.13 166.32,598.07 166.65,598.54 166.99,597.90 167.33,598.32 167.66,598.20 168.00,598.17" fill="none" stroke="#b5173c" stroke-width="1.3" />
<rect x="32.20" y="504.60" width="40.80" height="98.40" fill="none" stroke="#231f20" stroke-width="1.3" />
<rect x="79.00" y="504.60" width="41.30" height="98.40" fill="none" stroke="#231f20" stroke-width="1.3" />
<rect x="127.00" y="504.60" width="41.60" height="98.40" fill="none" stroke="#231f20" stroke-width="1.3" />
<line x1="35.60" y1="509.80" x2="45.80" y2="509.80" stroke="#c8c8c8" stroke-width="1.1" />
<text x="49.00" y="511.90" font-size="6.2" text-anchor="start" fill="#333" stroke="#333" stroke-width="0.08" font-style="italic" >Ctrl</text>
<line x1="35.60" y1="518.08" x2="45.80" y2="518.08" stroke="#7fc36a" stroke-width="1.1" />
<text x="49.00" y="520.18" font-size="6.2" text-anchor="start" fill="#333" stroke="#333" stroke-width="0.08" font-style="italic" >ERG</text>
<line x1="35.60" y1="526.36" x2="45.80" y2="526.36" stroke="#f0a030" stroke-width="1.1" />
<text x="49.00" y="528.46" font-size="6.2" text-anchor="start" fill="#333" stroke="#333" stroke-width="0.08" font-style="italic" >ETO2</text>
<line x1="35.60" y1="534.64" x2="45.80" y2="534.64" stroke="#2b4c8c" stroke-width="1.1" />
<text x="49.00" y="536.74" font-size="6.2" text-anchor="start" fill="#333" stroke="#333" stroke-width="0.08" font-style="italic" >SKI</text>
<line x1="35.60" y1="542.92" x2="45.80" y2="542.92" stroke="#b5173c" stroke-width="1.1" />
<text x="49.00" y="545.02" font-size="6.2" text-anchor="start" fill="#333" stroke="#333" stroke-width="0.08" font-style="italic" >SPI1</text>
<text x="178.40" y="490.30" font-size="12.5" text-anchor="start" fill="#000" font-weight="bold" >I</text>
<text x="209.60" y="498.00" font-size="7.4" text-anchor="end" fill="#231f20" stroke="#231f20" stroke-width="0.08" textLength="21.70" lengthAdjust="spacingAndGlyphs" >GATA1</text>
<text x="209.60" y="505.60" font-size="7.4" text-anchor="end" fill="#231f20" stroke="#231f20" stroke-width="0.08" textLength="27.90" lengthAdjust="spacingAndGlyphs" >ChIP-seq</text>
<text x="209.60" y="515.50" font-size="7.8" text-anchor="end" fill="#231f20" stroke="#231f20" stroke-width="0.08" >MEP</text>
<text x="209.60" y="528.40" font-size="7.8" text-anchor="end" fill="#231f20" stroke="#231f20" stroke-width="0.08" >proE</text>
<text x="209.60" y="541.50" font-size="7.8" text-anchor="end" fill="#231f20" stroke="#231f20" stroke-width="0.08" >Ortho</text>
<text x="209.60" y="554.70" font-size="7.8" text-anchor="end" fill="#231f20" stroke="#231f20" stroke-width="0.08" >ERG</text>
<text x="209.60" y="567.30" font-size="7.8" text-anchor="end" fill="#231f20" stroke="#231f20" stroke-width="0.08" >ETO2</text>
<text x="209.60" y="580.20" font-size="7.8" text-anchor="end" fill="#231f20" stroke="#231f20" stroke-width="0.08" >SKI</text>
<text x="209.60" y="593.00" font-size="7.8" text-anchor="end" fill="#231f20" stroke="#231f20" stroke-width="0.08" >SPI1</text>
<rect x="213.10" y="493.60" width="57.80" height="12.20" fill="#f4f4f6" stroke="none" stroke-width="1" />
<rect x="274.50" y="493.60" width="62.80" height="12.20" fill="#f4f4f6" stroke="none" stroke-width="1" />
<rect x="213.10" y="506.60" width="57.80" height="11.80" fill="#f4f4f6" stroke="none" stroke-width="1" />
<rect x="274.50" y="506.60" width="62.80" height="11.80" fill="#f4f4f6" stroke="none" stroke-width="1" />
<rect x="213.10" y="519.20" width="57.80" height="12.00" fill="#f4f4f6" stroke="none" stroke-width="1" />
<rect x="274.50" y="519.20" width="62.80" height="12.00" fill="#f4f4f6" stroke="none" stroke-width="1" />
<rect x="213.10" y="532.00" width="57.80" height="12.30" fill="#f4f4f6" stroke="none" stroke-width="1" />
<rect x="274.50" y="532.00" width="62.80" height="12.30" fill="#f4f4f6" stroke="none" stroke-width="1" />
<rect x="213.10" y="545.10" width="57.80" height="11.90" fill="#f4f4f6" stroke="none" stroke-width="1" />
<rect x="274.50" y="545.10" width="62.80" height="11.90" fill="#f4f4f6" stroke="none" stroke-width="1" />
<rect x="213.10" y="557.80" width="57.80" height="12.20" fill="#f4f4f6" stroke="none" stroke-width="1" />
<rect x="274.50" y="557.80" width="62.80" height="12.20" fill="#f4f4f6" stroke="none" stroke-width="1" />
<rect x="213.10" y="570.80" width="57.80" height="11.90" fill="#f4f4f6" stroke="none" stroke-width="1" />
<rect x="274.50" y="570.80" width="62.80" height="11.90" fill="#f4f4f6" stroke="none" stroke-width="1" />
<rect x="213.10" y="583.50" width="57.80" height="11.80" fill="#f4f4f6" stroke="none" stroke-width="1" />
<rect x="274.50" y="583.50" width="62.80" height="11.80" fill="#f4f4f6" stroke="none" stroke-width="1" />
<rect x="213.10" y="596.10" width="57.80" height="6.20" fill="#f4f4f6" stroke="none" stroke-width="1" />
<rect x="274.50" y="596.10" width="62.80" height="5.90" fill="#f4f4f6" stroke="none" stroke-width="1" />
<path d="M213.4,505.3 L213.4,505.0 L213.9,505.0 L214.4,504.9 L214.9,505.3 L215.4,504.9 L215.9,505.2 L216.4,505.3 L216.9,505.3 L217.4,504.9 L217.9,505.3 L218.4,504.7 L218.9,504.9 L219.4,505.3 L219.9,505.3 L220.4,505.3 L220.9,505.3 L221.4,505.3 L221.9,505.3 L222.4,505.0 L222.9,505.0 L223.4,505.0 L223.9,505.0 L224.4,505.3 L224.9,504.7 L225.4,504.9 L225.9,505.3 L226.4,505.3 L226.9,505.3 L227.4,505.3 L228.0,505.1 L228.5,505.1 L229.0,504.8 L229.5,505.3 L230.0,505.3 L230.5,505.0 L231.0,505.1 L231.5,505.3 L232.0,504.8 L232.5,505.3 L233.0,505.3 L233.5,505.3 L234.0,504.8 L234.5,505.3 L235.0,505.3 L235.5,505.3 L236.0,505.3 L236.5,505.2 L237.0,505.0 L237.5,505.3 L238.0,505.2 L238.5,505.2 L239.0,505.2 L239.5,505.3 L240.0,504.8 L240.5,505.3 L241.0,505.2 L241.5,504.8 L242.0,505.2 L242.5,505.2 L243.0,505.3 L243.5,505.1 L244.0,505.3 L244.5,505.3 L245.0,505.3 L245.5,505.2 L246.0,505.1 L246.5,504.7 L247.0,505.0 L247.5,505.2 L248.0,505.3 L248.5,504.8 L249.0,505.3 L249.5,505.2 L250.0,504.5 L250.5,504.7 L251.0,503.8 L251.5,503.5 L252.0,502.2 L252.5,498.2 L253.0,494.8 L253.5,497.6 L254.0,502.3 L254.5,504.8 L255.0,505.3 L255.5,505.3 L256.0,505.3 L256.6,504.8 L257.1,505.1 L257.6,505.2 L258.1,505.3 L258.6,505.3 L259.1,505.3 L259.6,505.3 L260.1,504.9 L260.6,505.2 L261.1,504.5 L261.6,504.4 L262.1,504.4 L262.6,504.9 L263.1,505.1 L263.6,505.2 L264.1,504.9 L264.6,505.3 L265.1,505.0 L265.6,505.1 L266.1,505.3 L266.6,504.9 L267.1,504.9 L267.6,504.8 L268.1,505.1 L268.6,504.8 L269.1,505.0 L269.6,504.8 L270.1,504.9 L270.6,505.0 L270.6,505.3 Z" fill="#555555" stroke="none"/>
<line x1="213.40" y1="505.30" x2="270.60" y2="505.30" stroke="#555555" stroke-width="0.6" />
<path d="M275.0,505.3 L275.0,505.3 L275.5,504.7 L276.0,504.9 L276.5,504.9 L277.0,505.0 L277.5,505.2 L278.0,505.3 L278.5,505.0 L279.0,505.3 L279.5,505.0 L280.0,504.7 L280.5,505.3 L281.0,505.3 L281.5,505.3 L282.0,505.2 L282.5,505.3 L283.0,504.9 L283.5,504.8 L284.0,505.3 L284.5,505.2 L285.0,504.8 L285.5,504.8 L286.0,505.0 L286.5,505.3 L287.0,505.3 L287.5,504.8 L288.0,504.9 L288.5,505.1 L289.0,505.3 L289.5,505.1 L290.0,505.1 L290.5,504.5 L291.0,504.2 L291.5,503.1 L292.0,503.0 L292.5,501.6 L293.0,495.8 L293.5,497.4 L294.0,503.7 L294.5,504.9 L295.0,505.1 L295.5,505.2 L296.0,505.1 L296.5,505.3 L297.0,505.3 L297.5,505.0 L298.0,504.9 L298.5,504.7 L299.0,505.2 L299.5,505.2 L300.0,505.3 L300.5,504.9 L301.0,505.3 L301.5,505.3 L302.0,505.1 L302.5,503.7 L303.0,502.3 L303.5,503.6 L304.0,505.1 L304.5,504.9 L305.0,505.3 L305.5,504.9 L306.0,505.1 L306.5,504.8 L307.0,504.7 L307.5,504.9 L308.0,505.3 L308.5,504.8 L309.0,504.6 L309.5,504.5 L310.0,503.5 L310.5,504.2 L311.0,504.9 L311.5,504.8 L312.0,505.3 L312.5,505.3 L313.0,505.0 L313.5,505.0 L314.0,505.0 L314.5,504.4 L315.0,503.9 L315.5,504.4 L316.0,504.9 L316.5,505.3 L317.0,504.9 L317.5,504.9 L318.0,505.0 L318.5,505.2 L319.0,505.3 L319.5,505.1 L320.0,504.9 L320.5,504.8 L321.0,505.1 L321.5,504.8 L322.0,505.2 L322.5,504.7 L323.0,505.0 L323.5,505.3 L324.0,505.0 L324.5,505.3 L325.0,505.0 L325.5,504.8 L326.0,505.0 L326.5,505.3 L327.0,505.1 L327.5,504.7 L328.0,505.3 L328.5,505.2 L329.0,504.8 L329.5,505.0 L330.0,505.3 L330.5,505.3 L331.0,504.7 L331.5,505.3 L332.0,505.3 L332.5,505.3 L333.0,505.3 L333.5,505.1 L334.0,504.9 L334.5,505.3 L335.0,505.2 L335.5,505.1 L336.0,505.3 L336.5,505.0 L337.0,505.1 L337.0,505.3 Z" fill="#555555" stroke="none"/>
<line x1="275.00" y1="505.30" x2="337.00" y2="505.30" stroke="#555555" stroke-width="0.6" />
<text x="214.80" y="499.00" font-size="5.9" text-anchor="start" fill="#444" stroke="#444" stroke-width="0.08" textLength="15.50" lengthAdjust="spacingAndGlyphs" >[0-66]</text>
<text x="275.60" y="499.00" font-size="5.9" text-anchor="start" fill="#444" stroke="#444" stroke-width="0.08" textLength="15.50" lengthAdjust="spacingAndGlyphs" >[0-23]</text>
<path d="M213.4,517.9 L213.4,517.7 L213.9,517.2 L214.4,517.3 L214.9,517.2 L215.4,517.6 L215.9,517.0 L216.4,517.6 L216.9,516.9 L217.4,516.8 L217.9,517.8 L218.4,517.1 L218.9,517.8 L219.4,517.4 L219.9,517.8 L220.4,517.1 L220.9,517.9 L221.4,517.1 L221.9,516.8 L222.4,517.9 L222.9,517.1 L223.4,517.1 L223.9,517.8 L224.4,517.9 L224.9,517.9 L225.4,517.3 L225.9,517.7 L226.4,517.7 L226.9,516.8 L227.4,517.8 L228.0,517.9 L228.5,517.4 L229.0,517.5 L229.5,517.3 L230.0,517.2 L230.5,517.9 L231.0,517.0 L231.5,517.4 L232.0,517.5 L232.5,517.7 L233.0,517.9 L233.5,517.0 L234.0,517.0 L234.5,517.5 L235.0,517.3 L235.5,517.0 L236.0,516.9 L236.5,517.0 L237.0,517.5 L237.5,516.9 L238.0,517.1 L238.5,517.5 L239.0,517.8 L239.5,517.4 L240.0,517.8 L240.5,516.8 L241.0,516.7 L241.5,515.7 L242.0,515.6 L242.5,516.1 L243.0,516.1 L243.5,516.8 L244.0,516.6 L244.5,517.5 L245.0,516.4 L245.5,516.6 L246.0,516.9 L246.5,516.6 L247.0,517.3 L247.5,516.5 L248.0,517.2 L248.5,517.2 L249.0,517.2 L249.5,517.8 L250.0,516.9 L250.5,517.3 L251.0,516.3 L251.5,515.0 L252.0,513.4 L252.5,513.6 L253.0,513.7 L253.5,514.7 L254.0,516.2 L254.5,516.5 L255.0,516.3 L255.5,516.8 L256.0,516.6 L256.6,516.1 L257.1,516.4 L257.6,517.6 L258.1,516.7 L258.6,517.7 L259.1,516.8 L259.6,515.5 L260.1,515.0 L260.6,513.7 L261.1,512.7 L261.6,513.2 L262.1,514.6 L262.6,515.2 L263.1,516.6 L263.6,517.2 L264.1,517.0 L264.6,517.5 L265.1,517.4 L265.6,517.3 L266.1,516.9 L266.6,517.6 L267.1,517.9 L267.6,517.0 L268.1,517.5 L268.6,517.1 L269.1,517.2 L269.6,517.1 L270.1,517.6 L270.6,516.9 L270.6,517.9 Z" fill="#3a70b5" stroke="none"/>
<line x1="213.40" y1="517.90" x2="270.60" y2="517.90" stroke="#3a70b5" stroke-width="0.6" />
<path d="M275.0,517.9 L275.0,517.9 L275.5,517.9 L276.0,517.4 L276.5,517.8 L277.0,517.8 L277.5,517.9 L278.0,517.3 L278.5,517.5 L279.0,517.7 L279.5,517.1 L280.0,517.8 L280.5,517.9 L281.0,517.2 L281.5,517.7 L282.0,517.6 L282.5,517.5 L283.0,516.8 L283.5,517.3 L284.0,516.9 L284.5,517.5 L285.0,517.9 L285.5,517.8 L286.0,517.9 L286.5,517.4 L287.0,517.6 L287.5,517.8 L288.0,517.2 L288.5,517.9 L289.0,517.1 L289.5,517.6 L290.0,517.4 L290.5,517.3 L291.0,517.4 L291.5,516.3 L292.0,515.3 L292.5,515.1 L293.0,514.6 L293.5,514.2 L294.0,513.9 L294.5,515.1 L295.0,515.7 L295.5,516.2 L296.0,516.2 L296.5,516.1 L297.0,515.8 L297.5,515.4 L298.0,515.8 L298.5,516.2 L299.0,515.9 L299.5,515.7 L300.0,516.2 L300.5,517.2 L301.0,516.3 L301.5,516.9 L302.0,516.6 L302.5,515.4 L303.0,516.3 L303.5,516.2 L304.0,515.9 L304.5,516.7 L305.0,516.7 L305.5,517.1 L306.0,516.6 L306.5,517.2 L307.0,516.9 L307.5,516.6 L308.0,516.5 L308.5,516.2 L309.0,516.0 L309.5,515.6 L310.0,516.0 L310.5,515.8 L311.0,516.4 L311.5,516.3 L312.0,517.0 L312.5,517.4 L313.0,517.4 L313.5,517.8 L314.0,517.7 L314.5,517.0 L315.0,517.8 L315.5,517.2 L316.0,517.7 L316.5,517.6 L317.0,517.3 L317.5,516.6 L318.0,517.0 L318.5,516.8 L319.0,516.2 L319.5,516.3 L320.0,516.4 L320.5,516.0 L321.0,516.6 L321.5,516.1 L322.0,517.0 L322.5,517.4 L323.0,516.7 L323.5,517.1 L324.0,517.4 L324.5,517.1 L325.0,517.8 L325.5,517.5 L326.0,517.1 L326.5,517.7 L327.0,517.5 L327.5,516.9 L328.0,517.2 L328.5,517.6 L329.0,517.7 L329.5,517.9 L330.0,517.0 L330.5,517.8 L331.0,517.1 L331.5,517.9 L332.0,517.4 L332.5,517.3 L333.0,517.6 L333.5,517.4 L334.0,517.8 L334.5,517.7 L335.0,517.3 L335.5,517.0 L336.0,517.6 L336.5,517.9 L337.0,517.4 L337.0,517.9 Z" fill="#3a70b5" stroke="none"/>
<line x1="275.00" y1="517.90" x2="337.00" y2="517.90" stroke="#3a70b5" stroke-width="0.6" />
<text x="214.80" y="511.60" font-size="5.9" text-anchor="start" fill="#444" stroke="#444" stroke-width="0.08" textLength="15.50" lengthAdjust="spacingAndGlyphs" >[0-45]</text>
<text x="275.60" y="511.60" font-size="5.9" text-anchor="start" fill="#444" stroke="#444" stroke-width="0.08" textLength="15.50" lengthAdjust="spacingAndGlyphs" >[0-65]</text>
<path d="M213.4,530.7 L213.4,530.2 L213.9,530.6 L214.4,530.1 L214.9,529.6 L215.4,530.7 L215.9,529.8 L216.4,530.0 L216.9,530.7 L217.4,529.7 L217.9,529.9 L218.4,530.2 L218.9,530.3 L219.4,530.2 L219.9,530.4 L220.4,529.7 L220.9,529.5 L221.4,529.8 L221.9,529.6 L222.4,530.7 L222.9,530.6 L223.4,529.8 L223.9,530.2 L224.4,529.9 L224.9,530.7 L225.4,530.5 L225.9,530.2 L226.4,530.7 L226.9,530.1 L227.4,529.9 L228.0,529.6 L228.5,530.3 L229.0,530.7 L229.5,529.8 L230.0,529.7 L230.5,529.9 L231.0,530.7 L231.5,530.3 L232.0,530.6 L232.5,530.0 L233.0,529.6 L233.5,530.5 L234.0,529.5 L234.5,530.2 L235.0,530.5 L235.5,529.4 L236.0,529.8 L236.5,530.4 L237.0,529.9 L237.5,530.6 L238.0,530.0 L238.5,530.3 L239.0,530.2 L239.5,530.5 L240.0,530.5 L240.5,530.0 L241.0,530.0 L241.5,529.5 L242.0,529.6 L242.5,530.5 L243.0,530.3 L243.5,530.4 L244.0,529.6 L244.5,529.9 L245.0,530.5 L245.5,530.2 L246.0,528.5 L246.5,528.6 L247.0,528.4 L247.5,529.0 L248.0,528.8 L248.5,530.2 L249.0,529.9 L249.5,530.1 L250.0,530.4 L250.5,530.3 L251.0,530.0 L251.5,529.3 L252.0,526.3 L252.5,522.2 L253.0,521.5 L253.5,524.0 L254.0,527.3 L254.5,528.8 L255.0,529.5 L255.5,529.9 L256.0,528.3 L256.6,527.3 L257.1,526.8 L257.6,529.4 L258.1,529.3 L258.6,529.9 L259.1,530.3 L259.6,530.4 L260.1,529.0 L260.6,527.0 L261.1,526.4 L261.6,527.4 L262.1,529.5 L262.6,530.1 L263.1,530.3 L263.6,528.8 L264.1,528.8 L264.6,528.7 L265.1,528.7 L265.6,528.6 L266.1,530.0 L266.6,530.0 L267.1,529.1 L267.6,530.5 L268.1,530.2 L268.6,530.6 L269.1,529.6 L269.6,530.2 L270.1,530.6 L270.6,530.7 L270.6,530.7 Z" fill="#4f1f7f" stroke="none"/>
<line x1="213.40" y1="530.70" x2="270.60" y2="530.70" stroke="#4f1f7f" stroke-width="0.6" />
<path d="M275.0,530.7 L275.0,530.3 L275.5,529.5 L276.0,530.1 L276.5,530.3 L277.0,529.5 L277.5,529.6 L278.0,530.1 L278.5,529.6 L279.0,530.4 L279.5,530.5 L280.0,530.6 L280.5,530.7 L281.0,530.3 L281.5,529.6 L282.0,530.5 L282.5,529.5 L283.0,530.6 L283.5,530.3 L284.0,530.4 L284.5,530.4 L285.0,529.7 L285.5,529.8 L286.0,529.9 L286.5,530.3 L287.0,529.8 L287.5,529.9 L288.0,530.7 L288.5,530.1 L289.0,530.0 L289.5,530.7 L290.0,530.3 L290.5,529.6 L291.0,530.7 L291.5,529.5 L292.0,529.7 L292.5,528.8 L293.0,526.0 L293.5,525.1 L294.0,522.6 L294.5,522.5 L295.0,524.8 L295.5,525.7 L296.0,526.2 L296.5,525.8 L297.0,524.4 L297.5,524.4 L298.0,525.2 L298.5,526.1 L299.0,527.0 L299.5,526.8 L300.0,526.9 L300.5,527.1 L301.0,526.9 L301.5,527.8 L302.0,527.4 L302.5,527.8 L303.0,529.2 L303.5,529.7 L304.0,529.1 L304.5,529.1 L305.0,529.0 L305.5,528.1 L306.0,527.7 L306.5,528.6 L307.0,529.1 L307.5,528.7 L308.0,529.6 L308.5,530.1 L309.0,530.1 L309.5,530.0 L310.0,528.9 L310.5,529.6 L311.0,528.8 L311.5,527.7 L312.0,528.9 L312.5,528.0 L313.0,529.1 L313.5,528.7 L314.0,530.0 L314.5,529.2 L315.0,530.0 L315.5,530.1 L316.0,530.6 L316.5,530.6 L317.0,529.6 L317.5,530.2 L318.0,529.6 L318.5,529.5 L319.0,529.4 L319.5,528.5 L320.0,529.6 L320.5,528.9 L321.0,529.9 L321.5,529.2 L322.0,529.6 L322.5,529.9 L323.0,529.5 L323.5,529.6 L324.0,530.2 L324.5,530.0 L325.0,530.4 L325.5,530.1 L326.0,530.1 L326.5,529.8 L327.0,530.4 L327.5,530.6 L328.0,530.2 L328.5,530.7 L329.0,530.4 L329.5,529.5 L330.0,530.4 L330.5,530.5 L331.0,530.2 L331.5,529.8 L332.0,530.7 L332.5,530.2 L333.0,530.7 L333.5,530.3 L334.0,530.0 L334.5,530.7 L335.0,530.4 L335.5,530.7 L336.0,529.9 L336.5,530.7 L337.0,530.1 L337.0,530.7 Z" fill="#4f1f7f" stroke="none"/>
<line x1="275.00" y1="530.70" x2="337.00" y2="530.70" stroke="#4f1f7f" stroke-width="0.6" />
<text x="214.80" y="524.40" font-size="5.9" text-anchor="start" fill="#444" stroke="#444" stroke-width="0.08" textLength="15.50" lengthAdjust="spacingAndGlyphs" >[0-45]</text>
<text x="275.60" y="524.40" font-size="5.9" text-anchor="start" fill="#444" stroke="#444" stroke-width="0.08" textLength="15.50" lengthAdjust="spacingAndGlyphs" >[0-65]</text>
<path d="M213.4,543.8 L213.4,543.6 L213.9,543.5 L214.4,542.9 L214.9,543.5 L215.4,542.9 L215.9,543.3 L216.4,543.5 L216.9,543.4 L217.4,543.7 L217.9,543.8 L218.4,543.1 L218.9,542.5 L219.4,542.9 L219.9,543.5 L220.4,542.9 L220.9,542.7 L221.4,543.0 L221.9,543.8 L222.4,543.3 L222.9,543.8 L223.4,543.4 L223.9,543.4 L224.4,543.3 L224.9,543.6 L225.4,543.5 L225.9,543.8 L226.4,543.2 L226.9,542.9 L227.4,542.8 L228.0,543.4 L228.5,542.7 L229.0,542.9 L229.5,542.6 L230.0,541.8 L230.5,542.2 L231.0,542.8 L231.5,541.9 L232.0,543.0 L232.5,543.3 L233.0,542.9 L233.5,543.3 L234.0,542.6 L234.5,543.0 L235.0,543.2 L235.5,543.3 L236.0,542.4 L236.5,542.0 L237.0,542.7 L237.5,541.5 L238.0,541.5 L238.5,542.0 L239.0,542.3 L239.5,542.8 L240.0,543.5 L240.5,543.2 L241.0,543.1 L241.5,543.1 L242.0,543.1 L242.5,542.5 L243.0,543.3 L243.5,543.4 L244.0,542.9 L244.5,542.5 L245.0,543.6 L245.5,543.2 L246.0,543.3 L246.5,542.8 L247.0,543.4 L247.5,543.2 L248.0,542.7 L248.5,542.8 L249.0,542.2 L249.5,541.5 L250.0,541.2 L250.5,540.6 L251.0,541.9 L251.5,541.0 L252.0,540.4 L252.5,536.2 L253.0,533.9 L253.5,535.6 L254.0,539.1 L254.5,540.9 L255.0,541.4 L255.5,541.7 L256.0,541.0 L256.6,540.4 L257.1,540.6 L257.6,540.6 L258.1,540.8 L258.6,539.6 L259.1,540.9 L259.6,540.8 L260.1,541.2 L260.6,540.7 L261.1,542.1 L261.6,542.0 L262.1,542.0 L262.6,540.7 L263.1,541.2 L263.6,540.9 L264.1,539.9 L264.6,539.9 L265.1,539.2 L265.6,539.9 L266.1,539.7 L266.6,540.6 L267.1,540.9 L267.6,541.9 L268.1,542.5 L268.6,542.6 L269.1,543.1 L269.6,543.4 L270.1,543.4 L270.6,543.3 L270.6,543.8 Z" fill="#c0183a" stroke="none"/>
<line x1="213.40" y1="543.80" x2="270.60" y2="543.80" stroke="#c0183a" stroke-width="1.4" />
<path d="M275.0,543.8 L275.0,543.2 L275.5,543.5 L276.0,543.8 L276.5,543.8 L277.0,543.4 L277.5,543.8 L278.0,543.2 L278.5,543.5 L279.0,543.2 L279.5,542.8 L280.0,543.7 L280.5,542.9 L281.0,543.4 L281.5,542.7 L282.0,543.2 L282.5,542.9 L283.0,543.8 L283.5,543.6 L284.0,543.8 L284.5,542.8 L285.0,543.1 L285.5,543.8 L286.0,542.6 L286.5,543.8 L287.0,542.7 L287.5,542.8 L288.0,542.8 L288.5,542.8 L289.0,543.7 L289.5,543.3 L290.0,543.5 L290.5,543.8 L291.0,543.5 L291.5,543.3 L292.0,542.7 L292.5,542.7 L293.0,541.8 L293.5,538.1 L294.0,534.6 L294.5,533.7 L295.0,537.0 L295.5,539.2 L296.0,539.9 L296.5,539.0 L297.0,539.1 L297.5,538.7 L298.0,539.0 L298.5,540.1 L299.0,540.4 L299.5,541.0 L300.0,540.5 L300.5,540.6 L301.0,539.7 L301.5,540.0 L302.0,539.1 L302.5,540.1 L303.0,539.3 L303.5,540.1 L304.0,540.4 L304.5,540.6 L305.0,540.3 L305.5,540.5 L306.0,540.7 L306.5,539.7 L307.0,539.7 L307.5,540.4 L308.0,540.6 L308.5,541.4 L309.0,542.7 L309.5,542.5 L310.0,542.5 L310.5,543.1 L311.0,541.9 L311.5,542.5 L312.0,541.3 L312.5,541.3 L313.0,541.0 L313.5,542.1 L314.0,541.8 L314.5,541.9 L315.0,542.6 L315.5,543.4 L316.0,542.7 L316.5,542.7 L317.0,543.1 L317.5,543.5 L318.0,543.0 L318.5,543.8 L319.0,542.8 L319.5,543.5 L320.0,542.7 L320.5,543.1 L321.0,542.8 L321.5,543.3 L322.0,543.8 L322.5,543.8 L323.0,542.7 L323.5,543.6 L324.0,543.3 L324.5,543.0 L325.0,543.7 L325.5,543.5 L326.0,542.7 L326.5,543.5 L327.0,543.2 L327.5,543.8 L328.0,543.4 L328.5,543.4 L329.0,542.9 L329.5,543.6 L330.0,543.2 L330.5,543.6 L331.0,543.0 L331.5,543.5 L332.0,542.9 L332.5,543.3 L333.0,543.3 L333.5,543.0 L334.0,542.7 L334.5,543.2 L335.0,542.6 L335.5,542.9 L336.0,543.0 L336.5,542.7 L337.0,542.7 L337.0,543.8 Z" fill="#c0183a" stroke="none"/>
<line x1="275.00" y1="543.80" x2="337.00" y2="543.80" stroke="#c0183a" stroke-width="1.4" />
<text x="214.80" y="537.50" font-size="5.9" text-anchor="start" fill="#444" stroke="#444" stroke-width="0.08" textLength="15.50" lengthAdjust="spacingAndGlyphs" >[0-45]</text>
<text x="275.60" y="537.50" font-size="5.9" text-anchor="start" fill="#444" stroke="#444" stroke-width="0.08" textLength="15.50" lengthAdjust="spacingAndGlyphs" >[0-65]</text>
<path d="M213.4,556.5 L213.4,556.0 L213.9,556.1 L214.4,555.8 L214.9,556.4 L215.4,556.2 L215.9,555.5 L216.4,556.5 L216.9,555.8 L217.4,556.5 L217.9,556.4 L218.4,556.2 L218.9,556.1 L219.4,555.6 L219.9,555.9 L220.4,556.5 L220.9,556.4 L221.4,556.1 L221.9,555.8 L222.4,556.5 L222.9,555.5 L223.4,556.5 L223.9,556.0 L224.4,556.0 L224.9,556.5 L225.4,555.8 L225.9,555.4 L226.4,556.1 L226.9,555.8 L227.4,555.4 L228.0,556.5 L228.5,556.1 L229.0,556.2 L229.5,556.2 L230.0,556.2 L230.5,555.4 L231.0,556.1 L231.5,555.8 L232.0,554.9 L232.5,555.1 L233.0,554.5 L233.5,555.2 L234.0,555.5 L234.5,554.8 L235.0,556.0 L235.5,555.7 L236.0,556.2 L236.5,556.1 L237.0,556.3 L237.5,556.3 L238.0,556.5 L238.5,556.2 L239.0,556.2 L239.5,556.4 L240.0,556.5 L240.5,555.9 L241.0,555.6 L241.5,556.5 L242.0,556.3 L242.5,555.9 L243.0,555.8 L243.5,555.4 L244.0,556.5 L244.5,556.5 L245.0,555.7 L245.5,556.2 L246.0,555.4 L246.5,554.5 L247.0,555.5 L247.5,555.7 L248.0,556.4 L248.5,556.4 L249.0,556.5 L249.5,556.5 L250.0,556.1 L250.5,555.8 L251.0,555.4 L251.5,555.8 L252.0,555.7 L252.5,555.8 L253.0,555.3 L253.5,555.4 L254.0,555.8 L254.5,555.9 L255.0,556.5 L255.5,556.4 L256.0,555.9 L256.6,556.2 L257.1,556.2 L257.6,555.5 L258.1,555.4 L258.6,555.4 L259.1,556.2 L259.6,555.4 L260.1,556.5 L260.6,555.4 L261.1,555.8 L261.6,556.2 L262.1,555.9 L262.6,556.5 L263.1,555.9 L263.6,556.4 L264.1,556.5 L264.6,556.5 L265.1,556.5 L265.6,556.0 L266.1,556.1 L266.6,556.5 L267.1,556.4 L267.6,555.6 L268.1,556.5 L268.6,556.5 L269.1,555.6 L269.6,556.4 L270.1,556.4 L270.6,555.9 L270.6,556.5 Z" fill="#5aa83e" stroke="none"/>
<line x1="213.40" y1="556.50" x2="270.60" y2="556.50" stroke="#5aa83e" stroke-width="0.6" />
<path d="M275.0,556.5 L275.0,555.8 L275.5,556.5 L276.0,555.7 L276.5,556.5 L277.0,556.0 L277.5,555.4 L278.0,556.4 L278.5,556.0 L279.0,556.1 L279.5,556.0 L280.0,556.5 L280.5,556.5 L281.0,556.3 L281.5,556.3 L282.0,555.4 L282.5,555.8 L283.0,555.7 L283.5,555.6 L284.0,554.9 L284.5,555.3 L285.0,555.1 L285.5,555.8 L286.0,555.6 L286.5,556.3 L287.0,556.0 L287.5,555.4 L288.0,555.7 L288.5,555.6 L289.0,556.5 L289.5,556.3 L290.0,556.3 L290.5,556.5 L291.0,556.5 L291.5,556.4 L292.0,555.6 L292.5,555.2 L293.0,555.0 L293.5,554.4 L294.0,554.3 L294.5,554.6 L295.0,555.3 L295.5,555.1 L296.0,555.7 L296.5,555.3 L297.0,554.7 L297.5,554.9 L298.0,555.4 L298.5,555.4 L299.0,555.9 L299.5,556.5 L300.0,556.4 L300.5,556.5 L301.0,556.5 L301.5,555.9 L302.0,556.1 L302.5,556.5 L303.0,555.6 L303.5,556.3 L304.0,555.9 L304.5,555.7 L305.0,554.8 L305.5,555.7 L306.0,555.5 L306.5,555.4 L307.0,556.1 L307.5,555.7 L308.0,556.5 L308.5,555.7 L309.0,556.5 L309.5,556.5 L310.0,556.5 L310.5,556.2 L311.0,556.5 L311.5,556.5 L312.0,556.5 L312.5,556.2 L313.0,556.5 L313.5,556.5 L314.0,555.5 L314.5,556.5 L315.0,555.5 L315.5,555.8 L316.0,555.7 L316.5,555.0 L317.0,555.4 L317.5,555.4 L318.0,554.9 L318.5,555.2 L319.0,555.3 L319.5,555.0 L320.0,555.7 L320.5,556.4 L321.0,556.5 L321.5,556.4 L322.0,555.8 L322.5,556.5 L323.0,556.4 L323.5,556.4 L324.0,556.2 L324.5,556.4 L325.0,556.4 L325.5,556.5 L326.0,555.4 L326.5,555.6 L327.0,555.9 L327.5,556.5 L328.0,556.2 L328.5,555.9 L329.0,555.9 L329.5,555.5 L330.0,555.6 L330.5,554.9 L331.0,554.9 L331.5,555.6 L332.0,555.7 L332.5,555.9 L333.0,555.1 L333.5,555.2 L334.0,555.5 L334.5,556.4 L335.0,555.8 L335.5,555.8 L336.0,555.5 L336.5,556.5 L337.0,555.4 L337.0,556.5 Z" fill="#5aa83e" stroke="none"/>
<line x1="275.00" y1="556.50" x2="337.00" y2="556.50" stroke="#5aa83e" stroke-width="0.6" />
<text x="214.80" y="550.20" font-size="5.9" text-anchor="start" fill="#444" stroke="#444" stroke-width="0.08" textLength="15.50" lengthAdjust="spacingAndGlyphs" >[0-45]</text>
<text x="275.60" y="550.20" font-size="5.9" text-anchor="start" fill="#444" stroke="#444" stroke-width="0.08" textLength="15.50" lengthAdjust="spacingAndGlyphs" >[0-65]</text>
<path d="M213.4,569.5 L213.4,569.5 L213.9,569.5 L214.4,568.4 L214.9,569.5 L215.4,569.5 L215.9,568.7 L216.4,568.9 L216.9,568.6 L217.4,569.5 L217.9,569.5 L218.4,568.4 L218.9,569.1 L219.4,569.1 L219.9,569.5 L220.4,569.2 L220.9,568.9 L221.4,568.8 L221.9,569.2 L222.4,569.3 L222.9,569.2 L223.4,568.6 L223.9,569.2 L224.4,569.2 L224.9,569.2 L225.4,569.3 L225.9,569.2 L226.4,568.7 L226.9,568.6 L227.4,569.4 L228.0,569.2 L228.5,569.0 L229.0,569.1 L229.5,568.5 L230.0,569.1 L230.5,568.6 L231.0,569.1 L231.5,569.1 L232.0,568.8 L232.5,569.0 L233.0,569.5 L233.5,569.1 L234.0,569.5 L234.5,569.3 L235.0,568.5 L235.5,568.5 L236.0,568.5 L236.5,568.7 L237.0,569.3 L237.5,568.8 L238.0,568.7 L238.5,569.0 L239.0,569.4 L239.5,568.5 L240.0,569.5 L240.5,569.1 L241.0,569.5 L241.5,569.3 L242.0,568.9 L242.5,568.9 L243.0,568.9 L243.5,569.3 L244.0,569.2 L244.5,568.3 L245.0,568.3 L245.5,568.2 L246.0,568.2 L246.5,567.5 L247.0,568.2 L247.5,568.6 L248.0,568.3 L248.5,569.4 L249.0,569.0 L249.5,569.5 L250.0,569.3 L250.5,569.2 L251.0,569.3 L251.5,568.0 L252.0,567.6 L252.5,567.4 L253.0,567.0 L253.5,566.8 L254.0,566.4 L254.5,567.2 L255.0,568.1 L255.5,568.0 L256.0,568.8 L256.6,568.9 L257.1,568.5 L257.6,568.5 L258.1,568.5 L258.6,568.8 L259.1,568.9 L259.6,568.1 L260.1,567.6 L260.6,566.5 L261.1,566.8 L261.6,566.3 L262.1,566.5 L262.6,567.1 L263.1,568.4 L263.6,568.7 L264.1,568.6 L264.6,569.3 L265.1,569.0 L265.6,568.4 L266.1,569.0 L266.6,569.5 L267.1,569.2 L267.6,568.6 L268.1,568.5 L268.6,569.0 L269.1,568.5 L269.6,569.0 L270.1,568.6 L270.6,569.1 L270.6,569.5 Z" fill="#e8a01e" stroke="none"/>
<line x1="213.40" y1="569.50" x2="270.60" y2="569.50" stroke="#e8a01e" stroke-width="0.6" />
<path d="M275.0,569.5 L275.0,569.3 L275.5,568.6 L276.0,568.5 L276.5,568.6 L277.0,568.6 L277.5,569.3 L278.0,569.2 L278.5,568.5 L279.0,569.5 L279.5,569.1 L280.0,568.8 L280.5,568.5 L281.0,569.4 L281.5,569.4 L282.0,568.5 L282.5,569.3 L283.0,568.7 L283.5,568.8 L284.0,568.7 L284.5,569.5 L285.0,568.7 L285.5,568.5 L286.0,568.5 L286.5,569.0 L287.0,569.1 L287.5,569.5 L288.0,568.6 L288.5,568.8 L289.0,568.7 L289.5,569.2 L290.0,569.3 L290.5,568.7 L291.0,569.1 L291.5,568.4 L292.0,568.0 L292.5,567.1 L293.0,566.3 L293.5,564.5 L294.0,564.3 L294.5,564.2 L295.0,565.2 L295.5,566.8 L296.0,567.2 L296.5,567.4 L297.0,567.5 L297.5,567.0 L298.0,567.2 L298.5,567.9 L299.0,568.2 L299.5,568.9 L300.0,568.4 L300.5,568.5 L301.0,567.9 L301.5,568.4 L302.0,567.3 L302.5,568.0 L303.0,568.0 L303.5,567.6 L304.0,567.6 L304.5,568.3 L305.0,568.0 L305.5,568.2 L306.0,568.3 L306.5,567.1 L307.0,568.0 L307.5,568.2 L308.0,567.8 L308.5,568.8 L309.0,568.6 L309.5,569.0 L310.0,568.7 L310.5,569.4 L311.0,569.4 L311.5,569.5 L312.0,569.5 L312.5,569.5 L313.0,569.0 L313.5,569.5 L314.0,568.6 L314.5,568.9 L315.0,568.4 L315.5,569.5 L316.0,569.3 L316.5,568.9 L317.0,569.1 L317.5,569.2 L318.0,568.7 L318.5,569.1 L319.0,569.0 L319.5,568.8 L320.0,569.2 L320.5,569.0 L321.0,568.5 L321.5,569.1 L322.0,568.4 L322.5,569.1 L323.0,568.7 L323.5,568.7 L324.0,568.8 L324.5,569.0 L325.0,569.3 L325.5,568.9 L326.0,569.1 L326.5,569.5 L327.0,568.7 L327.5,568.8 L328.0,569.1 L328.5,569.3 L329.0,569.4 L329.5,568.6 L330.0,569.1 L330.5,568.7 L331.0,568.7 L331.5,569.2 L332.0,568.9 L332.5,568.4 L333.0,568.6 L333.5,568.7 L334.0,569.2 L334.5,568.9 L335.0,569.3 L335.5,568.5 L336.0,569.2 L336.5,569.0 L337.0,568.8 L337.0,569.5 Z" fill="#e8a01e" stroke="none"/>
<line x1="275.00" y1="569.50" x2="337.00" y2="569.50" stroke="#e8a01e" stroke-width="0.6" />
<text x="214.80" y="563.20" font-size="5.9" text-anchor="start" fill="#444" stroke="#444" stroke-width="0.08" textLength="15.50" lengthAdjust="spacingAndGlyphs" >[0-45]</text>
<text x="275.60" y="563.20" font-size="5.9" text-anchor="start" fill="#444" stroke="#444" stroke-width="0.08" textLength="15.50" lengthAdjust="spacingAndGlyphs" >[0-65]</text>
<path d="M213.4,582.2 L213.4,581.6 L213.9,581.6 L214.4,581.8 L214.9,582.1 L215.4,581.4 L215.9,581.3 L216.4,581.9 L216.9,581.6 L217.4,582.2 L217.9,581.5 L218.4,581.9 L218.9,581.2 L219.4,582.0 L219.9,582.2 L220.4,582.2 L220.9,581.4 L221.4,581.7 L221.9,582.2 L222.4,581.3 L222.9,581.4 L223.4,581.8 L223.9,582.0 L224.4,581.9 L224.9,581.3 L225.4,581.5 L225.9,582.0 L226.4,581.5 L226.9,581.1 L227.4,581.7 L228.0,581.3 L228.5,581.5 L229.0,581.8 L229.5,582.0 L230.0,581.2 L230.5,581.8 L231.0,581.4 L231.5,582.2 L232.0,582.1 L232.5,581.6 L233.0,582.1 L233.5,582.2 L234.0,581.1 L234.5,581.3 L235.0,582.2 L235.5,582.2 L236.0,582.2 L236.5,582.0 L237.0,581.5 L237.5,581.8 L238.0,581.9 L238.5,581.8 L239.0,581.9 L239.5,581.9 L240.0,582.2 L240.5,581.5 L241.0,582.1 L241.5,581.7 L242.0,581.9 L242.5,581.4 L243.0,581.5 L243.5,581.6 L244.0,581.8 L244.5,581.7 L245.0,581.6 L245.5,581.2 L246.0,582.2 L246.5,582.2 L247.0,581.5 L247.5,582.0 L248.0,581.3 L248.5,581.4 L249.0,581.7 L249.5,581.6 L250.0,581.1 L250.5,581.3 L251.0,582.1 L251.5,580.7 L252.0,580.1 L252.5,578.2 L253.0,577.3 L253.5,579.4 L254.0,580.9 L254.5,581.4 L255.0,582.0 L255.5,581.1 L256.0,580.9 L256.6,580.2 L257.1,579.9 L257.6,580.3 L258.1,581.4 L258.6,581.8 L259.1,581.5 L259.6,582.1 L260.1,581.0 L260.6,580.6 L261.1,579.8 L261.6,580.4 L262.1,581.9 L262.6,581.9 L263.1,581.4 L263.6,582.1 L264.1,582.2 L264.6,582.0 L265.1,582.2 L265.6,581.7 L266.1,581.8 L266.6,581.3 L267.1,581.5 L267.6,581.2 L268.1,582.2 L268.6,581.8 L269.1,581.9 L269.6,582.0 L270.1,581.1 L270.6,581.9 L270.6,582.2 Z" fill="#2f68ad" stroke="none"/>
<line x1="213.40" y1="582.20" x2="270.60" y2="582.20" stroke="#2f68ad" stroke-width="0.6" />
<path d="M275.0,582.2 L275.0,581.5 L275.5,582.2 L276.0,581.9 L276.5,581.3 L277.0,581.1 L277.5,581.5 L278.0,581.4 L278.5,582.1 L279.0,581.8 L279.5,582.1 L280.0,582.2 L280.5,581.8 L281.0,582.0 L281.5,581.2 L282.0,581.6 L282.5,581.4 L283.0,581.9 L283.5,581.4 L284.0,582.2 L284.5,582.2 L285.0,581.7 L285.5,581.5 L286.0,581.4 L286.5,582.1 L287.0,582.0 L287.5,582.2 L288.0,582.2 L288.5,581.8 L289.0,582.2 L289.5,582.2 L290.0,581.5 L290.5,582.2 L291.0,582.2 L291.5,581.9 L292.0,581.9 L292.5,580.7 L293.0,580.3 L293.5,578.8 L294.0,577.5 L294.5,577.2 L295.0,578.0 L295.5,578.9 L296.0,580.0 L296.5,579.7 L297.0,579.5 L297.5,579.5 L298.0,578.6 L298.5,578.9 L299.0,580.4 L299.5,580.8 L300.0,580.8 L300.5,580.9 L301.0,581.6 L301.5,581.1 L302.0,581.8 L302.5,580.8 L303.0,581.0 L303.5,580.0 L304.0,580.2 L304.5,579.6 L305.0,579.9 L305.5,580.5 L306.0,580.2 L306.5,580.2 L307.0,581.4 L307.5,581.3 L308.0,581.1 L308.5,581.4 L309.0,580.9 L309.5,581.5 L310.0,581.6 L310.5,581.4 L311.0,581.0 L311.5,581.3 L312.0,581.2 L312.5,581.3 L313.0,581.1 L313.5,580.9 L314.0,581.8 L314.5,581.7 L315.0,581.3 L315.5,581.1 L316.0,581.8 L316.5,581.8 L317.0,581.7 L317.5,582.0 L318.0,581.1 L318.5,581.5 L319.0,582.2 L319.5,582.0 L320.0,581.6 L320.5,581.1 L321.0,582.2 L321.5,582.2 L322.0,582.2 L322.5,581.3 L323.0,581.6 L323.5,581.8 L324.0,582.2 L324.5,582.2 L325.0,582.2 L325.5,582.1 L326.0,582.1 L326.5,581.3 L327.0,582.1 L327.5,581.4 L328.0,581.6 L328.5,581.3 L329.0,581.1 L329.5,581.3 L330.0,581.7 L330.5,582.2 L331.0,581.9 L331.5,581.6 L332.0,582.1 L332.5,581.5 L333.0,581.1 L333.5,581.9 L334.0,581.6 L334.5,581.8 L335.0,581.7 L335.5,581.7 L336.0,581.1 L336.5,582.2 L337.0,582.1 L337.0,582.2 Z" fill="#2f68ad" stroke="none"/>
<line x1="275.00" y1="582.20" x2="337.00" y2="582.20" stroke="#2f68ad" stroke-width="0.6" />
<text x="214.80" y="575.90" font-size="5.9" text-anchor="start" fill="#444" stroke="#444" stroke-width="0.08" textLength="15.50" lengthAdjust="spacingAndGlyphs" >[0-45]</text>
<text x="275.60" y="575.90" font-size="5.9" text-anchor="start" fill="#444" stroke="#444" stroke-width="0.08" textLength="15.50" lengthAdjust="spacingAndGlyphs" >[0-65]</text>
<path d="M213.4,594.8 L213.4,594.6 L213.9,594.2 L214.4,593.8 L214.9,594.4 L215.4,593.6 L215.9,594.8 L216.4,594.2 L216.9,594.6 L217.4,593.8 L217.9,594.8 L218.4,594.5 L218.9,594.0 L219.4,594.8 L219.9,594.4 L220.4,593.8 L220.9,594.8 L221.4,594.8 L221.9,594.2 L222.4,593.8 L222.9,594.7 L223.4,594.2 L223.9,593.6 L224.4,594.0 L224.9,594.8 L225.4,593.6 L225.9,594.4 L226.4,593.6 L226.9,594.7 L227.4,594.6 L228.0,593.6 L228.5,594.5 L229.0,594.4 L229.5,593.8 L230.0,594.4 L230.5,593.9 L231.0,594.2 L231.5,594.8 L232.0,594.8 L232.5,593.7 L233.0,594.0 L233.5,594.3 L234.0,593.5 L234.5,594.6 L235.0,594.0 L235.5,593.8 L236.0,593.7 L236.5,594.3 L237.0,594.3 L237.5,594.3 L238.0,594.3 L238.5,593.7 L239.0,593.9 L239.5,594.3 L240.0,594.5 L240.5,594.7 L241.0,593.6 L241.5,594.3 L242.0,594.8 L242.5,594.0 L243.0,594.7 L243.5,593.8 L244.0,593.7 L244.5,594.2 L245.0,594.4 L245.5,594.4 L246.0,594.8 L246.5,593.8 L247.0,594.6 L247.5,594.8 L248.0,594.8 L248.5,594.0 L249.0,594.8 L249.5,594.0 L250.0,594.8 L250.5,594.3 L251.0,594.3 L251.5,593.5 L252.0,593.8 L252.5,592.3 L253.0,590.6 L253.5,590.7 L254.0,591.9 L254.5,592.8 L255.0,592.8 L255.5,593.0 L256.0,592.6 L256.6,593.2 L257.1,592.7 L257.6,592.4 L258.1,592.8 L258.6,592.7 L259.1,594.0 L259.6,594.0 L260.1,592.8 L260.6,593.4 L261.1,593.1 L261.6,592.6 L262.1,592.3 L262.6,593.3 L263.1,593.2 L263.6,593.3 L264.1,592.5 L264.6,592.8 L265.1,593.2 L265.6,593.5 L266.1,593.4 L266.6,594.4 L267.1,594.3 L267.6,593.9 L268.1,594.7 L268.6,593.7 L269.1,594.6 L269.6,593.5 L270.1,593.8 L270.6,593.6 L270.6,594.8 Z" fill="#c0183a" stroke="none"/>
<line x1="213.40" y1="594.80" x2="270.60" y2="594.80" stroke="#c0183a" stroke-width="0.6" />
<path d="M275.0,594.8 L275.0,594.6 L275.5,594.5 L276.0,593.6 L276.5,594.6 L277.0,594.5 L277.5,593.9 L278.0,594.2 L278.5,594.2 L279.0,594.2 L279.5,593.9 L280.0,594.1 L280.5,594.7 L281.0,594.3 L281.5,594.8 L282.0,594.8 L282.5,593.6 L283.0,594.8 L283.5,594.3 L284.0,594.6 L284.5,593.7 L285.0,594.6 L285.5,594.8 L286.0,594.8 L286.5,594.5 L287.0,593.8 L287.5,594.8 L288.0,594.4 L288.5,593.8 L289.0,594.2 L289.5,594.2 L290.0,594.5 L290.5,593.6 L291.0,593.5 L291.5,594.4 L292.0,594.1 L292.5,593.7 L293.0,592.6 L293.5,591.6 L294.0,591.0 L294.5,591.7 L295.0,592.9 L295.5,593.1 L296.0,592.5 L296.5,592.5 L297.0,593.4 L297.5,592.1 L298.0,592.7 L298.5,593.1 L299.0,593.4 L299.5,593.1 L300.0,593.4 L300.5,594.4 L301.0,594.2 L301.5,594.2 L302.0,594.7 L302.5,594.3 L303.0,594.6 L303.5,594.5 L304.0,594.2 L304.5,593.4 L305.0,592.9 L305.5,593.3 L306.0,593.2 L306.5,592.6 L307.0,593.1 L307.5,593.2 L308.0,593.1 L308.5,593.5 L309.0,594.0 L309.5,594.0 L310.0,593.7 L310.5,594.7 L311.0,594.0 L311.5,593.6 L312.0,594.7 L312.5,594.0 L313.0,594.1 L313.5,593.9 L314.0,593.2 L314.5,593.2 L315.0,593.5 L315.5,592.6 L316.0,592.8 L316.5,594.0 L317.0,593.4 L317.5,594.5 L318.0,594.0 L318.5,594.7 L319.0,594.3 L319.5,594.8 L320.0,593.6 L320.5,594.2 L321.0,593.9 L321.5,594.7 L322.0,594.1 L322.5,594.0 L323.0,593.1 L323.5,592.9 L324.0,593.6 L324.5,593.1 L325.0,592.8 L325.5,592.4 L326.0,593.8 L326.5,594.1 L327.0,593.4 L327.5,594.5 L328.0,594.4 L328.5,593.6 L329.0,594.6 L329.5,593.5 L330.0,594.2 L330.5,593.8 L331.0,594.4 L331.5,593.9 L332.0,594.0 L332.5,593.5 L333.0,594.5 L333.5,593.6 L334.0,593.7 L334.5,593.7 L335.0,594.7 L335.5,593.7 L336.0,594.7 L336.5,594.8 L337.0,594.2 L337.0,594.8 Z" fill="#c0183a" stroke="none"/>
<line x1="275.00" y1="594.80" x2="337.00" y2="594.80" stroke="#c0183a" stroke-width="0.6" />
<text x="214.80" y="588.50" font-size="5.9" text-anchor="start" fill="#444" stroke="#444" stroke-width="0.08" textLength="15.50" lengthAdjust="spacingAndGlyphs" >[0-45]</text>
<text x="275.60" y="588.50" font-size="5.9" text-anchor="start" fill="#444" stroke="#444" stroke-width="0.08" textLength="15.50" lengthAdjust="spacingAndGlyphs" >[0-65]</text>
<line x1="224.00" y1="599.00" x2="270.50" y2="599.00" stroke="#3a3aa8" stroke-width="0.8" />
<rect x="224.40" y="597.50" width="9.40" height="3.00" fill="#3a3aa8" stroke="none" stroke-width="1" rx="1"/>
<rect x="246.00" y="597.60" width="1.00" height="2.80" fill="#3a3aa8" stroke="none" stroke-width="1" />
<rect x="250.00" y="597.60" width="3.00" height="2.80" fill="#3a3aa8" stroke="none" stroke-width="1" />
<rect x="258.00" y="597.60" width="2.20" height="2.80" fill="#3a3aa8" stroke="none" stroke-width="1" />
<polygon points="238,599 239.4,597.8 239.4,600.2" fill="#3a3aa8"/>
<polygon points="254.5,599 255.9,597.8 255.9,600.2" fill="#3a3aa8"/>
<polygon points="263.5,599 264.9,597.8 264.9,600.2" fill="#3a3aa8"/>
<rect x="294.20" y="597.00" width="4.20" height="3.40" fill="#3a3aa8" stroke="none" stroke-width="1" />
<polygon points="298.4,596.8 300.59999999999997,598.7 298.4,600.6" fill="#3a3aa8"/>
<rect x="321.40" y="597.00" width="4.20" height="3.40" fill="#3a3aa8" stroke="none" stroke-width="1" />
<polygon points="325.59999999999997,596.8 327.79999999999995,598.7 325.59999999999997,600.6" fill="#3a3aa8"/>
<rect x="212.70" y="492.90" width="58.60" height="110.00" fill="none" stroke="#231f20" stroke-width="1.3" />
<rect x="274.20" y="493.20" width="63.40" height="109.30" fill="none" stroke="#231f20" stroke-width="1.3" />
<text x="242.20" y="612.60" font-size="8.4" text-anchor="middle" fill="#231f20" stroke="#231f20" stroke-width="0.08" font-style="italic" textLength="16.20" lengthAdjust="spacingAndGlyphs" >Nfe2</text>
<text x="287.60" y="612.60" font-size="8.4" text-anchor="middle" fill="#231f20" stroke="#231f20" stroke-width="0.08" font-style="italic" textLength="22.40" lengthAdjust="spacingAndGlyphs" >Hba-a1</text>
<text x="320.60" y="612.60" font-size="8.4" text-anchor="middle" fill="#231f20" stroke="#231f20" stroke-width="0.08" font-style="italic" textLength="22.10" lengthAdjust="spacingAndGlyphs" >Hbq-a1</text>
<text x="347.30" y="504.50" font-size="12.5" text-anchor="start" fill="#000" font-weight="bold" >J</text>
<line x1="379.40" y1="519.50" x2="379.40" y2="603.10" stroke="#231f20" stroke-width="1.2" />
<line x1="378.80" y1="602.50" x2="501.50" y2="602.50" stroke="#231f20" stroke-width="1.2" />
<line x1="376.20" y1="602.50" x2="379.40" y2="602.50" stroke="#231f20" stroke-width="0.9" />
<text x="373.80" y="604.90" font-size="6.9" text-anchor="end" fill="#231f20" stroke="#231f20" stroke-width="0.08" >0</text>
<line x1="376.20" y1="575.60" x2="379.40" y2="575.60" stroke="#231f20" stroke-width="0.9" />
<text x="373.80" y="578.00" font-size="6.9" text-anchor="end" fill="#231f20" stroke="#231f20" stroke-width="0.08" >2</text>
<line x1="376.20" y1="548.70" x2="379.40" y2="548.70" stroke="#231f20" stroke-width="0.9" />
<text x="373.80" y="551.10" font-size="6.9" text-anchor="end" fill="#231f20" stroke="#231f20" stroke-width="0.08" >4</text>
<line x1="376.20" y1="521.80" x2="379.40" y2="521.80" stroke="#231f20" stroke-width="0.9" />
<text x="373.80" y="524.20" font-size="6.9" text-anchor="end" fill="#231f20" stroke="#231f20" stroke-width="0.08" >6</text>
<line x1="387.80" y1="599.81" x2="387.80" y2="596.85" stroke="#231f20" stroke-width="0.9" />
<line x1="385.00" y1="596.85" x2="390.60" y2="596.85" stroke="#231f20" stroke-width="1.0" />
<rect x="382.30" y="599.81" width="11.00" height="2.69" fill="#2e6a4c" stroke="none" stroke-width="1" />
<line x1="387.80" y1="602.50" x2="387.80" y2="605.50" stroke="#231f20" stroke-width="0.9" />
<text x="390.80" y="611.80" font-size="7.5" text-anchor="end" fill="#231f20" stroke="#231f20" stroke-width="0.08" transform="rotate(-45 390.80 611.80)" >BA/F3</text>
<line x1="405.30" y1="563.50" x2="405.30" y2="560.54" stroke="#231f20" stroke-width="0.9" />
<line x1="402.50" y1="560.54" x2="408.10" y2="560.54" stroke="#231f20" stroke-width="1.0" />
<rect x="400.00" y="563.50" width="10.60" height="39.00" fill="#8a80bf" stroke="none" stroke-width="1" />
<line x1="405.30" y1="602.50" x2="405.30" y2="605.50" stroke="#231f20" stroke-width="0.9" />
<text x="408.30" y="611.80" font-size="7.5" text-anchor="end" fill="#231f20" stroke="#231f20" stroke-width="0.08" transform="rotate(-45 408.30 611.80)" >MEL</text>
<line x1="422.65" y1="583.40" x2="422.65" y2="582.86" stroke="#231f20" stroke-width="0.9" />
<line x1="419.85" y1="582.86" x2="425.45" y2="582.86" stroke="#231f20" stroke-width="1.0" />
<rect x="417.00" y="583.40" width="11.30" height="19.10" fill="#2b4c8c" stroke="none" stroke-width="1" />
<line x1="422.65" y1="602.50" x2="422.65" y2="605.50" stroke="#231f20" stroke-width="0.9" />
<text x="422.65" y="582.26" font-size="6.4" text-anchor="middle" fill="#333" stroke="#333" stroke-width="0.08" >***</text>
<text x="425.65" y="611.80" font-size="7.5" text-anchor="end" fill="#231f20" stroke="#231f20" stroke-width="0.08" transform="rotate(-45 425.65 611.80)" >SKI</text>
<line x1="439.90" y1="579.63" x2="439.90" y2="575.87" stroke="#231f20" stroke-width="0.9" />
<line x1="437.10" y1="575.87" x2="442.70" y2="575.87" stroke="#231f20" stroke-width="1.0" />
<rect x="434.20" y="579.63" width="11.40" height="22.86" fill="#65ab45" stroke="none" stroke-width="1" />
<line x1="439.90" y1="602.50" x2="439.90" y2="605.50" stroke="#231f20" stroke-width="0.9" />
<text x="439.90" y="575.27" font-size="6.4" text-anchor="middle" fill="#333" stroke="#333" stroke-width="0.08" >***</text>
<text x="442.90" y="611.80" font-size="7.5" text-anchor="end" fill="#231f20" stroke="#231f20" stroke-width="0.08" transform="rotate(-45 442.90 611.80)" >ERG</text>
<line x1="457.65" y1="586.36" x2="457.65" y2="585.69" stroke="#231f20" stroke-width="0.9" />
<line x1="454.85" y1="585.69" x2="460.45" y2="585.69" stroke="#231f20" stroke-width="1.0" />
<rect x="452.30" y="586.36" width="10.70" height="16.14" fill="#e8951f" stroke="none" stroke-width="1" />
<line x1="457.65" y1="602.50" x2="457.65" y2="605.50" stroke="#231f20" stroke-width="0.9" />
<text x="457.65" y="585.09" font-size="6.4" text-anchor="middle" fill="#333" stroke="#333" stroke-width="0.08" >***</text>
<text x="460.65" y="611.80" font-size="7.5" text-anchor="end" fill="#231f20" stroke="#231f20" stroke-width="0.08" transform="rotate(-45 460.65 611.80)" >ETO2</text>
<line x1="474.90" y1="587.03" x2="474.90" y2="585.82" stroke="#231f20" stroke-width="0.9" />
<line x1="472.10" y1="585.82" x2="477.70" y2="585.82" stroke="#231f20" stroke-width="1.0" />
<rect x="469.20" y="587.03" width="11.40" height="15.47" fill="#b5173c" stroke="none" stroke-width="1" />
<line x1="474.90" y1="602.50" x2="474.90" y2="605.50" stroke="#231f20" stroke-width="0.9" />
<text x="474.90" y="585.22" font-size="6.4" text-anchor="middle" fill="#333" stroke="#333" stroke-width="0.08" >***</text>
<text x="477.90" y="611.80" font-size="7.5" text-anchor="end" fill="#231f20" stroke="#231f20" stroke-width="0.08" transform="rotate(-45 477.90 611.80)" >SPI1</text>
<line x1="492.40" y1="533.23" x2="492.40" y2="530.95" stroke="#231f20" stroke-width="0.9" />
<line x1="489.60" y1="530.95" x2="495.20" y2="530.95" stroke="#231f20" stroke-width="1.0" />
<rect x="487.00" y="533.23" width="10.80" height="69.27" fill="#c6c4ca" stroke="none" stroke-width="1" />
<line x1="492.40" y1="602.50" x2="492.40" y2="605.50" stroke="#231f20" stroke-width="0.9" />
<text x="495.40" y="611.80" font-size="7.5" text-anchor="end" fill="#231f20" stroke="#231f20" stroke-width="0.08" transform="rotate(-45 495.40 611.80)" >Ctrl</text>
<text x="440.70" y="512.80" font-size="10.8" text-anchor="middle" fill="#231f20" stroke="#231f20" stroke-width="0.08" font-style="italic" textLength="21.40" lengthAdjust="spacingAndGlyphs" >Nfe2</text>
<text x="363.20" y="560.30" font-size="9.2" text-anchor="middle" fill="#231f20" stroke="#231f20" stroke-width="0.08" textLength="64.00" lengthAdjust="spacingAndGlyphs" transform="rotate(-90 363.20 560.30)" >Relative expression</text>
<text x="8.50" y="642.50" font-size="12.5" text-anchor="start" fill="#000" font-weight="bold" >K</text>
<text x="66.60" y="645.80" font-size="7.6" text-anchor="middle" fill="#231f20" stroke="#231f20" stroke-width="0.08" textLength="53.00" lengthAdjust="spacingAndGlyphs" >GATA1-inducible</text>
<text x="66.20" y="654.40" font-size="7.6" text-anchor="middle" fill="#231f20" stroke="#231f20" stroke-width="0.08" textLength="19.00" lengthAdjust="spacingAndGlyphs" >vector</text>
<circle cx="31.50" cy="688.30" r="5.30" fill="#d2d2d2" stroke="#b0b0b0" stroke-width="0.5" />
<circle cx="31.50" cy="688.30" r="4.40" fill="#f2f2f2" stroke="none" stroke-width="1" />
<circle cx="31.30" cy="688.50" r="3.60" fill="#a6a6a6" stroke="none" stroke-width="1" />
<circle cx="33.10" cy="675.70" r="5.30" fill="#d2d2d2" stroke="#b0b0b0" stroke-width="0.5" />
<circle cx="33.10" cy="675.70" r="4.40" fill="#f2f2f2" stroke="none" stroke-width="1" />
<circle cx="32.90" cy="675.90" r="3.60" fill="#a6a6a6" stroke="none" stroke-width="1" />
<circle cx="42.70" cy="677.70" r="5.30" fill="#d2d2d2" stroke="#b0b0b0" stroke-width="0.5" />
<circle cx="42.70" cy="677.70" r="4.40" fill="#f2f2f2" stroke="none" stroke-width="1" />
<circle cx="42.50" cy="677.90" r="3.60" fill="#a6a6a6" stroke="none" stroke-width="1" />
<circle cx="23.70" cy="680.90" r="5.30" fill="#d2d2d2" stroke="#b0b0b0" stroke-width="0.5" />
<circle cx="23.70" cy="680.90" r="4.40" fill="#f2f2f2" stroke="none" stroke-width="1" />
<circle cx="23.50" cy="681.10" r="3.60" fill="#a6a6a6" stroke="none" stroke-width="1" />
<circle cx="41.20" cy="687.70" r="5.30" fill="#d2d2d2" stroke="#b0b0b0" stroke-width="0.5" />
<circle cx="41.20" cy="687.70" r="4.40" fill="#f2f2f2" stroke="none" stroke-width="1" />
<circle cx="41.00" cy="687.90" r="3.60" fill="#a6a6a6" stroke="none" stroke-width="1" />
<circle cx="22.60" cy="690.10" r="5.30" fill="#d2d2d2" stroke="#b0b0b0" stroke-width="0.5" />
<circle cx="22.60" cy="690.10" r="4.40" fill="#f2f2f2" stroke="none" stroke-width="1" />
<circle cx="22.40" cy="690.30" r="3.60" fill="#a6a6a6" stroke="none" stroke-width="1" />
<circle cx="33.40" cy="682.10" r="5.30" fill="#d2d2d2" stroke="#b0b0b0" stroke-width="0.5" />
<circle cx="33.40" cy="682.10" r="4.40" fill="#f2f2f2" stroke="none" stroke-width="1" />
<circle cx="33.20" cy="682.30" r="3.60" fill="#a6a6a6" stroke="none" stroke-width="1" />
<circle cx="27.90" cy="693.10" r="5.30" fill="#d2d2d2" stroke="#b0b0b0" stroke-width="0.5" />
<circle cx="27.90" cy="693.10" r="4.40" fill="#f2f2f2" stroke="none" stroke-width="1" />
<circle cx="27.70" cy="693.30" r="3.60" fill="#a6a6a6" stroke="none" stroke-width="1" />
<line x1="53.80" y1="684.50" x2="97.00" y2="684.50" stroke="#231f20" stroke-width="1.3" />
<polygon points="102.50,684.50 96.50,686.90 97.10,684.50 96.50,682.10" fill="#231f20"/>
<line x1="67.50" y1="660.50" x2="83.99" y2="677.24" stroke="#231f20" stroke-width="1.3" />
<polygon points="87.50,680.80 82.07,678.43 84.06,677.31 85.21,675.34" fill="#231f20"/>
<line x1="76.50" y1="701.30" x2="83.92" y2="691.31" stroke="#231f20" stroke-width="1.3" />
<polygon points="86.90,687.30 85.39,693.03 83.98,691.23 81.85,690.40" fill="#231f20"/>
<text x="30.40" y="710.80" font-size="7.6" text-anchor="middle" fill="#231f20" stroke="#231f20" stroke-width="0.08" textLength="26.90" lengthAdjust="spacingAndGlyphs" >G1E cell</text>
<text x="100.00" y="675.80" font-size="7.2" text-anchor="start" fill="#231f20" stroke="#231f20" stroke-width="0.08" textLength="44.80" lengthAdjust="spacingAndGlyphs" >Differentiation</text>
<text x="122.40" y="683.50" font-size="7.2" text-anchor="middle" fill="#231f20" stroke="#231f20" stroke-width="0.08" font-style="italic" textLength="16.00" lengthAdjust="spacingAndGlyphs" >assay</text>
<text x="62.00" y="709.60" font-size="7.2" text-anchor="start" fill="#231f20" stroke="#231f20" stroke-width="0.08" font-style="italic" textLength="37.70" lengthAdjust="spacingAndGlyphs" >Empty (Ctrl)</text>
<text x="62.00" y="718.00" font-size="7.2" text-anchor="start" fill="#231f20" stroke="#231f20" stroke-width="0.08" font-style="italic" textLength="14.60" lengthAdjust="spacingAndGlyphs" >ERG</text>
<text x="62.00" y="726.30" font-size="7.2" text-anchor="start" fill="#231f20" stroke="#231f20" stroke-width="0.08" font-style="italic" textLength="17.90" lengthAdjust="spacingAndGlyphs" >ETO2</text>
<text x="62.00" y="734.60" font-size="7.2" text-anchor="start" fill="#231f20" stroke="#231f20" stroke-width="0.08" font-style="italic" textLength="9.60" lengthAdjust="spacingAndGlyphs" >SKI</text>
<text x="62.00" y="743.00" font-size="7.2" text-anchor="start" fill="#231f20" stroke="#231f20" stroke-width="0.08" font-style="italic" textLength="13.50" lengthAdjust="spacingAndGlyphs" >SPI1</text>
<text x="158.70" y="642.10" font-size="12.5" text-anchor="start" fill="#000" font-weight="bold" >L</text>
<text x="207.70" y="644.20" font-size="7.4" text-anchor="middle" fill="#231f20" stroke="#231f20" stroke-width="0.08" textLength="25.00" lengthAdjust="spacingAndGlyphs" >- GATA1</text>
<text x="296.40" y="644.20" font-size="7.4" text-anchor="middle" fill="#231f20" stroke="#231f20" stroke-width="0.08" textLength="27.50" lengthAdjust="spacingAndGlyphs" >+ GATA1</text>
<path d="M169.0,724.2 L175.0,724.2 L175.0,723.7 L175.5,723.6 L176.0,723.0 L176.5,722.8 L177.0,722.4 L177.5,721.3 L178.0,720.8 L178.5,721.4 L179.0,720.3 L179.5,719.8 L180.0,720.3 L180.5,719.3 L181.0,719.3 L181.5,718.4 L182.0,718.2 L182.5,717.1 L183.0,717.2 L183.5,716.9 L184.0,716.0 L184.5,715.8 L185.0,715.2 L185.5,714.0 L186.0,714.3 L186.5,713.6 L187.0,712.8 L187.5,710.3 L188.0,709.1 L188.5,706.5 L189.0,704.6 L189.5,702.6 L190.0,700.3 L190.5,699.8 L191.0,698.4 L191.5,698.1 L192.0,696.9 L192.5,694.0 L193.0,690.5 L193.5,686.0 L194.0,682.6 L194.5,680.7 L195.0,679.6 L195.5,676.9 L196.0,675.2 L196.5,672.5 L197.0,670.5 L197.5,668.1 L198.0,665.8 L198.5,664.1 L199.0,662.0 L199.5,660.4 L200.0,658.1 L200.5,656.3 L201.0,656.6 L201.5,658.7 L202.0,660.2 L202.5,665.3 L203.0,671.8 L203.5,677.6 L204.0,682.5 L204.5,687.1 L205.0,692.3 L205.5,692.9 L206.0,694.9 L206.5,695.8 L207.0,696.7 L207.5,696.9 L208.0,698.2 L208.5,699.5 L209.0,700.8 L209.5,704.0 L210.0,705.9 L210.5,710.1 L211.0,714.8 L211.5,719.8 L212.0,724.2 L212.0,724.2 L246.2,724.2 Z" fill="rgba(240,168,58,0.8)" stroke="none"/>
<polyline points="169.00,724.20 175.00,724.20 175.00,723.69 175.50,723.62 176.00,722.99 176.50,722.84 177.00,722.44 177.50,721.34 178.00,720.84 178.50,721.40 179.00,720.28 179.50,719.82 180.00,720.31 180.50,719.25 181.00,719.26 181.50,718.40 182.00,718.17 182.50,717.08 183.00,717.16 183.50,716.94 184.00,716.03 184.50,715.79 185.00,715.21 185.50,713.98 186.00,714.31 186.50,713.61 187.00,712.76 187.50,710.27 188.00,709.11 188.50,706.47 189.00,704.60 189.50,702.62 190.00,700.26 190.50,699.76 191.00,698.37 191.50,698.11 192.00,696.93 192.50,694.02 193.00,690.45 193.50,686.02 194.00,682.56 194.50,680.66 195.00,679.56 195.50,676.92 196.00,675.15 196.50,672.51 197.00,670.51 197.50,668.11 198.00,665.82 198.50,664.07 199.00,662.03 199.50,660.37 200.00,658.07 200.50,656.33 201.00,656.58 201.50,658.67 202.00,660.21 202.50,665.26 203.00,671.77 203.50,677.56 204.00,682.49 204.50,687.08 205.00,692.26 205.50,692.90 206.00,694.90 206.50,695.84 207.00,696.74 207.50,696.86 208.00,698.19 208.50,699.53 209.00,700.80 209.50,704.01 210.00,705.89 210.50,710.08 211.00,714.75 211.50,719.82 212.00,724.20 212.00,724.20 246.20,724.20" fill="none" stroke="#e8951f" stroke-width="1.0" />
<line x1="168.90" y1="724.00" x2="168.90" y2="700.70" stroke="#e8951f" stroke-width="0.8" />
<polyline points="169.00,720.10 176.00,720.10 176.00,719.45 176.50,719.89 177.00,718.95 177.50,719.51 178.00,718.80 178.50,719.21 179.00,719.08 179.50,718.26 180.00,718.60 180.50,717.52 181.00,716.99 181.50,717.37 182.00,716.44 182.50,716.22 183.00,716.06 183.50,715.88 184.00,714.92 184.50,714.37 185.00,714.94 185.50,713.86 186.00,714.22 186.50,713.73 187.00,712.69 187.50,712.37 188.00,712.02 188.50,709.97 189.00,707.71 189.50,705.47 190.00,703.34 190.50,701.53 191.00,698.81 191.50,696.52 192.00,694.66 192.50,691.89 193.00,689.76 193.50,687.82 194.00,684.53 194.50,681.81 195.00,678.41 195.50,676.15 196.00,673.60 196.50,670.17 197.00,668.14 197.50,666.04 198.00,663.23 198.50,661.79 199.00,659.47 199.50,657.61 200.00,655.09 200.50,653.40 201.00,654.54 201.50,656.93 202.00,660.22 202.50,664.21 203.00,669.76 203.50,674.10 204.00,679.55 204.50,684.91 205.00,689.78 205.50,692.34 206.00,694.78 206.50,697.34 207.00,700.11 207.50,701.09 208.00,702.52 208.50,704.33 209.00,705.83 209.50,708.88 210.00,711.48 210.50,713.37 211.00,715.67 211.50,717.48 212.00,717.91 212.50,718.96 212.80,720.10 246.20,720.10" fill="none" stroke="#5aa83e" stroke-width="0.8" />
<polyline points="169.00,727.10 184.00,727.10 184.00,726.92 184.50,726.61 185.00,725.27 185.50,724.91 186.00,724.30 186.50,724.28 187.00,723.18 187.50,723.05 188.00,721.60 188.50,720.97 189.00,720.51 189.50,719.96 190.00,718.61 190.50,717.50 191.00,716.55 191.50,715.79 192.00,714.13 192.50,713.62 193.00,712.41 193.50,707.12 194.00,702.73 194.50,698.87 195.00,694.17 195.50,689.87 196.00,684.81 196.50,681.16 197.00,677.95 197.50,675.15 198.00,671.13 198.50,667.82 199.00,665.90 199.50,663.90 200.00,661.89 200.50,660.50 201.00,661.59 201.50,663.41 202.00,666.53 202.50,668.46 203.00,674.98 203.50,680.72 204.00,687.74 204.50,694.11 205.00,699.67 205.50,705.13 206.00,710.07 206.50,714.70 207.00,716.02 207.50,717.25 208.00,718.81 208.50,720.17 209.00,721.48 209.50,723.36 210.00,724.24 210.50,726.12 211.00,726.45 211.00,727.10 246.20,727.10" fill="none" stroke="#2b4c8c" stroke-width="0.8" />
<polyline points="169.00,730.60 182.00,730.60 182.00,730.60 182.50,730.38 183.00,730.21 183.50,729.73 184.00,729.28 184.50,728.44 185.00,727.32 185.50,727.74 186.00,726.61 186.50,726.38 187.00,726.45 187.50,725.90 188.00,725.40 188.50,725.65 189.00,724.88 189.50,724.18 190.00,723.70 190.50,722.43 191.00,719.97 191.50,718.34 192.00,715.82 192.50,713.64 193.00,712.04 193.50,708.71 194.00,704.27 194.50,701.35 195.00,697.84 195.50,694.03 196.00,690.39 196.50,686.08 197.00,683.49 197.50,680.44 198.00,676.13 198.50,673.06 199.00,669.72 199.50,668.03 200.00,665.91 200.50,663.97 201.00,662.33 201.50,663.90 202.00,666.47 202.50,669.05 203.00,671.55 203.50,676.98 204.00,683.57 204.50,688.93 205.00,693.50 205.50,699.50 206.00,704.78 206.50,707.28 207.00,709.82 207.50,712.68 208.00,715.10 208.50,717.33 209.00,719.63 209.50,721.56 210.00,723.08 210.50,725.37 211.00,727.33 211.50,728.69 212.00,730.10 212.00,730.60 246.20,730.60" fill="none" stroke="#b5173c" stroke-width="0.8" />
<path d="M169.0,733.9 L182.2,733.9 L182.2,733.5 L182.7,733.4 L183.2,733.3 L183.7,733.1 L184.2,732.2 L184.7,732.4 L185.2,731.8 L185.7,731.1 L186.2,730.5 L186.7,729.9 L187.2,729.4 L187.7,728.4 L188.2,727.9 L188.7,726.9 L189.2,725.9 L189.7,725.5 L190.2,724.2 L190.7,721.0 L191.2,718.9 L191.7,716.4 L192.2,714.5 L192.7,712.0 L193.2,708.5 L193.7,705.8 L194.2,702.3 L194.7,698.4 L195.2,695.3 L195.7,691.5 L196.2,689.0 L196.7,685.4 L197.2,682.3 L197.7,678.8 L198.2,675.2 L198.7,672.6 L199.2,670.8 L199.7,668.6 L200.2,669.2 L200.7,669.6 L201.2,670.9 L201.7,674.1 L202.2,677.6 L202.7,682.1 L203.2,686.5 L203.7,691.8 L204.2,695.0 L204.7,698.3 L205.2,702.8 L205.7,705.4 L206.2,709.8 L206.7,713.1 L207.2,716.4 L207.7,718.9 L208.2,720.9 L208.7,723.5 L209.2,725.0 L209.7,728.1 L210.2,729.9 L210.7,732.1 L211.2,733.4 L211.2,733.9 L246.2,733.9 Z" fill="#8b8d9b" stroke="none"/>
<polyline points="169.00,733.90 182.20,733.90 182.20,733.51 182.70,733.37 183.20,733.26 183.70,733.09 184.20,732.23 184.70,732.35 185.20,731.76 185.70,731.15 186.20,730.55 186.70,729.95 187.20,729.44 187.70,728.35 188.20,727.93 188.70,726.90 189.20,725.89 189.70,725.49 190.20,724.23 190.70,720.99 191.20,718.91 191.70,716.41 192.20,714.46 192.70,712.02 193.20,708.52 193.70,705.81 194.20,702.35 194.70,698.38 195.20,695.29 195.70,691.55 196.20,689.02 196.70,685.43 197.20,682.30 197.70,678.79 198.20,675.24 198.70,672.62 199.20,670.78 199.70,668.58 200.20,669.18 200.70,669.61 201.20,670.90 201.70,674.09 202.20,677.61 202.70,682.07 203.20,686.48 203.70,691.82 204.20,695.01 204.70,698.33 205.20,702.81 205.70,705.45 206.20,709.81 206.70,713.11 207.20,716.36 207.70,718.90 208.20,720.85 208.70,723.52 209.20,725.00 209.70,728.13 210.20,729.85 210.70,732.13 211.20,733.43 211.20,733.90 246.20,733.90" fill="none" stroke="#4a4d5c" stroke-width="0.6" />
<polyline points="257.50,720.10 262.00,720.10 262.00,720.10 262.50,720.10 263.00,719.35 263.50,719.60 264.00,719.83 264.50,720.08 265.00,719.32 265.50,719.18 266.00,719.20 266.50,719.58 267.00,719.68 267.50,719.18 268.00,719.09 268.50,719.06 269.00,718.95 269.50,718.96 270.00,718.50 270.50,718.90 271.00,719.37 271.50,718.60 272.00,718.90 272.50,718.09 273.00,718.63 273.50,718.61 274.00,718.41 274.50,718.12 275.00,717.98 275.50,717.42 276.00,716.98 276.50,715.33 277.00,714.52 277.50,714.55 278.00,714.00 278.50,712.77 279.00,711.93 279.50,710.82 280.00,708.74 280.50,707.40 281.00,705.88 281.50,704.90 282.00,702.82 282.50,700.96 283.00,699.75 283.50,698.30 284.00,695.76 284.50,690.25 285.00,683.90 285.50,678.42 286.00,672.10 286.50,667.43 287.00,663.07 287.50,658.54 288.00,654.79 288.50,655.47 289.00,659.41 289.50,663.83 290.00,672.45 290.50,681.66 291.00,689.57 291.50,694.82 292.00,698.44 292.50,702.81 293.00,706.88 293.50,711.56 294.00,714.67 294.50,717.21 295.00,719.98 295.00,720.10 334.20,720.10" fill="none" stroke="#5aa83e" stroke-width="0.8" />
<polyline points="257.50,724.20 262.00,724.20 262.00,724.20 262.50,724.20 263.00,723.68 263.50,723.98 264.00,724.15 264.50,723.46 265.00,723.08 265.50,722.98 266.00,723.46 266.50,723.31 267.00,723.55 267.50,723.32 268.00,722.49 268.50,722.33 269.00,722.31 269.50,722.12 270.00,722.65 270.50,722.73 271.00,722.68 271.50,721.81 272.00,722.44 272.50,721.44 273.00,721.24 273.50,721.27 274.00,720.17 274.50,719.84 275.00,720.40 275.50,719.42 276.00,719.16 276.50,719.10 277.00,718.88 277.50,717.74 278.00,717.80 278.50,716.92 279.00,715.98 279.50,714.65 280.00,714.10 280.50,713.55 281.00,711.87 281.50,711.05 282.00,709.54 282.50,706.40 283.00,703.53 283.50,699.54 284.00,697.13 284.50,693.82 285.00,689.52 285.50,685.53 286.00,679.85 286.50,675.33 287.00,670.31 287.50,664.75 288.00,662.84 288.50,660.43 289.00,658.24 289.50,655.22 290.00,659.97 290.50,664.39 291.00,668.21 291.50,676.04 292.00,683.54 292.50,691.99 293.00,699.82 293.50,706.26 294.00,712.21 294.50,718.08 295.00,723.62 295.00,724.20 334.20,724.20" fill="none" stroke="#e8951f" stroke-width="0.8" />
<polyline points="257.50,727.40 262.00,727.40 262.00,727.17 262.50,727.09 263.00,726.49 263.50,727.28 264.00,726.94 264.50,726.24 265.00,727.14 265.50,726.13 266.00,726.30 266.50,726.70 267.00,726.49 267.50,726.38 268.00,726.43 268.50,726.14 269.00,725.90 269.50,725.67 270.00,725.48 270.50,726.09 271.00,725.97 271.50,725.55 272.00,725.62 272.50,725.00 273.00,724.72 273.50,724.69 274.00,725.11 274.50,723.95 275.00,724.34 275.50,723.86 276.00,724.32 276.50,722.82 277.00,721.80 277.50,720.88 278.00,720.05 278.50,719.33 279.00,717.82 279.50,717.42 280.00,715.53 280.50,713.35 281.00,710.77 281.50,708.41 282.00,706.83 282.50,704.40 283.00,701.37 283.50,699.00 284.00,696.90 284.50,693.63 285.00,690.05 285.50,686.30 286.00,682.44 286.50,678.24 287.00,674.88 287.50,672.63 288.00,671.03 288.50,669.08 289.00,666.64 289.50,664.70 290.00,663.72 290.50,661.20 291.00,660.51 291.50,663.55 292.00,669.58 292.50,674.86 293.00,683.40 293.50,691.77 294.00,700.16 294.50,709.71 295.00,718.49 295.50,727.16 295.50,727.40 334.20,727.40" fill="none" stroke="#2b4c8c" stroke-width="0.8" />
<path d="M257.5,730.5 L262.0,730.5 L262.0,730.5 L262.5,730.5 L263.0,730.5 L263.5,730.5 L264.0,729.8 L264.5,730.5 L265.0,730.5 L265.5,730.3 L266.0,730.3 L266.5,730.2 L267.0,729.9 L267.5,730.3 L268.0,729.6 L268.5,730.2 L269.0,730.3 L269.5,730.1 L270.0,730.2 L270.5,730.5 L271.0,730.5 L271.5,729.6 L272.0,730.4 L272.5,730.0 L273.0,729.2 L273.5,729.5 L274.0,729.2 L274.5,728.9 L275.0,729.4 L275.5,729.8 L276.0,728.9 L276.5,729.5 L277.0,728.4 L277.5,726.7 L278.0,726.5 L278.5,725.2 L279.0,724.6 L279.5,723.3 L280.0,722.3 L280.5,719.7 L281.0,718.1 L281.5,716.1 L282.0,713.9 L282.5,711.3 L283.0,709.6 L283.5,707.1 L284.0,704.5 L284.5,700.8 L285.0,697.2 L285.5,693.6 L286.0,689.9 L286.5,686.7 L287.0,683.2 L287.5,679.8 L288.0,676.4 L288.5,673.4 L289.0,669.8 L289.5,668.4 L290.0,667.2 L290.5,667.5 L291.0,671.4 L291.5,676.4 L292.0,680.3 L292.5,686.5 L293.0,693.2 L293.5,700.0 L294.0,709.1 L294.5,717.6 L295.0,726.3 L295.2,730.5 L334.2,730.5 Z" fill="rgba(200,95,85,0.78)" stroke="none"/>
<polyline points="257.50,730.50 262.00,730.50 262.00,730.50 262.50,730.46 263.00,730.50 263.50,730.50 264.00,729.80 264.50,730.50 265.00,730.50 265.50,730.32 266.00,730.33 266.50,730.23 267.00,729.88 267.50,730.26 268.00,729.64 268.50,730.18 269.00,730.33 269.50,730.06 270.00,730.18 270.50,730.50 271.00,730.50 271.50,729.59 272.00,730.35 272.50,730.04 273.00,729.24 273.50,729.51 274.00,729.25 274.50,728.95 275.00,729.39 275.50,729.75 276.00,728.92 276.50,729.47 277.00,728.41 277.50,726.71 278.00,726.55 278.50,725.21 279.00,724.57 279.50,723.29 280.00,722.29 280.50,719.69 281.00,718.12 281.50,716.14 282.00,713.93 282.50,711.30 283.00,709.56 283.50,707.11 284.00,704.53 284.50,700.78 285.00,697.16 285.50,693.64 286.00,689.93 286.50,686.66 287.00,683.24 287.50,679.79 288.00,676.41 288.50,673.43 289.00,669.77 289.50,668.42 290.00,667.23 290.50,667.53 291.00,671.38 291.50,676.36 292.00,680.26 292.50,686.51 293.00,693.18 293.50,700.04 294.00,709.09 294.50,717.61 295.00,726.32 295.20,730.50 334.20,730.50" fill="none" stroke="#c0183a" stroke-width="0.9" />
<path d="M257.5,733.9 L292.0,733.9 L292.0,733.6 L292.5,731.3 L293.0,727.5 L293.5,724.9 L294.0,721.6 L294.5,714.3 L295.0,706.9 L295.5,699.9 L296.0,693.4 L296.5,687.0 L297.0,682.8 L297.5,681.6 L298.0,680.7 L298.5,677.9 L299.0,673.8 L299.5,670.7 L300.0,667.5 L300.5,671.0 L301.0,673.5 L301.5,677.4 L302.0,680.9 L302.5,682.4 L303.0,685.6 L303.5,686.7 L304.0,690.3 L304.5,694.5 L305.0,697.8 L305.5,702.1 L306.0,705.4 L306.5,708.7 L307.0,712.3 L307.5,716.7 L308.0,719.7 L308.5,722.4 L309.0,724.0 L309.5,726.7 L310.0,727.9 L310.5,729.9 L311.0,732.0 L311.4,733.9 L334.2,733.9 Z" fill="#8b8d9b" stroke="none"/>
<polyline points="257.50,733.90 292.00,733.90 292.00,733.55 292.50,731.26 293.00,727.52 293.50,724.93 294.00,721.63 294.50,714.32 295.00,706.94 295.50,699.88 296.00,693.37 296.50,686.97 297.00,682.83 297.50,681.63 298.00,680.75 298.50,677.87 299.00,673.83 299.50,670.68 300.00,667.49 300.50,671.04 301.00,673.46 301.50,677.38 302.00,680.88 302.50,682.43 303.00,685.56 303.50,686.66 304.00,690.26 304.50,694.47 305.00,697.85 305.50,702.15 306.00,705.42 306.50,708.75 307.00,712.26 307.50,716.67 308.00,719.73 308.50,722.39 309.00,724.05 309.50,726.65 310.00,727.94 310.50,729.92 311.00,731.98 311.40,733.90 334.20,733.90" fill="none" stroke="#4a4d5c" stroke-width="0.6" />
<rect x="168.40" y="648.60" width="78.40" height="85.30" fill="none" stroke="#231f20" stroke-width="1.2" />
<path d="M173.4,733.9 v2.4 M178.9,733.9 v1.5 M182.1,733.9 v1.5 M184.4,733.9 v1.5 M186.2,733.9 v1.5 M187.6,733.9 v1.5 M188.9,733.9 v1.5 M189.9,733.9 v1.5 M190.9,733.9 v1.5 M191.7,733.9 v2.4 M197.2,733.9 v1.5 M200.4,733.9 v1.5 M202.7,733.9 v1.5 M204.5,733.9 v1.5 M205.9,733.9 v1.5 M207.2,733.9 v1.5 M208.2,733.9 v1.5 M209.2,733.9 v1.5 M210.0,733.9 v2.4 M215.5,733.9 v1.5 M218.7,733.9 v1.5 M221.0,733.9 v1.5 M222.8,733.9 v1.5 M224.2,733.9 v1.5 M225.5,733.9 v1.5 M226.5,733.9 v1.5 M227.5,733.9 v1.5 M228.3,733.9 v2.4 M233.8,733.9 v1.5 M237.0,733.9 v1.5 M239.3,733.9 v1.5 M241.1,733.9 v1.5 M242.5,733.9 v1.5 M243.8,733.9 v1.5 M244.8,733.9 v1.5 M245.8,733.9 v1.5 M169.9,733.9 v1.2 M171.1,733.9 v1.2 M172.3,733.9 v1.2 M173.5,733.9 v1.2 M174.7,733.9 v1.2 M175.9,733.9 v1.2 M177.1,733.9 v1.2 M178.3,733.9 v1.2 " stroke="#111" stroke-width="0.6" fill="none"/>
<rect x="256.90" y="648.60" width="77.90" height="85.30" fill="none" stroke="#231f20" stroke-width="1.2" />
<path d="M261.9,733.9 v2.4 M267.4,733.9 v1.5 M270.6,733.9 v1.5 M272.9,733.9 v1.5 M274.7,733.9 v1.5 M276.1,733.9 v1.5 M277.4,733.9 v1.5 M278.4,733.9 v1.5 M279.4,733.9 v1.5 M280.2,733.9 v2.4 M285.7,733.9 v1.5 M288.9,733.9 v1.5 M291.2,733.9 v1.5 M293.0,733.9 v1.5 M294.4,733.9 v1.5 M295.7,733.9 v1.5 M296.7,733.9 v1.5 M297.7,733.9 v1.5 M298.5,733.9 v2.4 M304.0,733.9 v1.5 M307.2,733.9 v1.5 M309.5,733.9 v1.5 M311.3,733.9 v1.5 M312.7,733.9 v1.5 M314.0,733.9 v1.5 M315.0,733.9 v1.5 M316.0,733.9 v1.5 M316.8,733.9 v2.4 M322.3,733.9 v1.5 M325.5,733.9 v1.5 M327.8,733.9 v1.5 M329.6,733.9 v1.5 M331.0,733.9 v1.5 M332.3,733.9 v1.5 M333.3,733.9 v1.5 M258.4,733.9 v1.2 M259.6,733.9 v1.2 M260.8,733.9 v1.2 M262.0,733.9 v1.2 M263.2,733.9 v1.2 M264.4,733.9 v1.2 M265.6,733.9 v1.2 M266.8,733.9 v1.2 " stroke="#111" stroke-width="0.6" fill="none"/>
<text x="177.00" y="748.60" font-size="7.2" text-anchor="middle" fill="#231f20" stroke="#231f20" stroke-width="0.08" >0</text>
<text x="185.90" y="748.60" font-size="7.2" text-anchor="middle" fill="#231f20" stroke="#231f20" stroke-width="0.08" >10<tspan dy="-3" font-size="5.4">2</tspan></text>
<text x="204.20" y="748.60" font-size="7.2" text-anchor="middle" fill="#231f20" stroke="#231f20" stroke-width="0.08" >10<tspan dy="-3" font-size="5.4">3</tspan></text>
<text x="222.50" y="748.60" font-size="7.2" text-anchor="middle" fill="#231f20" stroke="#231f20" stroke-width="0.08" >10<tspan dy="-3" font-size="5.4">4</tspan></text>
<text x="239.80" y="748.60" font-size="7.2" text-anchor="middle" fill="#231f20" stroke="#231f20" stroke-width="0.08" >10<tspan dy="-3" font-size="5.4">5</tspan></text>
<text x="264.60" y="748.60" font-size="7.2" text-anchor="middle" fill="#231f20" stroke="#231f20" stroke-width="0.08" >0</text>
<text x="273.50" y="748.60" font-size="7.2" text-anchor="middle" fill="#231f20" stroke="#231f20" stroke-width="0.08" >10<tspan dy="-3" font-size="5.4">2</tspan></text>
<text x="291.80" y="748.60" font-size="7.2" text-anchor="middle" fill="#231f20" stroke="#231f20" stroke-width="0.08" >10<tspan dy="-3" font-size="5.4">3</tspan></text>
<text x="310.10" y="748.60" font-size="7.2" text-anchor="middle" fill="#231f20" stroke="#231f20" stroke-width="0.08" >10<tspan dy="-3" font-size="5.4">4</tspan></text>
<text x="327.40" y="748.60" font-size="7.2" text-anchor="middle" fill="#231f20" stroke="#231f20" stroke-width="0.08" >10<tspan dy="-3" font-size="5.4">5</tspan></text>
<line x1="169.20" y1="756.50" x2="283.90" y2="756.50" stroke="#231f20" stroke-width="1.0" />
<polygon points="289.20,756.50 283.40,758.60 284.00,756.50 283.40,754.40" fill="#231f20"/>
<text x="294.40" y="759.40" font-size="9" text-anchor="start" fill="#231f20" stroke="#231f20" stroke-width="0.08" textLength="22.50" lengthAdjust="spacingAndGlyphs" >Ter119</text>
<line x1="214.50" y1="653.10" x2="224.20" y2="653.10" stroke="#c8c8c8" stroke-width="1.0" />
<text x="227.40" y="655.20" font-size="6.2" text-anchor="start" fill="#333" stroke="#333" stroke-width="0.08" font-style="italic" >Ctrl</text>
<line x1="214.50" y1="661.60" x2="224.20" y2="661.60" stroke="#5aa83e" stroke-width="1.0" />
<text x="227.40" y="663.70" font-size="6.2" text-anchor="start" fill="#333" stroke="#333" stroke-width="0.08" font-style="italic" >ERG</text>
<line x1="214.50" y1="670.10" x2="224.20" y2="670.10" stroke="#e8951f" stroke-width="1.0" />
<text x="227.40" y="672.20" font-size="6.2" text-anchor="start" fill="#333" stroke="#333" stroke-width="0.08" font-style="italic" >ETO2</text>
<line x1="214.50" y1="678.60" x2="224.20" y2="678.60" stroke="#2b4c8c" stroke-width="1.0" />
<text x="227.40" y="680.70" font-size="6.2" text-anchor="start" fill="#333" stroke="#333" stroke-width="0.08" font-style="italic" >SKI</text>
<line x1="214.50" y1="687.10" x2="224.20" y2="687.10" stroke="#b5173c" stroke-width="1.0" />
<text x="227.40" y="689.20" font-size="6.2" text-anchor="start" fill="#333" stroke="#333" stroke-width="0.08" font-style="italic" >SPI1</text>
<text x="345.30" y="642.10" font-size="12.5" text-anchor="start" fill="#000" font-weight="bold" >M</text>
<line x1="390.00" y1="650.00" x2="390.00" y2="735.10" stroke="#231f20" stroke-width="1.2" />
<line x1="389.40" y1="734.50" x2="511.30" y2="734.50" stroke="#231f20" stroke-width="1.2" />
<line x1="386.80" y1="734.50" x2="390.00" y2="734.50" stroke="#231f20" stroke-width="0.9" />
<text x="384.80" y="737.10" font-size="7.4" text-anchor="end" fill="#231f20" stroke="#231f20" stroke-width="0.08" >0</text>
<line x1="386.80" y1="713.90" x2="390.00" y2="713.90" stroke="#231f20" stroke-width="0.9" />
<text x="384.80" y="716.50" font-size="7.4" text-anchor="end" fill="#231f20" stroke="#231f20" stroke-width="0.08" >20</text>
<line x1="386.80" y1="693.30" x2="390.00" y2="693.30" stroke="#231f20" stroke-width="0.9" />
<text x="384.80" y="695.90" font-size="7.4" text-anchor="end" fill="#231f20" stroke="#231f20" stroke-width="0.08" >40</text>
<line x1="386.80" y1="672.70" x2="390.00" y2="672.70" stroke="#231f20" stroke-width="0.9" />
<text x="384.80" y="675.30" font-size="7.4" text-anchor="end" fill="#231f20" stroke="#231f20" stroke-width="0.08" >60</text>
<line x1="386.80" y1="652.10" x2="390.00" y2="652.10" stroke="#231f20" stroke-width="0.9" />
<text x="384.80" y="654.70" font-size="7.4" text-anchor="end" fill="#231f20" stroke="#231f20" stroke-width="0.08" >80</text>
<rect x="394.30" y="733.26" width="5.80" height="1.24" fill="#2b4c8c" stroke="none" stroke-width="1" />
<line x1="405.80" y1="663.43" x2="405.80" y2="660.86" stroke="#231f20" stroke-width="0.8" />
<line x1="404.10" y1="660.86" x2="407.50" y2="660.86" stroke="#231f20" stroke-width="0.8" />
<rect x="402.90" y="663.43" width="5.80" height="71.07" fill="#b5173c" stroke="none" stroke-width="1" />
<line x1="401.50" y1="734.50" x2="401.50" y2="737.30" stroke="#231f20" stroke-width="0.9" />
<text x="401.50" y="747.60" font-size="7.4" text-anchor="middle" fill="#231f20" stroke="#231f20" stroke-width="0.08" textLength="11.50" lengthAdjust="spacingAndGlyphs" >Ctrl</text>
<rect x="417.40" y="733.99" width="5.80" height="0.52" fill="#2b4c8c" stroke="none" stroke-width="1" />
<line x1="428.90" y1="725.95" x2="428.90" y2="725.33" stroke="#231f20" stroke-width="0.8" />
<line x1="427.20" y1="725.33" x2="430.60" y2="725.33" stroke="#231f20" stroke-width="0.8" />
<rect x="426.00" y="725.95" width="5.80" height="8.55" fill="#b5173c" stroke="none" stroke-width="1" />
<line x1="424.60" y1="734.50" x2="424.60" y2="737.30" stroke="#231f20" stroke-width="0.9" />
<text x="428.90" y="724.00" font-size="6.4" text-anchor="middle" fill="#333" stroke="#333" stroke-width="0.08" >***</text>
<text x="424.60" y="747.60" font-size="7.4" text-anchor="middle" fill="#231f20" stroke="#231f20" stroke-width="0.08" textLength="13.40" lengthAdjust="spacingAndGlyphs" >ERG</text>
<rect x="440.50" y="733.68" width="5.80" height="0.82" fill="#2b4c8c" stroke="none" stroke-width="1" />
<line x1="452.00" y1="726.77" x2="452.00" y2="725.23" stroke="#231f20" stroke-width="0.8" />
<line x1="450.30" y1="725.23" x2="453.70" y2="725.23" stroke="#231f20" stroke-width="0.8" />
<rect x="449.10" y="726.77" width="5.80" height="7.73" fill="#b5173c" stroke="none" stroke-width="1" />
<line x1="447.70" y1="734.50" x2="447.70" y2="737.30" stroke="#231f20" stroke-width="0.9" />
<text x="452.00" y="724.00" font-size="6.4" text-anchor="middle" fill="#333" stroke="#333" stroke-width="0.08" >***</text>
<text x="447.70" y="747.60" font-size="7.4" text-anchor="middle" fill="#231f20" stroke="#231f20" stroke-width="0.08" textLength="18.40" lengthAdjust="spacingAndGlyphs" >ETO2</text>
<rect x="463.50" y="734.19" width="5.80" height="0.31" fill="#2b4c8c" stroke="none" stroke-width="1" />
<line x1="475.00" y1="727.29" x2="475.00" y2="726.77" stroke="#231f20" stroke-width="0.8" />
<line x1="473.30" y1="726.77" x2="476.70" y2="726.77" stroke="#231f20" stroke-width="0.8" />
<rect x="472.10" y="727.29" width="5.80" height="7.21" fill="#b5173c" stroke="none" stroke-width="1" />
<line x1="470.70" y1="734.50" x2="470.70" y2="737.30" stroke="#231f20" stroke-width="0.9" />
<text x="475.00" y="724.00" font-size="6.4" text-anchor="middle" fill="#333" stroke="#333" stroke-width="0.08" >***</text>
<text x="470.70" y="747.60" font-size="7.4" text-anchor="middle" fill="#231f20" stroke="#231f20" stroke-width="0.08" textLength="10.10" lengthAdjust="spacingAndGlyphs" >SKI</text>
<rect x="486.60" y="733.57" width="5.80" height="0.93" fill="#2b4c8c" stroke="none" stroke-width="1" />
<line x1="498.10" y1="725.02" x2="498.10" y2="723.17" stroke="#231f20" stroke-width="0.8" />
<line x1="496.40" y1="723.17" x2="499.80" y2="723.17" stroke="#231f20" stroke-width="0.8" />
<rect x="495.20" y="725.02" width="5.80" height="9.48" fill="#b5173c" stroke="none" stroke-width="1" />
<line x1="493.80" y1="734.50" x2="493.80" y2="737.30" stroke="#231f20" stroke-width="0.9" />
<text x="498.10" y="724.00" font-size="6.4" text-anchor="middle" fill="#333" stroke="#333" stroke-width="0.08" >***</text>
<text x="493.80" y="747.60" font-size="7.4" text-anchor="middle" fill="#231f20" stroke="#231f20" stroke-width="0.08" textLength="13.90" lengthAdjust="spacingAndGlyphs" >SPI1</text>
<rect x="459.40" y="653.50" width="5.90" height="4.30" fill="#2b4c8c" stroke="none" stroke-width="1" />
<text x="468.70" y="658.20" font-size="6.3" text-anchor="start" fill="#231f20" stroke="#231f20" stroke-width="0.08" >- GATA1</text>
<rect x="459.40" y="662.90" width="5.90" height="4.50" fill="#b5173c" stroke="none" stroke-width="1" />
<text x="468.70" y="667.60" font-size="6.3" text-anchor="start" fill="#231f20" stroke="#231f20" stroke-width="0.08" >+ GATA1</text>
<text x="369.60" y="691.50" font-size="9" text-anchor="middle" fill="#231f20" stroke="#231f20" stroke-width="0.08" textLength="59.60" lengthAdjust="spacingAndGlyphs" transform="rotate(-90 369.60 691.50)" >% of Ter119<tspan dy="-2.8" font-size="5.5">+</tspan><tspan dy="2.8"> cells</tspan></text>
<rect x="0.6" y="0.6" width="518.8" height="764.8" fill="none" stroke="#000" stroke-width="1.3"/>
</svg></body></html>
